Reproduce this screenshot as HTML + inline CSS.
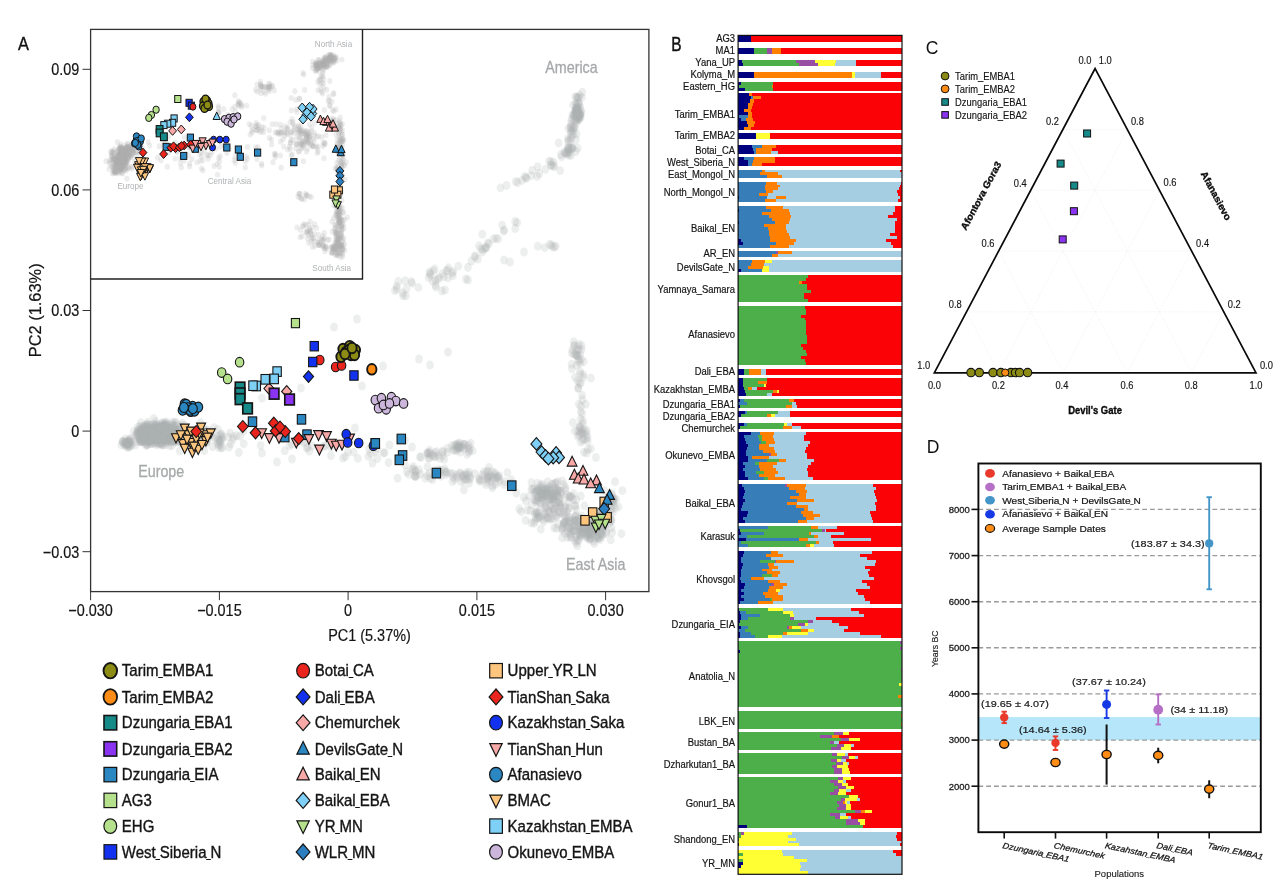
<!DOCTYPE html>
<html lang="en"><head><meta charset="utf-8"><title>Figure</title>
<style>
html,body{margin:0;padding:0;background:#fff;}
body{width:1284px;height:883px;overflow:hidden;font-family:"Liberation Sans",sans-serif;}
svg{display:block;font-family:"Liberation Sans",sans-serif;}
</style></head><body>
<svg width="1284" height="883" viewBox="0 0 1284 883">
<defs>
<filter id="soft" x="-5%" y="-5%" width="110%" height="110%"><feGaussianBlur stdDeviation="0.7"/></filter>
<filter id="soft2" x="-5%" y="-5%" width="110%" height="110%"><feGaussianBlur stdDeviation="0.5"/></filter>
</defs>
<rect width="1284" height="883" fill="#ffffff"/>
<g id="panelA">
<g fill="#abaeaf" fill-opacity="0.215" filter="url(#soft)">
<ellipse cx="154.8" cy="435.7" rx="3.9" ry="4.45"/>
<ellipse cx="155.1" cy="432.1" rx="3.9" ry="4.45"/>
<ellipse cx="149.1" cy="432.6" rx="3.9" ry="4.45"/>
<ellipse cx="166.5" cy="435.3" rx="3.9" ry="4.45"/>
<ellipse cx="165.8" cy="434.6" rx="3.9" ry="4.45"/>
<ellipse cx="160.4" cy="434.3" rx="3.9" ry="4.45"/>
<ellipse cx="142.8" cy="437.2" rx="3.9" ry="4.45"/>
<ellipse cx="161.3" cy="435.6" rx="3.9" ry="4.45"/>
<ellipse cx="142.6" cy="426.0" rx="3.9" ry="4.45"/>
<ellipse cx="149.4" cy="431.5" rx="3.9" ry="4.45"/>
<ellipse cx="159.6" cy="433.3" rx="3.9" ry="4.45"/>
<ellipse cx="161.4" cy="430.7" rx="3.9" ry="4.45"/>
<ellipse cx="159.6" cy="435.2" rx="3.9" ry="4.45"/>
<ellipse cx="151.4" cy="440.9" rx="3.9" ry="4.45"/>
<ellipse cx="161.7" cy="438.6" rx="3.9" ry="4.45"/>
<ellipse cx="151.7" cy="430.3" rx="3.9" ry="4.45"/>
<ellipse cx="154.1" cy="433.0" rx="3.9" ry="4.45"/>
<ellipse cx="162.4" cy="434.6" rx="3.9" ry="4.45"/>
<ellipse cx="153.2" cy="429.4" rx="3.9" ry="4.45"/>
<ellipse cx="152.6" cy="438.7" rx="3.9" ry="4.45"/>
<ellipse cx="150.1" cy="434.6" rx="3.9" ry="4.45"/>
<ellipse cx="160.6" cy="427.1" rx="3.9" ry="4.45"/>
<ellipse cx="157.4" cy="439.1" rx="3.9" ry="4.45"/>
<ellipse cx="139.9" cy="432.1" rx="3.9" ry="4.45"/>
<ellipse cx="156.1" cy="430.0" rx="3.9" ry="4.45"/>
<ellipse cx="161.2" cy="433.2" rx="3.9" ry="4.45"/>
<ellipse cx="144.6" cy="437.1" rx="3.9" ry="4.45"/>
<ellipse cx="162.7" cy="437.6" rx="3.9" ry="4.45"/>
<ellipse cx="169.2" cy="435.1" rx="3.9" ry="4.45"/>
<ellipse cx="158.0" cy="427.9" rx="3.9" ry="4.45"/>
<ellipse cx="162.2" cy="430.9" rx="3.9" ry="4.45"/>
<ellipse cx="153.2" cy="428.1" rx="3.9" ry="4.45"/>
<ellipse cx="148.8" cy="431.2" rx="3.9" ry="4.45"/>
<ellipse cx="168.0" cy="424.8" rx="3.9" ry="4.45"/>
<ellipse cx="144.6" cy="434.5" rx="3.9" ry="4.45"/>
<ellipse cx="169.3" cy="436.0" rx="3.9" ry="4.45"/>
<ellipse cx="140.9" cy="422.7" rx="3.9" ry="4.45"/>
<ellipse cx="160.0" cy="430.3" rx="3.9" ry="4.45"/>
<ellipse cx="147.5" cy="437.7" rx="3.9" ry="4.45"/>
<ellipse cx="166.4" cy="434.2" rx="3.9" ry="4.45"/>
<ellipse cx="159.1" cy="435.4" rx="3.9" ry="4.45"/>
<ellipse cx="170.5" cy="436.2" rx="3.9" ry="4.45"/>
<ellipse cx="161.4" cy="435.9" rx="3.9" ry="4.45"/>
<ellipse cx="143.7" cy="439.0" rx="3.9" ry="4.45"/>
<ellipse cx="165.1" cy="435.8" rx="3.9" ry="4.45"/>
<ellipse cx="140.2" cy="430.8" rx="3.9" ry="4.45"/>
<ellipse cx="164.2" cy="425.7" rx="3.9" ry="4.45"/>
<ellipse cx="155.4" cy="437.9" rx="3.9" ry="4.45"/>
<ellipse cx="145.9" cy="440.4" rx="3.9" ry="4.45"/>
<ellipse cx="161.7" cy="432.9" rx="3.9" ry="4.45"/>
<ellipse cx="159.8" cy="436.3" rx="3.9" ry="4.45"/>
<ellipse cx="158.0" cy="438.4" rx="3.9" ry="4.45"/>
<ellipse cx="151.4" cy="431.7" rx="3.9" ry="4.45"/>
<ellipse cx="165.9" cy="433.6" rx="3.9" ry="4.45"/>
<ellipse cx="149.5" cy="437.6" rx="3.9" ry="4.45"/>
<ellipse cx="169.5" cy="431.6" rx="3.9" ry="4.45"/>
<ellipse cx="145.3" cy="432.9" rx="3.9" ry="4.45"/>
<ellipse cx="155.7" cy="432.2" rx="3.9" ry="4.45"/>
<ellipse cx="168.9" cy="429.1" rx="3.9" ry="4.45"/>
<ellipse cx="167.7" cy="428.0" rx="3.9" ry="4.45"/>
<ellipse cx="150.3" cy="436.2" rx="3.9" ry="4.45"/>
<ellipse cx="166.6" cy="437.2" rx="3.9" ry="4.45"/>
<ellipse cx="159.9" cy="434.1" rx="3.9" ry="4.45"/>
<ellipse cx="158.3" cy="436.0" rx="3.9" ry="4.45"/>
<ellipse cx="155.5" cy="434.7" rx="3.9" ry="4.45"/>
<ellipse cx="161.9" cy="433.5" rx="3.9" ry="4.45"/>
<ellipse cx="163.5" cy="435.9" rx="3.9" ry="4.45"/>
<ellipse cx="174.1" cy="434.9" rx="3.9" ry="4.45"/>
<ellipse cx="153.4" cy="431.9" rx="3.9" ry="4.45"/>
<ellipse cx="156.9" cy="437.5" rx="3.9" ry="4.45"/>
<ellipse cx="154.1" cy="435.2" rx="3.9" ry="4.45"/>
<ellipse cx="172.6" cy="422.5" rx="3.9" ry="4.45"/>
<ellipse cx="147.4" cy="434.5" rx="3.9" ry="4.45"/>
<ellipse cx="160.4" cy="434.5" rx="3.9" ry="4.45"/>
<ellipse cx="153.3" cy="436.3" rx="3.9" ry="4.45"/>
<ellipse cx="159.4" cy="431.3" rx="3.9" ry="4.45"/>
<ellipse cx="177.7" cy="435.0" rx="3.9" ry="4.45"/>
<ellipse cx="152.3" cy="433.1" rx="3.9" ry="4.45"/>
<ellipse cx="155.1" cy="433.2" rx="3.9" ry="4.45"/>
<ellipse cx="133.8" cy="431.4" rx="3.9" ry="4.45"/>
<ellipse cx="165.6" cy="428.5" rx="3.9" ry="4.45"/>
<ellipse cx="156.4" cy="437.6" rx="3.9" ry="4.45"/>
<ellipse cx="164.3" cy="439.9" rx="3.9" ry="4.45"/>
<ellipse cx="142.5" cy="432.0" rx="3.9" ry="4.45"/>
<ellipse cx="154.1" cy="436.2" rx="3.9" ry="4.45"/>
<ellipse cx="166.3" cy="422.0" rx="3.9" ry="4.45"/>
<ellipse cx="166.3" cy="427.3" rx="3.9" ry="4.45"/>
<ellipse cx="162.8" cy="427.1" rx="3.9" ry="4.45"/>
<ellipse cx="158.5" cy="438.6" rx="3.9" ry="4.45"/>
<ellipse cx="155.7" cy="434.3" rx="3.9" ry="4.45"/>
<ellipse cx="163.8" cy="434.1" rx="3.9" ry="4.45"/>
<ellipse cx="156.2" cy="440.1" rx="3.9" ry="4.45"/>
<ellipse cx="165.9" cy="432.2" rx="3.9" ry="4.45"/>
<ellipse cx="180.3" cy="428.6" rx="3.9" ry="4.45"/>
<ellipse cx="164.8" cy="432.4" rx="3.9" ry="4.45"/>
<ellipse cx="158.1" cy="436.5" rx="3.9" ry="4.45"/>
<ellipse cx="158.9" cy="436.2" rx="3.9" ry="4.45"/>
<ellipse cx="144.0" cy="427.0" rx="3.9" ry="4.45"/>
<ellipse cx="162.2" cy="429.4" rx="3.9" ry="4.45"/>
<ellipse cx="148.3" cy="427.2" rx="3.9" ry="4.45"/>
<ellipse cx="167.8" cy="436.7" rx="3.9" ry="4.45"/>
<ellipse cx="169.5" cy="429.5" rx="3.9" ry="4.45"/>
<ellipse cx="157.0" cy="428.6" rx="3.9" ry="4.45"/>
<ellipse cx="163.5" cy="440.3" rx="3.9" ry="4.45"/>
<ellipse cx="149.4" cy="440.2" rx="3.9" ry="4.45"/>
<ellipse cx="165.4" cy="432.7" rx="3.9" ry="4.45"/>
<ellipse cx="140.2" cy="439.5" rx="3.9" ry="4.45"/>
<ellipse cx="156.2" cy="430.9" rx="3.9" ry="4.45"/>
<ellipse cx="160.4" cy="435.3" rx="3.9" ry="4.45"/>
<ellipse cx="169.7" cy="429.1" rx="3.9" ry="4.45"/>
<ellipse cx="166.7" cy="439.9" rx="3.9" ry="4.45"/>
<ellipse cx="169.3" cy="432.7" rx="3.9" ry="4.45"/>
<ellipse cx="150.7" cy="437.9" rx="3.9" ry="4.45"/>
<ellipse cx="158.0" cy="434.0" rx="3.9" ry="4.45"/>
<ellipse cx="169.1" cy="432.4" rx="3.9" ry="4.45"/>
<ellipse cx="137.5" cy="431.8" rx="3.9" ry="4.45"/>
<ellipse cx="141.2" cy="437.0" rx="3.9" ry="4.45"/>
<ellipse cx="159.7" cy="430.9" rx="3.9" ry="4.45"/>
<ellipse cx="156.9" cy="437.1" rx="3.9" ry="4.45"/>
<ellipse cx="157.7" cy="439.2" rx="3.9" ry="4.45"/>
<ellipse cx="156.5" cy="438.0" rx="3.9" ry="4.45"/>
<ellipse cx="169.7" cy="440.4" rx="3.9" ry="4.45"/>
<ellipse cx="151.3" cy="437.3" rx="3.9" ry="4.45"/>
<ellipse cx="141.1" cy="428.8" rx="3.9" ry="4.45"/>
<ellipse cx="140.3" cy="438.1" rx="3.9" ry="4.45"/>
<ellipse cx="146.5" cy="433.4" rx="3.9" ry="4.45"/>
<ellipse cx="155.4" cy="433.4" rx="3.9" ry="4.45"/>
<ellipse cx="152.0" cy="434.5" rx="3.9" ry="4.45"/>
<ellipse cx="172.2" cy="433.7" rx="3.9" ry="4.45"/>
<ellipse cx="161.5" cy="437.8" rx="3.9" ry="4.45"/>
<ellipse cx="155.3" cy="428.1" rx="3.9" ry="4.45"/>
<ellipse cx="152.3" cy="438.1" rx="3.9" ry="4.45"/>
<ellipse cx="143.0" cy="430.9" rx="3.9" ry="4.45"/>
<ellipse cx="165.6" cy="436.9" rx="3.9" ry="4.45"/>
<ellipse cx="157.1" cy="437.0" rx="3.9" ry="4.45"/>
<ellipse cx="158.4" cy="428.4" rx="3.9" ry="4.45"/>
<ellipse cx="143.7" cy="430.8" rx="3.9" ry="4.45"/>
<ellipse cx="164.8" cy="431.1" rx="3.9" ry="4.45"/>
<ellipse cx="149.3" cy="430.2" rx="3.9" ry="4.45"/>
<ellipse cx="144.0" cy="433.0" rx="3.9" ry="4.45"/>
<ellipse cx="147.0" cy="435.1" rx="3.9" ry="4.45"/>
<ellipse cx="136.9" cy="434.9" rx="3.9" ry="4.45"/>
<ellipse cx="151.5" cy="425.1" rx="3.9" ry="4.45"/>
<ellipse cx="163.2" cy="432.3" rx="3.9" ry="4.45"/>
<ellipse cx="138.0" cy="429.7" rx="3.9" ry="4.45"/>
<ellipse cx="159.5" cy="431.5" rx="3.9" ry="4.45"/>
<ellipse cx="163.6" cy="436.7" rx="3.9" ry="4.45"/>
<ellipse cx="162.7" cy="434.9" rx="3.9" ry="4.45"/>
<ellipse cx="168.3" cy="436.3" rx="3.9" ry="4.45"/>
<ellipse cx="160.8" cy="424.5" rx="3.9" ry="4.45"/>
<ellipse cx="164.6" cy="439.1" rx="3.9" ry="4.45"/>
<ellipse cx="154.5" cy="431.5" rx="3.9" ry="4.45"/>
<ellipse cx="173.5" cy="425.9" rx="3.9" ry="4.45"/>
<ellipse cx="161.0" cy="443.9" rx="3.9" ry="4.45"/>
<ellipse cx="149.1" cy="436.5" rx="3.9" ry="4.45"/>
<ellipse cx="173.0" cy="433.0" rx="3.9" ry="4.45"/>
<ellipse cx="161.8" cy="437.4" rx="3.9" ry="4.45"/>
<ellipse cx="149.3" cy="433.1" rx="3.9" ry="4.45"/>
<ellipse cx="159.5" cy="437.0" rx="3.9" ry="4.45"/>
<ellipse cx="156.7" cy="432.7" rx="3.9" ry="4.45"/>
<ellipse cx="148.4" cy="432.0" rx="3.9" ry="4.45"/>
<ellipse cx="164.6" cy="433.9" rx="3.9" ry="4.45"/>
<ellipse cx="149.7" cy="429.9" rx="3.9" ry="4.45"/>
<ellipse cx="179.7" cy="438.4" rx="3.9" ry="4.45"/>
<ellipse cx="162.4" cy="422.4" rx="3.9" ry="4.45"/>
<ellipse cx="162.3" cy="435.6" rx="3.9" ry="4.45"/>
<ellipse cx="171.3" cy="435.3" rx="3.9" ry="4.45"/>
<ellipse cx="156.4" cy="435.7" rx="3.9" ry="4.45"/>
<ellipse cx="140.5" cy="437.9" rx="3.9" ry="4.45"/>
<ellipse cx="159.8" cy="430.5" rx="3.9" ry="4.45"/>
<ellipse cx="168.3" cy="441.3" rx="3.9" ry="4.45"/>
<ellipse cx="145.1" cy="430.6" rx="3.9" ry="4.45"/>
<ellipse cx="159.5" cy="434.3" rx="3.9" ry="4.45"/>
<ellipse cx="153.6" cy="429.3" rx="3.9" ry="4.45"/>
<ellipse cx="175.0" cy="438.0" rx="3.9" ry="4.45"/>
<ellipse cx="146.8" cy="427.7" rx="3.9" ry="4.45"/>
<ellipse cx="171.5" cy="437.8" rx="3.9" ry="4.45"/>
<ellipse cx="172.5" cy="437.0" rx="3.9" ry="4.45"/>
<ellipse cx="149.6" cy="434.6" rx="3.9" ry="4.45"/>
<ellipse cx="138.6" cy="430.3" rx="3.9" ry="4.45"/>
<ellipse cx="156.5" cy="435.7" rx="3.9" ry="4.45"/>
<ellipse cx="150.8" cy="433.0" rx="3.9" ry="4.45"/>
<ellipse cx="160.9" cy="435.1" rx="3.9" ry="4.45"/>
<ellipse cx="162.4" cy="434.4" rx="3.9" ry="4.45"/>
<ellipse cx="154.2" cy="436.9" rx="3.9" ry="4.45"/>
<ellipse cx="157.4" cy="429.9" rx="3.9" ry="4.45"/>
<ellipse cx="151.7" cy="433.5" rx="3.9" ry="4.45"/>
<ellipse cx="156.1" cy="434.2" rx="3.9" ry="4.45"/>
<ellipse cx="157.0" cy="434.3" rx="3.9" ry="4.45"/>
<ellipse cx="155.9" cy="428.1" rx="3.9" ry="4.45"/>
<ellipse cx="160.6" cy="438.0" rx="3.9" ry="4.45"/>
<ellipse cx="160.7" cy="432.7" rx="3.9" ry="4.45"/>
<ellipse cx="160.8" cy="429.3" rx="3.9" ry="4.45"/>
<ellipse cx="140.9" cy="433.8" rx="3.9" ry="4.45"/>
<ellipse cx="149.1" cy="436.7" rx="3.9" ry="4.45"/>
<ellipse cx="147.8" cy="422.2" rx="3.9" ry="4.45"/>
<ellipse cx="148.2" cy="440.3" rx="3.9" ry="4.45"/>
<ellipse cx="153.8" cy="427.6" rx="3.9" ry="4.45"/>
<ellipse cx="150.5" cy="435.7" rx="3.9" ry="4.45"/>
<ellipse cx="161.2" cy="434.3" rx="3.9" ry="4.45"/>
<ellipse cx="169.6" cy="436.5" rx="3.9" ry="4.45"/>
<ellipse cx="156.8" cy="436.1" rx="3.9" ry="4.45"/>
<ellipse cx="171.1" cy="437.7" rx="3.9" ry="4.45"/>
<ellipse cx="165.7" cy="428.8" rx="3.9" ry="4.45"/>
<ellipse cx="155.7" cy="436.6" rx="3.9" ry="4.45"/>
<ellipse cx="154.5" cy="438.1" rx="3.9" ry="4.45"/>
<ellipse cx="162.1" cy="437.4" rx="3.9" ry="4.45"/>
<ellipse cx="155.2" cy="444.4" rx="3.9" ry="4.45"/>
<ellipse cx="167.5" cy="432.6" rx="3.9" ry="4.45"/>
<ellipse cx="157.8" cy="444.7" rx="3.9" ry="4.45"/>
<ellipse cx="154.1" cy="437.3" rx="3.9" ry="4.45"/>
<ellipse cx="165.3" cy="433.5" rx="3.9" ry="4.45"/>
<ellipse cx="147.1" cy="434.3" rx="3.9" ry="4.45"/>
<ellipse cx="160.1" cy="438.4" rx="3.9" ry="4.45"/>
<ellipse cx="163.7" cy="433.6" rx="3.9" ry="4.45"/>
<ellipse cx="164.3" cy="435.8" rx="3.9" ry="4.45"/>
<ellipse cx="158.8" cy="433.7" rx="3.9" ry="4.45"/>
<ellipse cx="154.9" cy="436.5" rx="3.9" ry="4.45"/>
<ellipse cx="148.0" cy="430.8" rx="3.9" ry="4.45"/>
<ellipse cx="157.0" cy="427.2" rx="3.9" ry="4.45"/>
<ellipse cx="153.3" cy="424.9" rx="3.9" ry="4.45"/>
<ellipse cx="151.2" cy="435.9" rx="3.9" ry="4.45"/>
<ellipse cx="161.8" cy="433.3" rx="3.9" ry="4.45"/>
<ellipse cx="155.0" cy="427.4" rx="3.9" ry="4.45"/>
<ellipse cx="172.5" cy="435.7" rx="3.9" ry="4.45"/>
<ellipse cx="166.3" cy="429.7" rx="3.9" ry="4.45"/>
<ellipse cx="155.4" cy="425.7" rx="3.9" ry="4.45"/>
<ellipse cx="163.6" cy="437.5" rx="3.9" ry="4.45"/>
<ellipse cx="140.9" cy="433.3" rx="3.9" ry="4.45"/>
<ellipse cx="162.4" cy="425.9" rx="3.9" ry="4.45"/>
<ellipse cx="141.5" cy="428.9" rx="3.9" ry="4.45"/>
<ellipse cx="151.7" cy="427.5" rx="3.9" ry="4.45"/>
<ellipse cx="157.3" cy="434.6" rx="3.9" ry="4.45"/>
<ellipse cx="162.4" cy="436.5" rx="3.9" ry="4.45"/>
<ellipse cx="169.8" cy="438.5" rx="3.9" ry="4.45"/>
<ellipse cx="145.8" cy="431.3" rx="3.9" ry="4.45"/>
<ellipse cx="148.0" cy="428.9" rx="3.9" ry="4.45"/>
<ellipse cx="156.3" cy="433.5" rx="3.9" ry="4.45"/>
<ellipse cx="161.2" cy="426.7" rx="3.9" ry="4.45"/>
<ellipse cx="146.5" cy="433.4" rx="3.9" ry="4.45"/>
<ellipse cx="155.3" cy="432.2" rx="3.9" ry="4.45"/>
<ellipse cx="156.5" cy="430.2" rx="3.9" ry="4.45"/>
<ellipse cx="163.0" cy="435.0" rx="3.9" ry="4.45"/>
<ellipse cx="156.3" cy="430.6" rx="3.9" ry="4.45"/>
<ellipse cx="155.5" cy="421.8" rx="3.9" ry="4.45"/>
<ellipse cx="148.7" cy="433.7" rx="3.9" ry="4.45"/>
<ellipse cx="144.2" cy="434.4" rx="3.9" ry="4.45"/>
<ellipse cx="158.3" cy="427.6" rx="3.9" ry="4.45"/>
<ellipse cx="154.9" cy="432.2" rx="3.9" ry="4.45"/>
<ellipse cx="160.9" cy="436.1" rx="3.9" ry="4.45"/>
<ellipse cx="156.7" cy="429.8" rx="3.9" ry="4.45"/>
<ellipse cx="155.8" cy="433.2" rx="3.9" ry="4.45"/>
<ellipse cx="163.2" cy="434.8" rx="3.9" ry="4.45"/>
<ellipse cx="150.9" cy="427.7" rx="3.9" ry="4.45"/>
<ellipse cx="153.8" cy="430.3" rx="3.9" ry="4.45"/>
<ellipse cx="147.5" cy="433.0" rx="3.9" ry="4.45"/>
<ellipse cx="152.8" cy="434.0" rx="3.9" ry="4.45"/>
<ellipse cx="161.4" cy="431.7" rx="3.9" ry="4.45"/>
<ellipse cx="176.8" cy="432.1" rx="3.9" ry="4.45"/>
<ellipse cx="166.4" cy="434.0" rx="3.9" ry="4.45"/>
<ellipse cx="166.5" cy="423.3" rx="3.9" ry="4.45"/>
<ellipse cx="150.6" cy="434.6" rx="3.9" ry="4.45"/>
<ellipse cx="162.1" cy="443.5" rx="3.9" ry="4.45"/>
<ellipse cx="159.7" cy="439.0" rx="3.9" ry="4.45"/>
<ellipse cx="163.5" cy="437.6" rx="3.9" ry="4.45"/>
<ellipse cx="161.3" cy="432.8" rx="3.9" ry="4.45"/>
<ellipse cx="161.3" cy="428.9" rx="3.9" ry="4.45"/>
<ellipse cx="167.0" cy="429.1" rx="3.9" ry="4.45"/>
<ellipse cx="159.1" cy="442.6" rx="3.9" ry="4.45"/>
<ellipse cx="155.1" cy="433.6" rx="3.9" ry="4.45"/>
<ellipse cx="166.9" cy="433.6" rx="3.9" ry="4.45"/>
<ellipse cx="150.1" cy="434.6" rx="3.9" ry="4.45"/>
<ellipse cx="161.9" cy="436.6" rx="3.9" ry="4.45"/>
<ellipse cx="150.4" cy="441.0" rx="3.9" ry="4.45"/>
<ellipse cx="171.2" cy="433.6" rx="3.9" ry="4.45"/>
<ellipse cx="159.3" cy="431.7" rx="3.9" ry="4.45"/>
<ellipse cx="169.0" cy="430.5" rx="3.9" ry="4.45"/>
<ellipse cx="162.7" cy="431.4" rx="3.9" ry="4.45"/>
<ellipse cx="151.1" cy="436.6" rx="3.9" ry="4.45"/>
<ellipse cx="168.3" cy="433.5" rx="3.9" ry="4.45"/>
<ellipse cx="151.2" cy="437.0" rx="3.9" ry="4.45"/>
<ellipse cx="156.6" cy="434.8" rx="3.9" ry="4.45"/>
<ellipse cx="169.9" cy="438.4" rx="3.9" ry="4.45"/>
<ellipse cx="152.6" cy="443.3" rx="3.9" ry="4.45"/>
<ellipse cx="157.0" cy="436.9" rx="3.9" ry="4.45"/>
<ellipse cx="151.5" cy="433.3" rx="3.9" ry="4.45"/>
<ellipse cx="142.1" cy="441.2" rx="3.9" ry="4.45"/>
<ellipse cx="168.6" cy="428.3" rx="3.9" ry="4.45"/>
<ellipse cx="144.2" cy="426.5" rx="3.9" ry="4.45"/>
<ellipse cx="167.0" cy="431.5" rx="3.9" ry="4.45"/>
<ellipse cx="156.5" cy="432.2" rx="3.9" ry="4.45"/>
<ellipse cx="156.0" cy="428.8" rx="3.9" ry="4.45"/>
<ellipse cx="157.2" cy="427.3" rx="3.9" ry="4.45"/>
<ellipse cx="156.4" cy="434.8" rx="3.9" ry="4.45"/>
<ellipse cx="161.0" cy="432.5" rx="3.9" ry="4.45"/>
<ellipse cx="149.3" cy="434.2" rx="3.9" ry="4.45"/>
<ellipse cx="152.9" cy="440.2" rx="3.9" ry="4.45"/>
<ellipse cx="163.5" cy="433.0" rx="3.9" ry="4.45"/>
<ellipse cx="153.0" cy="430.5" rx="3.9" ry="4.45"/>
<ellipse cx="149.0" cy="432.0" rx="3.9" ry="4.45"/>
<ellipse cx="159.5" cy="435.7" rx="3.9" ry="4.45"/>
<ellipse cx="161.8" cy="442.5" rx="3.9" ry="4.45"/>
<ellipse cx="151.0" cy="433.6" rx="3.9" ry="4.45"/>
<ellipse cx="180.8" cy="425.5" rx="3.9" ry="4.45"/>
<ellipse cx="152.6" cy="434.2" rx="3.9" ry="4.45"/>
<ellipse cx="158.3" cy="435.3" rx="3.9" ry="4.45"/>
<ellipse cx="155.0" cy="435.1" rx="3.9" ry="4.45"/>
<ellipse cx="157.4" cy="436.8" rx="3.9" ry="4.45"/>
<ellipse cx="140.9" cy="429.7" rx="3.9" ry="4.45"/>
<ellipse cx="157.0" cy="429.1" rx="3.9" ry="4.45"/>
<ellipse cx="148.1" cy="436.2" rx="3.9" ry="4.45"/>
<ellipse cx="151.5" cy="436.2" rx="3.9" ry="4.45"/>
<ellipse cx="163.3" cy="434.8" rx="3.9" ry="4.45"/>
<ellipse cx="161.3" cy="433.1" rx="3.9" ry="4.45"/>
<ellipse cx="145.0" cy="433.4" rx="3.9" ry="4.45"/>
<ellipse cx="160.9" cy="431.2" rx="3.9" ry="4.45"/>
<ellipse cx="156.2" cy="436.7" rx="3.9" ry="4.45"/>
<ellipse cx="149.5" cy="436.3" rx="3.9" ry="4.45"/>
<ellipse cx="172.8" cy="431.1" rx="3.9" ry="4.45"/>
<ellipse cx="158.2" cy="432.9" rx="3.9" ry="4.45"/>
<ellipse cx="170.1" cy="434.9" rx="3.9" ry="4.45"/>
<ellipse cx="164.6" cy="430.5" rx="3.9" ry="4.45"/>
<ellipse cx="156.9" cy="433.5" rx="3.9" ry="4.45"/>
<ellipse cx="141.9" cy="439.7" rx="3.9" ry="4.45"/>
<ellipse cx="164.6" cy="426.0" rx="3.9" ry="4.45"/>
<ellipse cx="163.3" cy="432.9" rx="3.9" ry="4.45"/>
<ellipse cx="160.8" cy="435.1" rx="3.9" ry="4.45"/>
<ellipse cx="144.3" cy="432.6" rx="3.9" ry="4.45"/>
<ellipse cx="169.7" cy="431.0" rx="3.9" ry="4.45"/>
<ellipse cx="148.3" cy="427.7" rx="3.9" ry="4.45"/>
<ellipse cx="146.6" cy="434.9" rx="3.9" ry="4.45"/>
<ellipse cx="171.4" cy="435.3" rx="3.9" ry="4.45"/>
<ellipse cx="159.1" cy="443.1" rx="3.9" ry="4.45"/>
<ellipse cx="152.6" cy="430.6" rx="3.9" ry="4.45"/>
<ellipse cx="161.5" cy="435.9" rx="3.9" ry="4.45"/>
<ellipse cx="148.4" cy="428.5" rx="3.9" ry="4.45"/>
<ellipse cx="159.5" cy="434.6" rx="3.9" ry="4.45"/>
<ellipse cx="145.9" cy="432.6" rx="3.9" ry="4.45"/>
<ellipse cx="152.4" cy="435.5" rx="3.9" ry="4.45"/>
<ellipse cx="156.0" cy="433.1" rx="3.9" ry="4.45"/>
<ellipse cx="154.0" cy="438.0" rx="3.9" ry="4.45"/>
<ellipse cx="168.8" cy="431.9" rx="3.9" ry="4.45"/>
<ellipse cx="164.2" cy="430.2" rx="3.9" ry="4.45"/>
<ellipse cx="157.6" cy="436.7" rx="3.9" ry="4.45"/>
<ellipse cx="169.9" cy="431.9" rx="3.9" ry="4.45"/>
<ellipse cx="156.4" cy="434.3" rx="3.9" ry="4.45"/>
<ellipse cx="144.3" cy="433.6" rx="3.9" ry="4.45"/>
<ellipse cx="151.3" cy="435.1" rx="3.9" ry="4.45"/>
<ellipse cx="147.4" cy="425.0" rx="3.9" ry="4.45"/>
<ellipse cx="157.3" cy="434.6" rx="3.9" ry="4.45"/>
<ellipse cx="152.3" cy="437.3" rx="3.9" ry="4.45"/>
<ellipse cx="154.7" cy="430.9" rx="3.9" ry="4.45"/>
<ellipse cx="161.1" cy="426.8" rx="3.9" ry="4.45"/>
<ellipse cx="151.2" cy="433.4" rx="3.9" ry="4.45"/>
<ellipse cx="164.2" cy="432.8" rx="3.9" ry="4.45"/>
<ellipse cx="159.6" cy="430.7" rx="3.9" ry="4.45"/>
<ellipse cx="159.6" cy="440.7" rx="3.9" ry="4.45"/>
<ellipse cx="151.2" cy="443.7" rx="3.9" ry="4.45"/>
<ellipse cx="151.5" cy="433.6" rx="3.9" ry="4.45"/>
<ellipse cx="158.5" cy="437.9" rx="3.9" ry="4.45"/>
<ellipse cx="146.5" cy="424.5" rx="3.9" ry="4.45"/>
<ellipse cx="162.2" cy="436.9" rx="3.9" ry="4.45"/>
<ellipse cx="162.3" cy="444.8" rx="3.9" ry="4.45"/>
<ellipse cx="158.7" cy="434.6" rx="3.9" ry="4.45"/>
<ellipse cx="164.9" cy="435.1" rx="3.9" ry="4.45"/>
<ellipse cx="171.1" cy="428.2" rx="3.9" ry="4.45"/>
<ellipse cx="153.8" cy="418.7" rx="3.9" ry="4.45"/>
<ellipse cx="163.9" cy="431.9" rx="3.9" ry="4.45"/>
<ellipse cx="164.9" cy="442.8" rx="3.9" ry="4.45"/>
<ellipse cx="156.9" cy="432.4" rx="3.9" ry="4.45"/>
<ellipse cx="152.8" cy="429.9" rx="3.9" ry="4.45"/>
<ellipse cx="151.6" cy="436.2" rx="3.9" ry="4.45"/>
<ellipse cx="157.3" cy="433.8" rx="3.9" ry="4.45"/>
<ellipse cx="155.5" cy="437.4" rx="3.9" ry="4.45"/>
<ellipse cx="161.2" cy="432.9" rx="3.9" ry="4.45"/>
<ellipse cx="162.7" cy="432.8" rx="3.9" ry="4.45"/>
<ellipse cx="147.2" cy="439.8" rx="3.9" ry="4.45"/>
<ellipse cx="161.0" cy="429.4" rx="3.9" ry="4.45"/>
<ellipse cx="166.2" cy="435.0" rx="3.9" ry="4.45"/>
<ellipse cx="143.7" cy="440.4" rx="3.9" ry="4.45"/>
<ellipse cx="159.8" cy="437.3" rx="3.9" ry="4.45"/>
<ellipse cx="158.7" cy="432.9" rx="3.9" ry="4.45"/>
<ellipse cx="143.8" cy="437.7" rx="3.9" ry="4.45"/>
<ellipse cx="157.3" cy="432.3" rx="3.9" ry="4.45"/>
<ellipse cx="160.0" cy="433.8" rx="3.9" ry="4.45"/>
<ellipse cx="162.7" cy="431.9" rx="3.9" ry="4.45"/>
<ellipse cx="156.7" cy="424.3" rx="3.9" ry="4.45"/>
<ellipse cx="153.4" cy="436.4" rx="3.9" ry="4.45"/>
<ellipse cx="168.4" cy="431.9" rx="3.9" ry="4.45"/>
<ellipse cx="156.0" cy="440.3" rx="3.9" ry="4.45"/>
<ellipse cx="154.2" cy="436.7" rx="3.9" ry="4.45"/>
<ellipse cx="171.3" cy="433.7" rx="3.9" ry="4.45"/>
<ellipse cx="167.4" cy="430.4" rx="3.9" ry="4.45"/>
<ellipse cx="158.8" cy="433.2" rx="3.9" ry="4.45"/>
<ellipse cx="158.0" cy="438.4" rx="3.9" ry="4.45"/>
<ellipse cx="177.3" cy="430.6" rx="3.9" ry="4.45"/>
<ellipse cx="152.1" cy="435.6" rx="3.9" ry="4.45"/>
<ellipse cx="148.0" cy="435.6" rx="3.9" ry="4.45"/>
<ellipse cx="161.9" cy="432.3" rx="3.9" ry="4.45"/>
<ellipse cx="161.5" cy="426.8" rx="3.9" ry="4.45"/>
<ellipse cx="163.5" cy="426.9" rx="3.9" ry="4.45"/>
<ellipse cx="151.1" cy="431.1" rx="3.9" ry="4.45"/>
<ellipse cx="153.6" cy="437.2" rx="3.9" ry="4.45"/>
<ellipse cx="157.7" cy="431.8" rx="3.9" ry="4.45"/>
<ellipse cx="161.6" cy="440.3" rx="3.9" ry="4.45"/>
<ellipse cx="157.1" cy="435.1" rx="3.9" ry="4.45"/>
<ellipse cx="167.5" cy="434.7" rx="3.9" ry="4.45"/>
<ellipse cx="146.1" cy="444.2" rx="3.9" ry="4.45"/>
<ellipse cx="175.8" cy="425.0" rx="3.9" ry="4.45"/>
<ellipse cx="156.7" cy="435.3" rx="3.9" ry="4.45"/>
<ellipse cx="165.2" cy="436.4" rx="3.9" ry="4.45"/>
<ellipse cx="154.7" cy="429.0" rx="3.9" ry="4.45"/>
<ellipse cx="157.9" cy="437.9" rx="3.9" ry="4.45"/>
<ellipse cx="147.7" cy="429.1" rx="3.9" ry="4.45"/>
<ellipse cx="156.8" cy="425.2" rx="3.9" ry="4.45"/>
<ellipse cx="154.8" cy="431.6" rx="3.9" ry="4.45"/>
<ellipse cx="160.8" cy="430.5" rx="3.9" ry="4.45"/>
<ellipse cx="149.5" cy="431.8" rx="3.9" ry="4.45"/>
<ellipse cx="156.6" cy="430.6" rx="3.9" ry="4.45"/>
<ellipse cx="157.1" cy="436.7" rx="3.9" ry="4.45"/>
<ellipse cx="167.1" cy="440.8" rx="3.9" ry="4.45"/>
<ellipse cx="150.3" cy="431.7" rx="3.9" ry="4.45"/>
<ellipse cx="135.9" cy="441.7" rx="3.9" ry="4.45"/>
<ellipse cx="150.8" cy="433.4" rx="3.9" ry="4.45"/>
<ellipse cx="161.4" cy="427.7" rx="3.9" ry="4.45"/>
<ellipse cx="160.9" cy="433.4" rx="3.9" ry="4.45"/>
<ellipse cx="141.5" cy="434.8" rx="3.9" ry="4.45"/>
<ellipse cx="167.2" cy="425.5" rx="3.9" ry="4.45"/>
<ellipse cx="163.9" cy="434.4" rx="3.9" ry="4.45"/>
<ellipse cx="161.0" cy="435.4" rx="3.9" ry="4.45"/>
<ellipse cx="168.1" cy="432.5" rx="3.9" ry="4.45"/>
<ellipse cx="164.4" cy="431.7" rx="3.9" ry="4.45"/>
<ellipse cx="163.2" cy="430.0" rx="3.9" ry="4.45"/>
<ellipse cx="156.1" cy="440.9" rx="3.9" ry="4.45"/>
<ellipse cx="160.8" cy="432.8" rx="3.9" ry="4.45"/>
<ellipse cx="147.3" cy="430.1" rx="3.9" ry="4.45"/>
<ellipse cx="158.6" cy="437.5" rx="3.9" ry="4.45"/>
<ellipse cx="160.6" cy="435.8" rx="3.9" ry="4.45"/>
<ellipse cx="156.6" cy="439.3" rx="3.9" ry="4.45"/>
<ellipse cx="153.7" cy="431.1" rx="3.9" ry="4.45"/>
<ellipse cx="164.5" cy="433.8" rx="3.9" ry="4.45"/>
<ellipse cx="154.6" cy="431.0" rx="3.9" ry="4.45"/>
<ellipse cx="154.8" cy="436.2" rx="3.9" ry="4.45"/>
<ellipse cx="160.0" cy="428.3" rx="3.9" ry="4.45"/>
<ellipse cx="160.6" cy="434.3" rx="3.9" ry="4.45"/>
<ellipse cx="148.5" cy="436.8" rx="3.9" ry="4.45"/>
<ellipse cx="154.6" cy="432.1" rx="3.9" ry="4.45"/>
<ellipse cx="163.8" cy="439.2" rx="3.9" ry="4.45"/>
<ellipse cx="151.1" cy="435.4" rx="3.9" ry="4.45"/>
<ellipse cx="149.6" cy="443.5" rx="3.9" ry="4.45"/>
<ellipse cx="152.8" cy="438.6" rx="3.9" ry="4.45"/>
<ellipse cx="151.5" cy="437.0" rx="3.9" ry="4.45"/>
<ellipse cx="175.9" cy="422.6" rx="3.9" ry="4.45"/>
<ellipse cx="153.3" cy="435.7" rx="3.9" ry="4.45"/>
<ellipse cx="156.2" cy="430.6" rx="3.9" ry="4.45"/>
<ellipse cx="175.3" cy="433.8" rx="3.9" ry="4.45"/>
<ellipse cx="143.0" cy="437.2" rx="3.9" ry="4.45"/>
<ellipse cx="142.4" cy="438.4" rx="3.9" ry="4.45"/>
<ellipse cx="152.1" cy="434.1" rx="3.9" ry="4.45"/>
<ellipse cx="167.7" cy="434.0" rx="3.9" ry="4.45"/>
<ellipse cx="145.2" cy="426.2" rx="3.9" ry="4.45"/>
<ellipse cx="167.1" cy="436.7" rx="3.9" ry="4.45"/>
<ellipse cx="150.1" cy="437.2" rx="3.9" ry="4.45"/>
<ellipse cx="161.2" cy="436.3" rx="3.9" ry="4.45"/>
<ellipse cx="137.8" cy="432.2" rx="3.9" ry="4.45"/>
<ellipse cx="164.7" cy="436.7" rx="3.9" ry="4.45"/>
<ellipse cx="164.5" cy="422.9" rx="3.9" ry="4.45"/>
<ellipse cx="158.4" cy="435.6" rx="3.9" ry="4.45"/>
<ellipse cx="178.7" cy="429.4" rx="3.9" ry="4.45"/>
<ellipse cx="154.2" cy="433.7" rx="3.9" ry="4.45"/>
<ellipse cx="164.5" cy="431.6" rx="3.9" ry="4.45"/>
<ellipse cx="166.8" cy="430.1" rx="3.9" ry="4.45"/>
<ellipse cx="159.3" cy="431.2" rx="3.9" ry="4.45"/>
<ellipse cx="158.3" cy="430.5" rx="3.9" ry="4.45"/>
<ellipse cx="143.4" cy="438.2" rx="3.9" ry="4.45"/>
<ellipse cx="159.6" cy="431.1" rx="3.9" ry="4.45"/>
<ellipse cx="158.7" cy="437.8" rx="3.9" ry="4.45"/>
<ellipse cx="148.7" cy="433.0" rx="3.9" ry="4.45"/>
<ellipse cx="161.6" cy="435.8" rx="3.9" ry="4.45"/>
<ellipse cx="154.1" cy="424.4" rx="3.9" ry="4.45"/>
<ellipse cx="167.6" cy="434.9" rx="3.9" ry="4.45"/>
<ellipse cx="157.1" cy="432.3" rx="3.9" ry="4.45"/>
<ellipse cx="159.2" cy="431.7" rx="3.9" ry="4.45"/>
<ellipse cx="148.3" cy="430.3" rx="3.9" ry="4.45"/>
<ellipse cx="151.9" cy="430.9" rx="3.9" ry="4.45"/>
<ellipse cx="147.2" cy="436.2" rx="3.9" ry="4.45"/>
<ellipse cx="145.9" cy="436.3" rx="3.9" ry="4.45"/>
<ellipse cx="148.4" cy="435.0" rx="3.9" ry="4.45"/>
<ellipse cx="168.7" cy="434.4" rx="3.9" ry="4.45"/>
<ellipse cx="150.8" cy="433.7" rx="3.9" ry="4.45"/>
<ellipse cx="158.3" cy="426.0" rx="3.9" ry="4.45"/>
<ellipse cx="151.8" cy="434.2" rx="3.9" ry="4.45"/>
<ellipse cx="153.0" cy="433.8" rx="3.9" ry="4.45"/>
<ellipse cx="163.2" cy="436.8" rx="3.9" ry="4.45"/>
<ellipse cx="164.7" cy="436.0" rx="3.9" ry="4.45"/>
<ellipse cx="154.6" cy="433.4" rx="3.9" ry="4.45"/>
<ellipse cx="154.7" cy="432.2" rx="3.9" ry="4.45"/>
<ellipse cx="155.5" cy="426.1" rx="3.9" ry="4.45"/>
<ellipse cx="154.2" cy="433.4" rx="3.9" ry="4.45"/>
<ellipse cx="148.7" cy="433.4" rx="3.9" ry="4.45"/>
<ellipse cx="161.4" cy="432.8" rx="3.9" ry="4.45"/>
<ellipse cx="174.7" cy="422.3" rx="3.9" ry="4.45"/>
<ellipse cx="155.2" cy="425.7" rx="3.9" ry="4.45"/>
<ellipse cx="165.3" cy="444.9" rx="3.9" ry="4.45"/>
<ellipse cx="135.7" cy="434.1" rx="3.9" ry="4.45"/>
<ellipse cx="161.4" cy="432.2" rx="3.9" ry="4.45"/>
<ellipse cx="161.7" cy="423.9" rx="3.9" ry="4.45"/>
<ellipse cx="164.2" cy="435.1" rx="3.9" ry="4.45"/>
<ellipse cx="157.2" cy="431.0" rx="3.9" ry="4.45"/>
<ellipse cx="162.4" cy="431.4" rx="3.9" ry="4.45"/>
<ellipse cx="158.9" cy="431.3" rx="3.9" ry="4.45"/>
<ellipse cx="137.9" cy="433.4" rx="3.9" ry="4.45"/>
<ellipse cx="158.7" cy="436.7" rx="3.9" ry="4.45"/>
<ellipse cx="149.6" cy="433.4" rx="3.9" ry="4.45"/>
<ellipse cx="162.2" cy="434.1" rx="3.9" ry="4.45"/>
<ellipse cx="167.6" cy="442.1" rx="3.9" ry="4.45"/>
<ellipse cx="149.3" cy="425.2" rx="3.9" ry="4.45"/>
<ellipse cx="164.3" cy="440.1" rx="3.9" ry="4.45"/>
<ellipse cx="164.8" cy="437.0" rx="3.9" ry="4.45"/>
<ellipse cx="151.7" cy="430.4" rx="3.9" ry="4.45"/>
<ellipse cx="151.4" cy="432.4" rx="3.9" ry="4.45"/>
<ellipse cx="137.9" cy="432.0" rx="3.9" ry="4.45"/>
<ellipse cx="159.5" cy="443.7" rx="3.9" ry="4.45"/>
<ellipse cx="143.6" cy="433.1" rx="3.9" ry="4.45"/>
<ellipse cx="148.2" cy="433.0" rx="3.9" ry="4.45"/>
<ellipse cx="153.6" cy="435.7" rx="3.9" ry="4.45"/>
<ellipse cx="141.6" cy="441.2" rx="3.9" ry="4.45"/>
<ellipse cx="144.1" cy="436.9" rx="3.9" ry="4.45"/>
<ellipse cx="146.9" cy="434.7" rx="3.9" ry="4.45"/>
<ellipse cx="148.6" cy="433.2" rx="3.9" ry="4.45"/>
<ellipse cx="137.8" cy="427.2" rx="3.9" ry="4.45"/>
<ellipse cx="140.7" cy="433.0" rx="3.9" ry="4.45"/>
<ellipse cx="146.9" cy="436.2" rx="3.9" ry="4.45"/>
<ellipse cx="149.8" cy="436.5" rx="3.9" ry="4.45"/>
<ellipse cx="143.0" cy="433.2" rx="3.9" ry="4.45"/>
<ellipse cx="136.4" cy="435.3" rx="3.9" ry="4.45"/>
<ellipse cx="149.4" cy="438.1" rx="3.9" ry="4.45"/>
<ellipse cx="146.4" cy="435.3" rx="3.9" ry="4.45"/>
<ellipse cx="151.7" cy="436.1" rx="3.9" ry="4.45"/>
<ellipse cx="150.7" cy="438.3" rx="3.9" ry="4.45"/>
<ellipse cx="148.1" cy="441.2" rx="3.9" ry="4.45"/>
<ellipse cx="144.1" cy="434.6" rx="3.9" ry="4.45"/>
<ellipse cx="143.0" cy="432.8" rx="3.9" ry="4.45"/>
<ellipse cx="154.8" cy="443.0" rx="3.9" ry="4.45"/>
<ellipse cx="147.1" cy="438.3" rx="3.9" ry="4.45"/>
<ellipse cx="152.9" cy="439.2" rx="3.9" ry="4.45"/>
<ellipse cx="153.0" cy="430.9" rx="3.9" ry="4.45"/>
<ellipse cx="143.8" cy="437.8" rx="3.9" ry="4.45"/>
<ellipse cx="154.2" cy="436.4" rx="3.9" ry="4.45"/>
<ellipse cx="142.7" cy="434.6" rx="3.9" ry="4.45"/>
<ellipse cx="143.7" cy="432.6" rx="3.9" ry="4.45"/>
<ellipse cx="154.5" cy="433.5" rx="3.9" ry="4.45"/>
<ellipse cx="147.1" cy="444.6" rx="3.9" ry="4.45"/>
<ellipse cx="152.9" cy="437.3" rx="3.9" ry="4.45"/>
<ellipse cx="143.9" cy="437.6" rx="3.9" ry="4.45"/>
<ellipse cx="155.1" cy="438.5" rx="3.9" ry="4.45"/>
<ellipse cx="153.3" cy="436.4" rx="3.9" ry="4.45"/>
<ellipse cx="149.6" cy="435.2" rx="3.9" ry="4.45"/>
<ellipse cx="149.1" cy="441.2" rx="3.9" ry="4.45"/>
<ellipse cx="139.8" cy="435.7" rx="3.9" ry="4.45"/>
<ellipse cx="148.2" cy="433.7" rx="3.9" ry="4.45"/>
<ellipse cx="145.5" cy="439.1" rx="3.9" ry="4.45"/>
<ellipse cx="157.0" cy="438.5" rx="3.9" ry="4.45"/>
<ellipse cx="148.6" cy="429.8" rx="3.9" ry="4.45"/>
<ellipse cx="156.6" cy="436.3" rx="3.9" ry="4.45"/>
<ellipse cx="146.8" cy="431.5" rx="3.9" ry="4.45"/>
<ellipse cx="146.7" cy="431.6" rx="3.9" ry="4.45"/>
<ellipse cx="147.4" cy="437.9" rx="3.9" ry="4.45"/>
<ellipse cx="147.2" cy="437.1" rx="3.9" ry="4.45"/>
<ellipse cx="142.7" cy="441.7" rx="3.9" ry="4.45"/>
<ellipse cx="143.7" cy="428.7" rx="3.9" ry="4.45"/>
<ellipse cx="146.1" cy="432.9" rx="3.9" ry="4.45"/>
<ellipse cx="142.0" cy="434.6" rx="3.9" ry="4.45"/>
<ellipse cx="148.5" cy="431.3" rx="3.9" ry="4.45"/>
<ellipse cx="146.3" cy="441.7" rx="3.9" ry="4.45"/>
<ellipse cx="150.4" cy="435.4" rx="3.9" ry="4.45"/>
<ellipse cx="147.6" cy="435.5" rx="3.9" ry="4.45"/>
<ellipse cx="146.8" cy="438.9" rx="3.9" ry="4.45"/>
<ellipse cx="146.5" cy="426.4" rx="3.9" ry="4.45"/>
<ellipse cx="146.9" cy="432.4" rx="3.9" ry="4.45"/>
<ellipse cx="150.3" cy="433.6" rx="3.9" ry="4.45"/>
<ellipse cx="147.7" cy="444.7" rx="3.9" ry="4.45"/>
<ellipse cx="141.8" cy="431.5" rx="3.9" ry="4.45"/>
<ellipse cx="139.9" cy="426.4" rx="3.9" ry="4.45"/>
<ellipse cx="137.6" cy="437.5" rx="3.9" ry="4.45"/>
<ellipse cx="143.8" cy="428.5" rx="3.9" ry="4.45"/>
<ellipse cx="139.6" cy="438.5" rx="3.9" ry="4.45"/>
<ellipse cx="143.1" cy="434.5" rx="3.9" ry="4.45"/>
<ellipse cx="148.7" cy="441.4" rx="3.9" ry="4.45"/>
<ellipse cx="156.7" cy="440.1" rx="3.9" ry="4.45"/>
<ellipse cx="147.7" cy="436.7" rx="3.9" ry="4.45"/>
<ellipse cx="156.0" cy="441.7" rx="3.9" ry="4.45"/>
<ellipse cx="145.4" cy="437.8" rx="3.9" ry="4.45"/>
<ellipse cx="148.4" cy="436.2" rx="3.9" ry="4.45"/>
<ellipse cx="144.5" cy="430.7" rx="3.9" ry="4.45"/>
<ellipse cx="144.3" cy="429.8" rx="3.9" ry="4.45"/>
<ellipse cx="153.1" cy="438.1" rx="3.9" ry="4.45"/>
<ellipse cx="141.0" cy="441.6" rx="3.9" ry="4.45"/>
<ellipse cx="151.5" cy="428.4" rx="3.9" ry="4.45"/>
<ellipse cx="156.2" cy="439.2" rx="3.9" ry="4.45"/>
<ellipse cx="157.3" cy="431.1" rx="3.9" ry="4.45"/>
<ellipse cx="149.7" cy="437.7" rx="3.9" ry="4.45"/>
<ellipse cx="148.0" cy="436.7" rx="3.9" ry="4.45"/>
<ellipse cx="152.3" cy="430.0" rx="3.9" ry="4.45"/>
<ellipse cx="140.8" cy="430.4" rx="3.9" ry="4.45"/>
<ellipse cx="144.2" cy="433.6" rx="3.9" ry="4.45"/>
<ellipse cx="148.8" cy="437.1" rx="3.9" ry="4.45"/>
<ellipse cx="147.2" cy="433.3" rx="3.9" ry="4.45"/>
<ellipse cx="144.8" cy="439.8" rx="3.9" ry="4.45"/>
<ellipse cx="150.8" cy="436.4" rx="3.9" ry="4.45"/>
<ellipse cx="145.4" cy="442.2" rx="3.9" ry="4.45"/>
<ellipse cx="144.0" cy="438.6" rx="3.9" ry="4.45"/>
<ellipse cx="152.8" cy="434.9" rx="3.9" ry="4.45"/>
<ellipse cx="151.1" cy="431.5" rx="3.9" ry="4.45"/>
<ellipse cx="152.1" cy="436.8" rx="3.9" ry="4.45"/>
<ellipse cx="139.1" cy="438.7" rx="3.9" ry="4.45"/>
<ellipse cx="142.5" cy="441.1" rx="3.9" ry="4.45"/>
<ellipse cx="143.6" cy="435.3" rx="3.9" ry="4.45"/>
<ellipse cx="148.4" cy="434.7" rx="3.9" ry="4.45"/>
<ellipse cx="148.3" cy="433.8" rx="3.9" ry="4.45"/>
<ellipse cx="150.4" cy="436.0" rx="3.9" ry="4.45"/>
<ellipse cx="148.1" cy="425.0" rx="3.9" ry="4.45"/>
<ellipse cx="152.8" cy="436.1" rx="3.9" ry="4.45"/>
<ellipse cx="138.1" cy="436.4" rx="3.9" ry="4.45"/>
<ellipse cx="149.3" cy="440.3" rx="3.9" ry="4.45"/>
<ellipse cx="141.6" cy="442.2" rx="3.9" ry="4.45"/>
<ellipse cx="146.2" cy="445.6" rx="3.9" ry="4.45"/>
<ellipse cx="146.3" cy="438.7" rx="3.9" ry="4.45"/>
<ellipse cx="145.2" cy="431.5" rx="3.9" ry="4.45"/>
<ellipse cx="152.5" cy="439.6" rx="3.9" ry="4.45"/>
<ellipse cx="154.7" cy="439.4" rx="3.9" ry="4.45"/>
<ellipse cx="144.1" cy="429.4" rx="3.9" ry="4.45"/>
<ellipse cx="143.7" cy="433.3" rx="3.9" ry="4.45"/>
<ellipse cx="142.9" cy="438.3" rx="3.9" ry="4.45"/>
<ellipse cx="148.6" cy="434.9" rx="3.9" ry="4.45"/>
<ellipse cx="147.9" cy="435.4" rx="3.9" ry="4.45"/>
<ellipse cx="148.1" cy="439.0" rx="3.9" ry="4.45"/>
<ellipse cx="151.8" cy="433.3" rx="3.9" ry="4.45"/>
<ellipse cx="139.5" cy="441.7" rx="3.9" ry="4.45"/>
<ellipse cx="147.6" cy="440.4" rx="3.9" ry="4.45"/>
<ellipse cx="138.8" cy="434.7" rx="3.9" ry="4.45"/>
<ellipse cx="147.1" cy="430.2" rx="3.9" ry="4.45"/>
<ellipse cx="144.4" cy="438.9" rx="3.9" ry="4.45"/>
<ellipse cx="152.4" cy="442.4" rx="3.9" ry="4.45"/>
<ellipse cx="142.7" cy="430.4" rx="3.9" ry="4.45"/>
<ellipse cx="149.6" cy="439.8" rx="3.9" ry="4.45"/>
<ellipse cx="148.0" cy="430.8" rx="3.9" ry="4.45"/>
<ellipse cx="150.9" cy="439.2" rx="3.9" ry="4.45"/>
<ellipse cx="149.8" cy="434.1" rx="3.9" ry="4.45"/>
<ellipse cx="148.5" cy="439.2" rx="3.9" ry="4.45"/>
<ellipse cx="144.2" cy="428.6" rx="3.9" ry="4.45"/>
<ellipse cx="148.6" cy="437.9" rx="3.9" ry="4.45"/>
<ellipse cx="147.1" cy="439.6" rx="3.9" ry="4.45"/>
<ellipse cx="144.1" cy="435.7" rx="3.9" ry="4.45"/>
<ellipse cx="145.5" cy="438.3" rx="3.9" ry="4.45"/>
<ellipse cx="155.0" cy="435.0" rx="3.9" ry="4.45"/>
<ellipse cx="157.3" cy="442.1" rx="3.9" ry="4.45"/>
<ellipse cx="151.0" cy="438.3" rx="3.9" ry="4.45"/>
<ellipse cx="155.9" cy="435.3" rx="3.9" ry="4.45"/>
<ellipse cx="146.4" cy="431.7" rx="3.9" ry="4.45"/>
<ellipse cx="149.4" cy="441.4" rx="3.9" ry="4.45"/>
<ellipse cx="149.7" cy="437.7" rx="3.9" ry="4.45"/>
<ellipse cx="146.0" cy="436.7" rx="3.9" ry="4.45"/>
<ellipse cx="139.9" cy="440.2" rx="3.9" ry="4.45"/>
<ellipse cx="145.0" cy="431.6" rx="3.9" ry="4.45"/>
<ellipse cx="143.2" cy="432.7" rx="3.9" ry="4.45"/>
<ellipse cx="151.3" cy="440.2" rx="3.9" ry="4.45"/>
<ellipse cx="140.2" cy="439.7" rx="3.9" ry="4.45"/>
<ellipse cx="151.4" cy="433.7" rx="3.9" ry="4.45"/>
<ellipse cx="139.6" cy="433.0" rx="3.9" ry="4.45"/>
<ellipse cx="143.8" cy="437.4" rx="3.9" ry="4.45"/>
<ellipse cx="145.2" cy="427.9" rx="3.9" ry="4.45"/>
<ellipse cx="148.2" cy="429.9" rx="3.9" ry="4.45"/>
<ellipse cx="151.5" cy="431.2" rx="3.9" ry="4.45"/>
<ellipse cx="143.5" cy="432.6" rx="3.9" ry="4.45"/>
<ellipse cx="144.3" cy="441.2" rx="3.9" ry="4.45"/>
<ellipse cx="151.3" cy="438.4" rx="3.9" ry="4.45"/>
<ellipse cx="148.6" cy="429.8" rx="3.9" ry="4.45"/>
<ellipse cx="144.4" cy="433.8" rx="3.9" ry="4.45"/>
<ellipse cx="142.1" cy="438.0" rx="3.9" ry="4.45"/>
<ellipse cx="165.9" cy="430.8" rx="3.9" ry="4.45"/>
<ellipse cx="164.3" cy="424.7" rx="3.9" ry="4.45"/>
<ellipse cx="173.3" cy="440.0" rx="3.9" ry="4.45"/>
<ellipse cx="171.0" cy="429.6" rx="3.9" ry="4.45"/>
<ellipse cx="155.1" cy="434.8" rx="3.9" ry="4.45"/>
<ellipse cx="176.7" cy="435.3" rx="3.9" ry="4.45"/>
<ellipse cx="175.1" cy="440.7" rx="3.9" ry="4.45"/>
<ellipse cx="176.2" cy="432.0" rx="3.9" ry="4.45"/>
<ellipse cx="175.8" cy="437.5" rx="3.9" ry="4.45"/>
<ellipse cx="161.5" cy="432.2" rx="3.9" ry="4.45"/>
<ellipse cx="162.2" cy="433.5" rx="3.9" ry="4.45"/>
<ellipse cx="173.2" cy="429.2" rx="3.9" ry="4.45"/>
<ellipse cx="158.7" cy="439.8" rx="3.9" ry="4.45"/>
<ellipse cx="172.1" cy="440.6" rx="3.9" ry="4.45"/>
<ellipse cx="162.7" cy="438.8" rx="3.9" ry="4.45"/>
<ellipse cx="181.4" cy="443.0" rx="3.9" ry="4.45"/>
<ellipse cx="168.8" cy="435.2" rx="3.9" ry="4.45"/>
<ellipse cx="169.2" cy="438.5" rx="3.9" ry="4.45"/>
<ellipse cx="175.7" cy="434.4" rx="3.9" ry="4.45"/>
<ellipse cx="162.5" cy="437.3" rx="3.9" ry="4.45"/>
<ellipse cx="167.4" cy="436.8" rx="3.9" ry="4.45"/>
<ellipse cx="171.4" cy="441.3" rx="3.9" ry="4.45"/>
<ellipse cx="176.3" cy="432.0" rx="3.9" ry="4.45"/>
<ellipse cx="171.9" cy="441.9" rx="3.9" ry="4.45"/>
<ellipse cx="167.0" cy="436.0" rx="3.9" ry="4.45"/>
<ellipse cx="176.5" cy="439.7" rx="3.9" ry="4.45"/>
<ellipse cx="172.9" cy="428.1" rx="3.9" ry="4.45"/>
<ellipse cx="163.1" cy="435.1" rx="3.9" ry="4.45"/>
<ellipse cx="172.1" cy="445.5" rx="3.9" ry="4.45"/>
<ellipse cx="165.3" cy="439.1" rx="3.9" ry="4.45"/>
<ellipse cx="174.2" cy="426.5" rx="3.9" ry="4.45"/>
<ellipse cx="165.5" cy="434.7" rx="3.9" ry="4.45"/>
<ellipse cx="167.3" cy="433.3" rx="3.9" ry="4.45"/>
<ellipse cx="172.6" cy="430.4" rx="3.9" ry="4.45"/>
<ellipse cx="172.6" cy="431.1" rx="3.9" ry="4.45"/>
<ellipse cx="167.0" cy="436.4" rx="3.9" ry="4.45"/>
<ellipse cx="166.8" cy="435.3" rx="3.9" ry="4.45"/>
<ellipse cx="178.8" cy="434.1" rx="3.9" ry="4.45"/>
<ellipse cx="169.2" cy="437.3" rx="3.9" ry="4.45"/>
<ellipse cx="168.0" cy="438.9" rx="3.9" ry="4.45"/>
<ellipse cx="162.9" cy="436.8" rx="3.9" ry="4.45"/>
<ellipse cx="167.2" cy="430.4" rx="3.9" ry="4.45"/>
<ellipse cx="179.7" cy="430.2" rx="3.9" ry="4.45"/>
<ellipse cx="179.7" cy="437.0" rx="3.9" ry="4.45"/>
<ellipse cx="178.0" cy="429.6" rx="3.9" ry="4.45"/>
<ellipse cx="176.6" cy="440.6" rx="3.9" ry="4.45"/>
<ellipse cx="169.4" cy="433.4" rx="3.9" ry="4.45"/>
<ellipse cx="183.5" cy="434.8" rx="3.9" ry="4.45"/>
<ellipse cx="167.7" cy="431.2" rx="3.9" ry="4.45"/>
<ellipse cx="172.5" cy="435.5" rx="3.9" ry="4.45"/>
<ellipse cx="171.0" cy="441.7" rx="3.9" ry="4.45"/>
<ellipse cx="168.2" cy="436.1" rx="3.9" ry="4.45"/>
<ellipse cx="178.0" cy="429.5" rx="3.9" ry="4.45"/>
<ellipse cx="175.7" cy="442.2" rx="3.9" ry="4.45"/>
<ellipse cx="162.5" cy="429.1" rx="3.9" ry="4.45"/>
<ellipse cx="164.3" cy="425.7" rx="3.9" ry="4.45"/>
<ellipse cx="172.5" cy="425.6" rx="3.9" ry="4.45"/>
<ellipse cx="172.7" cy="440.5" rx="3.9" ry="4.45"/>
<ellipse cx="161.1" cy="432.6" rx="3.9" ry="4.45"/>
<ellipse cx="159.5" cy="437.5" rx="3.9" ry="4.45"/>
<ellipse cx="165.9" cy="432.8" rx="3.9" ry="4.45"/>
<ellipse cx="170.3" cy="436.5" rx="3.9" ry="4.45"/>
<ellipse cx="168.1" cy="434.1" rx="3.9" ry="4.45"/>
<ellipse cx="167.0" cy="434.5" rx="3.9" ry="4.45"/>
<ellipse cx="163.6" cy="434.3" rx="3.9" ry="4.45"/>
<ellipse cx="159.4" cy="431.8" rx="3.9" ry="4.45"/>
<ellipse cx="180.5" cy="434.4" rx="3.9" ry="4.45"/>
<ellipse cx="163.1" cy="435.2" rx="3.9" ry="4.45"/>
<ellipse cx="164.7" cy="426.6" rx="3.9" ry="4.45"/>
<ellipse cx="165.9" cy="437.3" rx="3.9" ry="4.45"/>
<ellipse cx="172.1" cy="433.6" rx="3.9" ry="4.45"/>
<ellipse cx="164.9" cy="429.1" rx="3.9" ry="4.45"/>
<ellipse cx="177.4" cy="435.1" rx="3.9" ry="4.45"/>
<ellipse cx="164.8" cy="424.5" rx="3.9" ry="4.45"/>
<ellipse cx="162.5" cy="445.1" rx="3.9" ry="4.45"/>
<ellipse cx="163.7" cy="433.7" rx="3.9" ry="4.45"/>
<ellipse cx="171.2" cy="433.3" rx="3.9" ry="4.45"/>
<ellipse cx="168.5" cy="427.8" rx="3.9" ry="4.45"/>
<ellipse cx="164.2" cy="441.6" rx="3.9" ry="4.45"/>
<ellipse cx="165.8" cy="437.8" rx="3.9" ry="4.45"/>
<ellipse cx="160.7" cy="432.8" rx="3.9" ry="4.45"/>
<ellipse cx="171.4" cy="438.7" rx="3.9" ry="4.45"/>
<ellipse cx="163.8" cy="436.7" rx="3.9" ry="4.45"/>
<ellipse cx="172.1" cy="430.7" rx="3.9" ry="4.45"/>
<ellipse cx="172.6" cy="430.0" rx="3.9" ry="4.45"/>
<ellipse cx="165.6" cy="433.9" rx="3.9" ry="4.45"/>
<ellipse cx="155.1" cy="433.5" rx="3.9" ry="4.45"/>
<ellipse cx="164.5" cy="427.4" rx="3.9" ry="4.45"/>
<ellipse cx="167.7" cy="437.4" rx="3.9" ry="4.45"/>
<ellipse cx="167.8" cy="439.7" rx="3.9" ry="4.45"/>
<ellipse cx="163.6" cy="428.1" rx="3.9" ry="4.45"/>
<ellipse cx="178.5" cy="435.8" rx="3.9" ry="4.45"/>
<ellipse cx="175.2" cy="430.3" rx="3.9" ry="4.45"/>
<ellipse cx="174.4" cy="435.2" rx="3.9" ry="4.45"/>
<ellipse cx="173.6" cy="434.1" rx="3.9" ry="4.45"/>
<ellipse cx="176.6" cy="431.1" rx="3.9" ry="4.45"/>
<ellipse cx="164.7" cy="427.4" rx="3.9" ry="4.45"/>
<ellipse cx="176.4" cy="430.7" rx="3.9" ry="4.45"/>
<ellipse cx="164.3" cy="429.8" rx="3.9" ry="4.45"/>
<ellipse cx="167.6" cy="428.3" rx="3.9" ry="4.45"/>
<ellipse cx="168.4" cy="431.2" rx="3.9" ry="4.45"/>
<ellipse cx="167.0" cy="429.7" rx="3.9" ry="4.45"/>
<ellipse cx="170.2" cy="431.9" rx="3.9" ry="4.45"/>
<ellipse cx="170.6" cy="435.1" rx="3.9" ry="4.45"/>
<ellipse cx="171.9" cy="424.1" rx="3.9" ry="4.45"/>
<ellipse cx="167.1" cy="430.4" rx="3.9" ry="4.45"/>
<ellipse cx="174.3" cy="426.9" rx="3.9" ry="4.45"/>
<ellipse cx="166.1" cy="432.7" rx="3.9" ry="4.45"/>
<ellipse cx="168.2" cy="438.5" rx="3.9" ry="4.45"/>
<ellipse cx="167.6" cy="438.3" rx="3.9" ry="4.45"/>
<ellipse cx="161.9" cy="425.8" rx="3.9" ry="4.45"/>
<ellipse cx="176.7" cy="436.0" rx="3.9" ry="4.45"/>
<ellipse cx="172.7" cy="434.6" rx="3.9" ry="4.45"/>
<ellipse cx="172.7" cy="428.5" rx="3.9" ry="4.45"/>
<ellipse cx="175.2" cy="431.6" rx="3.9" ry="4.45"/>
<ellipse cx="175.4" cy="434.4" rx="3.9" ry="4.45"/>
<ellipse cx="159.1" cy="428.2" rx="3.9" ry="4.45"/>
<ellipse cx="176.2" cy="433.4" rx="3.9" ry="4.45"/>
<ellipse cx="167.8" cy="435.1" rx="3.9" ry="4.45"/>
<ellipse cx="167.7" cy="431.5" rx="3.9" ry="4.45"/>
<ellipse cx="170.6" cy="434.6" rx="3.9" ry="4.45"/>
<ellipse cx="178.3" cy="434.2" rx="3.9" ry="4.45"/>
<ellipse cx="180.3" cy="442.1" rx="3.9" ry="4.45"/>
<ellipse cx="179.4" cy="438.8" rx="3.9" ry="4.45"/>
<ellipse cx="170.7" cy="434.6" rx="3.9" ry="4.45"/>
<ellipse cx="169.2" cy="430.7" rx="3.9" ry="4.45"/>
<ellipse cx="169.6" cy="431.1" rx="3.9" ry="4.45"/>
<ellipse cx="179.0" cy="436.4" rx="3.9" ry="4.45"/>
<ellipse cx="167.5" cy="425.4" rx="3.9" ry="4.45"/>
<ellipse cx="169.7" cy="432.1" rx="3.9" ry="4.45"/>
<ellipse cx="164.0" cy="428.9" rx="3.9" ry="4.45"/>
<ellipse cx="157.6" cy="436.6" rx="3.9" ry="4.45"/>
<ellipse cx="169.6" cy="445.6" rx="3.9" ry="4.45"/>
<ellipse cx="169.8" cy="433.3" rx="3.9" ry="4.45"/>
<ellipse cx="177.9" cy="434.6" rx="3.9" ry="4.45"/>
<ellipse cx="170.9" cy="432.3" rx="3.9" ry="4.45"/>
<ellipse cx="166.7" cy="440.7" rx="3.9" ry="4.45"/>
<ellipse cx="175.5" cy="441.7" rx="3.9" ry="4.45"/>
<ellipse cx="168.1" cy="434.1" rx="3.9" ry="4.45"/>
<ellipse cx="165.2" cy="438.4" rx="3.9" ry="4.45"/>
<ellipse cx="162.3" cy="436.5" rx="3.9" ry="4.45"/>
<ellipse cx="176.0" cy="440.4" rx="3.9" ry="4.45"/>
<ellipse cx="164.8" cy="438.9" rx="3.9" ry="4.45"/>
<ellipse cx="166.1" cy="430.6" rx="3.9" ry="4.45"/>
<ellipse cx="162.7" cy="439.2" rx="3.9" ry="4.45"/>
<ellipse cx="179.1" cy="431.3" rx="3.9" ry="4.45"/>
<ellipse cx="165.8" cy="432.5" rx="3.9" ry="4.45"/>
<ellipse cx="183.8" cy="438.5" rx="3.9" ry="4.45"/>
<ellipse cx="167.0" cy="425.9" rx="3.9" ry="4.45"/>
<ellipse cx="166.3" cy="439.3" rx="3.9" ry="4.45"/>
<ellipse cx="180.3" cy="432.8" rx="3.9" ry="4.45"/>
<ellipse cx="166.2" cy="431.7" rx="3.9" ry="4.45"/>
<ellipse cx="159.6" cy="438.1" rx="3.9" ry="4.45"/>
<ellipse cx="164.0" cy="438.8" rx="3.9" ry="4.45"/>
<ellipse cx="160.6" cy="428.3" rx="3.9" ry="4.45"/>
<ellipse cx="171.6" cy="430.6" rx="3.9" ry="4.45"/>
<ellipse cx="174.3" cy="434.0" rx="3.9" ry="4.45"/>
<ellipse cx="163.5" cy="436.8" rx="3.9" ry="4.45"/>
<ellipse cx="174.6" cy="425.4" rx="3.9" ry="4.45"/>
<ellipse cx="180.0" cy="436.2" rx="3.9" ry="4.45"/>
<ellipse cx="129.5" cy="439.4" rx="3.9" ry="4.45"/>
<ellipse cx="125.6" cy="442.7" rx="3.9" ry="4.45"/>
<ellipse cx="130.3" cy="440.3" rx="3.9" ry="4.45"/>
<ellipse cx="125.2" cy="439.0" rx="3.9" ry="4.45"/>
<ellipse cx="126.9" cy="444.3" rx="3.9" ry="4.45"/>
<ellipse cx="123.1" cy="442.2" rx="3.9" ry="4.45"/>
<ellipse cx="128.8" cy="447.0" rx="3.9" ry="4.45"/>
<ellipse cx="129.2" cy="442.8" rx="3.9" ry="4.45"/>
<ellipse cx="124.4" cy="441.4" rx="3.9" ry="4.45"/>
<ellipse cx="125.8" cy="443.8" rx="3.9" ry="4.45"/>
<ellipse cx="127.4" cy="447.2" rx="3.9" ry="4.45"/>
<ellipse cx="128.2" cy="441.1" rx="3.9" ry="4.45"/>
<ellipse cx="131.5" cy="445.6" rx="3.9" ry="4.45"/>
<ellipse cx="127.8" cy="441.9" rx="3.9" ry="4.45"/>
<ellipse cx="122.6" cy="441.3" rx="3.9" ry="4.45"/>
<ellipse cx="129.9" cy="441.7" rx="3.9" ry="4.45"/>
<ellipse cx="124.1" cy="443.9" rx="3.9" ry="4.45"/>
<ellipse cx="128.1" cy="444.8" rx="3.9" ry="4.45"/>
<ellipse cx="129.2" cy="446.6" rx="3.9" ry="4.45"/>
<ellipse cx="125.3" cy="445.7" rx="3.9" ry="4.45"/>
<ellipse cx="124.9" cy="445.0" rx="3.9" ry="4.45"/>
<ellipse cx="128.0" cy="444.0" rx="3.9" ry="4.45"/>
<ellipse cx="130.0" cy="443.5" rx="3.9" ry="4.45"/>
<ellipse cx="130.4" cy="445.4" rx="3.9" ry="4.45"/>
<ellipse cx="127.9" cy="442.3" rx="3.9" ry="4.45"/>
<ellipse cx="125.5" cy="442.3" rx="3.9" ry="4.45"/>
<ellipse cx="127.0" cy="443.4" rx="3.9" ry="4.45"/>
<ellipse cx="135.3" cy="444.9" rx="3.9" ry="4.45"/>
<ellipse cx="129.5" cy="441.6" rx="3.9" ry="4.45"/>
<ellipse cx="125.7" cy="442.8" rx="3.9" ry="4.45"/>
<ellipse cx="128.0" cy="441.2" rx="3.9" ry="4.45"/>
<ellipse cx="131.7" cy="442.3" rx="3.9" ry="4.45"/>
<ellipse cx="130.3" cy="438.4" rx="3.9" ry="4.45"/>
<ellipse cx="127.5" cy="444.1" rx="3.9" ry="4.45"/>
<ellipse cx="128.0" cy="444.8" rx="3.9" ry="4.45"/>
<ellipse cx="128.2" cy="443.9" rx="3.9" ry="4.45"/>
<ellipse cx="122.6" cy="441.9" rx="3.9" ry="4.45"/>
<ellipse cx="121.4" cy="444.9" rx="3.9" ry="4.45"/>
<ellipse cx="128.3" cy="443.1" rx="3.9" ry="4.45"/>
<ellipse cx="125.4" cy="442.2" rx="3.9" ry="4.45"/>
<ellipse cx="218.5" cy="447.4" rx="3.9" ry="4.45"/>
<ellipse cx="199.4" cy="444.7" rx="3.9" ry="4.45"/>
<ellipse cx="184.1" cy="425.4" rx="3.9" ry="4.45"/>
<ellipse cx="195.2" cy="431.8" rx="3.9" ry="4.45"/>
<ellipse cx="194.4" cy="438.1" rx="3.9" ry="4.45"/>
<ellipse cx="230.2" cy="433.0" rx="3.9" ry="4.45"/>
<ellipse cx="200.5" cy="438.7" rx="3.9" ry="4.45"/>
<ellipse cx="199.7" cy="442.6" rx="3.9" ry="4.45"/>
<ellipse cx="217.8" cy="429.5" rx="3.9" ry="4.45"/>
<ellipse cx="201.6" cy="435.4" rx="3.9" ry="4.45"/>
<ellipse cx="203.6" cy="427.8" rx="3.9" ry="4.45"/>
<ellipse cx="182.4" cy="423.1" rx="3.9" ry="4.45"/>
<ellipse cx="205.3" cy="438.2" rx="3.9" ry="4.45"/>
<ellipse cx="200.7" cy="422.8" rx="3.9" ry="4.45"/>
<ellipse cx="196.3" cy="432.5" rx="3.9" ry="4.45"/>
<ellipse cx="185.9" cy="431.5" rx="3.9" ry="4.45"/>
<ellipse cx="207.0" cy="440.3" rx="3.9" ry="4.45"/>
<ellipse cx="199.8" cy="440.1" rx="3.9" ry="4.45"/>
<ellipse cx="194.0" cy="437.4" rx="3.9" ry="4.45"/>
<ellipse cx="200.4" cy="440.3" rx="3.9" ry="4.45"/>
<ellipse cx="199.3" cy="436.1" rx="3.9" ry="4.45"/>
<ellipse cx="198.7" cy="433.1" rx="3.9" ry="4.45"/>
<ellipse cx="222.3" cy="440.1" rx="3.9" ry="4.45"/>
<ellipse cx="204.3" cy="450.7" rx="3.9" ry="4.45"/>
<ellipse cx="214.0" cy="427.7" rx="3.9" ry="4.45"/>
<ellipse cx="207.0" cy="442.0" rx="3.9" ry="4.45"/>
<ellipse cx="218.8" cy="444.9" rx="3.9" ry="4.45"/>
<ellipse cx="207.7" cy="429.9" rx="3.9" ry="4.45"/>
<ellipse cx="191.3" cy="438.6" rx="3.9" ry="4.45"/>
<ellipse cx="205.0" cy="430.9" rx="3.9" ry="4.45"/>
<ellipse cx="196.2" cy="434.6" rx="3.9" ry="4.45"/>
<ellipse cx="200.6" cy="439.0" rx="3.9" ry="4.45"/>
<ellipse cx="197.1" cy="429.6" rx="3.9" ry="4.45"/>
<ellipse cx="212.4" cy="446.6" rx="3.9" ry="4.45"/>
<ellipse cx="198.9" cy="443.1" rx="3.9" ry="4.45"/>
<ellipse cx="204.4" cy="441.0" rx="3.9" ry="4.45"/>
<ellipse cx="204.8" cy="432.4" rx="3.9" ry="4.45"/>
<ellipse cx="205.7" cy="443.1" rx="3.9" ry="4.45"/>
<ellipse cx="191.0" cy="448.8" rx="3.9" ry="4.45"/>
<ellipse cx="220.9" cy="447.9" rx="3.9" ry="4.45"/>
<ellipse cx="219.9" cy="441.5" rx="3.9" ry="4.45"/>
<ellipse cx="196.6" cy="433.4" rx="3.9" ry="4.45"/>
<ellipse cx="191.9" cy="437.7" rx="3.9" ry="4.45"/>
<ellipse cx="199.7" cy="441.0" rx="3.9" ry="4.45"/>
<ellipse cx="179.8" cy="450.9" rx="3.9" ry="4.45"/>
<ellipse cx="222.8" cy="436.8" rx="3.9" ry="4.45"/>
<ellipse cx="206.8" cy="439.9" rx="3.9" ry="4.45"/>
<ellipse cx="202.7" cy="435.7" rx="3.9" ry="4.45"/>
<ellipse cx="198.8" cy="432.1" rx="3.9" ry="4.45"/>
<ellipse cx="201.8" cy="436.9" rx="3.9" ry="4.45"/>
<ellipse cx="219.9" cy="435.7" rx="3.9" ry="4.45"/>
<ellipse cx="218.2" cy="440.2" rx="3.9" ry="4.45"/>
<ellipse cx="221.6" cy="434.7" rx="3.9" ry="4.45"/>
<ellipse cx="220.5" cy="444.9" rx="3.9" ry="4.45"/>
<ellipse cx="221.6" cy="438.2" rx="3.9" ry="4.45"/>
<ellipse cx="215.1" cy="438.8" rx="3.9" ry="4.45"/>
<ellipse cx="222.4" cy="447.8" rx="3.9" ry="4.45"/>
<ellipse cx="217.1" cy="436.8" rx="3.9" ry="4.45"/>
<ellipse cx="220.3" cy="441.0" rx="3.9" ry="4.45"/>
<ellipse cx="212.6" cy="436.3" rx="3.9" ry="4.45"/>
<ellipse cx="217.4" cy="443.4" rx="3.9" ry="4.45"/>
<ellipse cx="210.8" cy="434.9" rx="3.9" ry="4.45"/>
<ellipse cx="221.0" cy="433.9" rx="3.9" ry="4.45"/>
<ellipse cx="218.7" cy="441.8" rx="3.9" ry="4.45"/>
<ellipse cx="345.4" cy="456.7" rx="3.9" ry="4.45"/>
<ellipse cx="236.7" cy="435.8" rx="3.9" ry="4.45"/>
<ellipse cx="377.1" cy="448.6" rx="3.9" ry="4.45"/>
<ellipse cx="233.5" cy="436.6" rx="3.9" ry="4.45"/>
<ellipse cx="377.3" cy="458.5" rx="3.9" ry="4.45"/>
<ellipse cx="368.3" cy="456.3" rx="3.9" ry="4.45"/>
<ellipse cx="289.6" cy="445.7" rx="3.9" ry="4.45"/>
<ellipse cx="309.3" cy="451.0" rx="3.9" ry="4.45"/>
<ellipse cx="243.7" cy="431.0" rx="3.9" ry="4.45"/>
<ellipse cx="372.5" cy="463.0" rx="3.9" ry="4.45"/>
<ellipse cx="291.9" cy="444.1" rx="3.9" ry="4.45"/>
<ellipse cx="384.6" cy="452.7" rx="3.9" ry="4.45"/>
<ellipse cx="307.6" cy="447.1" rx="3.9" ry="4.45"/>
<ellipse cx="232.8" cy="439.4" rx="3.9" ry="4.45"/>
<ellipse cx="260.6" cy="445.5" rx="3.9" ry="4.45"/>
<ellipse cx="370.8" cy="453.7" rx="3.9" ry="4.45"/>
<ellipse cx="347.9" cy="452.1" rx="3.9" ry="4.45"/>
<ellipse cx="323.6" cy="446.4" rx="3.9" ry="4.45"/>
<ellipse cx="357.8" cy="458.4" rx="3.9" ry="4.45"/>
<ellipse cx="353.6" cy="452.2" rx="3.9" ry="4.45"/>
<ellipse cx="306.6" cy="448.1" rx="3.9" ry="4.45"/>
<ellipse cx="243.7" cy="443.7" rx="3.9" ry="4.45"/>
<ellipse cx="330.9" cy="447.1" rx="3.9" ry="4.45"/>
<ellipse cx="325.3" cy="445.8" rx="3.9" ry="4.45"/>
<ellipse cx="375.2" cy="451.2" rx="3.9" ry="4.45"/>
<ellipse cx="302.6" cy="440.7" rx="3.9" ry="4.45"/>
<ellipse cx="304.0" cy="442.7" rx="3.9" ry="4.45"/>
<ellipse cx="284.7" cy="450.8" rx="3.9" ry="4.45"/>
<ellipse cx="312.1" cy="445.9" rx="3.9" ry="4.45"/>
<ellipse cx="389.4" cy="445.0" rx="3.9" ry="4.45"/>
<ellipse cx="219.4" cy="439.2" rx="3.9" ry="4.45"/>
<ellipse cx="388.6" cy="462.6" rx="3.9" ry="4.45"/>
<ellipse cx="331.0" cy="455.7" rx="3.9" ry="4.45"/>
<ellipse cx="230.7" cy="443.9" rx="3.9" ry="4.45"/>
<ellipse cx="238.8" cy="452.5" rx="3.9" ry="4.45"/>
<ellipse cx="369.0" cy="448.9" rx="3.9" ry="4.45"/>
<ellipse cx="376.1" cy="444.7" rx="3.9" ry="4.45"/>
<ellipse cx="228.1" cy="436.9" rx="3.9" ry="4.45"/>
<ellipse cx="342.8" cy="458.2" rx="3.9" ry="4.45"/>
<ellipse cx="383.5" cy="452.9" rx="3.9" ry="4.45"/>
<ellipse cx="452.5" cy="481.5" rx="3.9" ry="4.45"/>
<ellipse cx="432.4" cy="479.6" rx="3.9" ry="4.45"/>
<ellipse cx="405.2" cy="465.2" rx="3.9" ry="4.45"/>
<ellipse cx="461.3" cy="481.9" rx="3.9" ry="4.45"/>
<ellipse cx="465.6" cy="479.1" rx="3.9" ry="4.45"/>
<ellipse cx="414.6" cy="476.0" rx="3.9" ry="4.45"/>
<ellipse cx="434.8" cy="475.4" rx="3.9" ry="4.45"/>
<ellipse cx="469.0" cy="472.2" rx="3.9" ry="4.45"/>
<ellipse cx="466.8" cy="475.4" rx="3.9" ry="4.45"/>
<ellipse cx="479.9" cy="481.4" rx="3.9" ry="4.45"/>
<ellipse cx="469.9" cy="479.2" rx="3.9" ry="4.45"/>
<ellipse cx="430.2" cy="478.2" rx="3.9" ry="4.45"/>
<ellipse cx="445.6" cy="474.5" rx="3.9" ry="4.45"/>
<ellipse cx="444.6" cy="471.8" rx="3.9" ry="4.45"/>
<ellipse cx="463.3" cy="477.8" rx="3.9" ry="4.45"/>
<ellipse cx="516.3" cy="493.1" rx="3.9" ry="4.45"/>
<ellipse cx="427.4" cy="475.6" rx="3.9" ry="4.45"/>
<ellipse cx="457.1" cy="477.4" rx="3.9" ry="4.45"/>
<ellipse cx="452.8" cy="473.6" rx="3.9" ry="4.45"/>
<ellipse cx="434.3" cy="470.8" rx="3.9" ry="4.45"/>
<ellipse cx="416.4" cy="475.4" rx="3.9" ry="4.45"/>
<ellipse cx="474.7" cy="473.6" rx="3.9" ry="4.45"/>
<ellipse cx="491.4" cy="481.0" rx="3.9" ry="4.45"/>
<ellipse cx="489.7" cy="475.5" rx="3.9" ry="4.45"/>
<ellipse cx="491.8" cy="471.6" rx="3.9" ry="4.45"/>
<ellipse cx="415.6" cy="471.2" rx="3.9" ry="4.45"/>
<ellipse cx="487.6" cy="478.2" rx="3.9" ry="4.45"/>
<ellipse cx="511.4" cy="483.1" rx="3.9" ry="4.45"/>
<ellipse cx="498.5" cy="476.8" rx="3.9" ry="4.45"/>
<ellipse cx="441.0" cy="476.2" rx="3.9" ry="4.45"/>
<ellipse cx="485.8" cy="484.6" rx="3.9" ry="4.45"/>
<ellipse cx="463.9" cy="480.2" rx="3.9" ry="4.45"/>
<ellipse cx="497.8" cy="477.0" rx="3.9" ry="4.45"/>
<ellipse cx="455.0" cy="479.3" rx="3.9" ry="4.45"/>
<ellipse cx="412.2" cy="469.0" rx="3.9" ry="4.45"/>
<ellipse cx="414.1" cy="469.1" rx="3.9" ry="4.45"/>
<ellipse cx="507.4" cy="472.6" rx="3.9" ry="4.45"/>
<ellipse cx="415.8" cy="476.9" rx="3.9" ry="4.45"/>
<ellipse cx="406.8" cy="471.8" rx="3.9" ry="4.45"/>
<ellipse cx="466.7" cy="472.9" rx="3.9" ry="4.45"/>
<ellipse cx="470.2" cy="477.3" rx="3.9" ry="4.45"/>
<ellipse cx="460.5" cy="472.9" rx="3.9" ry="4.45"/>
<ellipse cx="439.6" cy="472.1" rx="3.9" ry="4.45"/>
<ellipse cx="511.4" cy="479.8" rx="3.9" ry="4.45"/>
<ellipse cx="408.7" cy="474.4" rx="3.9" ry="4.45"/>
<ellipse cx="459.3" cy="473.5" rx="3.9" ry="4.45"/>
<ellipse cx="510.9" cy="485.6" rx="3.9" ry="4.45"/>
<ellipse cx="479.3" cy="478.6" rx="3.9" ry="4.45"/>
<ellipse cx="464.9" cy="474.7" rx="3.9" ry="4.45"/>
<ellipse cx="446.7" cy="472.7" rx="3.9" ry="4.45"/>
<ellipse cx="469.0" cy="483.0" rx="3.9" ry="4.45"/>
<ellipse cx="488.9" cy="467.4" rx="3.9" ry="4.45"/>
<ellipse cx="504.4" cy="484.6" rx="3.9" ry="4.45"/>
<ellipse cx="429.6" cy="473.1" rx="3.9" ry="4.45"/>
<ellipse cx="425.3" cy="478.0" rx="3.9" ry="4.45"/>
<ellipse cx="463.9" cy="489.8" rx="3.9" ry="4.45"/>
<ellipse cx="481.0" cy="480.1" rx="3.9" ry="4.45"/>
<ellipse cx="492.3" cy="487.8" rx="3.9" ry="4.45"/>
<ellipse cx="397.6" cy="478.2" rx="3.9" ry="4.45"/>
<ellipse cx="469.1" cy="475.5" rx="3.9" ry="4.45"/>
<ellipse cx="456.6" cy="475.5" rx="3.9" ry="4.45"/>
<ellipse cx="462.7" cy="476.0" rx="3.9" ry="4.45"/>
<ellipse cx="467.2" cy="479.1" rx="3.9" ry="4.45"/>
<ellipse cx="419.0" cy="469.8" rx="3.9" ry="4.45"/>
<ellipse cx="414.7" cy="476.0" rx="3.9" ry="4.45"/>
<ellipse cx="492.8" cy="476.5" rx="3.9" ry="4.45"/>
<ellipse cx="415.2" cy="471.4" rx="3.9" ry="4.45"/>
<ellipse cx="438.0" cy="469.8" rx="3.9" ry="4.45"/>
<ellipse cx="420.2" cy="474.1" rx="3.9" ry="4.45"/>
<ellipse cx="505.0" cy="481.7" rx="3.9" ry="4.45"/>
<ellipse cx="453.0" cy="476.9" rx="3.9" ry="4.45"/>
<ellipse cx="497.1" cy="477.7" rx="3.9" ry="4.45"/>
<ellipse cx="450.5" cy="473.4" rx="3.9" ry="4.45"/>
<ellipse cx="413.3" cy="466.8" rx="3.9" ry="4.45"/>
<ellipse cx="444.6" cy="468.9" rx="3.9" ry="4.45"/>
<ellipse cx="427.5" cy="466.8" rx="3.9" ry="4.45"/>
<ellipse cx="462.8" cy="475.6" rx="3.9" ry="4.45"/>
<ellipse cx="446.3" cy="471.8" rx="3.9" ry="4.45"/>
<ellipse cx="440.9" cy="470.1" rx="3.9" ry="4.45"/>
<ellipse cx="495.4" cy="484.2" rx="3.9" ry="4.45"/>
<ellipse cx="458.8" cy="447.7" rx="3.9" ry="4.45"/>
<ellipse cx="468.5" cy="445.5" rx="3.9" ry="4.45"/>
<ellipse cx="458.3" cy="445.3" rx="3.9" ry="4.45"/>
<ellipse cx="454.3" cy="445.3" rx="3.9" ry="4.45"/>
<ellipse cx="459.6" cy="446.7" rx="3.9" ry="4.45"/>
<ellipse cx="472.7" cy="450.6" rx="3.9" ry="4.45"/>
<ellipse cx="458.4" cy="448.1" rx="3.9" ry="4.45"/>
<ellipse cx="464.4" cy="448.7" rx="3.9" ry="4.45"/>
<ellipse cx="462.2" cy="446.9" rx="3.9" ry="4.45"/>
<ellipse cx="458.2" cy="443.3" rx="3.9" ry="4.45"/>
<ellipse cx="469.0" cy="450.5" rx="3.9" ry="4.45"/>
<ellipse cx="467.3" cy="447.5" rx="3.9" ry="4.45"/>
<ellipse cx="464.1" cy="444.4" rx="3.9" ry="4.45"/>
<ellipse cx="447.7" cy="448.3" rx="3.9" ry="4.45"/>
<ellipse cx="463.6" cy="444.1" rx="3.9" ry="4.45"/>
<ellipse cx="454.3" cy="450.5" rx="3.9" ry="4.45"/>
<ellipse cx="447.6" cy="452.2" rx="3.9" ry="4.45"/>
<ellipse cx="467.1" cy="454.3" rx="3.9" ry="4.45"/>
<ellipse cx="456.3" cy="445.9" rx="3.9" ry="4.45"/>
<ellipse cx="457.9" cy="446.5" rx="3.9" ry="4.45"/>
<ellipse cx="460.3" cy="443.4" rx="3.9" ry="4.45"/>
<ellipse cx="470.6" cy="443.3" rx="3.9" ry="4.45"/>
<ellipse cx="457.9" cy="447.9" rx="3.9" ry="4.45"/>
<ellipse cx="457.7" cy="444.5" rx="3.9" ry="4.45"/>
<ellipse cx="464.8" cy="444.7" rx="3.9" ry="4.45"/>
<ellipse cx="452.0" cy="445.6" rx="3.9" ry="4.45"/>
<ellipse cx="460.2" cy="452.0" rx="3.9" ry="4.45"/>
<ellipse cx="453.2" cy="449.4" rx="3.9" ry="4.45"/>
<ellipse cx="455.7" cy="444.8" rx="3.9" ry="4.45"/>
<ellipse cx="459.4" cy="446.9" rx="3.9" ry="4.45"/>
<ellipse cx="468.9" cy="452.1" rx="3.9" ry="4.45"/>
<ellipse cx="456.9" cy="450.7" rx="3.9" ry="4.45"/>
<ellipse cx="470.0" cy="448.8" rx="3.9" ry="4.45"/>
<ellipse cx="455.9" cy="449.2" rx="3.9" ry="4.45"/>
<ellipse cx="461.1" cy="447.2" rx="3.9" ry="4.45"/>
<ellipse cx="459.8" cy="448.3" rx="3.9" ry="4.45"/>
<ellipse cx="439.9" cy="458.4" rx="3.9" ry="4.45"/>
<ellipse cx="429.4" cy="458.0" rx="3.9" ry="4.45"/>
<ellipse cx="442.6" cy="452.2" rx="3.9" ry="4.45"/>
<ellipse cx="442.8" cy="451.0" rx="3.9" ry="4.45"/>
<ellipse cx="435.3" cy="456.8" rx="3.9" ry="4.45"/>
<ellipse cx="442.9" cy="455.8" rx="3.9" ry="4.45"/>
<ellipse cx="427.2" cy="452.6" rx="3.9" ry="4.45"/>
<ellipse cx="421.0" cy="457.3" rx="3.9" ry="4.45"/>
<ellipse cx="429.1" cy="452.8" rx="3.9" ry="4.45"/>
<ellipse cx="435.3" cy="452.7" rx="3.9" ry="4.45"/>
<ellipse cx="427.5" cy="453.6" rx="3.9" ry="4.45"/>
<ellipse cx="444.2" cy="459.4" rx="3.9" ry="4.45"/>
<ellipse cx="429.7" cy="450.3" rx="3.9" ry="4.45"/>
<ellipse cx="433.2" cy="455.2" rx="3.9" ry="4.45"/>
<ellipse cx="433.8" cy="456.7" rx="3.9" ry="4.45"/>
<ellipse cx="428.4" cy="457.8" rx="3.9" ry="4.45"/>
<ellipse cx="437.7" cy="455.6" rx="3.9" ry="4.45"/>
<ellipse cx="427.7" cy="453.6" rx="3.9" ry="4.45"/>
<ellipse cx="436.5" cy="451.7" rx="3.9" ry="4.45"/>
<ellipse cx="429.7" cy="452.8" rx="3.9" ry="4.45"/>
<ellipse cx="419.9" cy="456.8" rx="3.9" ry="4.45"/>
<ellipse cx="430.8" cy="455.1" rx="3.9" ry="4.45"/>
<ellipse cx="495.0" cy="472.8" rx="3.9" ry="4.45"/>
<ellipse cx="487.5" cy="479.0" rx="3.9" ry="4.45"/>
<ellipse cx="494.7" cy="474.2" rx="3.9" ry="4.45"/>
<ellipse cx="493.7" cy="478.8" rx="3.9" ry="4.45"/>
<ellipse cx="498.8" cy="482.0" rx="3.9" ry="4.45"/>
<ellipse cx="492.4" cy="485.5" rx="3.9" ry="4.45"/>
<ellipse cx="488.0" cy="476.5" rx="3.9" ry="4.45"/>
<ellipse cx="485.3" cy="474.7" rx="3.9" ry="4.45"/>
<ellipse cx="487.8" cy="471.4" rx="3.9" ry="4.45"/>
<ellipse cx="487.3" cy="479.5" rx="3.9" ry="4.45"/>
<ellipse cx="495.9" cy="476.8" rx="3.9" ry="4.45"/>
<ellipse cx="499.1" cy="475.7" rx="3.9" ry="4.45"/>
<ellipse cx="486.9" cy="471.4" rx="3.9" ry="4.45"/>
<ellipse cx="481.9" cy="475.2" rx="3.9" ry="4.45"/>
<ellipse cx="499.7" cy="479.8" rx="3.9" ry="4.45"/>
<ellipse cx="479.4" cy="479.8" rx="3.9" ry="4.45"/>
<ellipse cx="491.8" cy="477.2" rx="3.9" ry="4.45"/>
<ellipse cx="488.2" cy="477.0" rx="3.9" ry="4.45"/>
<ellipse cx="483.8" cy="471.9" rx="3.9" ry="4.45"/>
<ellipse cx="487.3" cy="482.4" rx="3.9" ry="4.45"/>
<ellipse cx="558.6" cy="490.5" rx="3.9" ry="4.45"/>
<ellipse cx="539.4" cy="490.9" rx="3.9" ry="4.45"/>
<ellipse cx="553.9" cy="493.9" rx="3.9" ry="4.45"/>
<ellipse cx="540.9" cy="493.9" rx="3.9" ry="4.45"/>
<ellipse cx="544.2" cy="494.8" rx="3.9" ry="4.45"/>
<ellipse cx="542.4" cy="484.1" rx="3.9" ry="4.45"/>
<ellipse cx="546.5" cy="496.1" rx="3.9" ry="4.45"/>
<ellipse cx="536.3" cy="491.4" rx="3.9" ry="4.45"/>
<ellipse cx="553.7" cy="490.0" rx="3.9" ry="4.45"/>
<ellipse cx="540.3" cy="502.9" rx="3.9" ry="4.45"/>
<ellipse cx="553.3" cy="497.5" rx="3.9" ry="4.45"/>
<ellipse cx="537.7" cy="500.7" rx="3.9" ry="4.45"/>
<ellipse cx="531.5" cy="489.2" rx="3.9" ry="4.45"/>
<ellipse cx="552.5" cy="499.1" rx="3.9" ry="4.45"/>
<ellipse cx="537.9" cy="488.4" rx="3.9" ry="4.45"/>
<ellipse cx="547.7" cy="481.7" rx="3.9" ry="4.45"/>
<ellipse cx="551.6" cy="495.0" rx="3.9" ry="4.45"/>
<ellipse cx="542.1" cy="494.9" rx="3.9" ry="4.45"/>
<ellipse cx="552.8" cy="493.7" rx="3.9" ry="4.45"/>
<ellipse cx="550.6" cy="500.1" rx="3.9" ry="4.45"/>
<ellipse cx="541.8" cy="492.9" rx="3.9" ry="4.45"/>
<ellipse cx="541.4" cy="497.5" rx="3.9" ry="4.45"/>
<ellipse cx="542.4" cy="494.5" rx="3.9" ry="4.45"/>
<ellipse cx="547.2" cy="492.4" rx="3.9" ry="4.45"/>
<ellipse cx="561.0" cy="491.5" rx="3.9" ry="4.45"/>
<ellipse cx="558.4" cy="496.4" rx="3.9" ry="4.45"/>
<ellipse cx="557.5" cy="491.1" rx="3.9" ry="4.45"/>
<ellipse cx="554.1" cy="496.0" rx="3.9" ry="4.45"/>
<ellipse cx="540.7" cy="493.4" rx="3.9" ry="4.45"/>
<ellipse cx="544.9" cy="491.8" rx="3.9" ry="4.45"/>
<ellipse cx="557.3" cy="488.2" rx="3.9" ry="4.45"/>
<ellipse cx="531.4" cy="482.7" rx="3.9" ry="4.45"/>
<ellipse cx="542.1" cy="488.6" rx="3.9" ry="4.45"/>
<ellipse cx="546.1" cy="495.0" rx="3.9" ry="4.45"/>
<ellipse cx="561.3" cy="493.6" rx="3.9" ry="4.45"/>
<ellipse cx="550.0" cy="488.1" rx="3.9" ry="4.45"/>
<ellipse cx="551.0" cy="499.2" rx="3.9" ry="4.45"/>
<ellipse cx="557.6" cy="481.6" rx="3.9" ry="4.45"/>
<ellipse cx="553.7" cy="500.4" rx="3.9" ry="4.45"/>
<ellipse cx="553.2" cy="484.1" rx="3.9" ry="4.45"/>
<ellipse cx="543.3" cy="495.1" rx="3.9" ry="4.45"/>
<ellipse cx="549.6" cy="487.7" rx="3.9" ry="4.45"/>
<ellipse cx="538.3" cy="497.1" rx="3.9" ry="4.45"/>
<ellipse cx="534.4" cy="499.6" rx="3.9" ry="4.45"/>
<ellipse cx="546.2" cy="493.6" rx="3.9" ry="4.45"/>
<ellipse cx="534.4" cy="488.8" rx="3.9" ry="4.45"/>
<ellipse cx="552.0" cy="484.2" rx="3.9" ry="4.45"/>
<ellipse cx="563.9" cy="484.6" rx="3.9" ry="4.45"/>
<ellipse cx="535.4" cy="492.2" rx="3.9" ry="4.45"/>
<ellipse cx="550.2" cy="495.9" rx="3.9" ry="4.45"/>
<ellipse cx="542.8" cy="490.9" rx="3.9" ry="4.45"/>
<ellipse cx="544.0" cy="489.0" rx="3.9" ry="4.45"/>
<ellipse cx="523.7" cy="497.1" rx="3.9" ry="4.45"/>
<ellipse cx="548.2" cy="492.8" rx="3.9" ry="4.45"/>
<ellipse cx="540.6" cy="493.3" rx="3.9" ry="4.45"/>
<ellipse cx="545.9" cy="491.6" rx="3.9" ry="4.45"/>
<ellipse cx="555.6" cy="482.9" rx="3.9" ry="4.45"/>
<ellipse cx="548.2" cy="486.4" rx="3.9" ry="4.45"/>
<ellipse cx="543.3" cy="499.9" rx="3.9" ry="4.45"/>
<ellipse cx="536.6" cy="491.5" rx="3.9" ry="4.45"/>
<ellipse cx="540.9" cy="497.0" rx="3.9" ry="4.45"/>
<ellipse cx="537.5" cy="483.1" rx="3.9" ry="4.45"/>
<ellipse cx="550.4" cy="490.1" rx="3.9" ry="4.45"/>
<ellipse cx="543.2" cy="497.7" rx="3.9" ry="4.45"/>
<ellipse cx="538.3" cy="490.0" rx="3.9" ry="4.45"/>
<ellipse cx="547.3" cy="494.2" rx="3.9" ry="4.45"/>
<ellipse cx="541.5" cy="497.5" rx="3.9" ry="4.45"/>
<ellipse cx="565.4" cy="489.8" rx="3.9" ry="4.45"/>
<ellipse cx="562.2" cy="480.9" rx="3.9" ry="4.45"/>
<ellipse cx="558.2" cy="490.2" rx="3.9" ry="4.45"/>
<ellipse cx="547.2" cy="490.2" rx="3.9" ry="4.45"/>
<ellipse cx="540.5" cy="485.3" rx="3.9" ry="4.45"/>
<ellipse cx="542.6" cy="498.8" rx="3.9" ry="4.45"/>
<ellipse cx="555.9" cy="490.2" rx="3.9" ry="4.45"/>
<ellipse cx="541.4" cy="488.3" rx="3.9" ry="4.45"/>
<ellipse cx="535.6" cy="501.5" rx="3.9" ry="4.45"/>
<ellipse cx="551.7" cy="492.6" rx="3.9" ry="4.45"/>
<ellipse cx="541.8" cy="486.6" rx="3.9" ry="4.45"/>
<ellipse cx="557.4" cy="496.1" rx="3.9" ry="4.45"/>
<ellipse cx="537.8" cy="497.2" rx="3.9" ry="4.45"/>
<ellipse cx="536.4" cy="495.4" rx="3.9" ry="4.45"/>
<ellipse cx="537.7" cy="489.8" rx="3.9" ry="4.45"/>
<ellipse cx="550.3" cy="494.3" rx="3.9" ry="4.45"/>
<ellipse cx="554.7" cy="487.6" rx="3.9" ry="4.45"/>
<ellipse cx="559.6" cy="499.1" rx="3.9" ry="4.45"/>
<ellipse cx="545.9" cy="494.5" rx="3.9" ry="4.45"/>
<ellipse cx="539.3" cy="491.2" rx="3.9" ry="4.45"/>
<ellipse cx="534.6" cy="492.5" rx="3.9" ry="4.45"/>
<ellipse cx="547.7" cy="499.1" rx="3.9" ry="4.45"/>
<ellipse cx="554.2" cy="496.3" rx="3.9" ry="4.45"/>
<ellipse cx="542.9" cy="490.8" rx="3.9" ry="4.45"/>
<ellipse cx="543.1" cy="493.2" rx="3.9" ry="4.45"/>
<ellipse cx="529.3" cy="496.1" rx="3.9" ry="4.45"/>
<ellipse cx="532.5" cy="489.3" rx="3.9" ry="4.45"/>
<ellipse cx="546.2" cy="489.3" rx="3.9" ry="4.45"/>
<ellipse cx="560.4" cy="491.5" rx="3.9" ry="4.45"/>
<ellipse cx="559.6" cy="498.2" rx="3.9" ry="4.45"/>
<ellipse cx="541.7" cy="494.1" rx="3.9" ry="4.45"/>
<ellipse cx="557.2" cy="490.2" rx="3.9" ry="4.45"/>
<ellipse cx="546.8" cy="489.1" rx="3.9" ry="4.45"/>
<ellipse cx="558.7" cy="501.9" rx="3.9" ry="4.45"/>
<ellipse cx="559.0" cy="513.7" rx="3.9" ry="4.45"/>
<ellipse cx="575.4" cy="506.2" rx="3.9" ry="4.45"/>
<ellipse cx="560.5" cy="512.4" rx="3.9" ry="4.45"/>
<ellipse cx="554.4" cy="495.9" rx="3.9" ry="4.45"/>
<ellipse cx="571.9" cy="496.9" rx="3.9" ry="4.45"/>
<ellipse cx="569.6" cy="496.7" rx="3.9" ry="4.45"/>
<ellipse cx="580.8" cy="496.0" rx="3.9" ry="4.45"/>
<ellipse cx="568.6" cy="518.0" rx="3.9" ry="4.45"/>
<ellipse cx="546.0" cy="517.8" rx="3.9" ry="4.45"/>
<ellipse cx="547.7" cy="489.8" rx="3.9" ry="4.45"/>
<ellipse cx="567.0" cy="511.1" rx="3.9" ry="4.45"/>
<ellipse cx="555.5" cy="483.2" rx="3.9" ry="4.45"/>
<ellipse cx="557.3" cy="502.4" rx="3.9" ry="4.45"/>
<ellipse cx="553.3" cy="502.5" rx="3.9" ry="4.45"/>
<ellipse cx="535.7" cy="500.1" rx="3.9" ry="4.45"/>
<ellipse cx="580.5" cy="518.4" rx="3.9" ry="4.45"/>
<ellipse cx="553.5" cy="498.8" rx="3.9" ry="4.45"/>
<ellipse cx="562.9" cy="514.2" rx="3.9" ry="4.45"/>
<ellipse cx="567.0" cy="494.9" rx="3.9" ry="4.45"/>
<ellipse cx="560.0" cy="506.2" rx="3.9" ry="4.45"/>
<ellipse cx="576.0" cy="515.3" rx="3.9" ry="4.45"/>
<ellipse cx="564.5" cy="515.5" rx="3.9" ry="4.45"/>
<ellipse cx="553.1" cy="518.3" rx="3.9" ry="4.45"/>
<ellipse cx="552.7" cy="508.4" rx="3.9" ry="4.45"/>
<ellipse cx="569.5" cy="497.1" rx="3.9" ry="4.45"/>
<ellipse cx="549.2" cy="489.8" rx="3.9" ry="4.45"/>
<ellipse cx="560.1" cy="504.5" rx="3.9" ry="4.45"/>
<ellipse cx="553.9" cy="509.3" rx="3.9" ry="4.45"/>
<ellipse cx="531.6" cy="504.8" rx="3.9" ry="4.45"/>
<ellipse cx="559.1" cy="502.7" rx="3.9" ry="4.45"/>
<ellipse cx="567.9" cy="520.1" rx="3.9" ry="4.45"/>
<ellipse cx="552.4" cy="496.9" rx="3.9" ry="4.45"/>
<ellipse cx="550.5" cy="505.8" rx="3.9" ry="4.45"/>
<ellipse cx="565.3" cy="497.6" rx="3.9" ry="4.45"/>
<ellipse cx="570.5" cy="496.1" rx="3.9" ry="4.45"/>
<ellipse cx="568.3" cy="508.7" rx="3.9" ry="4.45"/>
<ellipse cx="563.8" cy="523.6" rx="3.9" ry="4.45"/>
<ellipse cx="554.7" cy="503.6" rx="3.9" ry="4.45"/>
<ellipse cx="563.9" cy="512.5" rx="3.9" ry="4.45"/>
<ellipse cx="541.3" cy="507.4" rx="3.9" ry="4.45"/>
<ellipse cx="548.7" cy="510.4" rx="3.9" ry="4.45"/>
<ellipse cx="575.1" cy="505.4" rx="3.9" ry="4.45"/>
<ellipse cx="556.7" cy="506.6" rx="3.9" ry="4.45"/>
<ellipse cx="521.1" cy="511.7" rx="3.9" ry="4.45"/>
<ellipse cx="565.0" cy="506.4" rx="3.9" ry="4.45"/>
<ellipse cx="553.1" cy="498.7" rx="3.9" ry="4.45"/>
<ellipse cx="555.8" cy="515.5" rx="3.9" ry="4.45"/>
<ellipse cx="556.7" cy="516.6" rx="3.9" ry="4.45"/>
<ellipse cx="525.9" cy="501.0" rx="3.9" ry="4.45"/>
<ellipse cx="561.4" cy="504.9" rx="3.9" ry="4.45"/>
<ellipse cx="537.3" cy="499.3" rx="3.9" ry="4.45"/>
<ellipse cx="573.6" cy="493.8" rx="3.9" ry="4.45"/>
<ellipse cx="545.6" cy="495.5" rx="3.9" ry="4.45"/>
<ellipse cx="551.1" cy="510.6" rx="3.9" ry="4.45"/>
<ellipse cx="565.4" cy="487.5" rx="3.9" ry="4.45"/>
<ellipse cx="576.2" cy="499.9" rx="3.9" ry="4.45"/>
<ellipse cx="550.7" cy="519.4" rx="3.9" ry="4.45"/>
<ellipse cx="557.0" cy="494.3" rx="3.9" ry="4.45"/>
<ellipse cx="550.0" cy="498.7" rx="3.9" ry="4.45"/>
<ellipse cx="545.4" cy="502.1" rx="3.9" ry="4.45"/>
<ellipse cx="569.0" cy="508.0" rx="3.9" ry="4.45"/>
<ellipse cx="540.8" cy="529.1" rx="3.9" ry="4.45"/>
<ellipse cx="545.6" cy="506.0" rx="3.9" ry="4.45"/>
<ellipse cx="558.4" cy="511.6" rx="3.9" ry="4.45"/>
<ellipse cx="553.9" cy="508.9" rx="3.9" ry="4.45"/>
<ellipse cx="584.3" cy="505.8" rx="3.9" ry="4.45"/>
<ellipse cx="544.5" cy="507.8" rx="3.9" ry="4.45"/>
<ellipse cx="548.0" cy="501.8" rx="3.9" ry="4.45"/>
<ellipse cx="560.3" cy="507.9" rx="3.9" ry="4.45"/>
<ellipse cx="554.5" cy="512.3" rx="3.9" ry="4.45"/>
<ellipse cx="555.6" cy="493.7" rx="3.9" ry="4.45"/>
<ellipse cx="569.0" cy="501.9" rx="3.9" ry="4.45"/>
<ellipse cx="573.1" cy="499.3" rx="3.9" ry="4.45"/>
<ellipse cx="565.1" cy="507.7" rx="3.9" ry="4.45"/>
<ellipse cx="519.3" cy="508.8" rx="3.9" ry="4.45"/>
<ellipse cx="531.4" cy="522.8" rx="3.9" ry="4.45"/>
<ellipse cx="525.5" cy="520.4" rx="3.9" ry="4.45"/>
<ellipse cx="548.4" cy="518.4" rx="3.9" ry="4.45"/>
<ellipse cx="545.2" cy="513.6" rx="3.9" ry="4.45"/>
<ellipse cx="539.9" cy="517.1" rx="3.9" ry="4.45"/>
<ellipse cx="543.2" cy="519.4" rx="3.9" ry="4.45"/>
<ellipse cx="538.4" cy="512.6" rx="3.9" ry="4.45"/>
<ellipse cx="535.7" cy="518.0" rx="3.9" ry="4.45"/>
<ellipse cx="527.2" cy="510.0" rx="3.9" ry="4.45"/>
<ellipse cx="536.8" cy="513.3" rx="3.9" ry="4.45"/>
<ellipse cx="537.9" cy="503.2" rx="3.9" ry="4.45"/>
<ellipse cx="537.4" cy="514.8" rx="3.9" ry="4.45"/>
<ellipse cx="546.0" cy="506.5" rx="3.9" ry="4.45"/>
<ellipse cx="537.6" cy="518.3" rx="3.9" ry="4.45"/>
<ellipse cx="543.8" cy="521.7" rx="3.9" ry="4.45"/>
<ellipse cx="548.1" cy="511.0" rx="3.9" ry="4.45"/>
<ellipse cx="544.9" cy="514.4" rx="3.9" ry="4.45"/>
<ellipse cx="533.8" cy="523.4" rx="3.9" ry="4.45"/>
<ellipse cx="535.2" cy="511.9" rx="3.9" ry="4.45"/>
<ellipse cx="536.9" cy="511.9" rx="3.9" ry="4.45"/>
<ellipse cx="547.7" cy="517.8" rx="3.9" ry="4.45"/>
<ellipse cx="550.8" cy="518.0" rx="3.9" ry="4.45"/>
<ellipse cx="535.3" cy="521.0" rx="3.9" ry="4.45"/>
<ellipse cx="535.0" cy="513.8" rx="3.9" ry="4.45"/>
<ellipse cx="538.7" cy="516.2" rx="3.9" ry="4.45"/>
<ellipse cx="549.2" cy="513.1" rx="3.9" ry="4.45"/>
<ellipse cx="542.7" cy="515.9" rx="3.9" ry="4.45"/>
<ellipse cx="530.3" cy="510.7" rx="3.9" ry="4.45"/>
<ellipse cx="538.3" cy="517.9" rx="3.9" ry="4.45"/>
<ellipse cx="591.4" cy="534.1" rx="3.9" ry="4.45"/>
<ellipse cx="588.5" cy="530.1" rx="3.9" ry="4.45"/>
<ellipse cx="592.5" cy="527.7" rx="3.9" ry="4.45"/>
<ellipse cx="573.8" cy="530.6" rx="3.9" ry="4.45"/>
<ellipse cx="572.9" cy="529.8" rx="3.9" ry="4.45"/>
<ellipse cx="580.1" cy="529.6" rx="3.9" ry="4.45"/>
<ellipse cx="587.5" cy="528.5" rx="3.9" ry="4.45"/>
<ellipse cx="583.5" cy="524.6" rx="3.9" ry="4.45"/>
<ellipse cx="589.5" cy="528.2" rx="3.9" ry="4.45"/>
<ellipse cx="592.3" cy="519.7" rx="3.9" ry="4.45"/>
<ellipse cx="579.5" cy="533.1" rx="3.9" ry="4.45"/>
<ellipse cx="562.1" cy="530.4" rx="3.9" ry="4.45"/>
<ellipse cx="589.0" cy="532.4" rx="3.9" ry="4.45"/>
<ellipse cx="572.1" cy="533.0" rx="3.9" ry="4.45"/>
<ellipse cx="589.6" cy="527.8" rx="3.9" ry="4.45"/>
<ellipse cx="595.9" cy="531.8" rx="3.9" ry="4.45"/>
<ellipse cx="588.2" cy="530.0" rx="3.9" ry="4.45"/>
<ellipse cx="593.8" cy="532.4" rx="3.9" ry="4.45"/>
<ellipse cx="600.1" cy="534.0" rx="3.9" ry="4.45"/>
<ellipse cx="581.4" cy="531.0" rx="3.9" ry="4.45"/>
<ellipse cx="597.8" cy="530.4" rx="3.9" ry="4.45"/>
<ellipse cx="592.1" cy="534.3" rx="3.9" ry="4.45"/>
<ellipse cx="586.1" cy="521.9" rx="3.9" ry="4.45"/>
<ellipse cx="589.4" cy="532.9" rx="3.9" ry="4.45"/>
<ellipse cx="589.4" cy="528.7" rx="3.9" ry="4.45"/>
<ellipse cx="600.9" cy="531.4" rx="3.9" ry="4.45"/>
<ellipse cx="581.4" cy="528.9" rx="3.9" ry="4.45"/>
<ellipse cx="591.8" cy="527.3" rx="3.9" ry="4.45"/>
<ellipse cx="577.4" cy="540.7" rx="3.9" ry="4.45"/>
<ellipse cx="601.9" cy="536.6" rx="3.9" ry="4.45"/>
<ellipse cx="602.5" cy="534.6" rx="3.9" ry="4.45"/>
<ellipse cx="570.1" cy="537.2" rx="3.9" ry="4.45"/>
<ellipse cx="601.2" cy="534.1" rx="3.9" ry="4.45"/>
<ellipse cx="567.2" cy="537.4" rx="3.9" ry="4.45"/>
<ellipse cx="602.5" cy="529.9" rx="3.9" ry="4.45"/>
<ellipse cx="589.4" cy="535.4" rx="3.9" ry="4.45"/>
<ellipse cx="587.1" cy="536.8" rx="3.9" ry="4.45"/>
<ellipse cx="588.9" cy="535.0" rx="3.9" ry="4.45"/>
<ellipse cx="588.9" cy="525.6" rx="3.9" ry="4.45"/>
<ellipse cx="577.4" cy="545.8" rx="3.9" ry="4.45"/>
<ellipse cx="591.0" cy="537.7" rx="3.9" ry="4.45"/>
<ellipse cx="600.1" cy="539.5" rx="3.9" ry="4.45"/>
<ellipse cx="593.9" cy="529.4" rx="3.9" ry="4.45"/>
<ellipse cx="588.2" cy="523.6" rx="3.9" ry="4.45"/>
<ellipse cx="586.0" cy="536.0" rx="3.9" ry="4.45"/>
<ellipse cx="564.9" cy="532.9" rx="3.9" ry="4.45"/>
<ellipse cx="596.8" cy="537.8" rx="3.9" ry="4.45"/>
<ellipse cx="578.1" cy="529.2" rx="3.9" ry="4.45"/>
<ellipse cx="568.0" cy="527.6" rx="3.9" ry="4.45"/>
<ellipse cx="593.7" cy="541.0" rx="3.9" ry="4.45"/>
<ellipse cx="575.8" cy="538.0" rx="3.9" ry="4.45"/>
<ellipse cx="592.6" cy="529.8" rx="3.9" ry="4.45"/>
<ellipse cx="611.4" cy="521.0" rx="3.9" ry="4.45"/>
<ellipse cx="587.3" cy="533.0" rx="3.9" ry="4.45"/>
<ellipse cx="610.8" cy="539.9" rx="3.9" ry="4.45"/>
<ellipse cx="612.2" cy="532.6" rx="3.9" ry="4.45"/>
<ellipse cx="598.5" cy="538.0" rx="3.9" ry="4.45"/>
<ellipse cx="593.5" cy="533.6" rx="3.9" ry="4.45"/>
<ellipse cx="586.0" cy="530.2" rx="3.9" ry="4.45"/>
<ellipse cx="574.9" cy="540.5" rx="3.9" ry="4.45"/>
<ellipse cx="583.2" cy="522.9" rx="3.9" ry="4.45"/>
<ellipse cx="590.8" cy="531.9" rx="3.9" ry="4.45"/>
<ellipse cx="589.9" cy="539.9" rx="3.9" ry="4.45"/>
<ellipse cx="586.9" cy="530.8" rx="3.9" ry="4.45"/>
<ellipse cx="580.0" cy="531.9" rx="3.9" ry="4.45"/>
<ellipse cx="583.3" cy="532.9" rx="3.9" ry="4.45"/>
<ellipse cx="621.4" cy="533.7" rx="3.9" ry="4.45"/>
<ellipse cx="578.8" cy="540.4" rx="3.9" ry="4.45"/>
<ellipse cx="597.2" cy="535.6" rx="3.9" ry="4.45"/>
<ellipse cx="595.7" cy="535.6" rx="3.9" ry="4.45"/>
<ellipse cx="595.2" cy="538.2" rx="3.9" ry="4.45"/>
<ellipse cx="598.8" cy="537.9" rx="3.9" ry="4.45"/>
<ellipse cx="582.6" cy="532.0" rx="3.9" ry="4.45"/>
<ellipse cx="580.2" cy="536.2" rx="3.9" ry="4.45"/>
<ellipse cx="596.9" cy="530.0" rx="3.9" ry="4.45"/>
<ellipse cx="594.3" cy="543.5" rx="3.9" ry="4.45"/>
<ellipse cx="601.2" cy="527.1" rx="3.9" ry="4.45"/>
<ellipse cx="587.0" cy="534.8" rx="3.9" ry="4.45"/>
<ellipse cx="587.6" cy="533.7" rx="3.9" ry="4.45"/>
<ellipse cx="600.6" cy="533.4" rx="3.9" ry="4.45"/>
<ellipse cx="576.2" cy="535.1" rx="3.9" ry="4.45"/>
<ellipse cx="587.0" cy="532.5" rx="3.9" ry="4.45"/>
<ellipse cx="581.9" cy="525.9" rx="3.9" ry="4.45"/>
<ellipse cx="574.6" cy="530.5" rx="3.9" ry="4.45"/>
<ellipse cx="576.5" cy="520.1" rx="3.9" ry="4.45"/>
<ellipse cx="600.3" cy="526.9" rx="3.9" ry="4.45"/>
<ellipse cx="580.2" cy="534.3" rx="3.9" ry="4.45"/>
<ellipse cx="562.2" cy="537.9" rx="3.9" ry="4.45"/>
<ellipse cx="579.8" cy="534.9" rx="3.9" ry="4.45"/>
<ellipse cx="582.8" cy="533.3" rx="3.9" ry="4.45"/>
<ellipse cx="589.1" cy="532.0" rx="3.9" ry="4.45"/>
<ellipse cx="568.4" cy="525.6" rx="3.9" ry="4.45"/>
<ellipse cx="587.6" cy="538.2" rx="3.9" ry="4.45"/>
<ellipse cx="582.2" cy="534.3" rx="3.9" ry="4.45"/>
<ellipse cx="589.7" cy="534.1" rx="3.9" ry="4.45"/>
<ellipse cx="598.6" cy="525.4" rx="3.9" ry="4.45"/>
<ellipse cx="590.9" cy="531.2" rx="3.9" ry="4.45"/>
<ellipse cx="584.7" cy="528.3" rx="3.9" ry="4.45"/>
<ellipse cx="579.6" cy="527.5" rx="3.9" ry="4.45"/>
<ellipse cx="576.2" cy="543.0" rx="3.9" ry="4.45"/>
<ellipse cx="606.2" cy="532.0" rx="3.9" ry="4.45"/>
<ellipse cx="596.0" cy="527.7" rx="3.9" ry="4.45"/>
<ellipse cx="558.2" cy="524.0" rx="3.9" ry="4.45"/>
<ellipse cx="589.5" cy="538.3" rx="3.9" ry="4.45"/>
<ellipse cx="587.5" cy="527.6" rx="3.9" ry="4.45"/>
<ellipse cx="585.4" cy="527.6" rx="3.9" ry="4.45"/>
<ellipse cx="573.1" cy="531.0" rx="3.9" ry="4.45"/>
<ellipse cx="583.7" cy="528.4" rx="3.9" ry="4.45"/>
<ellipse cx="578.5" cy="527.9" rx="3.9" ry="4.45"/>
<ellipse cx="590.5" cy="538.1" rx="3.9" ry="4.45"/>
<ellipse cx="598.6" cy="537.3" rx="3.9" ry="4.45"/>
<ellipse cx="589.0" cy="523.9" rx="3.9" ry="4.45"/>
<ellipse cx="592.1" cy="520.9" rx="3.9" ry="4.45"/>
<ellipse cx="600.7" cy="525.8" rx="3.9" ry="4.45"/>
<ellipse cx="607.7" cy="518.2" rx="3.9" ry="4.45"/>
<ellipse cx="591.5" cy="520.7" rx="3.9" ry="4.45"/>
<ellipse cx="602.0" cy="517.2" rx="3.9" ry="4.45"/>
<ellipse cx="606.1" cy="533.5" rx="3.9" ry="4.45"/>
<ellipse cx="590.3" cy="524.5" rx="3.9" ry="4.45"/>
<ellipse cx="606.9" cy="508.9" rx="3.9" ry="4.45"/>
<ellipse cx="601.4" cy="520.5" rx="3.9" ry="4.45"/>
<ellipse cx="590.3" cy="531.0" rx="3.9" ry="4.45"/>
<ellipse cx="601.5" cy="518.7" rx="3.9" ry="4.45"/>
<ellipse cx="603.0" cy="526.4" rx="3.9" ry="4.45"/>
<ellipse cx="605.2" cy="526.0" rx="3.9" ry="4.45"/>
<ellipse cx="602.8" cy="514.0" rx="3.9" ry="4.45"/>
<ellipse cx="597.1" cy="522.9" rx="3.9" ry="4.45"/>
<ellipse cx="581.1" cy="536.5" rx="3.9" ry="4.45"/>
<ellipse cx="597.4" cy="514.8" rx="3.9" ry="4.45"/>
<ellipse cx="587.6" cy="523.7" rx="3.9" ry="4.45"/>
<ellipse cx="600.2" cy="518.0" rx="3.9" ry="4.45"/>
<ellipse cx="597.2" cy="515.9" rx="3.9" ry="4.45"/>
<ellipse cx="594.9" cy="521.3" rx="3.9" ry="4.45"/>
<ellipse cx="595.6" cy="526.6" rx="3.9" ry="4.45"/>
<ellipse cx="599.0" cy="522.9" rx="3.9" ry="4.45"/>
<ellipse cx="602.8" cy="530.7" rx="3.9" ry="4.45"/>
<ellipse cx="604.1" cy="523.6" rx="3.9" ry="4.45"/>
<ellipse cx="598.9" cy="516.5" rx="3.9" ry="4.45"/>
<ellipse cx="597.7" cy="526.7" rx="3.9" ry="4.45"/>
<ellipse cx="601.5" cy="519.4" rx="3.9" ry="4.45"/>
<ellipse cx="590.9" cy="511.5" rx="3.9" ry="4.45"/>
<ellipse cx="602.2" cy="529.0" rx="3.9" ry="4.45"/>
<ellipse cx="602.6" cy="512.6" rx="3.9" ry="4.45"/>
<ellipse cx="598.5" cy="523.5" rx="3.9" ry="4.45"/>
<ellipse cx="593.7" cy="524.4" rx="3.9" ry="4.45"/>
<ellipse cx="598.6" cy="516.3" rx="3.9" ry="4.45"/>
<ellipse cx="591.5" cy="527.5" rx="3.9" ry="4.45"/>
<ellipse cx="602.4" cy="515.9" rx="3.9" ry="4.45"/>
<ellipse cx="593.1" cy="528.1" rx="3.9" ry="4.45"/>
<ellipse cx="604.1" cy="519.9" rx="3.9" ry="4.45"/>
<ellipse cx="610.9" cy="520.0" rx="3.9" ry="4.45"/>
<ellipse cx="592.8" cy="529.4" rx="3.9" ry="4.45"/>
<ellipse cx="598.7" cy="524.4" rx="3.9" ry="4.45"/>
<ellipse cx="600.3" cy="515.2" rx="3.9" ry="4.45"/>
<ellipse cx="591.9" cy="520.7" rx="3.9" ry="4.45"/>
<ellipse cx="609.6" cy="515.2" rx="3.9" ry="4.45"/>
<ellipse cx="609.3" cy="523.5" rx="3.9" ry="4.45"/>
<ellipse cx="592.4" cy="523.8" rx="3.9" ry="4.45"/>
<ellipse cx="603.9" cy="515.9" rx="3.9" ry="4.45"/>
<ellipse cx="585.5" cy="524.4" rx="3.9" ry="4.45"/>
<ellipse cx="592.4" cy="525.0" rx="3.9" ry="4.45"/>
<ellipse cx="587.0" cy="521.0" rx="3.9" ry="4.45"/>
<ellipse cx="594.5" cy="511.9" rx="3.9" ry="4.45"/>
<ellipse cx="598.4" cy="523.2" rx="3.9" ry="4.45"/>
<ellipse cx="596.2" cy="514.0" rx="3.9" ry="4.45"/>
<ellipse cx="601.4" cy="510.1" rx="3.9" ry="4.45"/>
<ellipse cx="603.6" cy="525.3" rx="3.9" ry="4.45"/>
<ellipse cx="611.4" cy="528.0" rx="3.9" ry="4.45"/>
<ellipse cx="602.4" cy="523.8" rx="3.9" ry="4.45"/>
<ellipse cx="600.2" cy="513.0" rx="3.9" ry="4.45"/>
<ellipse cx="583.4" cy="527.1" rx="3.9" ry="4.45"/>
<ellipse cx="569.8" cy="517.3" rx="3.9" ry="4.45"/>
<ellipse cx="583.5" cy="527.1" rx="3.9" ry="4.45"/>
<ellipse cx="562.8" cy="527.9" rx="3.9" ry="4.45"/>
<ellipse cx="586.7" cy="523.9" rx="3.9" ry="4.45"/>
<ellipse cx="575.1" cy="521.6" rx="3.9" ry="4.45"/>
<ellipse cx="567.1" cy="530.3" rx="3.9" ry="4.45"/>
<ellipse cx="595.9" cy="524.7" rx="3.9" ry="4.45"/>
<ellipse cx="571.0" cy="528.6" rx="3.9" ry="4.45"/>
<ellipse cx="569.6" cy="528.2" rx="3.9" ry="4.45"/>
<ellipse cx="578.4" cy="518.1" rx="3.9" ry="4.45"/>
<ellipse cx="563.7" cy="523.6" rx="3.9" ry="4.45"/>
<ellipse cx="578.5" cy="525.6" rx="3.9" ry="4.45"/>
<ellipse cx="581.6" cy="516.0" rx="3.9" ry="4.45"/>
<ellipse cx="575.8" cy="520.4" rx="3.9" ry="4.45"/>
<ellipse cx="572.8" cy="525.9" rx="3.9" ry="4.45"/>
<ellipse cx="564.5" cy="522.7" rx="3.9" ry="4.45"/>
<ellipse cx="563.0" cy="525.5" rx="3.9" ry="4.45"/>
<ellipse cx="565.4" cy="521.1" rx="3.9" ry="4.45"/>
<ellipse cx="573.7" cy="520.2" rx="3.9" ry="4.45"/>
<ellipse cx="580.9" cy="520.3" rx="3.9" ry="4.45"/>
<ellipse cx="578.6" cy="525.6" rx="3.9" ry="4.45"/>
<ellipse cx="564.0" cy="522.7" rx="3.9" ry="4.45"/>
<ellipse cx="565.5" cy="521.9" rx="3.9" ry="4.45"/>
<ellipse cx="569.9" cy="534.6" rx="3.9" ry="4.45"/>
<ellipse cx="568.7" cy="533.1" rx="3.9" ry="4.45"/>
<ellipse cx="575.5" cy="516.4" rx="3.9" ry="4.45"/>
<ellipse cx="554.1" cy="527.9" rx="3.9" ry="4.45"/>
<ellipse cx="556.6" cy="528.2" rx="3.9" ry="4.45"/>
<ellipse cx="580.0" cy="526.3" rx="3.9" ry="4.45"/>
<ellipse cx="570.4" cy="522.5" rx="3.9" ry="4.45"/>
<ellipse cx="574.0" cy="522.2" rx="3.9" ry="4.45"/>
<ellipse cx="567.9" cy="521.8" rx="3.9" ry="4.45"/>
<ellipse cx="581.1" cy="520.4" rx="3.9" ry="4.45"/>
<ellipse cx="574.9" cy="517.3" rx="3.9" ry="4.45"/>
<ellipse cx="566.5" cy="516.0" rx="3.9" ry="4.45"/>
<ellipse cx="570.5" cy="528.0" rx="3.9" ry="4.45"/>
<ellipse cx="574.4" cy="521.1" rx="3.9" ry="4.45"/>
<ellipse cx="576.7" cy="522.0" rx="3.9" ry="4.45"/>
<ellipse cx="574.9" cy="525.6" rx="3.9" ry="4.45"/>
<ellipse cx="576.2" cy="509.6" rx="3.9" ry="4.45"/>
<ellipse cx="561.9" cy="528.5" rx="3.9" ry="4.45"/>
<ellipse cx="571.2" cy="537.0" rx="3.9" ry="4.45"/>
<ellipse cx="570.2" cy="520.8" rx="3.9" ry="4.45"/>
<ellipse cx="583.6" cy="527.2" rx="3.9" ry="4.45"/>
<ellipse cx="618.4" cy="506.9" rx="3.9" ry="4.45"/>
<ellipse cx="611.3" cy="508.6" rx="3.9" ry="4.45"/>
<ellipse cx="609.3" cy="499.5" rx="3.9" ry="4.45"/>
<ellipse cx="610.1" cy="501.3" rx="3.9" ry="4.45"/>
<ellipse cx="614.6" cy="499.3" rx="3.9" ry="4.45"/>
<ellipse cx="613.1" cy="499.1" rx="3.9" ry="4.45"/>
<ellipse cx="615.0" cy="481.7" rx="3.9" ry="4.45"/>
<ellipse cx="611.3" cy="504.3" rx="3.9" ry="4.45"/>
<ellipse cx="608.3" cy="510.8" rx="3.9" ry="4.45"/>
<ellipse cx="612.7" cy="512.9" rx="3.9" ry="4.45"/>
<ellipse cx="615.3" cy="508.0" rx="3.9" ry="4.45"/>
<ellipse cx="611.5" cy="494.6" rx="3.9" ry="4.45"/>
<ellipse cx="611.3" cy="499.4" rx="3.9" ry="4.45"/>
<ellipse cx="612.8" cy="499.4" rx="3.9" ry="4.45"/>
<ellipse cx="622.3" cy="490.6" rx="3.9" ry="4.45"/>
<ellipse cx="616.0" cy="499.4" rx="3.9" ry="4.45"/>
<ellipse cx="611.2" cy="510.2" rx="3.9" ry="4.45"/>
<ellipse cx="612.0" cy="493.6" rx="3.9" ry="4.45"/>
<ellipse cx="613.4" cy="501.5" rx="3.9" ry="4.45"/>
<ellipse cx="605.0" cy="504.5" rx="3.9" ry="4.45"/>
<ellipse cx="608.4" cy="497.2" rx="3.9" ry="4.45"/>
<ellipse cx="613.6" cy="505.3" rx="3.9" ry="4.45"/>
<ellipse cx="611.0" cy="519.8" rx="3.9" ry="4.45"/>
<ellipse cx="613.4" cy="498.3" rx="3.9" ry="4.45"/>
<ellipse cx="612.8" cy="502.1" rx="3.9" ry="4.45"/>
<ellipse cx="604.6" cy="490.8" rx="3.9" ry="4.45"/>
<ellipse cx="607.3" cy="519.0" rx="3.9" ry="4.45"/>
<ellipse cx="611.4" cy="500.9" rx="3.9" ry="4.45"/>
<ellipse cx="577.7" cy="380.7" rx="3.9" ry="4.45"/>
<ellipse cx="583.5" cy="434.2" rx="3.9" ry="4.45"/>
<ellipse cx="583.3" cy="377.5" rx="3.9" ry="4.45"/>
<ellipse cx="572.4" cy="349.7" rx="3.9" ry="4.45"/>
<ellipse cx="580.8" cy="411.6" rx="3.9" ry="4.45"/>
<ellipse cx="585.7" cy="404.2" rx="3.9" ry="4.45"/>
<ellipse cx="575.4" cy="354.4" rx="3.9" ry="4.45"/>
<ellipse cx="579.5" cy="383.3" rx="3.9" ry="4.45"/>
<ellipse cx="581.0" cy="359.3" rx="3.9" ry="4.45"/>
<ellipse cx="587.6" cy="437.7" rx="3.9" ry="4.45"/>
<ellipse cx="583.7" cy="361.6" rx="3.9" ry="4.45"/>
<ellipse cx="574.0" cy="354.2" rx="3.9" ry="4.45"/>
<ellipse cx="576.1" cy="354.5" rx="3.9" ry="4.45"/>
<ellipse cx="578.8" cy="404.1" rx="3.9" ry="4.45"/>
<ellipse cx="576.8" cy="365.0" rx="3.9" ry="4.45"/>
<ellipse cx="578.4" cy="361.7" rx="3.9" ry="4.45"/>
<ellipse cx="582.4" cy="399.8" rx="3.9" ry="4.45"/>
<ellipse cx="583.9" cy="452.1" rx="3.9" ry="4.45"/>
<ellipse cx="580.9" cy="406.3" rx="3.9" ry="4.45"/>
<ellipse cx="582.4" cy="432.1" rx="3.9" ry="4.45"/>
<ellipse cx="574.2" cy="346.1" rx="3.9" ry="4.45"/>
<ellipse cx="580.5" cy="374.2" rx="3.9" ry="4.45"/>
<ellipse cx="582.1" cy="413.7" rx="3.9" ry="4.45"/>
<ellipse cx="582.2" cy="432.7" rx="3.9" ry="4.45"/>
<ellipse cx="571.6" cy="364.2" rx="3.9" ry="4.45"/>
<ellipse cx="573.7" cy="341.6" rx="3.9" ry="4.45"/>
<ellipse cx="580.7" cy="442.1" rx="3.9" ry="4.45"/>
<ellipse cx="582.0" cy="395.1" rx="3.9" ry="4.45"/>
<ellipse cx="586.6" cy="453.0" rx="3.9" ry="4.45"/>
<ellipse cx="577.9" cy="355.8" rx="3.9" ry="4.45"/>
<ellipse cx="583.0" cy="423.8" rx="3.9" ry="4.45"/>
<ellipse cx="578.8" cy="359.0" rx="3.9" ry="4.45"/>
<ellipse cx="590.9" cy="378.1" rx="3.9" ry="4.45"/>
<ellipse cx="579.1" cy="435.1" rx="3.9" ry="4.45"/>
<ellipse cx="586.8" cy="430.4" rx="3.9" ry="4.45"/>
<ellipse cx="582.9" cy="420.6" rx="3.9" ry="4.45"/>
<ellipse cx="585.5" cy="439.4" rx="3.9" ry="4.45"/>
<ellipse cx="580.0" cy="427.6" rx="3.9" ry="4.45"/>
<ellipse cx="588.0" cy="449.5" rx="3.9" ry="4.45"/>
<ellipse cx="581.6" cy="349.6" rx="3.9" ry="4.45"/>
<ellipse cx="587.6" cy="441.3" rx="3.9" ry="4.45"/>
<ellipse cx="580.4" cy="434.0" rx="3.9" ry="4.45"/>
<ellipse cx="585.7" cy="432.1" rx="3.9" ry="4.45"/>
<ellipse cx="583.4" cy="374.9" rx="3.9" ry="4.45"/>
<ellipse cx="595.9" cy="457.5" rx="3.9" ry="4.45"/>
<ellipse cx="582.6" cy="440.3" rx="3.9" ry="4.45"/>
<ellipse cx="580.0" cy="371.2" rx="3.9" ry="4.45"/>
<ellipse cx="571.9" cy="368.7" rx="3.9" ry="4.45"/>
<ellipse cx="580.5" cy="419.1" rx="3.9" ry="4.45"/>
<ellipse cx="583.8" cy="429.1" rx="3.9" ry="4.45"/>
<ellipse cx="590.9" cy="448.6" rx="3.9" ry="4.45"/>
<ellipse cx="574.2" cy="345.5" rx="3.9" ry="4.45"/>
<ellipse cx="575.0" cy="377.3" rx="3.9" ry="4.45"/>
<ellipse cx="586.6" cy="434.9" rx="3.9" ry="4.45"/>
<ellipse cx="581.6" cy="345.7" rx="3.9" ry="4.45"/>
<ellipse cx="578.2" cy="388.0" rx="3.9" ry="4.45"/>
<ellipse cx="580.7" cy="383.2" rx="3.9" ry="4.45"/>
<ellipse cx="583.2" cy="438.8" rx="3.9" ry="4.45"/>
<ellipse cx="577.0" cy="355.5" rx="3.9" ry="4.45"/>
<ellipse cx="578.2" cy="388.1" rx="3.9" ry="4.45"/>
<ellipse cx="579.8" cy="432.2" rx="3.9" ry="4.45"/>
<ellipse cx="581.5" cy="429.9" rx="3.9" ry="4.45"/>
<ellipse cx="577.8" cy="430.9" rx="3.9" ry="4.45"/>
<ellipse cx="579.3" cy="427.0" rx="3.9" ry="4.45"/>
<ellipse cx="577.8" cy="436.3" rx="3.9" ry="4.45"/>
<ellipse cx="572.9" cy="422.6" rx="3.9" ry="4.45"/>
<ellipse cx="574.7" cy="430.9" rx="3.9" ry="4.45"/>
<ellipse cx="579.9" cy="426.7" rx="3.9" ry="4.45"/>
<ellipse cx="578.9" cy="349.7" rx="3.9" ry="4.45"/>
<ellipse cx="577.9" cy="346.9" rx="3.9" ry="4.45"/>
<ellipse cx="576.9" cy="350.0" rx="3.9" ry="4.45"/>
<ellipse cx="580.3" cy="362.9" rx="3.9" ry="4.45"/>
<ellipse cx="571.8" cy="353.1" rx="3.9" ry="4.45"/>
<ellipse cx="577.0" cy="355.6" rx="3.9" ry="4.45"/>
<ellipse cx="580.1" cy="354.5" rx="3.9" ry="4.45"/>
<ellipse cx="579.3" cy="344.5" rx="3.9" ry="4.45"/>
<ellipse cx="581.5" cy="112.4" rx="3.9" ry="4.45"/>
<ellipse cx="576.5" cy="134.0" rx="3.9" ry="4.45"/>
<ellipse cx="578.2" cy="118.3" rx="3.9" ry="4.45"/>
<ellipse cx="571.6" cy="130.2" rx="3.9" ry="4.45"/>
<ellipse cx="572.5" cy="118.6" rx="3.9" ry="4.45"/>
<ellipse cx="570.6" cy="127.6" rx="3.9" ry="4.45"/>
<ellipse cx="582.3" cy="92.1" rx="3.9" ry="4.45"/>
<ellipse cx="570.6" cy="127.2" rx="3.9" ry="4.45"/>
<ellipse cx="568.5" cy="141.3" rx="3.9" ry="4.45"/>
<ellipse cx="579.9" cy="95.4" rx="3.9" ry="4.45"/>
<ellipse cx="569.0" cy="148.3" rx="3.9" ry="4.45"/>
<ellipse cx="573.7" cy="127.3" rx="3.9" ry="4.45"/>
<ellipse cx="576.3" cy="112.0" rx="3.9" ry="4.45"/>
<ellipse cx="577.8" cy="106.9" rx="3.9" ry="4.45"/>
<ellipse cx="568.5" cy="128.5" rx="3.9" ry="4.45"/>
<ellipse cx="574.9" cy="127.7" rx="3.9" ry="4.45"/>
<ellipse cx="580.5" cy="114.1" rx="3.9" ry="4.45"/>
<ellipse cx="572.5" cy="135.3" rx="3.9" ry="4.45"/>
<ellipse cx="576.6" cy="122.8" rx="3.9" ry="4.45"/>
<ellipse cx="578.8" cy="115.4" rx="3.9" ry="4.45"/>
<ellipse cx="571.5" cy="148.4" rx="3.9" ry="4.45"/>
<ellipse cx="578.6" cy="103.1" rx="3.9" ry="4.45"/>
<ellipse cx="572.4" cy="114.6" rx="3.9" ry="4.45"/>
<ellipse cx="568.6" cy="151.8" rx="3.9" ry="4.45"/>
<ellipse cx="568.8" cy="150.9" rx="3.9" ry="4.45"/>
<ellipse cx="577.5" cy="119.8" rx="3.9" ry="4.45"/>
<ellipse cx="571.3" cy="120.3" rx="3.9" ry="4.45"/>
<ellipse cx="579.4" cy="113.6" rx="3.9" ry="4.45"/>
<ellipse cx="577.7" cy="116.1" rx="3.9" ry="4.45"/>
<ellipse cx="570.6" cy="140.4" rx="3.9" ry="4.45"/>
<ellipse cx="568.3" cy="138.3" rx="3.9" ry="4.45"/>
<ellipse cx="573.2" cy="130.5" rx="3.9" ry="4.45"/>
<ellipse cx="579.4" cy="112.4" rx="3.9" ry="4.45"/>
<ellipse cx="576.1" cy="108.0" rx="3.9" ry="4.45"/>
<ellipse cx="576.0" cy="139.8" rx="3.9" ry="4.45"/>
<ellipse cx="570.9" cy="131.3" rx="3.9" ry="4.45"/>
<ellipse cx="577.8" cy="109.1" rx="3.9" ry="4.45"/>
<ellipse cx="574.9" cy="121.4" rx="3.9" ry="4.45"/>
<ellipse cx="576.6" cy="115.8" rx="3.9" ry="4.45"/>
<ellipse cx="573.1" cy="105.2" rx="3.9" ry="4.45"/>
<ellipse cx="572.3" cy="126.3" rx="3.9" ry="4.45"/>
<ellipse cx="580.3" cy="114.3" rx="3.9" ry="4.45"/>
<ellipse cx="573.2" cy="115.6" rx="3.9" ry="4.45"/>
<ellipse cx="578.9" cy="118.0" rx="3.9" ry="4.45"/>
<ellipse cx="571.1" cy="123.7" rx="3.9" ry="4.45"/>
<ellipse cx="570.4" cy="148.0" rx="3.9" ry="4.45"/>
<ellipse cx="577.6" cy="97.6" rx="3.9" ry="4.45"/>
<ellipse cx="568.1" cy="140.3" rx="3.9" ry="4.45"/>
<ellipse cx="574.4" cy="115.5" rx="3.9" ry="4.45"/>
<ellipse cx="571.1" cy="138.1" rx="3.9" ry="4.45"/>
<ellipse cx="577.1" cy="97.3" rx="3.9" ry="4.45"/>
<ellipse cx="579.7" cy="119.0" rx="3.9" ry="4.45"/>
<ellipse cx="573.4" cy="133.5" rx="3.9" ry="4.45"/>
<ellipse cx="572.0" cy="147.8" rx="3.9" ry="4.45"/>
<ellipse cx="571.0" cy="133.2" rx="3.9" ry="4.45"/>
<ellipse cx="579.7" cy="115.3" rx="3.9" ry="4.45"/>
<ellipse cx="577.8" cy="107.7" rx="3.9" ry="4.45"/>
<ellipse cx="577.4" cy="116.2" rx="3.9" ry="4.45"/>
<ellipse cx="579.7" cy="117.0" rx="3.9" ry="4.45"/>
<ellipse cx="580.9" cy="110.3" rx="3.9" ry="4.45"/>
<ellipse cx="574.8" cy="119.2" rx="3.9" ry="4.45"/>
<ellipse cx="580.8" cy="117.0" rx="3.9" ry="4.45"/>
<ellipse cx="576.9" cy="112.4" rx="3.9" ry="4.45"/>
<ellipse cx="576.2" cy="109.6" rx="3.9" ry="4.45"/>
<ellipse cx="576.9" cy="114.1" rx="3.9" ry="4.45"/>
<ellipse cx="574.4" cy="114.6" rx="3.9" ry="4.45"/>
<ellipse cx="577.2" cy="110.4" rx="3.9" ry="4.45"/>
<ellipse cx="577.5" cy="109.4" rx="3.9" ry="4.45"/>
<ellipse cx="577.5" cy="120.3" rx="3.9" ry="4.45"/>
<ellipse cx="575.9" cy="116.5" rx="3.9" ry="4.45"/>
<ellipse cx="575.6" cy="110.2" rx="3.9" ry="4.45"/>
<ellipse cx="577.4" cy="108.0" rx="3.9" ry="4.45"/>
<ellipse cx="579.1" cy="102.8" rx="3.9" ry="4.45"/>
<ellipse cx="576.5" cy="111.7" rx="3.9" ry="4.45"/>
<ellipse cx="577.1" cy="110.6" rx="3.9" ry="4.45"/>
<ellipse cx="574.7" cy="111.8" rx="3.9" ry="4.45"/>
<ellipse cx="579.9" cy="115.3" rx="3.9" ry="4.45"/>
<ellipse cx="576.5" cy="104.1" rx="3.9" ry="4.45"/>
<ellipse cx="574.9" cy="116.2" rx="3.9" ry="4.45"/>
<ellipse cx="575.7" cy="109.7" rx="3.9" ry="4.45"/>
<ellipse cx="581.9" cy="97.4" rx="3.9" ry="4.45"/>
<ellipse cx="578.9" cy="97.6" rx="3.9" ry="4.45"/>
<ellipse cx="573.9" cy="127.4" rx="3.9" ry="4.45"/>
<ellipse cx="579.3" cy="115.0" rx="3.9" ry="4.45"/>
<ellipse cx="578.6" cy="116.9" rx="3.9" ry="4.45"/>
<ellipse cx="575.6" cy="103.4" rx="3.9" ry="4.45"/>
<ellipse cx="575.1" cy="113.5" rx="3.9" ry="4.45"/>
<ellipse cx="577.8" cy="117.7" rx="3.9" ry="4.45"/>
<ellipse cx="576.7" cy="115.9" rx="3.9" ry="4.45"/>
<ellipse cx="576.8" cy="104.8" rx="3.9" ry="4.45"/>
<ellipse cx="575.6" cy="113.5" rx="3.9" ry="4.45"/>
<ellipse cx="576.6" cy="108.2" rx="3.9" ry="4.45"/>
<ellipse cx="576.7" cy="119.7" rx="3.9" ry="4.45"/>
<ellipse cx="575.2" cy="96.6" rx="3.9" ry="4.45"/>
<ellipse cx="576.9" cy="97.4" rx="3.9" ry="4.45"/>
<ellipse cx="580.1" cy="107.4" rx="3.9" ry="4.45"/>
<ellipse cx="576.8" cy="109.9" rx="3.9" ry="4.45"/>
<ellipse cx="577.1" cy="112.9" rx="3.9" ry="4.45"/>
<ellipse cx="579.3" cy="104.7" rx="3.9" ry="4.45"/>
<ellipse cx="575.8" cy="108.6" rx="3.9" ry="4.45"/>
<ellipse cx="565.5" cy="153.9" rx="3.9" ry="4.45"/>
<ellipse cx="558.7" cy="142.9" rx="3.9" ry="4.45"/>
<ellipse cx="566.6" cy="153.1" rx="3.9" ry="4.45"/>
<ellipse cx="568.7" cy="155.3" rx="3.9" ry="4.45"/>
<ellipse cx="572.8" cy="147.7" rx="3.9" ry="4.45"/>
<ellipse cx="565.2" cy="152.5" rx="3.9" ry="4.45"/>
<ellipse cx="568.8" cy="153.4" rx="3.9" ry="4.45"/>
<ellipse cx="567.8" cy="147.6" rx="3.9" ry="4.45"/>
<ellipse cx="575.8" cy="151.5" rx="3.9" ry="4.45"/>
<ellipse cx="568.3" cy="147.6" rx="3.9" ry="4.45"/>
<ellipse cx="567.9" cy="150.1" rx="3.9" ry="4.45"/>
<ellipse cx="571.0" cy="155.3" rx="3.9" ry="4.45"/>
<ellipse cx="564.3" cy="151.9" rx="3.9" ry="4.45"/>
<ellipse cx="567.0" cy="152.8" rx="3.9" ry="4.45"/>
<ellipse cx="572.3" cy="148.6" rx="3.9" ry="4.45"/>
<ellipse cx="577.6" cy="148.2" rx="3.9" ry="4.45"/>
<ellipse cx="561.0" cy="154.5" rx="3.9" ry="4.45"/>
<ellipse cx="561.5" cy="156.9" rx="3.9" ry="4.45"/>
<ellipse cx="506.5" cy="185.5" rx="3.9" ry="4.45"/>
<ellipse cx="551.0" cy="161.6" rx="3.9" ry="4.45"/>
<ellipse cx="568.4" cy="148.9" rx="3.9" ry="4.45"/>
<ellipse cx="539.3" cy="173.5" rx="3.9" ry="4.45"/>
<ellipse cx="531.2" cy="175.7" rx="3.9" ry="4.45"/>
<ellipse cx="524.7" cy="176.4" rx="3.9" ry="4.45"/>
<ellipse cx="522.1" cy="180.4" rx="3.9" ry="4.45"/>
<ellipse cx="500.5" cy="187.9" rx="3.9" ry="4.45"/>
<ellipse cx="526.3" cy="178.0" rx="3.9" ry="4.45"/>
<ellipse cx="532.3" cy="170.2" rx="3.9" ry="4.45"/>
<ellipse cx="515.8" cy="181.5" rx="3.9" ry="4.45"/>
<ellipse cx="517.7" cy="182.5" rx="3.9" ry="4.45"/>
<ellipse cx="537.7" cy="166.7" rx="3.9" ry="4.45"/>
<ellipse cx="549.1" cy="161.2" rx="3.9" ry="4.45"/>
<ellipse cx="537.2" cy="176.4" rx="3.9" ry="4.45"/>
<ellipse cx="526.2" cy="177.9" rx="3.9" ry="4.45"/>
<ellipse cx="553.9" cy="165.8" rx="3.9" ry="4.45"/>
<ellipse cx="545.5" cy="169.3" rx="3.9" ry="4.45"/>
<ellipse cx="553.5" cy="162.2" rx="3.9" ry="4.45"/>
<ellipse cx="550.9" cy="165.2" rx="3.9" ry="4.45"/>
<ellipse cx="560.1" cy="170.6" rx="3.9" ry="4.45"/>
<ellipse cx="551.4" cy="165.2" rx="3.9" ry="4.45"/>
<ellipse cx="553.8" cy="166.7" rx="3.9" ry="4.45"/>
<ellipse cx="405.9" cy="295.8" rx="3.9" ry="4.45"/>
<ellipse cx="398.2" cy="281.5" rx="3.9" ry="4.45"/>
<ellipse cx="485.4" cy="248.5" rx="3.9" ry="4.45"/>
<ellipse cx="436.0" cy="287.2" rx="3.9" ry="4.45"/>
<ellipse cx="435.5" cy="285.1" rx="3.9" ry="4.45"/>
<ellipse cx="493.3" cy="238.9" rx="3.9" ry="4.45"/>
<ellipse cx="430.3" cy="275.1" rx="3.9" ry="4.45"/>
<ellipse cx="517.2" cy="222.6" rx="3.9" ry="4.45"/>
<ellipse cx="412.1" cy="283.2" rx="3.9" ry="4.45"/>
<ellipse cx="447.5" cy="270.1" rx="3.9" ry="4.45"/>
<ellipse cx="504.2" cy="229.9" rx="3.9" ry="4.45"/>
<ellipse cx="477.8" cy="259.0" rx="3.9" ry="4.45"/>
<ellipse cx="515.2" cy="221.5" rx="3.9" ry="4.45"/>
<ellipse cx="467.9" cy="267.3" rx="3.9" ry="4.45"/>
<ellipse cx="488.8" cy="243.9" rx="3.9" ry="4.45"/>
<ellipse cx="394.9" cy="290.5" rx="3.9" ry="4.45"/>
<ellipse cx="502.1" cy="225.1" rx="3.9" ry="4.45"/>
<ellipse cx="418.4" cy="287.4" rx="3.9" ry="4.45"/>
<ellipse cx="481.0" cy="248.7" rx="3.9" ry="4.45"/>
<ellipse cx="453.1" cy="271.4" rx="3.9" ry="4.45"/>
<ellipse cx="515.2" cy="228.5" rx="3.9" ry="4.45"/>
<ellipse cx="430.1" cy="273.5" rx="3.9" ry="4.45"/>
<ellipse cx="458.3" cy="266.1" rx="3.9" ry="4.45"/>
<ellipse cx="446.4" cy="270.8" rx="3.9" ry="4.45"/>
<ellipse cx="428.7" cy="277.5" rx="3.9" ry="4.45"/>
<ellipse cx="438.1" cy="279.2" rx="3.9" ry="4.45"/>
<ellipse cx="406.4" cy="288.8" rx="3.9" ry="4.45"/>
<ellipse cx="498.2" cy="238.9" rx="3.9" ry="4.45"/>
<ellipse cx="432.7" cy="281.2" rx="3.9" ry="4.45"/>
<ellipse cx="475.1" cy="257.0" rx="3.9" ry="4.45"/>
<ellipse cx="471.5" cy="261.0" rx="3.9" ry="4.45"/>
<ellipse cx="405.1" cy="280.8" rx="3.9" ry="4.45"/>
<ellipse cx="396.8" cy="289.1" rx="3.9" ry="4.45"/>
<ellipse cx="485.6" cy="247.1" rx="3.9" ry="4.45"/>
<ellipse cx="496.0" cy="238.3" rx="3.9" ry="4.45"/>
<ellipse cx="479.0" cy="245.8" rx="3.9" ry="4.45"/>
<ellipse cx="411.3" cy="281.7" rx="3.9" ry="4.45"/>
<ellipse cx="503.7" cy="231.1" rx="3.9" ry="4.45"/>
<ellipse cx="439.1" cy="277.6" rx="3.9" ry="4.45"/>
<ellipse cx="403.2" cy="295.8" rx="3.9" ry="4.45"/>
<ellipse cx="429.6" cy="272.0" rx="3.9" ry="4.45"/>
<ellipse cx="475.0" cy="255.8" rx="3.9" ry="4.45"/>
<ellipse cx="402.7" cy="292.9" rx="3.9" ry="4.45"/>
<ellipse cx="483.0" cy="249.5" rx="3.9" ry="4.45"/>
<ellipse cx="482.3" cy="234.2" rx="3.9" ry="4.45"/>
<ellipse cx="487.7" cy="242.9" rx="3.9" ry="4.45"/>
<ellipse cx="434.6" cy="269.0" rx="3.9" ry="4.45"/>
<ellipse cx="486.4" cy="247.6" rx="3.9" ry="4.45"/>
<ellipse cx="435.6" cy="280.0" rx="3.9" ry="4.45"/>
<ellipse cx="396.7" cy="286.4" rx="3.9" ry="4.45"/>
<ellipse cx="433.5" cy="270.9" rx="3.9" ry="4.45"/>
<ellipse cx="482.2" cy="252.0" rx="3.9" ry="4.45"/>
<ellipse cx="555.7" cy="246.2" rx="3.9" ry="4.45"/>
<ellipse cx="552.5" cy="246.8" rx="3.9" ry="4.45"/>
<ellipse cx="537.8" cy="246.2" rx="3.9" ry="4.45"/>
<ellipse cx="549.5" cy="244.5" rx="3.9" ry="4.45"/>
<ellipse cx="551.4" cy="244.8" rx="3.9" ry="4.45"/>
<ellipse cx="554.4" cy="247.0" rx="3.9" ry="4.45"/>
<ellipse cx="544.6" cy="247.7" rx="3.9" ry="4.45"/>
<ellipse cx="524.0" cy="252.0" rx="3.9" ry="4.45"/>
<ellipse cx="504.0" cy="260.0" rx="3.9" ry="4.45"/>
<ellipse cx="510.0" cy="262.0" rx="3.9" ry="4.45"/>
<ellipse cx="468.0" cy="280.0" rx="3.9" ry="4.45"/>
<ellipse cx="466.0" cy="279.0" rx="3.9" ry="4.45"/>
<ellipse cx="442.0" cy="291.0" rx="3.9" ry="4.45"/>
<ellipse cx="445.0" cy="290.0" rx="3.9" ry="4.45"/>
<ellipse cx="442.4" cy="273.6" rx="3.9" ry="4.45"/>
<ellipse cx="452.8" cy="275.9" rx="3.9" ry="4.45"/>
<ellipse cx="443.9" cy="276.7" rx="3.9" ry="4.45"/>
<ellipse cx="452.5" cy="273.1" rx="3.9" ry="4.45"/>
<ellipse cx="447.9" cy="277.8" rx="3.9" ry="4.45"/>
<ellipse cx="448.5" cy="267.8" rx="3.9" ry="4.45"/>
<ellipse cx="334.0" cy="327.0" rx="3.9" ry="4.45"/>
<ellipse cx="357.0" cy="319.0" rx="3.9" ry="4.45"/>
<ellipse cx="448.0" cy="352.0" rx="3.9" ry="4.45"/>
<ellipse cx="419.0" cy="359.0" rx="3.9" ry="4.45"/>
<ellipse cx="430.0" cy="365.0" rx="3.9" ry="4.45"/>
<ellipse cx="383.0" cy="366.0" rx="3.9" ry="4.45"/>
<ellipse cx="362.0" cy="386.0" rx="3.9" ry="4.45"/>
<ellipse cx="301.0" cy="388.0" rx="3.9" ry="4.45"/>
<ellipse cx="262.0" cy="398.0" rx="3.9" ry="4.45"/>
<ellipse cx="262.0" cy="453.0" rx="3.9" ry="4.45"/>
<ellipse cx="277.0" cy="462.0" rx="3.9" ry="4.45"/>
<ellipse cx="292.0" cy="459.0" rx="3.9" ry="4.45"/>
<ellipse cx="355.0" cy="428.0" rx="3.9" ry="4.45"/>
<ellipse cx="240.0" cy="436.0" rx="3.9" ry="4.45"/>
<ellipse cx="229.0" cy="447.0" rx="3.9" ry="4.45"/>
<ellipse cx="405.0" cy="440.0" rx="3.9" ry="4.45"/>
<ellipse cx="412.0" cy="447.0" rx="3.9" ry="4.45"/>
</g>
<g fill="#abaeaf" fill-opacity="0.22" filter="url(#soft2)">
<ellipse cx="120.9" cy="158.8" rx="2.6" ry="2.95"/>
<ellipse cx="125.0" cy="169.1" rx="2.6" ry="2.95"/>
<ellipse cx="125.0" cy="164.8" rx="2.6" ry="2.95"/>
<ellipse cx="114.7" cy="153.8" rx="2.6" ry="2.95"/>
<ellipse cx="122.2" cy="160.8" rx="2.6" ry="2.95"/>
<ellipse cx="132.7" cy="167.0" rx="2.6" ry="2.95"/>
<ellipse cx="115.6" cy="163.4" rx="2.6" ry="2.95"/>
<ellipse cx="117.8" cy="156.3" rx="2.6" ry="2.95"/>
<ellipse cx="121.8" cy="158.4" rx="2.6" ry="2.95"/>
<ellipse cx="122.6" cy="155.7" rx="2.6" ry="2.95"/>
<ellipse cx="125.6" cy="156.8" rx="2.6" ry="2.95"/>
<ellipse cx="120.5" cy="155.0" rx="2.6" ry="2.95"/>
<ellipse cx="121.9" cy="153.9" rx="2.6" ry="2.95"/>
<ellipse cx="116.9" cy="163.0" rx="2.6" ry="2.95"/>
<ellipse cx="123.9" cy="160.7" rx="2.6" ry="2.95"/>
<ellipse cx="122.2" cy="153.7" rx="2.6" ry="2.95"/>
<ellipse cx="114.8" cy="164.4" rx="2.6" ry="2.95"/>
<ellipse cx="121.5" cy="161.6" rx="2.6" ry="2.95"/>
<ellipse cx="122.0" cy="163.3" rx="2.6" ry="2.95"/>
<ellipse cx="116.3" cy="163.9" rx="2.6" ry="2.95"/>
<ellipse cx="111.1" cy="160.0" rx="2.6" ry="2.95"/>
<ellipse cx="128.0" cy="160.5" rx="2.6" ry="2.95"/>
<ellipse cx="122.9" cy="154.6" rx="2.6" ry="2.95"/>
<ellipse cx="126.3" cy="159.1" rx="2.6" ry="2.95"/>
<ellipse cx="125.1" cy="162.1" rx="2.6" ry="2.95"/>
<ellipse cx="120.5" cy="155.6" rx="2.6" ry="2.95"/>
<ellipse cx="125.2" cy="162.2" rx="2.6" ry="2.95"/>
<ellipse cx="122.7" cy="161.5" rx="2.6" ry="2.95"/>
<ellipse cx="118.7" cy="159.0" rx="2.6" ry="2.95"/>
<ellipse cx="125.3" cy="160.2" rx="2.6" ry="2.95"/>
<ellipse cx="109.5" cy="160.5" rx="2.6" ry="2.95"/>
<ellipse cx="119.2" cy="157.3" rx="2.6" ry="2.95"/>
<ellipse cx="122.4" cy="166.9" rx="2.6" ry="2.95"/>
<ellipse cx="111.7" cy="153.7" rx="2.6" ry="2.95"/>
<ellipse cx="130.6" cy="155.5" rx="2.6" ry="2.95"/>
<ellipse cx="130.2" cy="166.4" rx="2.6" ry="2.95"/>
<ellipse cx="117.3" cy="157.4" rx="2.6" ry="2.95"/>
<ellipse cx="125.8" cy="167.7" rx="2.6" ry="2.95"/>
<ellipse cx="121.5" cy="160.2" rx="2.6" ry="2.95"/>
<ellipse cx="119.9" cy="170.4" rx="2.6" ry="2.95"/>
<ellipse cx="113.1" cy="160.2" rx="2.6" ry="2.95"/>
<ellipse cx="125.9" cy="160.7" rx="2.6" ry="2.95"/>
<ellipse cx="119.6" cy="161.4" rx="2.6" ry="2.95"/>
<ellipse cx="118.5" cy="153.6" rx="2.6" ry="2.95"/>
<ellipse cx="131.5" cy="168.8" rx="2.6" ry="2.95"/>
<ellipse cx="117.9" cy="158.4" rx="2.6" ry="2.95"/>
<ellipse cx="128.3" cy="158.5" rx="2.6" ry="2.95"/>
<ellipse cx="119.9" cy="157.9" rx="2.6" ry="2.95"/>
<ellipse cx="112.9" cy="159.7" rx="2.6" ry="2.95"/>
<ellipse cx="117.4" cy="157.1" rx="2.6" ry="2.95"/>
<ellipse cx="114.2" cy="158.0" rx="2.6" ry="2.95"/>
<ellipse cx="119.4" cy="155.5" rx="2.6" ry="2.95"/>
<ellipse cx="125.0" cy="145.5" rx="2.6" ry="2.95"/>
<ellipse cx="120.4" cy="147.2" rx="2.6" ry="2.95"/>
<ellipse cx="113.7" cy="166.8" rx="2.6" ry="2.95"/>
<ellipse cx="122.5" cy="161.6" rx="2.6" ry="2.95"/>
<ellipse cx="112.2" cy="151.2" rx="2.6" ry="2.95"/>
<ellipse cx="124.0" cy="159.9" rx="2.6" ry="2.95"/>
<ellipse cx="126.2" cy="159.3" rx="2.6" ry="2.95"/>
<ellipse cx="123.1" cy="160.8" rx="2.6" ry="2.95"/>
<ellipse cx="121.0" cy="150.7" rx="2.6" ry="2.95"/>
<ellipse cx="125.7" cy="155.9" rx="2.6" ry="2.95"/>
<ellipse cx="120.7" cy="157.2" rx="2.6" ry="2.95"/>
<ellipse cx="124.5" cy="156.7" rx="2.6" ry="2.95"/>
<ellipse cx="115.1" cy="158.9" rx="2.6" ry="2.95"/>
<ellipse cx="126.5" cy="156.0" rx="2.6" ry="2.95"/>
<ellipse cx="128.0" cy="157.6" rx="2.6" ry="2.95"/>
<ellipse cx="123.0" cy="168.2" rx="2.6" ry="2.95"/>
<ellipse cx="126.9" cy="178.7" rx="2.6" ry="2.95"/>
<ellipse cx="117.6" cy="159.1" rx="2.6" ry="2.95"/>
<ellipse cx="125.3" cy="156.8" rx="2.6" ry="2.95"/>
<ellipse cx="117.2" cy="160.8" rx="2.6" ry="2.95"/>
<ellipse cx="120.5" cy="157.0" rx="2.6" ry="2.95"/>
<ellipse cx="118.9" cy="160.3" rx="2.6" ry="2.95"/>
<ellipse cx="121.0" cy="157.9" rx="2.6" ry="2.95"/>
<ellipse cx="118.0" cy="155.3" rx="2.6" ry="2.95"/>
<ellipse cx="114.8" cy="160.0" rx="2.6" ry="2.95"/>
<ellipse cx="120.4" cy="155.1" rx="2.6" ry="2.95"/>
<ellipse cx="121.2" cy="160.8" rx="2.6" ry="2.95"/>
<ellipse cx="123.8" cy="157.2" rx="2.6" ry="2.95"/>
<ellipse cx="125.0" cy="163.1" rx="2.6" ry="2.95"/>
<ellipse cx="111.9" cy="152.4" rx="2.6" ry="2.95"/>
<ellipse cx="124.4" cy="159.4" rx="2.6" ry="2.95"/>
<ellipse cx="124.3" cy="164.3" rx="2.6" ry="2.95"/>
<ellipse cx="116.1" cy="159.7" rx="2.6" ry="2.95"/>
<ellipse cx="126.6" cy="152.8" rx="2.6" ry="2.95"/>
<ellipse cx="129.0" cy="147.4" rx="2.6" ry="2.95"/>
<ellipse cx="119.6" cy="171.0" rx="2.6" ry="2.95"/>
<ellipse cx="119.6" cy="159.0" rx="2.6" ry="2.95"/>
<ellipse cx="123.0" cy="156.7" rx="2.6" ry="2.95"/>
<ellipse cx="125.1" cy="158.5" rx="2.6" ry="2.95"/>
<ellipse cx="117.8" cy="171.9" rx="2.6" ry="2.95"/>
<ellipse cx="124.6" cy="153.8" rx="2.6" ry="2.95"/>
<ellipse cx="111.4" cy="156.0" rx="2.6" ry="2.95"/>
<ellipse cx="123.6" cy="150.5" rx="2.6" ry="2.95"/>
<ellipse cx="118.5" cy="157.8" rx="2.6" ry="2.95"/>
<ellipse cx="121.3" cy="166.1" rx="2.6" ry="2.95"/>
<ellipse cx="113.3" cy="152.9" rx="2.6" ry="2.95"/>
<ellipse cx="131.3" cy="149.6" rx="2.6" ry="2.95"/>
<ellipse cx="121.7" cy="160.0" rx="2.6" ry="2.95"/>
<ellipse cx="126.2" cy="153.7" rx="2.6" ry="2.95"/>
<ellipse cx="124.2" cy="165.7" rx="2.6" ry="2.95"/>
<ellipse cx="120.9" cy="162.0" rx="2.6" ry="2.95"/>
<ellipse cx="116.9" cy="163.0" rx="2.6" ry="2.95"/>
<ellipse cx="120.1" cy="156.1" rx="2.6" ry="2.95"/>
<ellipse cx="120.6" cy="150.3" rx="2.6" ry="2.95"/>
<ellipse cx="113.7" cy="159.5" rx="2.6" ry="2.95"/>
<ellipse cx="121.2" cy="157.3" rx="2.6" ry="2.95"/>
<ellipse cx="113.6" cy="159.3" rx="2.6" ry="2.95"/>
<ellipse cx="119.2" cy="150.3" rx="2.6" ry="2.95"/>
<ellipse cx="126.4" cy="170.6" rx="2.6" ry="2.95"/>
<ellipse cx="121.8" cy="154.1" rx="2.6" ry="2.95"/>
<ellipse cx="109.6" cy="163.8" rx="2.6" ry="2.95"/>
<ellipse cx="122.4" cy="163.4" rx="2.6" ry="2.95"/>
<ellipse cx="131.4" cy="155.2" rx="2.6" ry="2.95"/>
<ellipse cx="121.9" cy="166.9" rx="2.6" ry="2.95"/>
<ellipse cx="116.3" cy="164.3" rx="2.6" ry="2.95"/>
<ellipse cx="121.3" cy="155.1" rx="2.6" ry="2.95"/>
<ellipse cx="121.6" cy="161.8" rx="2.6" ry="2.95"/>
<ellipse cx="120.9" cy="159.5" rx="2.6" ry="2.95"/>
<ellipse cx="124.4" cy="162.2" rx="2.6" ry="2.95"/>
<ellipse cx="119.2" cy="159.1" rx="2.6" ry="2.95"/>
<ellipse cx="110.6" cy="151.5" rx="2.6" ry="2.95"/>
<ellipse cx="116.8" cy="155.6" rx="2.6" ry="2.95"/>
<ellipse cx="119.5" cy="152.3" rx="2.6" ry="2.95"/>
<ellipse cx="123.6" cy="163.6" rx="2.6" ry="2.95"/>
<ellipse cx="128.5" cy="158.9" rx="2.6" ry="2.95"/>
<ellipse cx="123.6" cy="162.5" rx="2.6" ry="2.95"/>
<ellipse cx="129.3" cy="155.8" rx="2.6" ry="2.95"/>
<ellipse cx="124.7" cy="151.2" rx="2.6" ry="2.95"/>
<ellipse cx="115.8" cy="151.6" rx="2.6" ry="2.95"/>
<ellipse cx="124.2" cy="157.2" rx="2.6" ry="2.95"/>
<ellipse cx="121.4" cy="153.4" rx="2.6" ry="2.95"/>
<ellipse cx="120.7" cy="168.2" rx="2.6" ry="2.95"/>
<ellipse cx="113.2" cy="151.6" rx="2.6" ry="2.95"/>
<ellipse cx="125.7" cy="152.8" rx="2.6" ry="2.95"/>
<ellipse cx="121.3" cy="158.9" rx="2.6" ry="2.95"/>
<ellipse cx="113.2" cy="156.1" rx="2.6" ry="2.95"/>
<ellipse cx="120.7" cy="160.1" rx="2.6" ry="2.95"/>
<ellipse cx="124.1" cy="158.1" rx="2.6" ry="2.95"/>
<ellipse cx="120.9" cy="157.5" rx="2.6" ry="2.95"/>
<ellipse cx="121.5" cy="162.3" rx="2.6" ry="2.95"/>
<ellipse cx="117.4" cy="142.2" rx="2.6" ry="2.95"/>
<ellipse cx="123.4" cy="158.3" rx="2.6" ry="2.95"/>
<ellipse cx="133.1" cy="152.2" rx="2.6" ry="2.95"/>
<ellipse cx="123.7" cy="162.0" rx="2.6" ry="2.95"/>
<ellipse cx="116.7" cy="157.3" rx="2.6" ry="2.95"/>
<ellipse cx="116.0" cy="161.1" rx="2.6" ry="2.95"/>
<ellipse cx="120.9" cy="159.8" rx="2.6" ry="2.95"/>
<ellipse cx="123.6" cy="159.6" rx="2.6" ry="2.95"/>
<ellipse cx="126.9" cy="162.2" rx="2.6" ry="2.95"/>
<ellipse cx="119.7" cy="153.9" rx="2.6" ry="2.95"/>
<ellipse cx="123.1" cy="149.4" rx="2.6" ry="2.95"/>
<ellipse cx="117.8" cy="163.4" rx="2.6" ry="2.95"/>
<ellipse cx="125.3" cy="169.7" rx="2.6" ry="2.95"/>
<ellipse cx="119.5" cy="157.3" rx="2.6" ry="2.95"/>
<ellipse cx="125.4" cy="165.0" rx="2.6" ry="2.95"/>
<ellipse cx="115.0" cy="163.8" rx="2.6" ry="2.95"/>
<ellipse cx="122.2" cy="167.7" rx="2.6" ry="2.95"/>
<ellipse cx="121.7" cy="155.7" rx="2.6" ry="2.95"/>
<ellipse cx="118.2" cy="156.2" rx="2.6" ry="2.95"/>
<ellipse cx="118.6" cy="148.4" rx="2.6" ry="2.95"/>
<ellipse cx="121.9" cy="154.1" rx="2.6" ry="2.95"/>
<ellipse cx="127.1" cy="162.5" rx="2.6" ry="2.95"/>
<ellipse cx="118.5" cy="156.8" rx="2.6" ry="2.95"/>
<ellipse cx="123.3" cy="164.8" rx="2.6" ry="2.95"/>
<ellipse cx="126.5" cy="162.9" rx="2.6" ry="2.95"/>
<ellipse cx="121.2" cy="162.2" rx="2.6" ry="2.95"/>
<ellipse cx="115.5" cy="161.1" rx="2.6" ry="2.95"/>
<ellipse cx="120.8" cy="156.6" rx="2.6" ry="2.95"/>
<ellipse cx="120.4" cy="154.2" rx="2.6" ry="2.95"/>
<ellipse cx="119.2" cy="165.6" rx="2.6" ry="2.95"/>
<ellipse cx="118.5" cy="150.9" rx="2.6" ry="2.95"/>
<ellipse cx="123.8" cy="155.8" rx="2.6" ry="2.95"/>
<ellipse cx="118.2" cy="165.5" rx="2.6" ry="2.95"/>
<ellipse cx="120.8" cy="161.2" rx="2.6" ry="2.95"/>
<ellipse cx="122.3" cy="167.3" rx="2.6" ry="2.95"/>
<ellipse cx="124.7" cy="150.3" rx="2.6" ry="2.95"/>
<ellipse cx="129.6" cy="155.5" rx="2.6" ry="2.95"/>
<ellipse cx="119.4" cy="162.5" rx="2.6" ry="2.95"/>
<ellipse cx="120.7" cy="156.2" rx="2.6" ry="2.95"/>
<ellipse cx="119.3" cy="156.5" rx="2.6" ry="2.95"/>
<ellipse cx="126.7" cy="160.0" rx="2.6" ry="2.95"/>
<ellipse cx="127.7" cy="168.4" rx="2.6" ry="2.95"/>
<ellipse cx="125.0" cy="153.7" rx="2.6" ry="2.95"/>
<ellipse cx="121.8" cy="160.6" rx="2.6" ry="2.95"/>
<ellipse cx="114.9" cy="157.7" rx="2.6" ry="2.95"/>
<ellipse cx="115.8" cy="164.6" rx="2.6" ry="2.95"/>
<ellipse cx="112.5" cy="156.3" rx="2.6" ry="2.95"/>
<ellipse cx="122.5" cy="159.3" rx="2.6" ry="2.95"/>
<ellipse cx="116.6" cy="162.1" rx="2.6" ry="2.95"/>
<ellipse cx="120.9" cy="166.2" rx="2.6" ry="2.95"/>
<ellipse cx="121.8" cy="162.7" rx="2.6" ry="2.95"/>
<ellipse cx="113.2" cy="159.3" rx="2.6" ry="2.95"/>
<ellipse cx="121.6" cy="152.7" rx="2.6" ry="2.95"/>
<ellipse cx="110.2" cy="162.1" rx="2.6" ry="2.95"/>
<ellipse cx="127.4" cy="154.9" rx="2.6" ry="2.95"/>
<ellipse cx="125.4" cy="161.7" rx="2.6" ry="2.95"/>
<ellipse cx="118.4" cy="154.6" rx="2.6" ry="2.95"/>
<ellipse cx="134.7" cy="161.6" rx="2.6" ry="2.95"/>
<ellipse cx="123.2" cy="156.4" rx="2.6" ry="2.95"/>
<ellipse cx="114.2" cy="159.6" rx="2.6" ry="2.95"/>
<ellipse cx="120.4" cy="160.0" rx="2.6" ry="2.95"/>
<ellipse cx="121.0" cy="148.6" rx="2.6" ry="2.95"/>
<ellipse cx="119.0" cy="158.9" rx="2.6" ry="2.95"/>
<ellipse cx="119.3" cy="159.5" rx="2.6" ry="2.95"/>
<ellipse cx="122.6" cy="157.6" rx="2.6" ry="2.95"/>
<ellipse cx="119.0" cy="167.1" rx="2.6" ry="2.95"/>
<ellipse cx="122.6" cy="160.0" rx="2.6" ry="2.95"/>
<ellipse cx="123.7" cy="159.4" rx="2.6" ry="2.95"/>
<ellipse cx="111.7" cy="155.9" rx="2.6" ry="2.95"/>
<ellipse cx="122.5" cy="161.0" rx="2.6" ry="2.95"/>
<ellipse cx="121.5" cy="152.2" rx="2.6" ry="2.95"/>
<ellipse cx="119.7" cy="160.4" rx="2.6" ry="2.95"/>
<ellipse cx="121.6" cy="172.7" rx="2.6" ry="2.95"/>
<ellipse cx="123.9" cy="160.9" rx="2.6" ry="2.95"/>
<ellipse cx="120.4" cy="146.4" rx="2.6" ry="2.95"/>
<ellipse cx="125.7" cy="154.5" rx="2.6" ry="2.95"/>
<ellipse cx="127.6" cy="156.0" rx="2.6" ry="2.95"/>
<ellipse cx="119.7" cy="164.0" rx="2.6" ry="2.95"/>
<ellipse cx="119.3" cy="149.3" rx="2.6" ry="2.95"/>
<ellipse cx="123.3" cy="160.6" rx="2.6" ry="2.95"/>
<ellipse cx="123.3" cy="157.3" rx="2.6" ry="2.95"/>
<ellipse cx="122.8" cy="153.4" rx="2.6" ry="2.95"/>
<ellipse cx="121.1" cy="162.2" rx="2.6" ry="2.95"/>
<ellipse cx="106.0" cy="161.2" rx="2.6" ry="2.95"/>
<ellipse cx="126.8" cy="166.7" rx="2.6" ry="2.95"/>
<ellipse cx="119.7" cy="161.1" rx="2.6" ry="2.95"/>
<ellipse cx="120.8" cy="153.0" rx="2.6" ry="2.95"/>
<ellipse cx="123.0" cy="163.3" rx="2.6" ry="2.95"/>
<ellipse cx="125.3" cy="148.1" rx="2.6" ry="2.95"/>
<ellipse cx="120.4" cy="157.6" rx="2.6" ry="2.95"/>
<ellipse cx="121.6" cy="150.5" rx="2.6" ry="2.95"/>
<ellipse cx="130.9" cy="150.0" rx="2.6" ry="2.95"/>
<ellipse cx="116.5" cy="167.5" rx="2.6" ry="2.95"/>
<ellipse cx="122.6" cy="154.1" rx="2.6" ry="2.95"/>
<ellipse cx="117.8" cy="162.0" rx="2.6" ry="2.95"/>
<ellipse cx="118.1" cy="162.3" rx="2.6" ry="2.95"/>
<ellipse cx="123.8" cy="160.5" rx="2.6" ry="2.95"/>
<ellipse cx="125.3" cy="155.0" rx="2.6" ry="2.95"/>
<ellipse cx="114.1" cy="149.3" rx="2.6" ry="2.95"/>
<ellipse cx="121.1" cy="153.9" rx="2.6" ry="2.95"/>
<ellipse cx="128.9" cy="153.2" rx="2.6" ry="2.95"/>
<ellipse cx="129.1" cy="157.5" rx="2.6" ry="2.95"/>
<ellipse cx="121.3" cy="147.9" rx="2.6" ry="2.95"/>
<ellipse cx="120.9" cy="166.0" rx="2.6" ry="2.95"/>
<ellipse cx="114.0" cy="165.2" rx="2.6" ry="2.95"/>
<ellipse cx="125.2" cy="163.1" rx="2.6" ry="2.95"/>
<ellipse cx="116.2" cy="166.7" rx="2.6" ry="2.95"/>
<ellipse cx="115.6" cy="166.8" rx="2.6" ry="2.95"/>
<ellipse cx="126.9" cy="148.8" rx="2.6" ry="2.95"/>
<ellipse cx="128.6" cy="168.0" rx="2.6" ry="2.95"/>
<ellipse cx="120.7" cy="149.7" rx="2.6" ry="2.95"/>
<ellipse cx="120.1" cy="156.6" rx="2.6" ry="2.95"/>
<ellipse cx="125.3" cy="153.0" rx="2.6" ry="2.95"/>
<ellipse cx="116.6" cy="159.4" rx="2.6" ry="2.95"/>
<ellipse cx="122.8" cy="148.6" rx="2.6" ry="2.95"/>
<ellipse cx="123.4" cy="155.2" rx="2.6" ry="2.95"/>
<ellipse cx="119.0" cy="161.5" rx="2.6" ry="2.95"/>
<ellipse cx="124.6" cy="160.9" rx="2.6" ry="2.95"/>
<ellipse cx="136.8" cy="151.0" rx="2.6" ry="2.95"/>
<ellipse cx="128.3" cy="151.3" rx="2.6" ry="2.95"/>
<ellipse cx="135.5" cy="152.4" rx="2.6" ry="2.95"/>
<ellipse cx="129.8" cy="153.7" rx="2.6" ry="2.95"/>
<ellipse cx="120.7" cy="153.6" rx="2.6" ry="2.95"/>
<ellipse cx="132.1" cy="149.1" rx="2.6" ry="2.95"/>
<ellipse cx="120.8" cy="144.5" rx="2.6" ry="2.95"/>
<ellipse cx="117.5" cy="151.4" rx="2.6" ry="2.95"/>
<ellipse cx="127.6" cy="147.0" rx="2.6" ry="2.95"/>
<ellipse cx="132.6" cy="146.7" rx="2.6" ry="2.95"/>
<ellipse cx="133.2" cy="152.9" rx="2.6" ry="2.95"/>
<ellipse cx="130.9" cy="146.3" rx="2.6" ry="2.95"/>
<ellipse cx="122.8" cy="150.4" rx="2.6" ry="2.95"/>
<ellipse cx="133.4" cy="146.5" rx="2.6" ry="2.95"/>
<ellipse cx="129.2" cy="153.2" rx="2.6" ry="2.95"/>
<ellipse cx="119.8" cy="156.7" rx="2.6" ry="2.95"/>
<ellipse cx="127.1" cy="148.3" rx="2.6" ry="2.95"/>
<ellipse cx="129.1" cy="149.5" rx="2.6" ry="2.95"/>
<ellipse cx="123.5" cy="148.0" rx="2.6" ry="2.95"/>
<ellipse cx="126.9" cy="146.4" rx="2.6" ry="2.95"/>
<ellipse cx="133.1" cy="152.3" rx="2.6" ry="2.95"/>
<ellipse cx="131.8" cy="144.4" rx="2.6" ry="2.95"/>
<ellipse cx="125.8" cy="151.9" rx="2.6" ry="2.95"/>
<ellipse cx="127.7" cy="143.7" rx="2.6" ry="2.95"/>
<ellipse cx="130.0" cy="157.1" rx="2.6" ry="2.95"/>
<ellipse cx="133.3" cy="149.8" rx="2.6" ry="2.95"/>
<ellipse cx="122.2" cy="153.8" rx="2.6" ry="2.95"/>
<ellipse cx="131.0" cy="149.0" rx="2.6" ry="2.95"/>
<ellipse cx="126.6" cy="153.0" rx="2.6" ry="2.95"/>
<ellipse cx="127.6" cy="147.8" rx="2.6" ry="2.95"/>
<ellipse cx="122.4" cy="148.8" rx="2.6" ry="2.95"/>
<ellipse cx="126.6" cy="148.3" rx="2.6" ry="2.95"/>
<ellipse cx="149.7" cy="145.8" rx="2.6" ry="2.95"/>
<ellipse cx="119.7" cy="147.7" rx="2.6" ry="2.95"/>
<ellipse cx="132.5" cy="157.0" rx="2.6" ry="2.95"/>
<ellipse cx="120.0" cy="148.1" rx="2.6" ry="2.95"/>
<ellipse cx="131.2" cy="147.6" rx="2.6" ry="2.95"/>
<ellipse cx="131.0" cy="148.9" rx="2.6" ry="2.95"/>
<ellipse cx="133.8" cy="150.6" rx="2.6" ry="2.95"/>
<ellipse cx="136.6" cy="145.5" rx="2.6" ry="2.95"/>
<ellipse cx="133.7" cy="148.8" rx="2.6" ry="2.95"/>
<ellipse cx="133.8" cy="148.2" rx="2.6" ry="2.95"/>
<ellipse cx="132.4" cy="153.9" rx="2.6" ry="2.95"/>
<ellipse cx="129.7" cy="146.5" rx="2.6" ry="2.95"/>
<ellipse cx="124.9" cy="148.4" rx="2.6" ry="2.95"/>
<ellipse cx="127.2" cy="153.6" rx="2.6" ry="2.95"/>
<ellipse cx="122.4" cy="149.7" rx="2.6" ry="2.95"/>
<ellipse cx="128.4" cy="150.2" rx="2.6" ry="2.95"/>
<ellipse cx="123.7" cy="154.7" rx="2.6" ry="2.95"/>
<ellipse cx="128.0" cy="147.4" rx="2.6" ry="2.95"/>
<ellipse cx="127.8" cy="154.2" rx="2.6" ry="2.95"/>
<ellipse cx="131.1" cy="154.2" rx="2.6" ry="2.95"/>
<ellipse cx="130.8" cy="148.7" rx="2.6" ry="2.95"/>
<ellipse cx="121.1" cy="147.1" rx="2.6" ry="2.95"/>
<ellipse cx="128.0" cy="144.5" rx="2.6" ry="2.95"/>
<ellipse cx="127.0" cy="147.3" rx="2.6" ry="2.95"/>
<ellipse cx="134.0" cy="143.2" rx="2.6" ry="2.95"/>
<ellipse cx="139.4" cy="152.7" rx="2.6" ry="2.95"/>
<ellipse cx="126.0" cy="150.5" rx="2.6" ry="2.95"/>
<ellipse cx="136.1" cy="152.6" rx="2.6" ry="2.95"/>
<ellipse cx="126.8" cy="148.3" rx="2.6" ry="2.95"/>
<ellipse cx="121.1" cy="151.2" rx="2.6" ry="2.95"/>
<ellipse cx="132.5" cy="150.0" rx="2.6" ry="2.95"/>
<ellipse cx="128.4" cy="147.4" rx="2.6" ry="2.95"/>
<ellipse cx="128.9" cy="152.0" rx="2.6" ry="2.95"/>
<ellipse cx="122.1" cy="152.6" rx="2.6" ry="2.95"/>
<ellipse cx="127.0" cy="152.0" rx="2.6" ry="2.95"/>
<ellipse cx="128.4" cy="151.4" rx="2.6" ry="2.95"/>
<ellipse cx="129.5" cy="152.9" rx="2.6" ry="2.95"/>
<ellipse cx="124.8" cy="149.9" rx="2.6" ry="2.95"/>
<ellipse cx="113.3" cy="170.3" rx="2.6" ry="2.95"/>
<ellipse cx="121.0" cy="169.5" rx="2.6" ry="2.95"/>
<ellipse cx="120.7" cy="169.0" rx="2.6" ry="2.95"/>
<ellipse cx="118.5" cy="173.2" rx="2.6" ry="2.95"/>
<ellipse cx="118.3" cy="171.2" rx="2.6" ry="2.95"/>
<ellipse cx="121.9" cy="171.7" rx="2.6" ry="2.95"/>
<ellipse cx="120.5" cy="169.5" rx="2.6" ry="2.95"/>
<ellipse cx="114.8" cy="172.1" rx="2.6" ry="2.95"/>
<ellipse cx="113.8" cy="173.1" rx="2.6" ry="2.95"/>
<ellipse cx="115.4" cy="170.9" rx="2.6" ry="2.95"/>
<ellipse cx="120.0" cy="167.5" rx="2.6" ry="2.95"/>
<ellipse cx="123.8" cy="170.2" rx="2.6" ry="2.95"/>
<ellipse cx="116.6" cy="167.7" rx="2.6" ry="2.95"/>
<ellipse cx="111.6" cy="165.9" rx="2.6" ry="2.95"/>
<ellipse cx="114.0" cy="171.5" rx="2.6" ry="2.95"/>
<ellipse cx="115.7" cy="173.0" rx="2.6" ry="2.95"/>
<ellipse cx="114.0" cy="166.5" rx="2.6" ry="2.95"/>
<ellipse cx="118.9" cy="169.6" rx="2.6" ry="2.95"/>
<ellipse cx="112.5" cy="173.6" rx="2.6" ry="2.95"/>
<ellipse cx="118.2" cy="166.8" rx="2.6" ry="2.95"/>
<ellipse cx="115.6" cy="168.0" rx="2.6" ry="2.95"/>
<ellipse cx="121.2" cy="168.9" rx="2.6" ry="2.95"/>
<ellipse cx="115.2" cy="170.9" rx="2.6" ry="2.95"/>
<ellipse cx="122.6" cy="173.5" rx="2.6" ry="2.95"/>
<ellipse cx="117.3" cy="169.4" rx="2.6" ry="2.95"/>
<ellipse cx="115.2" cy="172.6" rx="2.6" ry="2.95"/>
<ellipse cx="113.7" cy="170.1" rx="2.6" ry="2.95"/>
<ellipse cx="119.6" cy="168.6" rx="2.6" ry="2.95"/>
<ellipse cx="109.1" cy="168.9" rx="2.6" ry="2.95"/>
<ellipse cx="114.4" cy="167.8" rx="2.6" ry="2.95"/>
<ellipse cx="115.3" cy="172.1" rx="2.6" ry="2.95"/>
<ellipse cx="112.2" cy="167.2" rx="2.6" ry="2.95"/>
<ellipse cx="116.8" cy="172.4" rx="2.6" ry="2.95"/>
<ellipse cx="114.5" cy="171.5" rx="2.6" ry="2.95"/>
<ellipse cx="120.7" cy="168.4" rx="2.6" ry="2.95"/>
<ellipse cx="180.5" cy="163.3" rx="2.6" ry="2.95"/>
<ellipse cx="169.3" cy="148.4" rx="2.6" ry="2.95"/>
<ellipse cx="188.5" cy="155.3" rx="2.6" ry="2.95"/>
<ellipse cx="168.2" cy="152.7" rx="2.6" ry="2.95"/>
<ellipse cx="184.7" cy="137.6" rx="2.6" ry="2.95"/>
<ellipse cx="295.7" cy="148.4" rx="2.6" ry="2.95"/>
<ellipse cx="303.4" cy="161.2" rx="2.6" ry="2.95"/>
<ellipse cx="217.1" cy="164.1" rx="2.6" ry="2.95"/>
<ellipse cx="275.5" cy="155.1" rx="2.6" ry="2.95"/>
<ellipse cx="280.6" cy="141.7" rx="2.6" ry="2.95"/>
<ellipse cx="299.1" cy="151.1" rx="2.6" ry="2.95"/>
<ellipse cx="176.8" cy="151.7" rx="2.6" ry="2.95"/>
<ellipse cx="246.5" cy="156.8" rx="2.6" ry="2.95"/>
<ellipse cx="163.9" cy="142.4" rx="2.6" ry="2.95"/>
<ellipse cx="281.1" cy="167.7" rx="2.6" ry="2.95"/>
<ellipse cx="207.8" cy="155.5" rx="2.6" ry="2.95"/>
<ellipse cx="206.8" cy="145.9" rx="2.6" ry="2.95"/>
<ellipse cx="256.9" cy="159.1" rx="2.6" ry="2.95"/>
<ellipse cx="160.9" cy="160.5" rx="2.6" ry="2.95"/>
<ellipse cx="142.3" cy="147.7" rx="2.6" ry="2.95"/>
<ellipse cx="137.1" cy="155.2" rx="2.6" ry="2.95"/>
<ellipse cx="218.7" cy="158.0" rx="2.6" ry="2.95"/>
<ellipse cx="234.2" cy="160.2" rx="2.6" ry="2.95"/>
<ellipse cx="302.5" cy="137.4" rx="2.6" ry="2.95"/>
<ellipse cx="235.2" cy="156.8" rx="2.6" ry="2.95"/>
<ellipse cx="204.3" cy="150.5" rx="2.6" ry="2.95"/>
<ellipse cx="271.6" cy="144.4" rx="2.6" ry="2.95"/>
<ellipse cx="148.3" cy="142.1" rx="2.6" ry="2.95"/>
<ellipse cx="237.2" cy="148.7" rx="2.6" ry="2.95"/>
<ellipse cx="227.9" cy="146.5" rx="2.6" ry="2.95"/>
<ellipse cx="283.8" cy="146.7" rx="2.6" ry="2.95"/>
<ellipse cx="201.5" cy="168.4" rx="2.6" ry="2.95"/>
<ellipse cx="271.5" cy="139.6" rx="2.6" ry="2.95"/>
<ellipse cx="295.9" cy="143.7" rx="2.6" ry="2.95"/>
<ellipse cx="261.7" cy="165.6" rx="2.6" ry="2.95"/>
<ellipse cx="175.4" cy="142.8" rx="2.6" ry="2.95"/>
<ellipse cx="190.7" cy="148.8" rx="2.6" ry="2.95"/>
<ellipse cx="289.4" cy="146.8" rx="2.6" ry="2.95"/>
<ellipse cx="247.5" cy="146.9" rx="2.6" ry="2.95"/>
<ellipse cx="219.4" cy="161.4" rx="2.6" ry="2.95"/>
<ellipse cx="159.2" cy="146.3" rx="2.6" ry="2.95"/>
<ellipse cx="200.2" cy="161.0" rx="2.6" ry="2.95"/>
<ellipse cx="212.7" cy="145.6" rx="2.6" ry="2.95"/>
<ellipse cx="256.2" cy="152.0" rx="2.6" ry="2.95"/>
<ellipse cx="220.7" cy="146.7" rx="2.6" ry="2.95"/>
<ellipse cx="245.3" cy="161.6" rx="2.6" ry="2.95"/>
<ellipse cx="314.0" cy="141.7" rx="2.6" ry="2.95"/>
<ellipse cx="198.2" cy="145.2" rx="2.6" ry="2.95"/>
<ellipse cx="247.4" cy="159.0" rx="2.6" ry="2.95"/>
<ellipse cx="216.0" cy="148.6" rx="2.6" ry="2.95"/>
<ellipse cx="163.4" cy="145.5" rx="2.6" ry="2.95"/>
<ellipse cx="273.0" cy="162.2" rx="2.6" ry="2.95"/>
<ellipse cx="228.8" cy="148.4" rx="2.6" ry="2.95"/>
<ellipse cx="239.6" cy="158.0" rx="2.6" ry="2.95"/>
<ellipse cx="280.4" cy="155.5" rx="2.6" ry="2.95"/>
<ellipse cx="168.6" cy="136.4" rx="2.6" ry="2.95"/>
<ellipse cx="141.6" cy="152.0" rx="2.6" ry="2.95"/>
<ellipse cx="255.6" cy="147.5" rx="2.6" ry="2.95"/>
<ellipse cx="291.3" cy="155.3" rx="2.6" ry="2.95"/>
<ellipse cx="275.2" cy="157.1" rx="2.6" ry="2.95"/>
<ellipse cx="220.2" cy="156.3" rx="2.6" ry="2.95"/>
<ellipse cx="275.3" cy="153.6" rx="2.6" ry="2.95"/>
<ellipse cx="188.7" cy="147.2" rx="2.6" ry="2.95"/>
<ellipse cx="269.4" cy="137.9" rx="2.6" ry="2.95"/>
<ellipse cx="258.0" cy="147.2" rx="2.6" ry="2.95"/>
<ellipse cx="274.2" cy="154.1" rx="2.6" ry="2.95"/>
<ellipse cx="290.8" cy="140.3" rx="2.6" ry="2.95"/>
<ellipse cx="261.6" cy="163.8" rx="2.6" ry="2.95"/>
<ellipse cx="290.3" cy="149.1" rx="2.6" ry="2.95"/>
<ellipse cx="165.8" cy="140.7" rx="2.6" ry="2.95"/>
<ellipse cx="210.1" cy="155.2" rx="2.6" ry="2.95"/>
<ellipse cx="211.8" cy="152.2" rx="2.6" ry="2.95"/>
<ellipse cx="189.4" cy="146.6" rx="2.6" ry="2.95"/>
<ellipse cx="245.3" cy="167.4" rx="2.6" ry="2.95"/>
<ellipse cx="224.0" cy="145.5" rx="2.6" ry="2.95"/>
<ellipse cx="269.2" cy="89.5" rx="2.6" ry="2.95"/>
<ellipse cx="269.8" cy="86.5" rx="2.6" ry="2.95"/>
<ellipse cx="260.9" cy="86.4" rx="2.6" ry="2.95"/>
<ellipse cx="268.3" cy="87.3" rx="2.6" ry="2.95"/>
<ellipse cx="267.9" cy="88.4" rx="2.6" ry="2.95"/>
<ellipse cx="260.6" cy="84.7" rx="2.6" ry="2.95"/>
<ellipse cx="272.2" cy="85.8" rx="2.6" ry="2.95"/>
<ellipse cx="257.1" cy="91.6" rx="2.6" ry="2.95"/>
<ellipse cx="260.8" cy="84.7" rx="2.6" ry="2.95"/>
<ellipse cx="269.8" cy="84.2" rx="2.6" ry="2.95"/>
<ellipse cx="260.6" cy="89.6" rx="2.6" ry="2.95"/>
<ellipse cx="260.9" cy="93.3" rx="2.6" ry="2.95"/>
<ellipse cx="265.5" cy="93.7" rx="2.6" ry="2.95"/>
<ellipse cx="265.6" cy="87.1" rx="2.6" ry="2.95"/>
<ellipse cx="261.8" cy="86.4" rx="2.6" ry="2.95"/>
<ellipse cx="262.5" cy="86.9" rx="2.6" ry="2.95"/>
<ellipse cx="268.9" cy="83.8" rx="2.6" ry="2.95"/>
<ellipse cx="260.4" cy="81.8" rx="2.6" ry="2.95"/>
<ellipse cx="272.5" cy="86.8" rx="2.6" ry="2.95"/>
<ellipse cx="264.9" cy="86.9" rx="2.6" ry="2.95"/>
<ellipse cx="270.0" cy="87.8" rx="2.6" ry="2.95"/>
<ellipse cx="269.3" cy="86.6" rx="2.6" ry="2.95"/>
<ellipse cx="264.4" cy="86.9" rx="2.6" ry="2.95"/>
<ellipse cx="255.7" cy="89.7" rx="2.6" ry="2.95"/>
<ellipse cx="257.1" cy="84.5" rx="2.6" ry="2.95"/>
<ellipse cx="268.4" cy="87.1" rx="2.6" ry="2.95"/>
<ellipse cx="269.1" cy="91.3" rx="2.6" ry="2.95"/>
<ellipse cx="274.3" cy="90.5" rx="2.6" ry="2.95"/>
<ellipse cx="263.9" cy="92.1" rx="2.6" ry="2.95"/>
<ellipse cx="260.6" cy="86.8" rx="2.6" ry="2.95"/>
<ellipse cx="262.0" cy="127.1" rx="2.6" ry="2.95"/>
<ellipse cx="256.4" cy="126.6" rx="2.6" ry="2.95"/>
<ellipse cx="263.8" cy="118.1" rx="2.6" ry="2.95"/>
<ellipse cx="263.4" cy="132.2" rx="2.6" ry="2.95"/>
<ellipse cx="256.6" cy="130.2" rx="2.6" ry="2.95"/>
<ellipse cx="252.2" cy="132.4" rx="2.6" ry="2.95"/>
<ellipse cx="272.3" cy="124.3" rx="2.6" ry="2.95"/>
<ellipse cx="264.0" cy="127.8" rx="2.6" ry="2.95"/>
<ellipse cx="255.3" cy="126.1" rx="2.6" ry="2.95"/>
<ellipse cx="256.1" cy="123.0" rx="2.6" ry="2.95"/>
<ellipse cx="250.2" cy="134.6" rx="2.6" ry="2.95"/>
<ellipse cx="256.9" cy="130.2" rx="2.6" ry="2.95"/>
<ellipse cx="258.6" cy="129.9" rx="2.6" ry="2.95"/>
<ellipse cx="249.4" cy="124.2" rx="2.6" ry="2.95"/>
<ellipse cx="260.2" cy="132.0" rx="2.6" ry="2.95"/>
<ellipse cx="251.3" cy="125.7" rx="2.6" ry="2.95"/>
<ellipse cx="251.7" cy="130.6" rx="2.6" ry="2.95"/>
<ellipse cx="258.7" cy="128.1" rx="2.6" ry="2.95"/>
<ellipse cx="253.8" cy="129.4" rx="2.6" ry="2.95"/>
<ellipse cx="257.2" cy="125.0" rx="2.6" ry="2.95"/>
<ellipse cx="258.7" cy="125.3" rx="2.6" ry="2.95"/>
<ellipse cx="261.8" cy="130.5" rx="2.6" ry="2.95"/>
<ellipse cx="277.6" cy="133.3" rx="2.6" ry="2.95"/>
<ellipse cx="281.3" cy="128.2" rx="2.6" ry="2.95"/>
<ellipse cx="276.4" cy="124.3" rx="2.6" ry="2.95"/>
<ellipse cx="275.3" cy="132.4" rx="2.6" ry="2.95"/>
<ellipse cx="287.0" cy="128.5" rx="2.6" ry="2.95"/>
<ellipse cx="281.8" cy="132.4" rx="2.6" ry="2.95"/>
<ellipse cx="284.9" cy="132.8" rx="2.6" ry="2.95"/>
<ellipse cx="287.1" cy="134.1" rx="2.6" ry="2.95"/>
<ellipse cx="277.2" cy="132.6" rx="2.6" ry="2.95"/>
<ellipse cx="269.3" cy="130.3" rx="2.6" ry="2.95"/>
<ellipse cx="281.1" cy="133.3" rx="2.6" ry="2.95"/>
<ellipse cx="279.5" cy="134.3" rx="2.6" ry="2.95"/>
<ellipse cx="287.6" cy="127.6" rx="2.6" ry="2.95"/>
<ellipse cx="278.3" cy="132.0" rx="2.6" ry="2.95"/>
<ellipse cx="283.5" cy="131.6" rx="2.6" ry="2.95"/>
<ellipse cx="285.2" cy="126.3" rx="2.6" ry="2.95"/>
<ellipse cx="284.9" cy="135.7" rx="2.6" ry="2.95"/>
<ellipse cx="286.6" cy="132.7" rx="2.6" ry="2.95"/>
<ellipse cx="279.8" cy="132.6" rx="2.6" ry="2.95"/>
<ellipse cx="280.6" cy="124.7" rx="2.6" ry="2.95"/>
<ellipse cx="238.0" cy="103.9" rx="2.6" ry="2.95"/>
<ellipse cx="238.4" cy="101.2" rx="2.6" ry="2.95"/>
<ellipse cx="239.8" cy="102.9" rx="2.6" ry="2.95"/>
<ellipse cx="241.3" cy="103.9" rx="2.6" ry="2.95"/>
<ellipse cx="241.9" cy="107.0" rx="2.6" ry="2.95"/>
<ellipse cx="241.7" cy="105.2" rx="2.6" ry="2.95"/>
<ellipse cx="234.9" cy="95.2" rx="2.6" ry="2.95"/>
<ellipse cx="239.0" cy="106.0" rx="2.6" ry="2.95"/>
<ellipse cx="239.3" cy="102.1" rx="2.6" ry="2.95"/>
<ellipse cx="234.8" cy="106.7" rx="2.6" ry="2.95"/>
<ellipse cx="238.4" cy="104.7" rx="2.6" ry="2.95"/>
<ellipse cx="246.7" cy="105.6" rx="2.6" ry="2.95"/>
<ellipse cx="235.5" cy="111.5" rx="2.6" ry="2.95"/>
<ellipse cx="227.7" cy="114.8" rx="2.6" ry="2.95"/>
<ellipse cx="218.1" cy="112.2" rx="2.6" ry="2.95"/>
<ellipse cx="218.6" cy="107.9" rx="2.6" ry="2.95"/>
<ellipse cx="223.8" cy="108.9" rx="2.6" ry="2.95"/>
<ellipse cx="232.1" cy="109.0" rx="2.6" ry="2.95"/>
<ellipse cx="218.7" cy="112.4" rx="2.6" ry="2.95"/>
<ellipse cx="218.9" cy="112.2" rx="2.6" ry="2.95"/>
<ellipse cx="218.4" cy="106.3" rx="2.6" ry="2.95"/>
<ellipse cx="207.5" cy="106.8" rx="2.6" ry="2.95"/>
<ellipse cx="335.5" cy="58.5" rx="2.6" ry="2.95"/>
<ellipse cx="324.7" cy="61.0" rx="2.6" ry="2.95"/>
<ellipse cx="323.2" cy="63.6" rx="2.6" ry="2.95"/>
<ellipse cx="313.1" cy="65.3" rx="2.6" ry="2.95"/>
<ellipse cx="318.7" cy="68.2" rx="2.6" ry="2.95"/>
<ellipse cx="317.4" cy="68.5" rx="2.6" ry="2.95"/>
<ellipse cx="323.3" cy="70.0" rx="2.6" ry="2.95"/>
<ellipse cx="323.5" cy="62.8" rx="2.6" ry="2.95"/>
<ellipse cx="334.7" cy="60.0" rx="2.6" ry="2.95"/>
<ellipse cx="329.8" cy="57.1" rx="2.6" ry="2.95"/>
<ellipse cx="333.9" cy="62.5" rx="2.6" ry="2.95"/>
<ellipse cx="322.8" cy="61.8" rx="2.6" ry="2.95"/>
<ellipse cx="317.0" cy="68.3" rx="2.6" ry="2.95"/>
<ellipse cx="326.2" cy="61.6" rx="2.6" ry="2.95"/>
<ellipse cx="316.6" cy="70.1" rx="2.6" ry="2.95"/>
<ellipse cx="330.4" cy="59.6" rx="2.6" ry="2.95"/>
<ellipse cx="333.9" cy="55.6" rx="2.6" ry="2.95"/>
<ellipse cx="329.5" cy="57.4" rx="2.6" ry="2.95"/>
<ellipse cx="334.0" cy="57.3" rx="2.6" ry="2.95"/>
<ellipse cx="332.5" cy="57.6" rx="2.6" ry="2.95"/>
<ellipse cx="328.0" cy="63.7" rx="2.6" ry="2.95"/>
<ellipse cx="317.5" cy="65.7" rx="2.6" ry="2.95"/>
<ellipse cx="318.7" cy="67.1" rx="2.6" ry="2.95"/>
<ellipse cx="319.2" cy="63.7" rx="2.6" ry="2.95"/>
<ellipse cx="323.7" cy="65.7" rx="2.6" ry="2.95"/>
<ellipse cx="316.4" cy="65.8" rx="2.6" ry="2.95"/>
<ellipse cx="321.1" cy="62.4" rx="2.6" ry="2.95"/>
<ellipse cx="318.1" cy="64.7" rx="2.6" ry="2.95"/>
<ellipse cx="323.9" cy="58.5" rx="2.6" ry="2.95"/>
<ellipse cx="324.5" cy="59.1" rx="2.6" ry="2.95"/>
<ellipse cx="326.3" cy="67.4" rx="2.6" ry="2.95"/>
<ellipse cx="316.9" cy="65.5" rx="2.6" ry="2.95"/>
<ellipse cx="323.1" cy="65.5" rx="2.6" ry="2.95"/>
<ellipse cx="318.8" cy="60.1" rx="2.6" ry="2.95"/>
<ellipse cx="312.4" cy="68.1" rx="2.6" ry="2.95"/>
<ellipse cx="326.9" cy="64.0" rx="2.6" ry="2.95"/>
<ellipse cx="320.7" cy="65.7" rx="2.6" ry="2.95"/>
<ellipse cx="317.5" cy="68.8" rx="2.6" ry="2.95"/>
<ellipse cx="322.8" cy="61.2" rx="2.6" ry="2.95"/>
<ellipse cx="327.0" cy="65.7" rx="2.6" ry="2.95"/>
<ellipse cx="316.6" cy="62.5" rx="2.6" ry="2.95"/>
<ellipse cx="315.5" cy="63.3" rx="2.6" ry="2.95"/>
<ellipse cx="324.0" cy="63.4" rx="2.6" ry="2.95"/>
<ellipse cx="323.0" cy="63.5" rx="2.6" ry="2.95"/>
<ellipse cx="332.4" cy="58.0" rx="2.6" ry="2.95"/>
<ellipse cx="312.6" cy="61.6" rx="2.6" ry="2.95"/>
<ellipse cx="325.1" cy="60.2" rx="2.6" ry="2.95"/>
<ellipse cx="322.6" cy="64.2" rx="2.6" ry="2.95"/>
<ellipse cx="325.8" cy="57.6" rx="2.6" ry="2.95"/>
<ellipse cx="317.1" cy="65.8" rx="2.6" ry="2.95"/>
<ellipse cx="324.1" cy="65.5" rx="2.6" ry="2.95"/>
<ellipse cx="318.3" cy="59.6" rx="2.6" ry="2.95"/>
<ellipse cx="330.9" cy="55.1" rx="2.6" ry="2.95"/>
<ellipse cx="317.3" cy="66.5" rx="2.6" ry="2.95"/>
<ellipse cx="318.7" cy="71.4" rx="2.6" ry="2.95"/>
<ellipse cx="326.3" cy="62.9" rx="2.6" ry="2.95"/>
<ellipse cx="323.0" cy="68.8" rx="2.6" ry="2.95"/>
<ellipse cx="327.2" cy="59.2" rx="2.6" ry="2.95"/>
<ellipse cx="331.5" cy="54.7" rx="2.6" ry="2.95"/>
<ellipse cx="320.0" cy="65.0" rx="2.6" ry="2.95"/>
<ellipse cx="324.1" cy="59.9" rx="2.6" ry="2.95"/>
<ellipse cx="337.0" cy="60.6" rx="2.6" ry="2.95"/>
<ellipse cx="317.5" cy="66.4" rx="2.6" ry="2.95"/>
<ellipse cx="318.9" cy="63.6" rx="2.6" ry="2.95"/>
<ellipse cx="331.3" cy="59.6" rx="2.6" ry="2.95"/>
<ellipse cx="323.3" cy="63.1" rx="2.6" ry="2.95"/>
<ellipse cx="316.6" cy="69.0" rx="2.6" ry="2.95"/>
<ellipse cx="319.8" cy="67.8" rx="2.6" ry="2.95"/>
<ellipse cx="320.2" cy="63.0" rx="2.6" ry="2.95"/>
<ellipse cx="335.0" cy="58.1" rx="2.6" ry="2.95"/>
<ellipse cx="318.8" cy="63.4" rx="2.6" ry="2.95"/>
<ellipse cx="330.3" cy="64.6" rx="2.6" ry="2.95"/>
<ellipse cx="328.1" cy="59.6" rx="2.6" ry="2.95"/>
<ellipse cx="315.2" cy="64.7" rx="2.6" ry="2.95"/>
<ellipse cx="323.4" cy="63.4" rx="2.6" ry="2.95"/>
<ellipse cx="320.5" cy="67.4" rx="2.6" ry="2.95"/>
<ellipse cx="316.3" cy="64.1" rx="2.6" ry="2.95"/>
<ellipse cx="328.1" cy="61.9" rx="2.6" ry="2.95"/>
<ellipse cx="322.1" cy="65.9" rx="2.6" ry="2.95"/>
<ellipse cx="315.3" cy="70.7" rx="2.6" ry="2.95"/>
<ellipse cx="341.9" cy="59.6" rx="2.6" ry="2.95"/>
<ellipse cx="326.8" cy="66.4" rx="2.6" ry="2.95"/>
<ellipse cx="325.7" cy="65.2" rx="2.6" ry="2.95"/>
<ellipse cx="322.7" cy="63.6" rx="2.6" ry="2.95"/>
<ellipse cx="326.1" cy="57.0" rx="2.6" ry="2.95"/>
<ellipse cx="324.2" cy="66.9" rx="2.6" ry="2.95"/>
<ellipse cx="303.0" cy="72.9" rx="2.6" ry="2.95"/>
<ellipse cx="331.1" cy="60.2" rx="2.6" ry="2.95"/>
<ellipse cx="326.8" cy="64.9" rx="2.6" ry="2.95"/>
<ellipse cx="324.6" cy="57.3" rx="2.6" ry="2.95"/>
<ellipse cx="316.8" cy="64.9" rx="2.6" ry="2.95"/>
<ellipse cx="324.6" cy="61.0" rx="2.6" ry="2.95"/>
<ellipse cx="324.9" cy="66.5" rx="2.6" ry="2.95"/>
<ellipse cx="303.7" cy="74.6" rx="2.6" ry="2.95"/>
<ellipse cx="331.4" cy="60.8" rx="2.6" ry="2.95"/>
<ellipse cx="324.2" cy="62.6" rx="2.6" ry="2.95"/>
<ellipse cx="326.9" cy="61.8" rx="2.6" ry="2.95"/>
<ellipse cx="319.5" cy="66.6" rx="2.6" ry="2.95"/>
<ellipse cx="317.9" cy="65.1" rx="2.6" ry="2.95"/>
<ellipse cx="320.3" cy="61.1" rx="2.6" ry="2.95"/>
<ellipse cx="328.4" cy="60.4" rx="2.6" ry="2.95"/>
<ellipse cx="315.4" cy="66.1" rx="2.6" ry="2.95"/>
<ellipse cx="315.3" cy="70.1" rx="2.6" ry="2.95"/>
<ellipse cx="329.7" cy="65.2" rx="2.6" ry="2.95"/>
<ellipse cx="320.6" cy="65.9" rx="2.6" ry="2.95"/>
<ellipse cx="316.1" cy="63.8" rx="2.6" ry="2.95"/>
<ellipse cx="323.8" cy="63.7" rx="2.6" ry="2.95"/>
<ellipse cx="330.5" cy="58.9" rx="2.6" ry="2.95"/>
<ellipse cx="333.0" cy="61.0" rx="2.6" ry="2.95"/>
<ellipse cx="317.4" cy="65.0" rx="2.6" ry="2.95"/>
<ellipse cx="329.3" cy="62.3" rx="2.6" ry="2.95"/>
<ellipse cx="330.4" cy="60.2" rx="2.6" ry="2.95"/>
<ellipse cx="334.7" cy="57.4" rx="2.6" ry="2.95"/>
<ellipse cx="330.5" cy="58.9" rx="2.6" ry="2.95"/>
<ellipse cx="329.7" cy="54.8" rx="2.6" ry="2.95"/>
<ellipse cx="329.1" cy="58.8" rx="2.6" ry="2.95"/>
<ellipse cx="332.6" cy="62.4" rx="2.6" ry="2.95"/>
<ellipse cx="326.5" cy="59.3" rx="2.6" ry="2.95"/>
<ellipse cx="328.6" cy="60.9" rx="2.6" ry="2.95"/>
<ellipse cx="334.1" cy="58.3" rx="2.6" ry="2.95"/>
<ellipse cx="336.4" cy="57.1" rx="2.6" ry="2.95"/>
<ellipse cx="330.4" cy="55.4" rx="2.6" ry="2.95"/>
<ellipse cx="330.0" cy="58.3" rx="2.6" ry="2.95"/>
<ellipse cx="334.0" cy="61.2" rx="2.6" ry="2.95"/>
<ellipse cx="331.2" cy="56.2" rx="2.6" ry="2.95"/>
<ellipse cx="331.0" cy="56.9" rx="2.6" ry="2.95"/>
<ellipse cx="330.6" cy="57.0" rx="2.6" ry="2.95"/>
<ellipse cx="329.4" cy="57.9" rx="2.6" ry="2.95"/>
<ellipse cx="330.5" cy="57.6" rx="2.6" ry="2.95"/>
<ellipse cx="327.9" cy="58.4" rx="2.6" ry="2.95"/>
<ellipse cx="333.7" cy="59.6" rx="2.6" ry="2.95"/>
<ellipse cx="330.4" cy="55.2" rx="2.6" ry="2.95"/>
<ellipse cx="328.1" cy="55.1" rx="2.6" ry="2.95"/>
<ellipse cx="330.1" cy="57.2" rx="2.6" ry="2.95"/>
<ellipse cx="326.7" cy="59.7" rx="2.6" ry="2.95"/>
<ellipse cx="329.0" cy="96.7" rx="2.6" ry="2.95"/>
<ellipse cx="333.8" cy="93.2" rx="2.6" ry="2.95"/>
<ellipse cx="336.0" cy="109.4" rx="2.6" ry="2.95"/>
<ellipse cx="327.6" cy="67.0" rx="2.6" ry="2.95"/>
<ellipse cx="331.7" cy="118.4" rx="2.6" ry="2.95"/>
<ellipse cx="321.9" cy="75.2" rx="2.6" ry="2.95"/>
<ellipse cx="320.0" cy="67.8" rx="2.6" ry="2.95"/>
<ellipse cx="332.6" cy="110.3" rx="2.6" ry="2.95"/>
<ellipse cx="338.1" cy="126.5" rx="2.6" ry="2.95"/>
<ellipse cx="326.6" cy="89.7" rx="2.6" ry="2.95"/>
<ellipse cx="322.9" cy="76.5" rx="2.6" ry="2.95"/>
<ellipse cx="320.3" cy="80.0" rx="2.6" ry="2.95"/>
<ellipse cx="329.8" cy="81.0" rx="2.6" ry="2.95"/>
<ellipse cx="340.3" cy="117.4" rx="2.6" ry="2.95"/>
<ellipse cx="332.0" cy="123.6" rx="2.6" ry="2.95"/>
<ellipse cx="333.9" cy="111.2" rx="2.6" ry="2.95"/>
<ellipse cx="322.8" cy="72.6" rx="2.6" ry="2.95"/>
<ellipse cx="331.8" cy="101.5" rx="2.6" ry="2.95"/>
<ellipse cx="324.4" cy="109.9" rx="2.6" ry="2.95"/>
<ellipse cx="329.5" cy="105.8" rx="2.6" ry="2.95"/>
<ellipse cx="321.0" cy="77.4" rx="2.6" ry="2.95"/>
<ellipse cx="319.1" cy="79.7" rx="2.6" ry="2.95"/>
<ellipse cx="322.5" cy="93.6" rx="2.6" ry="2.95"/>
<ellipse cx="318.1" cy="90.2" rx="2.6" ry="2.95"/>
<ellipse cx="316.7" cy="64.1" rx="2.6" ry="2.95"/>
<ellipse cx="333.6" cy="120.5" rx="2.6" ry="2.95"/>
<ellipse cx="322.0" cy="82.9" rx="2.6" ry="2.95"/>
<ellipse cx="321.8" cy="92.1" rx="2.6" ry="2.95"/>
<ellipse cx="331.1" cy="121.4" rx="2.6" ry="2.95"/>
<ellipse cx="336.1" cy="119.9" rx="2.6" ry="2.95"/>
<ellipse cx="323.7" cy="87.9" rx="2.6" ry="2.95"/>
<ellipse cx="317.8" cy="81.7" rx="2.6" ry="2.95"/>
<ellipse cx="320.8" cy="89.5" rx="2.6" ry="2.95"/>
<ellipse cx="333.3" cy="94.3" rx="2.6" ry="2.95"/>
<ellipse cx="323.5" cy="79.3" rx="2.6" ry="2.95"/>
<ellipse cx="328.2" cy="101.1" rx="2.6" ry="2.95"/>
<ellipse cx="331.3" cy="121.2" rx="2.6" ry="2.95"/>
<ellipse cx="330.2" cy="105.6" rx="2.6" ry="2.95"/>
<ellipse cx="320.1" cy="84.3" rx="2.6" ry="2.95"/>
<ellipse cx="323.3" cy="83.4" rx="2.6" ry="2.95"/>
<ellipse cx="329.2" cy="100.5" rx="2.6" ry="2.95"/>
<ellipse cx="333.4" cy="119.2" rx="2.6" ry="2.95"/>
<ellipse cx="295.8" cy="99.9" rx="2.6" ry="2.95"/>
<ellipse cx="291.4" cy="110.5" rx="2.6" ry="2.95"/>
<ellipse cx="296.9" cy="112.0" rx="2.6" ry="2.95"/>
<ellipse cx="299.8" cy="128.9" rx="2.6" ry="2.95"/>
<ellipse cx="292.2" cy="119.3" rx="2.6" ry="2.95"/>
<ellipse cx="299.3" cy="98.5" rx="2.6" ry="2.95"/>
<ellipse cx="298.4" cy="127.0" rx="2.6" ry="2.95"/>
<ellipse cx="292.8" cy="121.9" rx="2.6" ry="2.95"/>
<ellipse cx="294.8" cy="91.3" rx="2.6" ry="2.95"/>
<ellipse cx="291.2" cy="97.9" rx="2.6" ry="2.95"/>
<ellipse cx="304.6" cy="90.0" rx="2.6" ry="2.95"/>
<ellipse cx="299.7" cy="98.9" rx="2.6" ry="2.95"/>
<ellipse cx="303.2" cy="106.9" rx="2.6" ry="2.95"/>
<ellipse cx="296.5" cy="109.1" rx="2.6" ry="2.95"/>
<ellipse cx="341.9" cy="135.0" rx="2.6" ry="2.95"/>
<ellipse cx="339.6" cy="127.6" rx="2.6" ry="2.95"/>
<ellipse cx="343.8" cy="139.6" rx="2.6" ry="2.95"/>
<ellipse cx="342.1" cy="157.8" rx="2.6" ry="2.95"/>
<ellipse cx="339.3" cy="121.0" rx="2.6" ry="2.95"/>
<ellipse cx="338.4" cy="166.2" rx="2.6" ry="2.95"/>
<ellipse cx="342.3" cy="124.3" rx="2.6" ry="2.95"/>
<ellipse cx="336.8" cy="143.9" rx="2.6" ry="2.95"/>
<ellipse cx="338.7" cy="160.4" rx="2.6" ry="2.95"/>
<ellipse cx="343.0" cy="139.0" rx="2.6" ry="2.95"/>
<ellipse cx="337.9" cy="151.3" rx="2.6" ry="2.95"/>
<ellipse cx="340.8" cy="151.7" rx="2.6" ry="2.95"/>
<ellipse cx="342.4" cy="163.0" rx="2.6" ry="2.95"/>
<ellipse cx="340.6" cy="162.4" rx="2.6" ry="2.95"/>
<ellipse cx="337.2" cy="147.1" rx="2.6" ry="2.95"/>
<ellipse cx="342.4" cy="145.2" rx="2.6" ry="2.95"/>
<ellipse cx="340.2" cy="153.0" rx="2.6" ry="2.95"/>
<ellipse cx="338.5" cy="148.4" rx="2.6" ry="2.95"/>
<ellipse cx="337.0" cy="123.8" rx="2.6" ry="2.95"/>
<ellipse cx="340.0" cy="150.6" rx="2.6" ry="2.95"/>
<ellipse cx="339.5" cy="157.3" rx="2.6" ry="2.95"/>
<ellipse cx="336.0" cy="134.7" rx="2.6" ry="2.95"/>
<ellipse cx="339.5" cy="126.3" rx="2.6" ry="2.95"/>
<ellipse cx="344.2" cy="165.7" rx="2.6" ry="2.95"/>
<ellipse cx="342.0" cy="141.3" rx="2.6" ry="2.95"/>
<ellipse cx="339.7" cy="145.7" rx="2.6" ry="2.95"/>
<ellipse cx="338.7" cy="152.5" rx="2.6" ry="2.95"/>
<ellipse cx="339.2" cy="140.3" rx="2.6" ry="2.95"/>
<ellipse cx="338.4" cy="169.9" rx="2.6" ry="2.95"/>
<ellipse cx="336.9" cy="163.0" rx="2.6" ry="2.95"/>
<ellipse cx="341.0" cy="135.3" rx="2.6" ry="2.95"/>
<ellipse cx="342.1" cy="141.4" rx="2.6" ry="2.95"/>
<ellipse cx="341.1" cy="140.1" rx="2.6" ry="2.95"/>
<ellipse cx="337.1" cy="128.7" rx="2.6" ry="2.95"/>
<ellipse cx="341.6" cy="164.0" rx="2.6" ry="2.95"/>
<ellipse cx="340.1" cy="148.1" rx="2.6" ry="2.95"/>
<ellipse cx="342.8" cy="141.3" rx="2.6" ry="2.95"/>
<ellipse cx="340.4" cy="148.0" rx="2.6" ry="2.95"/>
<ellipse cx="341.8" cy="165.9" rx="2.6" ry="2.95"/>
<ellipse cx="343.0" cy="155.2" rx="2.6" ry="2.95"/>
<ellipse cx="339.2" cy="127.9" rx="2.6" ry="2.95"/>
<ellipse cx="340.0" cy="130.0" rx="2.6" ry="2.95"/>
<ellipse cx="340.5" cy="129.1" rx="2.6" ry="2.95"/>
<ellipse cx="340.9" cy="125.8" rx="2.6" ry="2.95"/>
<ellipse cx="340.6" cy="138.5" rx="2.6" ry="2.95"/>
<ellipse cx="339.2" cy="123.0" rx="2.6" ry="2.95"/>
<ellipse cx="337.2" cy="167.4" rx="2.6" ry="2.95"/>
<ellipse cx="341.0" cy="162.3" rx="2.6" ry="2.95"/>
<ellipse cx="337.0" cy="151.7" rx="2.6" ry="2.95"/>
<ellipse cx="338.7" cy="134.8" rx="2.6" ry="2.95"/>
<ellipse cx="340.2" cy="145.4" rx="2.6" ry="2.95"/>
<ellipse cx="339.9" cy="139.4" rx="2.6" ry="2.95"/>
<ellipse cx="340.4" cy="123.0" rx="2.6" ry="2.95"/>
<ellipse cx="342.5" cy="134.5" rx="2.6" ry="2.95"/>
<ellipse cx="340.3" cy="142.7" rx="2.6" ry="2.95"/>
<ellipse cx="342.6" cy="139.6" rx="2.6" ry="2.95"/>
<ellipse cx="346.2" cy="162.2" rx="2.6" ry="2.95"/>
<ellipse cx="339.9" cy="170.2" rx="2.6" ry="2.95"/>
<ellipse cx="343.2" cy="158.7" rx="2.6" ry="2.95"/>
<ellipse cx="341.8" cy="148.7" rx="2.6" ry="2.95"/>
<ellipse cx="340.5" cy="124.4" rx="2.6" ry="2.95"/>
<ellipse cx="339.0" cy="132.7" rx="2.6" ry="2.95"/>
<ellipse cx="340.6" cy="142.1" rx="2.6" ry="2.95"/>
<ellipse cx="342.9" cy="154.2" rx="2.6" ry="2.95"/>
<ellipse cx="340.3" cy="151.1" rx="2.6" ry="2.95"/>
<ellipse cx="342.5" cy="130.1" rx="2.6" ry="2.95"/>
<ellipse cx="338.1" cy="144.3" rx="2.6" ry="2.95"/>
<ellipse cx="338.9" cy="153.9" rx="2.6" ry="2.95"/>
<ellipse cx="339.0" cy="148.0" rx="2.6" ry="2.95"/>
<ellipse cx="344.5" cy="164.7" rx="2.6" ry="2.95"/>
<ellipse cx="335.2" cy="168.7" rx="2.6" ry="2.95"/>
<ellipse cx="340.0" cy="128.9" rx="2.6" ry="2.95"/>
<ellipse cx="342.8" cy="160.5" rx="2.6" ry="2.95"/>
<ellipse cx="341.1" cy="131.4" rx="2.6" ry="2.95"/>
<ellipse cx="337.4" cy="139.8" rx="2.6" ry="2.95"/>
<ellipse cx="341.3" cy="191.8" rx="2.6" ry="2.95"/>
<ellipse cx="341.7" cy="176.2" rx="2.6" ry="2.95"/>
<ellipse cx="339.2" cy="175.8" rx="2.6" ry="2.95"/>
<ellipse cx="339.5" cy="171.1" rx="2.6" ry="2.95"/>
<ellipse cx="336.7" cy="199.6" rx="2.6" ry="2.95"/>
<ellipse cx="339.4" cy="180.3" rx="2.6" ry="2.95"/>
<ellipse cx="337.7" cy="169.4" rx="2.6" ry="2.95"/>
<ellipse cx="341.6" cy="166.5" rx="2.6" ry="2.95"/>
<ellipse cx="341.8" cy="167.6" rx="2.6" ry="2.95"/>
<ellipse cx="340.9" cy="176.3" rx="2.6" ry="2.95"/>
<ellipse cx="336.6" cy="189.2" rx="2.6" ry="2.95"/>
<ellipse cx="338.2" cy="182.6" rx="2.6" ry="2.95"/>
<ellipse cx="345.0" cy="179.6" rx="2.6" ry="2.95"/>
<ellipse cx="340.2" cy="171.6" rx="2.6" ry="2.95"/>
<ellipse cx="340.8" cy="187.0" rx="2.6" ry="2.95"/>
<ellipse cx="340.0" cy="184.2" rx="2.6" ry="2.95"/>
<ellipse cx="339.2" cy="187.9" rx="2.6" ry="2.95"/>
<ellipse cx="338.9" cy="170.8" rx="2.6" ry="2.95"/>
<ellipse cx="336.8" cy="190.4" rx="2.6" ry="2.95"/>
<ellipse cx="340.4" cy="194.4" rx="2.6" ry="2.95"/>
<ellipse cx="341.9" cy="177.3" rx="2.6" ry="2.95"/>
<ellipse cx="337.9" cy="174.8" rx="2.6" ry="2.95"/>
<ellipse cx="336.7" cy="194.8" rx="2.6" ry="2.95"/>
<ellipse cx="339.6" cy="195.2" rx="2.6" ry="2.95"/>
<ellipse cx="339.7" cy="180.5" rx="2.6" ry="2.95"/>
<ellipse cx="336.4" cy="168.3" rx="2.6" ry="2.95"/>
<ellipse cx="337.5" cy="170.9" rx="2.6" ry="2.95"/>
<ellipse cx="341.9" cy="174.4" rx="2.6" ry="2.95"/>
<ellipse cx="347.3" cy="217.4" rx="2.6" ry="2.95"/>
<ellipse cx="339.2" cy="222.4" rx="2.6" ry="2.95"/>
<ellipse cx="340.4" cy="211.7" rx="2.6" ry="2.95"/>
<ellipse cx="338.3" cy="207.1" rx="2.6" ry="2.95"/>
<ellipse cx="332.2" cy="231.7" rx="2.6" ry="2.95"/>
<ellipse cx="341.1" cy="220.6" rx="2.6" ry="2.95"/>
<ellipse cx="338.5" cy="235.9" rx="2.6" ry="2.95"/>
<ellipse cx="334.9" cy="231.1" rx="2.6" ry="2.95"/>
<ellipse cx="336.3" cy="232.7" rx="2.6" ry="2.95"/>
<ellipse cx="340.7" cy="257.2" rx="2.6" ry="2.95"/>
<ellipse cx="339.8" cy="204.2" rx="2.6" ry="2.95"/>
<ellipse cx="340.4" cy="221.3" rx="2.6" ry="2.95"/>
<ellipse cx="341.8" cy="250.1" rx="2.6" ry="2.95"/>
<ellipse cx="341.0" cy="233.4" rx="2.6" ry="2.95"/>
<ellipse cx="337.7" cy="215.9" rx="2.6" ry="2.95"/>
<ellipse cx="335.8" cy="233.5" rx="2.6" ry="2.95"/>
<ellipse cx="341.9" cy="226.8" rx="2.6" ry="2.95"/>
<ellipse cx="338.0" cy="243.8" rx="2.6" ry="2.95"/>
<ellipse cx="344.0" cy="228.2" rx="2.6" ry="2.95"/>
<ellipse cx="344.5" cy="244.1" rx="2.6" ry="2.95"/>
<ellipse cx="337.6" cy="243.8" rx="2.6" ry="2.95"/>
<ellipse cx="340.9" cy="244.7" rx="2.6" ry="2.95"/>
<ellipse cx="336.5" cy="234.6" rx="2.6" ry="2.95"/>
<ellipse cx="337.1" cy="240.9" rx="2.6" ry="2.95"/>
<ellipse cx="341.4" cy="229.7" rx="2.6" ry="2.95"/>
<ellipse cx="331.7" cy="247.0" rx="2.6" ry="2.95"/>
<ellipse cx="335.5" cy="205.4" rx="2.6" ry="2.95"/>
<ellipse cx="342.7" cy="240.0" rx="2.6" ry="2.95"/>
<ellipse cx="335.8" cy="225.3" rx="2.6" ry="2.95"/>
<ellipse cx="339.2" cy="239.5" rx="2.6" ry="2.95"/>
<ellipse cx="339.1" cy="219.0" rx="2.6" ry="2.95"/>
<ellipse cx="343.1" cy="244.9" rx="2.6" ry="2.95"/>
<ellipse cx="339.4" cy="247.4" rx="2.6" ry="2.95"/>
<ellipse cx="337.6" cy="211.5" rx="2.6" ry="2.95"/>
<ellipse cx="336.7" cy="237.8" rx="2.6" ry="2.95"/>
<ellipse cx="341.1" cy="245.9" rx="2.6" ry="2.95"/>
<ellipse cx="335.8" cy="215.6" rx="2.6" ry="2.95"/>
<ellipse cx="338.9" cy="219.4" rx="2.6" ry="2.95"/>
<ellipse cx="339.2" cy="225.6" rx="2.6" ry="2.95"/>
<ellipse cx="338.5" cy="207.2" rx="2.6" ry="2.95"/>
<ellipse cx="342.5" cy="256.3" rx="2.6" ry="2.95"/>
<ellipse cx="332.1" cy="221.8" rx="2.6" ry="2.95"/>
<ellipse cx="338.1" cy="207.8" rx="2.6" ry="2.95"/>
<ellipse cx="337.3" cy="214.1" rx="2.6" ry="2.95"/>
<ellipse cx="341.9" cy="236.7" rx="2.6" ry="2.95"/>
<ellipse cx="341.2" cy="233.5" rx="2.6" ry="2.95"/>
<ellipse cx="340.6" cy="252.2" rx="2.6" ry="2.95"/>
<ellipse cx="339.2" cy="245.3" rx="2.6" ry="2.95"/>
<ellipse cx="340.0" cy="247.0" rx="2.6" ry="2.95"/>
<ellipse cx="339.6" cy="238.9" rx="2.6" ry="2.95"/>
<ellipse cx="341.8" cy="246.1" rx="2.6" ry="2.95"/>
<ellipse cx="341.4" cy="245.2" rx="2.6" ry="2.95"/>
<ellipse cx="336.5" cy="233.6" rx="2.6" ry="2.95"/>
<ellipse cx="337.9" cy="234.6" rx="2.6" ry="2.95"/>
<ellipse cx="341.8" cy="235.4" rx="2.6" ry="2.95"/>
<ellipse cx="339.7" cy="253.6" rx="2.6" ry="2.95"/>
<ellipse cx="342.1" cy="241.4" rx="2.6" ry="2.95"/>
<ellipse cx="338.6" cy="244.1" rx="2.6" ry="2.95"/>
<ellipse cx="338.9" cy="214.6" rx="2.6" ry="2.95"/>
<ellipse cx="339.9" cy="246.5" rx="2.6" ry="2.95"/>
<ellipse cx="339.5" cy="220.0" rx="2.6" ry="2.95"/>
<ellipse cx="338.9" cy="205.6" rx="2.6" ry="2.95"/>
<ellipse cx="340.4" cy="238.8" rx="2.6" ry="2.95"/>
<ellipse cx="340.6" cy="235.5" rx="2.6" ry="2.95"/>
<ellipse cx="340.6" cy="226.9" rx="2.6" ry="2.95"/>
<ellipse cx="339.6" cy="211.3" rx="2.6" ry="2.95"/>
<ellipse cx="334.8" cy="242.9" rx="2.6" ry="2.95"/>
<ellipse cx="337.0" cy="211.2" rx="2.6" ry="2.95"/>
<ellipse cx="338.3" cy="215.8" rx="2.6" ry="2.95"/>
<ellipse cx="337.2" cy="225.4" rx="2.6" ry="2.95"/>
<ellipse cx="335.8" cy="236.6" rx="2.6" ry="2.95"/>
<ellipse cx="342.5" cy="249.8" rx="2.6" ry="2.95"/>
<ellipse cx="339.6" cy="230.9" rx="2.6" ry="2.95"/>
<ellipse cx="341.1" cy="218.5" rx="2.6" ry="2.95"/>
<ellipse cx="340.7" cy="245.5" rx="2.6" ry="2.95"/>
<ellipse cx="337.2" cy="254.8" rx="2.6" ry="2.95"/>
<ellipse cx="341.5" cy="245.0" rx="2.6" ry="2.95"/>
<ellipse cx="335.8" cy="206.0" rx="2.6" ry="2.95"/>
<ellipse cx="338.4" cy="249.0" rx="2.6" ry="2.95"/>
<ellipse cx="337.3" cy="232.8" rx="2.6" ry="2.95"/>
<ellipse cx="343.3" cy="224.2" rx="2.6" ry="2.95"/>
<ellipse cx="332.5" cy="252.2" rx="2.6" ry="2.95"/>
<ellipse cx="342.3" cy="208.3" rx="2.6" ry="2.95"/>
<ellipse cx="332.1" cy="252.8" rx="2.6" ry="2.95"/>
<ellipse cx="341.9" cy="200.1" rx="2.6" ry="2.95"/>
<ellipse cx="339.2" cy="220.8" rx="2.6" ry="2.95"/>
<ellipse cx="336.1" cy="242.7" rx="2.6" ry="2.95"/>
<ellipse cx="340.0" cy="208.9" rx="2.6" ry="2.95"/>
<ellipse cx="340.8" cy="207.4" rx="2.6" ry="2.95"/>
<ellipse cx="335.1" cy="224.4" rx="2.6" ry="2.95"/>
<ellipse cx="343.3" cy="248.0" rx="2.6" ry="2.95"/>
<ellipse cx="339.1" cy="222.7" rx="2.6" ry="2.95"/>
<ellipse cx="335.4" cy="228.5" rx="2.6" ry="2.95"/>
<ellipse cx="337.7" cy="255.4" rx="2.6" ry="2.95"/>
<ellipse cx="341.3" cy="230.6" rx="2.6" ry="2.95"/>
<ellipse cx="335.5" cy="233.0" rx="2.6" ry="2.95"/>
<ellipse cx="337.2" cy="219.0" rx="2.6" ry="2.95"/>
<ellipse cx="341.7" cy="225.8" rx="2.6" ry="2.95"/>
<ellipse cx="340.2" cy="214.3" rx="2.6" ry="2.95"/>
<ellipse cx="339.5" cy="215.3" rx="2.6" ry="2.95"/>
<ellipse cx="339.1" cy="212.3" rx="2.6" ry="2.95"/>
<ellipse cx="337.3" cy="230.8" rx="2.6" ry="2.95"/>
<ellipse cx="336.8" cy="202.7" rx="2.6" ry="2.95"/>
<ellipse cx="342.8" cy="220.3" rx="2.6" ry="2.95"/>
<ellipse cx="341.7" cy="220.2" rx="2.6" ry="2.95"/>
<ellipse cx="338.7" cy="237.9" rx="2.6" ry="2.95"/>
<ellipse cx="342.5" cy="229.3" rx="2.6" ry="2.95"/>
<ellipse cx="337.9" cy="238.5" rx="2.6" ry="2.95"/>
<ellipse cx="339.2" cy="216.8" rx="2.6" ry="2.95"/>
<ellipse cx="335.0" cy="246.7" rx="2.6" ry="2.95"/>
<ellipse cx="339.6" cy="217.6" rx="2.6" ry="2.95"/>
<ellipse cx="335.8" cy="239.3" rx="2.6" ry="2.95"/>
<ellipse cx="342.8" cy="212.2" rx="2.6" ry="2.95"/>
<ellipse cx="337.2" cy="229.7" rx="2.6" ry="2.95"/>
<ellipse cx="339.0" cy="225.8" rx="2.6" ry="2.95"/>
<ellipse cx="333.7" cy="205.6" rx="2.6" ry="2.95"/>
<ellipse cx="338.6" cy="241.4" rx="2.6" ry="2.95"/>
<ellipse cx="337.9" cy="212.8" rx="2.6" ry="2.95"/>
<ellipse cx="336.1" cy="244.5" rx="2.6" ry="2.95"/>
<ellipse cx="341.5" cy="225.3" rx="2.6" ry="2.95"/>
<ellipse cx="338.7" cy="222.7" rx="2.6" ry="2.95"/>
<ellipse cx="342.9" cy="249.3" rx="2.6" ry="2.95"/>
<ellipse cx="338.6" cy="220.8" rx="2.6" ry="2.95"/>
<ellipse cx="339.4" cy="210.4" rx="2.6" ry="2.95"/>
<ellipse cx="338.2" cy="242.4" rx="2.6" ry="2.95"/>
<ellipse cx="339.7" cy="246.2" rx="2.6" ry="2.95"/>
<ellipse cx="338.8" cy="207.2" rx="2.6" ry="2.95"/>
<ellipse cx="337.0" cy="240.5" rx="2.6" ry="2.95"/>
<ellipse cx="338.0" cy="239.5" rx="2.6" ry="2.95"/>
<ellipse cx="334.4" cy="228.2" rx="2.6" ry="2.95"/>
<ellipse cx="337.7" cy="215.7" rx="2.6" ry="2.95"/>
<ellipse cx="336.2" cy="211.7" rx="2.6" ry="2.95"/>
<ellipse cx="340.4" cy="237.1" rx="2.6" ry="2.95"/>
<ellipse cx="338.8" cy="207.5" rx="2.6" ry="2.95"/>
<ellipse cx="338.8" cy="211.4" rx="2.6" ry="2.95"/>
<ellipse cx="343.4" cy="212.7" rx="2.6" ry="2.95"/>
<ellipse cx="338.5" cy="213.4" rx="2.6" ry="2.95"/>
<ellipse cx="338.0" cy="239.0" rx="2.6" ry="2.95"/>
<ellipse cx="342.3" cy="252.9" rx="2.6" ry="2.95"/>
<ellipse cx="339.3" cy="222.5" rx="2.6" ry="2.95"/>
<ellipse cx="344.8" cy="250.5" rx="2.6" ry="2.95"/>
<ellipse cx="344.4" cy="219.6" rx="2.6" ry="2.95"/>
<ellipse cx="338.8" cy="218.5" rx="2.6" ry="2.95"/>
<ellipse cx="339.6" cy="223.3" rx="2.6" ry="2.95"/>
<ellipse cx="335.8" cy="214.6" rx="2.6" ry="2.95"/>
<ellipse cx="333.6" cy="218.1" rx="2.6" ry="2.95"/>
<ellipse cx="335.4" cy="245.9" rx="2.6" ry="2.95"/>
<ellipse cx="336.2" cy="243.0" rx="2.6" ry="2.95"/>
<ellipse cx="342.2" cy="224.5" rx="2.6" ry="2.95"/>
<ellipse cx="343.6" cy="238.4" rx="2.6" ry="2.95"/>
<ellipse cx="334.8" cy="249.5" rx="2.6" ry="2.95"/>
<ellipse cx="333.1" cy="247.9" rx="2.6" ry="2.95"/>
<ellipse cx="326.6" cy="248.7" rx="2.6" ry="2.95"/>
<ellipse cx="331.2" cy="252.8" rx="2.6" ry="2.95"/>
<ellipse cx="332.7" cy="248.3" rx="2.6" ry="2.95"/>
<ellipse cx="331.1" cy="247.7" rx="2.6" ry="2.95"/>
<ellipse cx="336.6" cy="249.8" rx="2.6" ry="2.95"/>
<ellipse cx="333.7" cy="249.2" rx="2.6" ry="2.95"/>
<ellipse cx="333.7" cy="251.5" rx="2.6" ry="2.95"/>
<ellipse cx="336.9" cy="253.0" rx="2.6" ry="2.95"/>
<ellipse cx="337.3" cy="254.7" rx="2.6" ry="2.95"/>
<ellipse cx="338.6" cy="252.4" rx="2.6" ry="2.95"/>
<ellipse cx="335.3" cy="248.8" rx="2.6" ry="2.95"/>
<ellipse cx="335.4" cy="255.0" rx="2.6" ry="2.95"/>
<ellipse cx="324.9" cy="251.3" rx="2.6" ry="2.95"/>
<ellipse cx="331.9" cy="252.6" rx="2.6" ry="2.95"/>
<ellipse cx="337.5" cy="249.3" rx="2.6" ry="2.95"/>
<ellipse cx="342.2" cy="248.7" rx="2.6" ry="2.95"/>
<ellipse cx="335.5" cy="253.6" rx="2.6" ry="2.95"/>
<ellipse cx="335.9" cy="249.5" rx="2.6" ry="2.95"/>
<ellipse cx="338.0" cy="245.8" rx="2.6" ry="2.95"/>
<ellipse cx="334.0" cy="245.9" rx="2.6" ry="2.95"/>
<ellipse cx="342.2" cy="254.4" rx="2.6" ry="2.95"/>
<ellipse cx="339.6" cy="253.1" rx="2.6" ry="2.95"/>
<ellipse cx="333.4" cy="247.4" rx="2.6" ry="2.95"/>
<ellipse cx="332.4" cy="247.2" rx="2.6" ry="2.95"/>
<ellipse cx="334.0" cy="249.1" rx="2.6" ry="2.95"/>
<ellipse cx="337.6" cy="248.8" rx="2.6" ry="2.95"/>
<ellipse cx="335.5" cy="246.8" rx="2.6" ry="2.95"/>
<ellipse cx="335.3" cy="247.7" rx="2.6" ry="2.95"/>
<ellipse cx="305.3" cy="140.6" rx="2.6" ry="2.95"/>
<ellipse cx="303.8" cy="141.2" rx="2.6" ry="2.95"/>
<ellipse cx="314.6" cy="132.9" rx="2.6" ry="2.95"/>
<ellipse cx="287.7" cy="149.6" rx="2.6" ry="2.95"/>
<ellipse cx="325.9" cy="135.2" rx="2.6" ry="2.95"/>
<ellipse cx="317.8" cy="146.4" rx="2.6" ry="2.95"/>
<ellipse cx="305.5" cy="131.5" rx="2.6" ry="2.95"/>
<ellipse cx="325.1" cy="142.6" rx="2.6" ry="2.95"/>
<ellipse cx="297.0" cy="144.5" rx="2.6" ry="2.95"/>
<ellipse cx="309.5" cy="135.8" rx="2.6" ry="2.95"/>
<ellipse cx="324.8" cy="143.9" rx="2.6" ry="2.95"/>
<ellipse cx="306.7" cy="143.0" rx="2.6" ry="2.95"/>
<ellipse cx="324.0" cy="158.2" rx="2.6" ry="2.95"/>
<ellipse cx="306.6" cy="136.2" rx="2.6" ry="2.95"/>
<ellipse cx="317.3" cy="152.9" rx="2.6" ry="2.95"/>
<ellipse cx="301.6" cy="133.0" rx="2.6" ry="2.95"/>
<ellipse cx="312.6" cy="146.3" rx="2.6" ry="2.95"/>
<ellipse cx="307.6" cy="140.8" rx="2.6" ry="2.95"/>
<ellipse cx="304.6" cy="142.2" rx="2.6" ry="2.95"/>
<ellipse cx="310.8" cy="141.0" rx="2.6" ry="2.95"/>
<ellipse cx="321.7" cy="137.1" rx="2.6" ry="2.95"/>
<ellipse cx="306.7" cy="139.0" rx="2.6" ry="2.95"/>
<ellipse cx="303.9" cy="133.3" rx="2.6" ry="2.95"/>
<ellipse cx="302.5" cy="141.2" rx="2.6" ry="2.95"/>
<ellipse cx="292.6" cy="140.0" rx="2.6" ry="2.95"/>
<ellipse cx="318.1" cy="151.5" rx="2.6" ry="2.95"/>
<ellipse cx="301.5" cy="143.7" rx="2.6" ry="2.95"/>
<ellipse cx="307.6" cy="148.8" rx="2.6" ry="2.95"/>
<ellipse cx="300.8" cy="133.7" rx="2.6" ry="2.95"/>
<ellipse cx="314.4" cy="135.7" rx="2.6" ry="2.95"/>
<ellipse cx="283.1" cy="139.3" rx="2.6" ry="2.95"/>
<ellipse cx="307.3" cy="142.2" rx="2.6" ry="2.95"/>
<ellipse cx="303.7" cy="146.3" rx="2.6" ry="2.95"/>
<ellipse cx="312.9" cy="146.1" rx="2.6" ry="2.95"/>
<ellipse cx="324.6" cy="144.4" rx="2.6" ry="2.95"/>
<ellipse cx="290.6" cy="142.4" rx="2.6" ry="2.95"/>
<ellipse cx="302.8" cy="130.3" rx="2.6" ry="2.95"/>
<ellipse cx="307.4" cy="135.1" rx="2.6" ry="2.95"/>
<ellipse cx="306.3" cy="136.3" rx="2.6" ry="2.95"/>
<ellipse cx="296.9" cy="137.8" rx="2.6" ry="2.95"/>
<ellipse cx="307.8" cy="136.8" rx="2.6" ry="2.95"/>
<ellipse cx="298.7" cy="151.8" rx="2.6" ry="2.95"/>
<ellipse cx="314.4" cy="122.8" rx="2.6" ry="2.95"/>
<ellipse cx="311.0" cy="144.3" rx="2.6" ry="2.95"/>
<ellipse cx="317.1" cy="148.0" rx="2.6" ry="2.95"/>
<ellipse cx="306.7" cy="130.9" rx="2.6" ry="2.95"/>
<ellipse cx="308.8" cy="132.7" rx="2.6" ry="2.95"/>
<ellipse cx="290.3" cy="135.0" rx="2.6" ry="2.95"/>
<ellipse cx="300.0" cy="132.8" rx="2.6" ry="2.95"/>
<ellipse cx="299.1" cy="136.7" rx="2.6" ry="2.95"/>
<ellipse cx="307.4" cy="131.9" rx="2.6" ry="2.95"/>
<ellipse cx="312.8" cy="146.3" rx="2.6" ry="2.95"/>
<ellipse cx="299.5" cy="144.5" rx="2.6" ry="2.95"/>
<ellipse cx="300.0" cy="138.5" rx="2.6" ry="2.95"/>
<ellipse cx="300.5" cy="145.7" rx="2.6" ry="2.95"/>
<ellipse cx="292.2" cy="154.5" rx="2.6" ry="2.95"/>
<ellipse cx="308.2" cy="141.7" rx="2.6" ry="2.95"/>
<ellipse cx="305.6" cy="134.1" rx="2.6" ry="2.95"/>
<ellipse cx="296.8" cy="144.0" rx="2.6" ry="2.95"/>
<ellipse cx="303.0" cy="144.8" rx="2.6" ry="2.95"/>
<ellipse cx="323.2" cy="142.4" rx="2.6" ry="2.95"/>
<ellipse cx="313.1" cy="138.9" rx="2.6" ry="2.95"/>
<ellipse cx="300.1" cy="142.3" rx="2.6" ry="2.95"/>
<ellipse cx="322.8" cy="146.3" rx="2.6" ry="2.95"/>
<ellipse cx="310.1" cy="136.5" rx="2.6" ry="2.95"/>
<ellipse cx="306.6" cy="151.8" rx="2.6" ry="2.95"/>
<ellipse cx="309.6" cy="133.5" rx="2.6" ry="2.95"/>
<ellipse cx="302.6" cy="144.3" rx="2.6" ry="2.95"/>
<ellipse cx="311.8" cy="127.7" rx="2.6" ry="2.95"/>
<ellipse cx="309.5" cy="138.3" rx="2.6" ry="2.95"/>
<ellipse cx="287.7" cy="129.7" rx="2.6" ry="2.95"/>
<ellipse cx="305.1" cy="133.4" rx="2.6" ry="2.95"/>
<ellipse cx="308.7" cy="143.0" rx="2.6" ry="2.95"/>
<ellipse cx="306.7" cy="138.4" rx="2.6" ry="2.95"/>
<ellipse cx="311.3" cy="131.3" rx="2.6" ry="2.95"/>
<ellipse cx="290.4" cy="143.4" rx="2.6" ry="2.95"/>
<ellipse cx="317.1" cy="137.0" rx="2.6" ry="2.95"/>
<ellipse cx="315.6" cy="146.5" rx="2.6" ry="2.95"/>
<ellipse cx="301.7" cy="143.5" rx="2.6" ry="2.95"/>
<ellipse cx="318.7" cy="136.1" rx="2.6" ry="2.95"/>
<ellipse cx="311.2" cy="144.5" rx="2.6" ry="2.95"/>
<ellipse cx="301.3" cy="148.6" rx="2.6" ry="2.95"/>
<ellipse cx="303.1" cy="147.7" rx="2.6" ry="2.95"/>
<ellipse cx="309.0" cy="136.9" rx="2.6" ry="2.95"/>
<ellipse cx="305.7" cy="134.8" rx="2.6" ry="2.95"/>
<ellipse cx="309.6" cy="124.6" rx="2.6" ry="2.95"/>
<ellipse cx="294.8" cy="132.8" rx="2.6" ry="2.95"/>
<ellipse cx="301.9" cy="130.6" rx="2.6" ry="2.95"/>
<ellipse cx="292.9" cy="124.0" rx="2.6" ry="2.95"/>
<ellipse cx="297.3" cy="128.9" rx="2.6" ry="2.95"/>
<ellipse cx="302.6" cy="131.6" rx="2.6" ry="2.95"/>
<ellipse cx="300.0" cy="131.0" rx="2.6" ry="2.95"/>
<ellipse cx="290.1" cy="122.2" rx="2.6" ry="2.95"/>
<ellipse cx="294.2" cy="127.7" rx="2.6" ry="2.95"/>
<ellipse cx="294.6" cy="126.3" rx="2.6" ry="2.95"/>
<ellipse cx="298.6" cy="125.7" rx="2.6" ry="2.95"/>
<ellipse cx="297.6" cy="132.3" rx="2.6" ry="2.95"/>
<ellipse cx="300.5" cy="126.7" rx="2.6" ry="2.95"/>
<ellipse cx="298.9" cy="130.0" rx="2.6" ry="2.95"/>
<ellipse cx="299.0" cy="131.5" rx="2.6" ry="2.95"/>
<ellipse cx="291.3" cy="132.1" rx="2.6" ry="2.95"/>
<ellipse cx="293.3" cy="130.6" rx="2.6" ry="2.95"/>
<ellipse cx="291.1" cy="132.2" rx="2.6" ry="2.95"/>
<ellipse cx="307.2" cy="195.2" rx="2.6" ry="2.95"/>
<ellipse cx="306.0" cy="195.9" rx="2.6" ry="2.95"/>
<ellipse cx="309.3" cy="196.5" rx="2.6" ry="2.95"/>
<ellipse cx="299.6" cy="194.3" rx="2.6" ry="2.95"/>
<ellipse cx="301.6" cy="198.6" rx="2.6" ry="2.95"/>
<ellipse cx="306.3" cy="195.1" rx="2.6" ry="2.95"/>
<ellipse cx="299.9" cy="193.8" rx="2.6" ry="2.95"/>
<ellipse cx="298.0" cy="196.7" rx="2.6" ry="2.95"/>
<ellipse cx="304.4" cy="199.4" rx="2.6" ry="2.95"/>
<ellipse cx="298.9" cy="193.6" rx="2.6" ry="2.95"/>
<ellipse cx="311.4" cy="197.1" rx="2.6" ry="2.95"/>
<ellipse cx="299.9" cy="197.5" rx="2.6" ry="2.95"/>
<ellipse cx="301.7" cy="199.1" rx="2.6" ry="2.95"/>
<ellipse cx="305.4" cy="193.6" rx="2.6" ry="2.95"/>
<ellipse cx="305.9" cy="232.3" rx="2.6" ry="2.95"/>
<ellipse cx="306.8" cy="232.9" rx="2.6" ry="2.95"/>
<ellipse cx="302.0" cy="236.3" rx="2.6" ry="2.95"/>
<ellipse cx="310.2" cy="221.5" rx="2.6" ry="2.95"/>
<ellipse cx="314.6" cy="224.2" rx="2.6" ry="2.95"/>
<ellipse cx="309.4" cy="230.0" rx="2.6" ry="2.95"/>
<ellipse cx="310.4" cy="232.3" rx="2.6" ry="2.95"/>
<ellipse cx="297.0" cy="227.4" rx="2.6" ry="2.95"/>
<ellipse cx="302.5" cy="226.3" rx="2.6" ry="2.95"/>
<ellipse cx="308.8" cy="243.1" rx="2.6" ry="2.95"/>
<ellipse cx="308.1" cy="224.4" rx="2.6" ry="2.95"/>
<ellipse cx="324.3" cy="233.0" rx="2.6" ry="2.95"/>
<ellipse cx="307.6" cy="238.7" rx="2.6" ry="2.95"/>
<ellipse cx="314.5" cy="233.9" rx="2.6" ry="2.95"/>
<ellipse cx="300.2" cy="237.2" rx="2.6" ry="2.95"/>
<ellipse cx="307.2" cy="231.2" rx="2.6" ry="2.95"/>
<ellipse cx="311.4" cy="237.6" rx="2.6" ry="2.95"/>
<ellipse cx="316.5" cy="228.0" rx="2.6" ry="2.95"/>
<ellipse cx="306.0" cy="225.3" rx="2.6" ry="2.95"/>
<ellipse cx="307.6" cy="231.1" rx="2.6" ry="2.95"/>
<ellipse cx="309.8" cy="228.9" rx="2.6" ry="2.95"/>
<ellipse cx="303.8" cy="226.0" rx="2.6" ry="2.95"/>
<ellipse cx="310.5" cy="233.9" rx="2.6" ry="2.95"/>
<ellipse cx="312.1" cy="227.4" rx="2.6" ry="2.95"/>
<ellipse cx="312.3" cy="235.1" rx="2.6" ry="2.95"/>
<ellipse cx="304.0" cy="224.0" rx="2.6" ry="2.95"/>
<ellipse cx="313.2" cy="238.2" rx="2.6" ry="2.95"/>
<ellipse cx="310.8" cy="231.0" rx="2.6" ry="2.95"/>
<ellipse cx="308.4" cy="235.0" rx="2.6" ry="2.95"/>
<ellipse cx="300.5" cy="229.9" rx="2.6" ry="2.95"/>
<ellipse cx="318.5" cy="234.6" rx="2.6" ry="2.95"/>
<ellipse cx="318.6" cy="243.2" rx="2.6" ry="2.95"/>
<ellipse cx="320.5" cy="242.3" rx="2.6" ry="2.95"/>
<ellipse cx="318.8" cy="245.0" rx="2.6" ry="2.95"/>
<ellipse cx="313.0" cy="238.8" rx="2.6" ry="2.95"/>
<ellipse cx="322.9" cy="245.4" rx="2.6" ry="2.95"/>
<ellipse cx="324.5" cy="238.1" rx="2.6" ry="2.95"/>
<ellipse cx="325.9" cy="246.8" rx="2.6" ry="2.95"/>
<ellipse cx="321.4" cy="239.1" rx="2.6" ry="2.95"/>
<ellipse cx="324.1" cy="247.9" rx="2.6" ry="2.95"/>
<ellipse cx="318.9" cy="244.9" rx="2.6" ry="2.95"/>
<ellipse cx="322.6" cy="246.5" rx="2.6" ry="2.95"/>
<ellipse cx="323.4" cy="245.8" rx="2.6" ry="2.95"/>
<ellipse cx="314.0" cy="241.4" rx="2.6" ry="2.95"/>
<ellipse cx="312.6" cy="247.1" rx="2.6" ry="2.95"/>
<ellipse cx="323.8" cy="244.9" rx="2.6" ry="2.95"/>
<ellipse cx="329.1" cy="239.7" rx="2.6" ry="2.95"/>
<ellipse cx="327.5" cy="239.7" rx="2.6" ry="2.95"/>
<ellipse cx="311.4" cy="241.4" rx="2.6" ry="2.95"/>
<ellipse cx="317.8" cy="242.1" rx="2.6" ry="2.95"/>
<ellipse cx="319.9" cy="244.8" rx="2.6" ry="2.95"/>
<ellipse cx="323.1" cy="240.5" rx="2.6" ry="2.95"/>
<ellipse cx="314.8" cy="245.7" rx="2.6" ry="2.95"/>
<ellipse cx="326.3" cy="246.7" rx="2.6" ry="2.95"/>
<ellipse cx="322.5" cy="236.2" rx="2.6" ry="2.95"/>
<ellipse cx="323.2" cy="240.6" rx="2.6" ry="2.95"/>
<ellipse cx="325.2" cy="248.4" rx="2.6" ry="2.95"/>
<ellipse cx="318.3" cy="239.4" rx="2.6" ry="2.95"/>
<ellipse cx="318.4" cy="244.9" rx="2.6" ry="2.95"/>
<ellipse cx="322.7" cy="239.1" rx="2.6" ry="2.95"/>
<ellipse cx="206.9" cy="154.9" rx="2.6" ry="2.95"/>
<ellipse cx="189.6" cy="166.5" rx="2.6" ry="2.95"/>
<ellipse cx="198.9" cy="147.6" rx="2.6" ry="2.95"/>
<ellipse cx="181.4" cy="167.4" rx="2.6" ry="2.95"/>
<ellipse cx="167.3" cy="166.8" rx="2.6" ry="2.95"/>
<ellipse cx="201.6" cy="152.4" rx="2.6" ry="2.95"/>
<ellipse cx="189.6" cy="163.6" rx="2.6" ry="2.95"/>
<ellipse cx="226.9" cy="152.9" rx="2.6" ry="2.95"/>
<ellipse cx="197.1" cy="162.4" rx="2.6" ry="2.95"/>
<ellipse cx="217.5" cy="174.6" rx="2.6" ry="2.95"/>
<ellipse cx="235.3" cy="162.7" rx="2.6" ry="2.95"/>
<ellipse cx="175.0" cy="158.6" rx="2.6" ry="2.95"/>
<ellipse cx="180.1" cy="158.5" rx="2.6" ry="2.95"/>
<ellipse cx="191.9" cy="159.1" rx="2.6" ry="2.95"/>
<ellipse cx="208.2" cy="158.7" rx="2.6" ry="2.95"/>
<ellipse cx="219.2" cy="166.9" rx="2.6" ry="2.95"/>
<ellipse cx="177.0" cy="151.6" rx="2.6" ry="2.95"/>
<ellipse cx="183.7" cy="147.0" rx="2.6" ry="2.95"/>
<ellipse cx="202.8" cy="160.3" rx="2.6" ry="2.95"/>
<ellipse cx="202.9" cy="170.4" rx="2.6" ry="2.95"/>
<ellipse cx="214.1" cy="166.0" rx="2.6" ry="2.95"/>
<ellipse cx="201.5" cy="156.5" rx="2.6" ry="2.95"/>
<ellipse cx="157.6" cy="157.8" rx="2.6" ry="2.95"/>
<ellipse cx="199.7" cy="154.0" rx="2.6" ry="2.95"/>
<ellipse cx="184.0" cy="160.6" rx="2.6" ry="2.95"/>
</g>
<rect x="248.3" y="416.9" width="8.4" height="9.6" fill="#2b87c2" stroke="#151515" stroke-width="1.1"/>
<rect x="297.3" y="414.5" width="8.4" height="9.6" fill="#2b87c2" stroke="#151515" stroke-width="1.1"/>
<rect x="280.6" y="432.2" width="8.4" height="9.6" fill="#2b87c2" stroke="#151515" stroke-width="1.1"/>
<rect x="302.8" y="429.9" width="8.4" height="9.6" fill="#2b87c2" stroke="#151515" stroke-width="1.1"/>
<rect x="371.1" y="438.6" width="8.4" height="9.6" fill="#2b87c2" stroke="#151515" stroke-width="1.1"/>
<rect x="397.1" y="434.2" width="8.4" height="9.6" fill="#2b87c2" stroke="#151515" stroke-width="1.1"/>
<rect x="398.4" y="450.7" width="8.4" height="9.6" fill="#2b87c2" stroke="#151515" stroke-width="1.1"/>
<rect x="395.1" y="455.0" width="8.4" height="9.6" fill="#2b87c2" stroke="#151515" stroke-width="1.1"/>
<rect x="432.2" y="468.3" width="8.4" height="9.6" fill="#2b87c2" stroke="#151515" stroke-width="1.1"/>
<rect x="507.6" y="480.9" width="8.4" height="9.6" fill="#2b87c2" stroke="#151515" stroke-width="1.1"/>
<polygon points="184.7,433.4 189.2,424.1 180.2,424.1" fill="#fdc57e" stroke="#151515" stroke-width="1.1" stroke-linejoin="miter"/>
<polygon points="201.1,432.4 205.6,423.1 196.6,423.1" fill="#fdc57e" stroke="#151515" stroke-width="1.1" stroke-linejoin="miter"/>
<polygon points="176.0,443.0 180.5,433.7 171.5,433.7" fill="#fdc57e" stroke="#151515" stroke-width="1.1" stroke-linejoin="miter"/>
<polygon points="182.8,448.8 187.3,439.5 178.3,439.5" fill="#fdc57e" stroke="#151515" stroke-width="1.1" stroke-linejoin="miter"/>
<polygon points="190.5,447.8 195.0,438.5 186.0,438.5" fill="#fdc57e" stroke="#151515" stroke-width="1.1" stroke-linejoin="miter"/>
<polygon points="196.2,444.0 200.7,434.7 191.7,434.7" fill="#fdc57e" stroke="#151515" stroke-width="1.1" stroke-linejoin="miter"/>
<polygon points="204.9,440.1 209.4,430.8 200.4,430.8" fill="#fdc57e" stroke="#151515" stroke-width="1.1" stroke-linejoin="miter"/>
<polygon points="210.7,438.2 215.2,428.9 206.2,428.9" fill="#fdc57e" stroke="#151515" stroke-width="1.1" stroke-linejoin="miter"/>
<polygon points="192.4,457.5 196.9,448.2 187.9,448.2" fill="#fdc57e" stroke="#151515" stroke-width="1.1" stroke-linejoin="miter"/>
<polygon points="184.7,453.6 189.2,444.3 180.2,444.3" fill="#fdc57e" stroke="#151515" stroke-width="1.1" stroke-linejoin="miter"/>
<polygon points="198.2,454.6 202.7,445.3 193.7,445.3" fill="#fdc57e" stroke="#151515" stroke-width="1.1" stroke-linejoin="miter"/>
<polygon points="205.9,445.9 210.4,436.6 201.4,436.6" fill="#fdc57e" stroke="#151515" stroke-width="1.1" stroke-linejoin="miter"/>
<polygon points="188.5,440.1 193.0,430.8 184.0,430.8" fill="#fdc57e" stroke="#151515" stroke-width="1.1" stroke-linejoin="miter"/>
<polygon points="180.8,440.1 185.3,430.8 176.3,430.8" fill="#fdc57e" stroke="#151515" stroke-width="1.1" stroke-linejoin="miter"/>
<polygon points="202.0,449.8 206.5,440.5 197.5,440.5" fill="#fdc57e" stroke="#151515" stroke-width="1.1" stroke-linejoin="miter"/>
<polygon points="194.0,451.4 198.5,442.1 189.5,442.1" fill="#fdc57e" stroke="#151515" stroke-width="1.1" stroke-linejoin="miter"/>
<polygon points="187.0,444.4 191.5,435.1 182.5,435.1" fill="#fdc57e" stroke="#151515" stroke-width="1.1" stroke-linejoin="miter"/>
<polygon points="199.5,438.4 204.0,429.1 195.0,429.1" fill="#fdc57e" stroke="#151515" stroke-width="1.1" stroke-linejoin="miter"/>
<polygon points="207.5,442.4 212.0,433.1 203.0,433.1" fill="#fdc57e" stroke="#151515" stroke-width="1.1" stroke-linejoin="miter"/>
<polygon points="191.0,436.4 195.5,427.1 186.5,427.1" fill="#fdc57e" stroke="#151515" stroke-width="1.1" stroke-linejoin="miter"/>
<polygon points="196.2,425.5 201.5,431.5 196.2,437.5 190.9,431.5" fill="#e9251d" stroke="#151515" stroke-width="1.1" stroke-linejoin="miter"/>
<ellipse cx="184.6" cy="409.2" rx="4.40" ry="5.00" fill="#2b87c2" stroke="#151515" stroke-width="1.1"/>
<ellipse cx="192.6" cy="406.4" rx="4.40" ry="5.00" fill="#2b87c2" stroke="#151515" stroke-width="1.1"/>
<ellipse cx="184.2" cy="407.8" rx="4.40" ry="5.00" fill="#2b87c2" stroke="#151515" stroke-width="1.1"/>
<ellipse cx="190.7" cy="411.5" rx="4.40" ry="5.00" fill="#2b87c2" stroke="#151515" stroke-width="1.1"/>
<ellipse cx="184.6" cy="403.9" rx="4.40" ry="5.00" fill="#2b87c2" stroke="#151515" stroke-width="1.1"/>
<ellipse cx="191.5" cy="409.5" rx="4.40" ry="5.00" fill="#2b87c2" stroke="#151515" stroke-width="1.1"/>
<ellipse cx="194.5" cy="411.1" rx="4.40" ry="5.00" fill="#2b87c2" stroke="#151515" stroke-width="1.1"/>
<ellipse cx="188.6" cy="407.1" rx="4.40" ry="5.00" fill="#2b87c2" stroke="#151515" stroke-width="1.1"/>
<ellipse cx="198.3" cy="407.1" rx="4.40" ry="5.00" fill="#2b87c2" stroke="#151515" stroke-width="1.1"/>
<ellipse cx="186.2" cy="404.4" rx="4.40" ry="5.00" fill="#2b87c2" stroke="#151515" stroke-width="1.1"/>
<ellipse cx="189.3" cy="408.5" rx="4.40" ry="5.00" fill="#2b87c2" stroke="#151515" stroke-width="1.1"/>
<ellipse cx="187.8" cy="407.8" rx="4.40" ry="5.00" fill="#2b87c2" stroke="#151515" stroke-width="1.1"/>
<ellipse cx="190.0" cy="410.2" rx="4.40" ry="5.00" fill="#2b87c2" stroke="#151515" stroke-width="1.1"/>
<ellipse cx="192.9" cy="408.7" rx="4.40" ry="5.00" fill="#2b87c2" stroke="#151515" stroke-width="1.1"/>
<ellipse cx="182.6" cy="410.2" rx="4.40" ry="5.00" fill="#2b87c2" stroke="#151515" stroke-width="1.1"/>
<ellipse cx="183.9" cy="407.5" rx="4.40" ry="5.00" fill="#2b87c2" stroke="#151515" stroke-width="1.1"/>
<polygon points="261.7,438.5 266.5,428.8 256.9,428.8" fill="#f8a8a6" stroke="#151515" stroke-width="1.1" stroke-linejoin="miter"/>
<polygon points="269.4,443.3 274.2,433.6 264.6,433.6" fill="#f8a8a6" stroke="#151515" stroke-width="1.1" stroke-linejoin="miter"/>
<polygon points="279.0,443.3 283.8,433.6 274.2,433.6" fill="#f8a8a6" stroke="#151515" stroke-width="1.1" stroke-linejoin="miter"/>
<polygon points="296.3,448.1 301.1,438.3 291.5,438.3" fill="#f8a8a6" stroke="#151515" stroke-width="1.1" stroke-linejoin="miter"/>
<polygon points="308.9,444.3 313.7,434.6 304.1,434.6" fill="#f8a8a6" stroke="#151515" stroke-width="1.1" stroke-linejoin="miter"/>
<polygon points="318.5,440.4 323.3,430.6 313.7,430.6" fill="#f8a8a6" stroke="#151515" stroke-width="1.1" stroke-linejoin="miter"/>
<polygon points="319.4,454.9 324.2,445.1 314.6,445.1" fill="#f8a8a6" stroke="#151515" stroke-width="1.1" stroke-linejoin="miter"/>
<polygon points="326.6,441.4 331.4,431.6 321.8,431.6" fill="#f8a8a6" stroke="#151515" stroke-width="1.1" stroke-linejoin="miter"/>
<polygon points="331.4,449.1 336.2,439.3 326.6,439.3" fill="#f8a8a6" stroke="#151515" stroke-width="1.1" stroke-linejoin="miter"/>
<polygon points="336.2,451.0 341.0,441.2 331.4,441.2" fill="#f8a8a6" stroke="#151515" stroke-width="1.1" stroke-linejoin="miter"/>
<polygon points="342.0,450.1 346.8,440.3 337.2,440.3" fill="#f8a8a6" stroke="#151515" stroke-width="1.1" stroke-linejoin="miter"/>
<polygon points="349.7,443.9 354.5,434.1 344.9,434.1" fill="#f8a8a6" stroke="#151515" stroke-width="1.1" stroke-linejoin="miter"/>
<polygon points="242.8,420.5 248.1,426.5 242.8,432.5 237.5,426.5" fill="#e9251d" stroke="#151515" stroke-width="1.1" stroke-linejoin="miter"/>
<polygon points="255.5,426.8 260.8,432.8 255.5,438.8 250.2,432.8" fill="#e9251d" stroke="#151515" stroke-width="1.1" stroke-linejoin="miter"/>
<polygon points="273.8,417.2 279.1,423.2 273.8,429.2 268.5,423.2" fill="#e9251d" stroke="#151515" stroke-width="1.1" stroke-linejoin="miter"/>
<polygon points="275.6,424.9 280.9,430.9 275.6,436.9 270.3,430.9" fill="#e9251d" stroke="#151515" stroke-width="1.1" stroke-linejoin="miter"/>
<polygon points="285.2,425.5 290.5,431.5 285.2,437.5 279.9,431.5" fill="#e9251d" stroke="#151515" stroke-width="1.1" stroke-linejoin="miter"/>
<polygon points="298.7,432.6 304.0,438.6 298.7,444.6 293.4,438.6" fill="#e9251d" stroke="#151515" stroke-width="1.1" stroke-linejoin="miter"/>
<polygon points="280.0,421.0 285.3,427.0 280.0,433.0 274.7,427.0" fill="#e9251d" stroke="#151515" stroke-width="1.1" stroke-linejoin="miter"/>
<ellipse cx="346.2" cy="434.2" rx="4.22" ry="4.80" fill="#1232f0" stroke="#151515" stroke-width="1.1"/>
<ellipse cx="347.7" cy="442.4" rx="4.22" ry="4.80" fill="#1232f0" stroke="#151515" stroke-width="1.1"/>
<ellipse cx="358.7" cy="443.0" rx="4.22" ry="4.80" fill="#1232f0" stroke="#151515" stroke-width="1.1"/>
<ellipse cx="373.4" cy="445.7" rx="4.22" ry="4.80" fill="#1232f0" stroke="#151515" stroke-width="1.1"/>
<rect x="371.1" y="438.6" width="8.4" height="9.6" fill="#2b87c2" stroke="#151515" stroke-width="1.1"/>
<rect x="291.4" y="318.5" width="8.1" height="9.2" fill="#b5e08c" stroke="#151515" stroke-width="1.1"/>
<ellipse cx="239.6" cy="362.2" rx="4.22" ry="4.80" fill="#b5e08c" stroke="#151515" stroke-width="1.1"/>
<ellipse cx="221.7" cy="372.6" rx="4.22" ry="4.80" fill="#b5e08c" stroke="#151515" stroke-width="1.1"/>
<ellipse cx="227.6" cy="378.9" rx="4.22" ry="4.80" fill="#b5e08c" stroke="#151515" stroke-width="1.1"/>
<polygon points="269.0,382.8 274.1,388.5 269.0,394.2 263.9,388.5" fill="#f8a8a6" stroke="#151515" stroke-width="1.1" stroke-linejoin="miter"/>
<polygon points="286.7,385.6 291.8,391.4 286.7,397.1 281.6,391.4" fill="#f8a8a6" stroke="#151515" stroke-width="1.1" stroke-linejoin="miter"/>
<rect x="272.9" y="366.8" width="8.4" height="9.6" fill="#7fd0f6" stroke="#151515" stroke-width="1.1"/>
<rect x="261.0" y="374.5" width="8.4" height="9.6" fill="#7fd0f6" stroke="#151515" stroke-width="1.1"/>
<rect x="270.0" y="374.1" width="8.4" height="9.6" fill="#7fd0f6" stroke="#151515" stroke-width="1.1"/>
<rect x="252.1" y="381.2" width="8.4" height="9.6" fill="#7fd0f6" stroke="#151515" stroke-width="1.1"/>
<rect x="248.8" y="380.9" width="8.4" height="9.6" fill="#7fd0f6" stroke="#151515" stroke-width="1.1"/>
<rect x="235.3" y="382.2" width="9.5" height="10.8" fill="#158a88" stroke="#151515" stroke-width="1.7"/>
<rect x="235.3" y="388.0" width="9.5" height="10.8" fill="#158a88" stroke="#151515" stroke-width="1.7"/>
<rect x="235.3" y="393.7" width="9.5" height="10.8" fill="#158a88" stroke="#151515" stroke-width="1.7"/>
<rect x="242.8" y="403.0" width="9.5" height="10.8" fill="#158a88" stroke="#151515" stroke-width="1.7"/>
<rect x="269.4" y="388.3" width="9.5" height="10.8" fill="#8a33f0" stroke="#151515" stroke-width="1.7"/>
<rect x="284.8" y="394.1" width="9.5" height="10.8" fill="#8a33f0" stroke="#151515" stroke-width="1.7"/>
<ellipse cx="319.8" cy="360.0" rx="4.22" ry="4.80" fill="#e9251d" stroke="#151515" stroke-width="1.1"/>
<ellipse cx="335.6" cy="367.0" rx="4.22" ry="4.80" fill="#e9251d" stroke="#151515" stroke-width="1.1"/>
<ellipse cx="341.6" cy="365.4" rx="4.22" ry="4.80" fill="#e9251d" stroke="#151515" stroke-width="1.1"/>
<rect x="310.1" y="341.5" width="8.3" height="9.4" fill="#1232f0" stroke="#151515" stroke-width="1.1"/>
<rect x="308.6" y="357.3" width="8.3" height="9.4" fill="#1232f0" stroke="#151515" stroke-width="1.1"/>
<rect x="349.8" y="370.8" width="8.3" height="9.4" fill="#1232f0" stroke="#151515" stroke-width="1.1"/>
<polygon points="308.5,370.9 313.6,376.6 308.5,382.4 303.4,376.6" fill="#1232f0" stroke="#151515" stroke-width="1.1" stroke-linejoin="miter"/>
<ellipse cx="341.0" cy="356.8" rx="4.66" ry="5.30" fill="#8c8c14" stroke="#151515" stroke-width="1.9"/>
<ellipse cx="343.0" cy="349.0" rx="4.66" ry="5.30" fill="#8c8c14" stroke="#151515" stroke-width="1.9"/>
<ellipse cx="349.7" cy="346.2" rx="4.66" ry="5.30" fill="#8c8c14" stroke="#151515" stroke-width="1.9"/>
<ellipse cx="346.0" cy="352.0" rx="4.66" ry="5.30" fill="#8c8c14" stroke="#151515" stroke-width="1.9"/>
<ellipse cx="355.4" cy="350.0" rx="4.66" ry="5.30" fill="#8c8c14" stroke="#151515" stroke-width="1.9"/>
<ellipse cx="351.0" cy="355.0" rx="4.66" ry="5.30" fill="#8c8c14" stroke="#151515" stroke-width="1.9"/>
<ellipse cx="349.0" cy="350.0" rx="4.66" ry="5.30" fill="#8c8c14" stroke="#151515" stroke-width="1.9"/>
<ellipse cx="354.5" cy="354.9" rx="4.66" ry="5.30" fill="#8c8c14" stroke="#151515" stroke-width="1.9"/>
<ellipse cx="345.0" cy="354.0" rx="4.66" ry="5.30" fill="#8c8c14" stroke="#151515" stroke-width="1.9"/>
<ellipse cx="352.0" cy="348.0" rx="4.66" ry="5.30" fill="#8c8c14" stroke="#151515" stroke-width="1.9"/>
<ellipse cx="371.8" cy="369.3" rx="4.66" ry="5.30" fill="#ff8c14" stroke="#151515" stroke-width="1.9"/>
<ellipse cx="375.3" cy="400.1" rx="4.22" ry="4.80" fill="#cdb6dc" stroke="#151515" stroke-width="1.1"/>
<ellipse cx="381.4" cy="398.2" rx="4.22" ry="4.80" fill="#cdb6dc" stroke="#151515" stroke-width="1.1"/>
<ellipse cx="391.4" cy="397.2" rx="4.22" ry="4.80" fill="#cdb6dc" stroke="#151515" stroke-width="1.1"/>
<ellipse cx="378.5" cy="408.2" rx="4.22" ry="4.80" fill="#cdb6dc" stroke="#151515" stroke-width="1.1"/>
<ellipse cx="386.2" cy="409.3" rx="4.22" ry="4.80" fill="#cdb6dc" stroke="#151515" stroke-width="1.1"/>
<ellipse cx="383.4" cy="404.9" rx="4.22" ry="4.80" fill="#cdb6dc" stroke="#151515" stroke-width="1.1"/>
<ellipse cx="395.9" cy="401.1" rx="4.22" ry="4.80" fill="#cdb6dc" stroke="#151515" stroke-width="1.1"/>
<ellipse cx="389.5" cy="403.4" rx="4.22" ry="4.80" fill="#cdb6dc" stroke="#151515" stroke-width="1.1"/>
<ellipse cx="403.6" cy="403.4" rx="4.22" ry="4.80" fill="#cdb6dc" stroke="#151515" stroke-width="1.1"/>
<polygon points="536.4,437.6 541.9,443.9 536.4,450.1 530.9,443.9" fill="#7fd0f6" stroke="#151515" stroke-width="1.1" stroke-linejoin="miter"/>
<polygon points="541.6,445.8 547.1,452.0 541.6,458.2 536.1,452.0" fill="#7fd0f6" stroke="#151515" stroke-width="1.1" stroke-linejoin="miter"/>
<polygon points="556.1,446.6 561.6,452.9 556.1,459.1 550.6,452.9" fill="#7fd0f6" stroke="#151515" stroke-width="1.1" stroke-linejoin="miter"/>
<polygon points="559.0,451.1 564.5,457.4 559.0,463.6 553.5,457.4" fill="#7fd0f6" stroke="#151515" stroke-width="1.1" stroke-linejoin="miter"/>
<polygon points="545.5,449.6 551.0,455.8 545.5,462.1 540.0,455.8" fill="#7fd0f6" stroke="#151515" stroke-width="1.1" stroke-linejoin="miter"/>
<polygon points="553.2,451.4 558.7,457.7 553.2,463.9 547.7,457.7" fill="#7fd0f6" stroke="#151515" stroke-width="1.1" stroke-linejoin="miter"/>
<polygon points="548.4,452.4 553.9,458.7 548.4,464.9 542.9,458.7" fill="#7fd0f6" stroke="#151515" stroke-width="1.1" stroke-linejoin="miter"/>
<polygon points="572.1,456.2 577.0,466.1 567.2,466.1" fill="#f8a8a6" stroke="#151515" stroke-width="1.1" stroke-linejoin="miter"/>
<polygon points="583.0,465.4 587.9,475.3 578.1,475.3" fill="#f8a8a6" stroke="#151515" stroke-width="1.1" stroke-linejoin="miter"/>
<polygon points="574.4,469.3 579.3,479.2 569.5,479.2" fill="#f8a8a6" stroke="#151515" stroke-width="1.1" stroke-linejoin="miter"/>
<polygon points="578.2,473.1 583.1,483.0 573.3,483.0" fill="#f8a8a6" stroke="#151515" stroke-width="1.1" stroke-linejoin="miter"/>
<polygon points="584.0,474.1 588.9,484.0 579.1,484.0" fill="#f8a8a6" stroke="#151515" stroke-width="1.1" stroke-linejoin="miter"/>
<polygon points="596.5,475.0 601.4,484.9 591.6,484.9" fill="#f8a8a6" stroke="#151515" stroke-width="1.1" stroke-linejoin="miter"/>
<polygon points="590.7,477.9 595.6,487.8 585.8,487.8" fill="#f8a8a6" stroke="#151515" stroke-width="1.1" stroke-linejoin="miter"/>
<rect x="600.0" y="497.2" width="8.4" height="9.6" fill="#fdc57e" stroke="#151515" stroke-width="1.1"/>
<rect x="602.9" y="512.6" width="8.4" height="9.6" fill="#fdc57e" stroke="#151515" stroke-width="1.1"/>
<rect x="588.5" y="507.8" width="8.4" height="9.6" fill="#fdc57e" stroke="#151515" stroke-width="1.1"/>
<rect x="580.8" y="515.5" width="8.4" height="9.6" fill="#fdc57e" stroke="#151515" stroke-width="1.1"/>
<polygon points="599.4,482.7 604.3,492.6 594.5,492.6" fill="#2b87c2" stroke="#151515" stroke-width="1.1" stroke-linejoin="miter"/>
<polygon points="609.6,489.5 614.5,499.4 604.7,499.4" fill="#2b87c2" stroke="#151515" stroke-width="1.1" stroke-linejoin="miter"/>
<polygon points="607.1,494.3 612.0,504.2 602.2,504.2" fill="#2b87c2" stroke="#151515" stroke-width="1.1" stroke-linejoin="miter"/>
<polygon points="604.2,502.6 609.7,508.8 604.2,515.0 598.7,508.8" fill="#2b7fc0" stroke="#151515" stroke-width="1.1" stroke-linejoin="miter"/>
<polygon points="595.5,525.8 600.1,516.3 590.9,516.3" fill="#b5e08c" stroke="#151515" stroke-width="1.1" stroke-linejoin="miter"/>
<polygon points="601.3,523.9 605.9,514.4 596.7,514.4" fill="#b5e08c" stroke="#151515" stroke-width="1.1" stroke-linejoin="miter"/>
<polygon points="605.2,528.7 609.8,519.2 600.6,519.2" fill="#b5e08c" stroke="#151515" stroke-width="1.1" stroke-linejoin="miter"/>
<polygon points="595.9,532.5 600.5,523.0 591.3,523.0" fill="#b5e08c" stroke="#151515" stroke-width="1.1" stroke-linejoin="miter"/>
<polygon points="599.0,529.5 603.6,520.0 594.4,520.0" fill="#b5e08c" stroke="#151515" stroke-width="1.1" stroke-linejoin="miter"/>
<rect x="187.3" y="134.1" width="6.2" height="7.0" fill="#2b87c2" stroke="#151515" stroke-width="1.0"/>
<rect x="180.6" y="152.4" width="6.2" height="7.0" fill="#2b87c2" stroke="#151515" stroke-width="1.0"/>
<rect x="163.1" y="143.4" width="6.2" height="7.0" fill="#2b87c2" stroke="#151515" stroke-width="1.0"/>
<rect x="192.2" y="145.3" width="6.2" height="7.0" fill="#2b87c2" stroke="#151515" stroke-width="1.0"/>
<rect x="223.7" y="144.0" width="6.2" height="7.0" fill="#2b87c2" stroke="#151515" stroke-width="1.0"/>
<rect x="235.3" y="146.0" width="6.2" height="7.0" fill="#2b87c2" stroke="#151515" stroke-width="1.0"/>
<rect x="237.2" y="153.3" width="6.2" height="7.0" fill="#2b87c2" stroke="#151515" stroke-width="1.0"/>
<rect x="254.5" y="149.1" width="6.2" height="7.0" fill="#2b87c2" stroke="#151515" stroke-width="1.0"/>
<rect x="290.7" y="158.7" width="6.2" height="7.0" fill="#2b87c2" stroke="#151515" stroke-width="1.0"/>
<polygon points="138.3,169.2 142.0,161.7 134.6,161.7" fill="#fdc57e" stroke="#151515" stroke-width="1.0" stroke-linejoin="miter"/>
<polygon points="144.9,165.6 148.6,158.0 141.2,158.0" fill="#fdc57e" stroke="#151515" stroke-width="1.0" stroke-linejoin="miter"/>
<polygon points="142.0,165.7 145.7,158.1 138.3,158.1" fill="#fdc57e" stroke="#151515" stroke-width="1.0" stroke-linejoin="miter"/>
<polygon points="146.5,173.6 150.2,166.0 142.8,166.0" fill="#fdc57e" stroke="#151515" stroke-width="1.0" stroke-linejoin="miter"/>
<polygon points="147.4,171.3 151.1,163.7 143.7,163.7" fill="#fdc57e" stroke="#151515" stroke-width="1.0" stroke-linejoin="miter"/>
<polygon points="143.9,172.0 147.6,164.4 140.2,164.4" fill="#fdc57e" stroke="#151515" stroke-width="1.0" stroke-linejoin="miter"/>
<polygon points="139.8,173.4 143.5,165.8 136.1,165.8" fill="#fdc57e" stroke="#151515" stroke-width="1.0" stroke-linejoin="miter"/>
<polygon points="138.0,171.8 141.7,164.2 134.3,164.2" fill="#fdc57e" stroke="#151515" stroke-width="1.0" stroke-linejoin="miter"/>
<polygon points="145.0,173.1 148.7,165.5 141.3,165.5" fill="#fdc57e" stroke="#151515" stroke-width="1.0" stroke-linejoin="miter"/>
<polygon points="141.0,179.9 144.7,172.4 137.3,172.4" fill="#fdc57e" stroke="#151515" stroke-width="1.0" stroke-linejoin="miter"/>
<polygon points="142.7,171.0 146.4,163.5 139.0,163.5" fill="#fdc57e" stroke="#151515" stroke-width="1.0" stroke-linejoin="miter"/>
<polygon points="143.1,171.2 146.8,163.7 139.4,163.7" fill="#fdc57e" stroke="#151515" stroke-width="1.0" stroke-linejoin="miter"/>
<polygon points="141.1,171.8 144.8,164.2 137.4,164.2" fill="#fdc57e" stroke="#151515" stroke-width="1.0" stroke-linejoin="miter"/>
<polygon points="149.8,173.0 153.5,165.4 146.1,165.4" fill="#fdc57e" stroke="#151515" stroke-width="1.0" stroke-linejoin="miter"/>
<polygon points="143.1,175.1 146.8,167.5 139.4,167.5" fill="#fdc57e" stroke="#151515" stroke-width="1.0" stroke-linejoin="miter"/>
<polygon points="149.8,172.2 153.5,164.6 146.1,164.6" fill="#fdc57e" stroke="#151515" stroke-width="1.0" stroke-linejoin="miter"/>
<polygon points="140.3,180.8 144.0,173.3 136.6,173.3" fill="#fdc57e" stroke="#151515" stroke-width="1.0" stroke-linejoin="miter"/>
<polygon points="137.2,171.7 140.9,164.2 133.5,164.2" fill="#fdc57e" stroke="#151515" stroke-width="1.0" stroke-linejoin="miter"/>
<polygon points="144.9,180.2 148.6,172.7 141.2,172.7" fill="#fdc57e" stroke="#151515" stroke-width="1.0" stroke-linejoin="miter"/>
<polygon points="139.1,165.1 142.8,157.6 135.4,157.6" fill="#fdc57e" stroke="#151515" stroke-width="1.0" stroke-linejoin="miter"/>
<polygon points="144.9,171.2 148.6,163.7 141.2,163.7" fill="#fdc57e" stroke="#151515" stroke-width="1.0" stroke-linejoin="miter"/>
<polygon points="141.1,174.4 144.8,166.8 137.4,166.8" fill="#fdc57e" stroke="#151515" stroke-width="1.0" stroke-linejoin="miter"/>
<polygon points="143.3,173.8 147.0,166.3 139.6,166.3" fill="#fdc57e" stroke="#151515" stroke-width="1.0" stroke-linejoin="miter"/>
<polygon points="140.9,177.0 144.6,169.5 137.2,169.5" fill="#fdc57e" stroke="#151515" stroke-width="1.0" stroke-linejoin="miter"/>
<ellipse cx="139.8" cy="141.1" rx="3.18" ry="3.62" fill="#2b87c2" stroke="#151515" stroke-width="1.0"/>
<ellipse cx="135.5" cy="142.8" rx="3.18" ry="3.62" fill="#2b87c2" stroke="#151515" stroke-width="1.0"/>
<ellipse cx="137.6" cy="138.5" rx="3.18" ry="3.62" fill="#2b87c2" stroke="#151515" stroke-width="1.0"/>
<ellipse cx="135.5" cy="143.5" rx="3.18" ry="3.62" fill="#2b87c2" stroke="#151515" stroke-width="1.0"/>
<ellipse cx="136.3" cy="140.2" rx="3.18" ry="3.62" fill="#2b87c2" stroke="#151515" stroke-width="1.0"/>
<ellipse cx="137.0" cy="140.9" rx="3.18" ry="3.62" fill="#2b87c2" stroke="#151515" stroke-width="1.0"/>
<ellipse cx="136.5" cy="136.4" rx="3.18" ry="3.62" fill="#2b87c2" stroke="#151515" stroke-width="1.0"/>
<ellipse cx="140.3" cy="141.5" rx="3.18" ry="3.62" fill="#2b87c2" stroke="#151515" stroke-width="1.0"/>
<ellipse cx="134.6" cy="143.4" rx="3.18" ry="3.62" fill="#2b87c2" stroke="#151515" stroke-width="1.0"/>
<ellipse cx="137.2" cy="141.0" rx="3.18" ry="3.62" fill="#2b87c2" stroke="#151515" stroke-width="1.0"/>
<ellipse cx="138.8" cy="146.4" rx="3.18" ry="3.62" fill="#2b87c2" stroke="#151515" stroke-width="1.0"/>
<ellipse cx="137.7" cy="144.8" rx="3.18" ry="3.62" fill="#2b87c2" stroke="#151515" stroke-width="1.0"/>
<ellipse cx="141.2" cy="138.5" rx="3.18" ry="3.62" fill="#2b87c2" stroke="#151515" stroke-width="1.0"/>
<ellipse cx="135.3" cy="142.9" rx="3.18" ry="3.62" fill="#2b87c2" stroke="#151515" stroke-width="1.0"/>
<polygon points="143.0,148.2 146.9,152.6 143.0,157.0 139.1,152.6" fill="#e9251d" stroke="#151515" stroke-width="1.0" stroke-linejoin="miter"/>
<polygon points="163.6,149.7 167.5,154.1 163.6,158.5 159.7,154.1" fill="#e9251d" stroke="#151515" stroke-width="1.0" stroke-linejoin="miter"/>
<polygon points="170.8,143.4 174.7,147.8 170.8,152.2 166.9,147.8" fill="#e9251d" stroke="#151515" stroke-width="1.0" stroke-linejoin="miter"/>
<polygon points="175.5,143.8 179.4,148.2 175.5,152.6 171.6,148.2" fill="#e9251d" stroke="#151515" stroke-width="1.0" stroke-linejoin="miter"/>
<polygon points="173.5,141.9 177.4,146.3 173.5,150.7 169.6,146.3" fill="#e9251d" stroke="#151515" stroke-width="1.0" stroke-linejoin="miter"/>
<polygon points="179.4,142.9 183.3,147.3 179.4,151.7 175.5,147.3" fill="#e9251d" stroke="#151515" stroke-width="1.0" stroke-linejoin="miter"/>
<polygon points="184.1,141.1 188.0,145.5 184.1,149.9 180.2,145.5" fill="#e9251d" stroke="#151515" stroke-width="1.0" stroke-linejoin="miter"/>
<polygon points="190.7,140.2 194.6,144.6 190.7,149.0 186.8,144.6" fill="#e9251d" stroke="#151515" stroke-width="1.0" stroke-linejoin="miter"/>
<polygon points="181.5,141.6 185.4,146.0 181.5,150.4 177.6,146.0" fill="#e9251d" stroke="#151515" stroke-width="1.0" stroke-linejoin="miter"/>
<ellipse cx="213.6" cy="139.6" rx="2.98" ry="3.39" fill="#1232f0" stroke="#151515" stroke-width="1.0"/>
<ellipse cx="219.8" cy="139.6" rx="2.98" ry="3.39" fill="#1232f0" stroke="#151515" stroke-width="1.0"/>
<ellipse cx="226.2" cy="139.6" rx="2.98" ry="3.39" fill="#1232f0" stroke="#151515" stroke-width="1.0"/>
<ellipse cx="212.5" cy="147.5" rx="2.98" ry="3.39" fill="#1232f0" stroke="#151515" stroke-width="1.0"/>
<polygon points="192.7,152.5 196.3,145.1 189.1,145.1" fill="#f8a8a6" stroke="#151515" stroke-width="1.0" stroke-linejoin="miter"/>
<polygon points="198.0,147.9 201.6,140.5 194.4,140.5" fill="#f8a8a6" stroke="#151515" stroke-width="1.0" stroke-linejoin="miter"/>
<polygon points="202.6,145.2 206.2,137.8 199.0,137.8" fill="#f8a8a6" stroke="#151515" stroke-width="1.0" stroke-linejoin="miter"/>
<polygon points="205.9,149.8 209.5,142.4 202.3,142.4" fill="#f8a8a6" stroke="#151515" stroke-width="1.0" stroke-linejoin="miter"/>
<polygon points="209.9,147.9 213.5,140.5 206.3,140.5" fill="#f8a8a6" stroke="#151515" stroke-width="1.0" stroke-linejoin="miter"/>
<polygon points="212.5,146.5 216.1,139.1 208.9,139.1" fill="#f8a8a6" stroke="#151515" stroke-width="1.0" stroke-linejoin="miter"/>
<polygon points="195.5,147.8 199.1,140.4 191.9,140.4" fill="#f8a8a6" stroke="#151515" stroke-width="1.0" stroke-linejoin="miter"/>
<polygon points="201.0,150.8 204.6,143.4 197.4,143.4" fill="#f8a8a6" stroke="#151515" stroke-width="1.0" stroke-linejoin="miter"/>
<rect x="174.7" y="95.5" width="6.2" height="7.0" fill="#b5e08c" stroke="#151515" stroke-width="1.0"/>
<ellipse cx="156.1" cy="109.7" rx="3.18" ry="3.62" fill="#b5e08c" stroke="#151515" stroke-width="1.0"/>
<ellipse cx="151.4" cy="115.0" rx="3.18" ry="3.62" fill="#b5e08c" stroke="#151515" stroke-width="1.0"/>
<ellipse cx="148.8" cy="117.9" rx="3.18" ry="3.62" fill="#b5e08c" stroke="#151515" stroke-width="1.0"/>
<rect x="171.0" y="114.9" width="6.2" height="7.0" fill="#7fd0f6" stroke="#151515" stroke-width="1.0"/>
<rect x="169.5" y="119.3" width="6.2" height="7.0" fill="#7fd0f6" stroke="#151515" stroke-width="1.0"/>
<rect x="164.6" y="120.2" width="6.2" height="7.0" fill="#7fd0f6" stroke="#151515" stroke-width="1.0"/>
<rect x="160.8" y="121.6" width="6.2" height="7.0" fill="#7fd0f6" stroke="#151515" stroke-width="1.0"/>
<polygon points="172.6,126.5 176.5,130.9 172.6,135.3 168.7,130.9" fill="#f8a8a6" stroke="#151515" stroke-width="1.0" stroke-linejoin="miter"/>
<polygon points="181.3,125.0 185.2,129.4 181.3,133.8 177.4,129.4" fill="#f8a8a6" stroke="#151515" stroke-width="1.0" stroke-linejoin="miter"/>
<rect x="156.2" y="125.6" width="6.8" height="7.7" fill="#158a88" stroke="#151515" stroke-width="1.1"/>
<rect x="156.2" y="129.1" width="6.8" height="7.7" fill="#158a88" stroke="#151515" stroke-width="1.1"/>
<rect x="160.5" y="132.9" width="6.8" height="7.7" fill="#158a88" stroke="#151515" stroke-width="1.1"/>
<rect x="186.0" y="99.3" width="6.2" height="7.0" fill="#1232f0" stroke="#151515" stroke-width="1.0"/>
<rect x="188.3" y="102.2" width="6.2" height="7.0" fill="#1232f0" stroke="#151515" stroke-width="1.0"/>
<ellipse cx="192.9" cy="106.8" rx="2.98" ry="3.39" fill="#e9251d" stroke="#151515" stroke-width="1.0"/>
<polygon points="189.4,112.9 193.3,117.3 189.4,121.7 185.5,117.3" fill="#1232f0" stroke="#151515" stroke-width="1.0" stroke-linejoin="miter"/>
<ellipse cx="203.5" cy="101.5" rx="3.48" ry="3.95" fill="#8c8c14" stroke="#151515" stroke-width="1.3"/>
<ellipse cx="207.0" cy="100.5" rx="3.48" ry="3.95" fill="#8c8c14" stroke="#151515" stroke-width="1.3"/>
<ellipse cx="205.0" cy="104.0" rx="3.48" ry="3.95" fill="#8c8c14" stroke="#151515" stroke-width="1.3"/>
<ellipse cx="208.5" cy="103.5" rx="3.48" ry="3.95" fill="#8c8c14" stroke="#151515" stroke-width="1.3"/>
<ellipse cx="203.0" cy="106.0" rx="3.48" ry="3.95" fill="#8c8c14" stroke="#151515" stroke-width="1.3"/>
<ellipse cx="206.5" cy="107.0" rx="3.48" ry="3.95" fill="#8c8c14" stroke="#151515" stroke-width="1.3"/>
<ellipse cx="209.0" cy="106.5" rx="3.48" ry="3.95" fill="#8c8c14" stroke="#151515" stroke-width="1.3"/>
<ellipse cx="205.5" cy="99.0" rx="3.48" ry="3.95" fill="#8c8c14" stroke="#151515" stroke-width="1.3"/>
<ellipse cx="204.5" cy="108.5" rx="3.48" ry="3.95" fill="#8c8c14" stroke="#151515" stroke-width="1.3"/>
<ellipse cx="207.5" cy="105.0" rx="3.48" ry="3.95" fill="#8c8c14" stroke="#151515" stroke-width="1.3"/>
<polygon points="216.7,112.1 220.3,119.5 213.1,119.5" fill="#7fd0f6" stroke="#151515" stroke-width="1.0" stroke-linejoin="miter"/>
<ellipse cx="224.5" cy="119.1" rx="3.18" ry="3.62" fill="#cdb6dc" stroke="#151515" stroke-width="1.0"/>
<ellipse cx="229.1" cy="117.7" rx="3.18" ry="3.62" fill="#cdb6dc" stroke="#151515" stroke-width="1.0"/>
<ellipse cx="233.1" cy="117.1" rx="3.18" ry="3.62" fill="#cdb6dc" stroke="#151515" stroke-width="1.0"/>
<ellipse cx="237.7" cy="116.4" rx="3.18" ry="3.62" fill="#cdb6dc" stroke="#151515" stroke-width="1.0"/>
<ellipse cx="227.1" cy="121.7" rx="3.18" ry="3.62" fill="#cdb6dc" stroke="#151515" stroke-width="1.0"/>
<ellipse cx="231.1" cy="123.7" rx="3.18" ry="3.62" fill="#cdb6dc" stroke="#151515" stroke-width="1.0"/>
<ellipse cx="234.0" cy="119.5" rx="3.18" ry="3.62" fill="#cdb6dc" stroke="#151515" stroke-width="1.0"/>
<polygon points="302.2,103.0 306.3,107.7 302.2,112.4 298.1,107.7" fill="#7fd0f6" stroke="#151515" stroke-width="1.0" stroke-linejoin="miter"/>
<polygon points="308.8,105.9 312.9,110.6 308.8,115.3 304.7,110.6" fill="#7fd0f6" stroke="#151515" stroke-width="1.0" stroke-linejoin="miter"/>
<polygon points="312.6,108.8 316.7,113.5 312.6,118.2 308.5,113.5" fill="#7fd0f6" stroke="#151515" stroke-width="1.0" stroke-linejoin="miter"/>
<polygon points="305.9,110.3 310.0,115.0 305.9,119.7 301.8,115.0" fill="#7fd0f6" stroke="#151515" stroke-width="1.0" stroke-linejoin="miter"/>
<polygon points="303.0,114.6 307.1,119.3 303.0,124.0 298.9,119.3" fill="#7fd0f6" stroke="#151515" stroke-width="1.0" stroke-linejoin="miter"/>
<polygon points="313.0,104.3 317.1,109.0 313.0,113.7 308.9,109.0" fill="#7fd0f6" stroke="#151515" stroke-width="1.0" stroke-linejoin="miter"/>
<polygon points="309.5,102.3 313.6,107.0 309.5,111.7 305.4,107.0" fill="#7fd0f6" stroke="#151515" stroke-width="1.0" stroke-linejoin="miter"/>
<polygon points="307.0,107.8 311.1,112.5 307.0,117.2 302.9,112.5" fill="#7fd0f6" stroke="#151515" stroke-width="1.0" stroke-linejoin="miter"/>
<polygon points="311.0,111.8 315.1,116.5 311.0,121.2 306.9,116.5" fill="#7fd0f6" stroke="#151515" stroke-width="1.0" stroke-linejoin="miter"/>
<polygon points="320.4,115.0 324.0,122.4 316.8,122.4" fill="#f8a8a6" stroke="#151515" stroke-width="1.0" stroke-linejoin="miter"/>
<polygon points="326.2,117.9 329.8,125.3 322.6,125.3" fill="#f8a8a6" stroke="#151515" stroke-width="1.0" stroke-linejoin="miter"/>
<polygon points="330.6,120.8 334.2,128.2 327.0,128.2" fill="#f8a8a6" stroke="#151515" stroke-width="1.0" stroke-linejoin="miter"/>
<polygon points="334.9,123.7 338.5,131.1 331.3,131.1" fill="#f8a8a6" stroke="#151515" stroke-width="1.0" stroke-linejoin="miter"/>
<polygon points="329.0,123.7 332.6,131.1 325.4,131.1" fill="#f8a8a6" stroke="#151515" stroke-width="1.0" stroke-linejoin="miter"/>
<polygon points="323.5,117.2 327.1,124.6 319.9,124.6" fill="#f8a8a6" stroke="#151515" stroke-width="1.0" stroke-linejoin="miter"/>
<polygon points="333.0,119.7 336.6,127.1 329.4,127.1" fill="#f8a8a6" stroke="#151515" stroke-width="1.0" stroke-linejoin="miter"/>
<polygon points="327.5,115.2 331.1,122.6 323.9,122.6" fill="#f8a8a6" stroke="#151515" stroke-width="1.0" stroke-linejoin="miter"/>
<polygon points="335.8,144.9 339.4,152.3 332.2,152.3" fill="#2b87c2" stroke="#151515" stroke-width="1.0" stroke-linejoin="miter"/>
<polygon points="340.7,148.3 344.3,155.7 337.1,155.7" fill="#2b87c2" stroke="#151515" stroke-width="1.0" stroke-linejoin="miter"/>
<polygon points="341.5,145.2 345.1,152.6 337.9,152.6" fill="#2b87c2" stroke="#151515" stroke-width="1.0" stroke-linejoin="miter"/>
<polygon points="339.9,166.4 343.9,170.9 339.9,175.4 335.9,170.9" fill="#2b7fc0" stroke="#151515" stroke-width="1.0" stroke-linejoin="miter"/>
<polygon points="339.9,171.3 343.9,175.8 339.9,180.3 335.9,175.8" fill="#2b7fc0" stroke="#151515" stroke-width="1.0" stroke-linejoin="miter"/>
<polygon points="339.9,177.1 343.9,181.6 339.9,186.1 335.9,181.6" fill="#2b7fc0" stroke="#151515" stroke-width="1.0" stroke-linejoin="miter"/>
<rect x="329.8" y="191.2" width="6.2" height="7.0" fill="#fdc57e" stroke="#151515" stroke-width="1.0"/>
<rect x="336.2" y="186.8" width="6.2" height="7.0" fill="#fdc57e" stroke="#151515" stroke-width="1.0"/>
<rect x="334.7" y="191.2" width="6.2" height="7.0" fill="#fdc57e" stroke="#151515" stroke-width="1.0"/>
<rect x="331.4" y="186.0" width="6.2" height="7.0" fill="#fdc57e" stroke="#151515" stroke-width="1.0"/>
<polygon points="336.4,203.3 340.0,195.9 332.8,195.9" fill="#b5e08c" stroke="#151515" stroke-width="1.0" stroke-linejoin="miter"/>
<polygon points="337.8,209.1 341.4,201.7 334.2,201.7" fill="#b5e08c" stroke="#151515" stroke-width="1.0" stroke-linejoin="miter"/>
<polygon points="335.5,207.3 339.1,199.9 331.9,199.9" fill="#b5e08c" stroke="#151515" stroke-width="1.0" stroke-linejoin="miter"/>
<rect x="90.6" y="29.4" width="558.3" height="562.2" fill="none" stroke="#333" stroke-width="1.3"/>
<path d="M90.6 279 H362.5 V29.4" fill="none" stroke="#222" stroke-width="1.4"/>
<g stroke="#333" stroke-width="1">
<line x1="82.5" x2="90.6" y1="69.3" y2="69.3"/>
<line x1="82.5" x2="90.6" y1="189.9" y2="189.9"/>
<line x1="82.5" x2="90.6" y1="310.5" y2="310.5"/>
<line x1="82.5" x2="90.6" y1="431.1" y2="431.1"/>
<line x1="82.5" x2="90.6" y1="551.7" y2="551.7"/>
<line y1="591.6" y2="600.2" x1="90.6" x2="90.6"/>
<line y1="591.6" y2="600.2" x1="219.4" x2="219.4"/>
<line y1="591.6" y2="600.2" x1="348.1" x2="348.1"/>
<line y1="591.6" y2="600.2" x1="476.9" x2="476.9"/>
<line y1="591.6" y2="600.2" x1="605.6" x2="605.6"/>
</g>
<g font-size="16.4" fill="#151515" stroke="#151515" stroke-width="0.2">
<text transform="translate(79.3,75.1) scale(0.88,1)" text-anchor="end">0.09</text>
<text transform="translate(79.3,195.7) scale(0.88,1)" text-anchor="end">0.06</text>
<text transform="translate(79.3,316.3) scale(0.88,1)" text-anchor="end">0.03</text>
<text transform="translate(79.3,436.9) scale(0.88,1)" text-anchor="end">0</text>
<text transform="translate(79.3,557.5) scale(0.88,1)" text-anchor="end">−0.03</text>
<text transform="translate(90.6,615.9) scale(0.88,1)" text-anchor="middle">−0.030</text>
<text transform="translate(219.4,615.9) scale(0.88,1)" text-anchor="middle">−0.015</text>
<text transform="translate(348.1,615.9) scale(0.88,1)" text-anchor="middle">0</text>
<text transform="translate(476.9,615.9) scale(0.88,1)" text-anchor="middle">0.015</text>
<text transform="translate(605.6,615.9) scale(0.88,1)" text-anchor="middle">0.030</text>
<text transform="translate(369.5,640.6) scale(0.88,1)" text-anchor="middle">PC1 (5.37%)</text>
<text transform="translate(41.4,310.3) scale(1.00,1) rotate(-90)" text-anchor="middle">PC2 (1.63%)</text>
</g>
<g fill="#a6a8aa" stroke="#a6a8aa" stroke-width="0.3" font-size="16.2">
<text transform="translate(571.5,73.0) scale(0.88,1)" text-anchor="middle">America</text>
<text transform="translate(161.2,476.9) scale(0.88,1)" text-anchor="middle">Europe</text>
<text transform="translate(595.7,570.3) scale(0.88,1)" text-anchor="middle">East Asia</text>
<g font-size="9.2" fill="#b0b2b4" stroke="none">
<text transform="translate(333.5,46.8) scale(0.88,1)" text-anchor="middle">North Asia</text>
<text transform="translate(229.5,184.2) scale(0.88,1)" text-anchor="middle">Central Asia</text>
<text transform="translate(130.5,189.2) scale(0.88,1)" text-anchor="middle">Europe</text>
<text transform="translate(331.7,270.6) scale(0.88,1)" text-anchor="middle">South Asia</text>
</g></g>
<g font-size="18.6" fill="#111" stroke="#111" stroke-width="0.35"><text transform="translate(17.9,49.6) scale(0.88,1)">A</text></g>
<g font-size="16.5" fill="#151515" stroke="#151515" stroke-width="0.38">
<ellipse cx="110.3" cy="670.7" rx="6.78" ry="7.70" fill="#8c8c14" stroke="#151515" stroke-width="1.9"/>
<text transform="translate(121.8,676.3) scale(0.91,1)">Tarim<tspan font-size="8">_</tspan>EMBA1</text>
<ellipse cx="110.3" cy="696.9" rx="6.78" ry="7.70" fill="#ff8c14" stroke="#151515" stroke-width="1.8"/>
<text transform="translate(121.8,702.5) scale(0.91,1)">Tarim<tspan font-size="8">_</tspan>EMBA2</text>
<rect x="104.0" y="715.5" width="12.7" height="14.4" fill="#158a88" stroke="#151515" stroke-width="1.6"/>
<text transform="translate(121.8,728.3) scale(0.91,1)">Dzungaria<tspan font-size="8">_</tspan>EBA1</text>
<rect x="104.0" y="741.7" width="12.7" height="14.4" fill="#8a33f0" stroke="#151515" stroke-width="1.6"/>
<text transform="translate(121.8,754.5) scale(0.91,1)">Dzungaria<tspan font-size="8">_</tspan>EBA2</text>
<rect x="104.0" y="767.4" width="12.7" height="14.4" fill="#2b87c2" stroke="#151515" stroke-width="1.3"/>
<text transform="translate(121.8,780.2) scale(0.91,1)">Dzungaria<tspan font-size="8">_</tspan>EIA</text>
<rect x="104.0" y="793.2" width="12.7" height="14.4" fill="#b5e08c" stroke="#151515" stroke-width="1.2"/>
<text transform="translate(121.8,806.0) scale(0.91,1)">AG3</text>
<ellipse cx="110.3" cy="826.1" rx="6.42" ry="7.30" fill="#b5e08c" stroke="#151515" stroke-width="1.2"/>
<text transform="translate(121.8,831.7) scale(0.91,1)">EHG</text>
<rect x="104.0" y="844.7" width="12.7" height="14.4" fill="#1232f0" stroke="#151515" stroke-width="1.2"/>
<text transform="translate(121.8,857.5) scale(0.91,1)">West<tspan font-size="8">_</tspan>Siberia<tspan font-size="8">_</tspan>N</text>
<ellipse cx="303.1" cy="670.7" rx="6.42" ry="7.30" fill="#e9251d" stroke="#151515" stroke-width="1.2"/>
<text transform="translate(314.7,676.3) scale(0.91,1)">Botai<tspan font-size="8">_</tspan>CA</text>
<polygon points="303.1,689.0 310.0,696.9 303.1,704.8 296.2,696.9" fill="#1232f0" stroke="#151515" stroke-width="1.2" stroke-linejoin="miter"/>
<text transform="translate(314.7,702.5) scale(0.91,1)">Dali<tspan font-size="8">_</tspan>EBA</text>
<polygon points="303.1,714.8 310.0,722.7 303.1,730.6 296.2,722.7" fill="#f8a8a6" stroke="#151515" stroke-width="1.2" stroke-linejoin="miter"/>
<text transform="translate(314.7,728.3) scale(0.91,1)">Chemurchek</text>
<polygon points="303.1,741.5 309.3,754.2 296.9,754.2" fill="#2b87c2" stroke="#151515" stroke-width="1.2" stroke-linejoin="miter"/>
<text transform="translate(314.7,754.5) scale(0.91,1)">DevilsGate<tspan font-size="8">_</tspan>N</text>
<polygon points="303.1,767.2 309.3,779.9 296.9,779.9" fill="#f8a8a6" stroke="#151515" stroke-width="1.2" stroke-linejoin="miter"/>
<text transform="translate(314.7,780.2) scale(0.91,1)">Baikal<tspan font-size="8">_</tspan>EN</text>
<polygon points="303.1,792.5 310.0,800.4 303.1,808.3 296.2,800.4" fill="#7fd0f6" stroke="#151515" stroke-width="1.2" stroke-linejoin="miter"/>
<text transform="translate(314.7,806.0) scale(0.91,1)">Baikal<tspan font-size="8">_</tspan>EBA</text>
<polygon points="303.1,833.5 309.3,820.8 296.9,820.8" fill="#b5e08c" stroke="#151515" stroke-width="1.2" stroke-linejoin="miter"/>
<text transform="translate(314.7,831.7) scale(0.91,1)">YR<tspan font-size="8">_</tspan>MN</text>
<polygon points="303.1,844.0 310.0,851.9 303.1,859.8 296.2,851.9" fill="#2b7fc0" stroke="#151515" stroke-width="1.2" stroke-linejoin="miter"/>
<text transform="translate(314.7,857.5) scale(0.91,1)">WLR<tspan font-size="8">_</tspan>MN</text>
<rect x="489.7" y="663.5" width="12.7" height="14.4" fill="#fdc57e" stroke="#151515" stroke-width="1.2"/>
<text transform="translate(507.6,676.3) scale(0.91,1)">Upper<tspan font-size="8">_</tspan>YR<tspan font-size="8">_</tspan>LN</text>
<polygon points="496.0,689.0 502.9,696.9 496.0,704.8 489.1,696.9" fill="#e9251d" stroke="#151515" stroke-width="1.2" stroke-linejoin="miter"/>
<text transform="translate(507.6,702.5) scale(0.91,1)">TianShan<tspan font-size="8">_</tspan>Saka</text>
<ellipse cx="496.0" cy="722.7" rx="6.42" ry="7.30" fill="#1232f0" stroke="#151515" stroke-width="1.2"/>
<text transform="translate(507.6,728.3) scale(0.91,1)">Kazakhstan<tspan font-size="8">_</tspan>Saka</text>
<polygon points="496.0,756.3 502.2,743.6 489.8,743.6" fill="#f8a8a6" stroke="#151515" stroke-width="1.2" stroke-linejoin="miter"/>
<text transform="translate(507.6,754.5) scale(0.91,1)">TianShan<tspan font-size="8">_</tspan>Hun</text>
<ellipse cx="496.0" cy="774.6" rx="6.42" ry="7.30" fill="#2b87c2" stroke="#151515" stroke-width="1.2"/>
<text transform="translate(507.6,780.2) scale(0.91,1)">Afanasievo</text>
<polygon points="496.0,807.8 502.2,795.1 489.8,795.1" fill="#fdc57e" stroke="#151515" stroke-width="1.2" stroke-linejoin="miter"/>
<text transform="translate(507.6,806.0) scale(0.91,1)">BMAC</text>
<rect x="489.7" y="818.9" width="12.7" height="14.4" fill="#7fd0f6" stroke="#151515" stroke-width="1.2"/>
<text transform="translate(507.6,831.7) scale(0.91,1)">Kazakhstan<tspan font-size="8">_</tspan>EMBA</text>
<ellipse cx="496.0" cy="851.9" rx="6.42" ry="7.30" fill="#cdb6dc" stroke="#151515" stroke-width="1.2"/>
<text transform="translate(507.6,857.5) scale(0.91,1)">Okunevo<tspan font-size="8">_</tspan>EMBA</text>
</g>
</g>
<g id="panelB" shape-rendering="crispEdges">
<rect x="738.40" y="35.90" width="12.62" height="6.05" fill="#00007f"/>
<rect x="751.02" y="35.90" width="150.68" height="6.05" fill="#fb0207"/>
<rect x="738.40" y="47.90" width="15.70" height="6.25" fill="#00007f"/>
<rect x="754.10" y="47.90" width="12.62" height="6.25" fill="#4daf4a"/>
<rect x="766.71" y="47.90" width="5.33" height="6.25" fill="#984ea3"/>
<rect x="772.04" y="47.90" width="8.69" height="6.25" fill="#ff7f00"/>
<rect x="780.73" y="47.90" width="120.97" height="6.25" fill="#fb0207"/>
<rect x="738.40" y="60.10" width="3.92" height="3.20" fill="#00007f"/>
<rect x="742.32" y="60.10" width="53.55" height="3.20" fill="#4daf4a"/>
<rect x="795.87" y="60.10" width="19.62" height="3.20" fill="#984ea3"/>
<rect x="815.49" y="60.10" width="20.32" height="3.20" fill="#ffff33"/>
<rect x="835.82" y="60.10" width="20.32" height="3.20" fill="#a6cee3"/>
<rect x="856.14" y="60.10" width="45.56" height="3.20" fill="#fb0207"/>
<rect x="738.40" y="63.25" width="4.77" height="3.20" fill="#00007f"/>
<rect x="743.17" y="63.25" width="56.21" height="3.20" fill="#4daf4a"/>
<rect x="799.37" y="63.25" width="18.64" height="3.20" fill="#984ea3"/>
<rect x="818.02" y="63.25" width="17.10" height="3.20" fill="#ffff33"/>
<rect x="835.12" y="63.25" width="20.47" height="3.20" fill="#a6cee3"/>
<rect x="855.58" y="63.25" width="46.12" height="3.20" fill="#fb0207"/>
<rect x="738.40" y="72.10" width="15.14" height="6.35" fill="#00007f"/>
<rect x="753.54" y="72.10" width="98.40" height="6.35" fill="#ff7f00"/>
<rect x="851.94" y="72.10" width="3.08" height="6.35" fill="#ffff33"/>
<rect x="855.02" y="72.10" width="25.65" height="6.35" fill="#a6cee3"/>
<rect x="880.67" y="72.10" width="21.03" height="6.35" fill="#fb0207"/>
<rect x="738.40" y="81.60" width="2.10" height="3.05" fill="#00007f"/>
<rect x="740.50" y="81.60" width="32.24" height="3.05" fill="#4daf4a"/>
<rect x="772.74" y="81.60" width="128.96" height="3.05" fill="#fb0207"/>
<rect x="738.40" y="84.60" width="0.28" height="3.05" fill="#00007f"/>
<rect x="738.68" y="84.60" width="33.36" height="3.05" fill="#4daf4a"/>
<rect x="772.04" y="84.60" width="1.12" height="3.05" fill="#ff7f00"/>
<rect x="773.16" y="84.60" width="128.54" height="3.05" fill="#fb0207"/>
<rect x="738.40" y="87.60" width="6.31" height="3.05" fill="#00007f"/>
<rect x="744.71" y="87.60" width="28.74" height="3.05" fill="#4daf4a"/>
<rect x="773.44" y="87.60" width="128.26" height="3.05" fill="#fb0207"/>
<rect x="738.40" y="93.40" width="10.51" height="3.08" fill="#00007f"/>
<rect x="748.91" y="93.40" width="3.50" height="3.08" fill="#ff7f00"/>
<rect x="752.42" y="93.40" width="149.28" height="3.08" fill="#fb0207"/>
<rect x="738.40" y="96.43" width="12.62" height="3.08" fill="#00007f"/>
<rect x="751.02" y="96.43" width="2.10" height="3.08" fill="#377eb8"/>
<rect x="753.12" y="96.43" width="7.71" height="3.08" fill="#ff7f00"/>
<rect x="760.83" y="96.43" width="140.87" height="3.08" fill="#fb0207"/>
<rect x="738.40" y="99.47" width="11.21" height="3.08" fill="#00007f"/>
<rect x="749.61" y="99.47" width="4.21" height="3.08" fill="#ff7f00"/>
<rect x="753.82" y="99.47" width="147.88" height="3.08" fill="#fb0207"/>
<rect x="738.40" y="102.50" width="9.81" height="3.08" fill="#00007f"/>
<rect x="748.21" y="102.50" width="4.91" height="3.08" fill="#ff7f00"/>
<rect x="753.12" y="102.50" width="148.58" height="3.08" fill="#fb0207"/>
<rect x="738.40" y="105.53" width="9.11" height="3.08" fill="#00007f"/>
<rect x="747.51" y="105.53" width="4.91" height="3.08" fill="#ff7f00"/>
<rect x="752.42" y="105.53" width="149.28" height="3.08" fill="#fb0207"/>
<rect x="738.40" y="108.57" width="5.61" height="3.08" fill="#00007f"/>
<rect x="744.01" y="108.57" width="7.01" height="3.08" fill="#ff7f00"/>
<rect x="751.02" y="108.57" width="150.68" height="3.08" fill="#fb0207"/>
<rect x="738.40" y="111.60" width="9.81" height="3.08" fill="#00007f"/>
<rect x="748.21" y="111.60" width="3.50" height="3.08" fill="#ff7f00"/>
<rect x="751.72" y="111.60" width="149.98" height="3.08" fill="#fb0207"/>
<rect x="738.40" y="114.63" width="0.70" height="3.08" fill="#00007f"/>
<rect x="739.10" y="114.63" width="9.11" height="3.08" fill="#377eb8"/>
<rect x="748.21" y="114.63" width="4.21" height="3.08" fill="#ff7f00"/>
<rect x="752.42" y="114.63" width="149.28" height="3.08" fill="#fb0207"/>
<rect x="738.40" y="117.67" width="2.80" height="3.08" fill="#00007f"/>
<rect x="741.20" y="117.67" width="4.91" height="3.08" fill="#377eb8"/>
<rect x="746.11" y="117.67" width="7.01" height="3.08" fill="#ff7f00"/>
<rect x="753.12" y="117.67" width="148.58" height="3.08" fill="#fb0207"/>
<rect x="738.40" y="120.70" width="8.41" height="3.08" fill="#00007f"/>
<rect x="746.81" y="120.70" width="7.71" height="3.08" fill="#ff7f00"/>
<rect x="754.52" y="120.70" width="147.18" height="3.08" fill="#fb0207"/>
<rect x="738.40" y="123.73" width="9.11" height="3.08" fill="#00007f"/>
<rect x="747.51" y="123.73" width="6.31" height="3.08" fill="#ff7f00"/>
<rect x="753.82" y="123.73" width="147.88" height="3.08" fill="#fb0207"/>
<rect x="738.40" y="126.77" width="5.61" height="3.08" fill="#00007f"/>
<rect x="744.01" y="126.77" width="7.01" height="3.08" fill="#ff7f00"/>
<rect x="751.02" y="126.77" width="150.68" height="3.08" fill="#fb0207"/>
<rect x="738.40" y="133.00" width="17.52" height="6.15" fill="#00007f"/>
<rect x="755.92" y="133.00" width="14.02" height="6.15" fill="#ffff33"/>
<rect x="769.94" y="133.00" width="131.76" height="6.15" fill="#fb0207"/>
<rect x="738.40" y="144.70" width="14.02" height="3.08" fill="#00007f"/>
<rect x="752.42" y="144.70" width="9.53" height="3.08" fill="#377eb8"/>
<rect x="761.95" y="144.70" width="14.30" height="3.08" fill="#ff7f00"/>
<rect x="776.25" y="144.70" width="125.45" height="3.08" fill="#fb0207"/>
<rect x="738.40" y="147.73" width="14.30" height="3.08" fill="#00007f"/>
<rect x="752.70" y="147.73" width="3.64" height="3.08" fill="#377eb8"/>
<rect x="756.34" y="147.73" width="15.70" height="3.08" fill="#ff7f00"/>
<rect x="772.04" y="147.73" width="129.66" height="3.08" fill="#fb0207"/>
<rect x="738.40" y="150.77" width="15.42" height="3.08" fill="#00007f"/>
<rect x="753.82" y="150.77" width="1.68" height="3.08" fill="#377eb8"/>
<rect x="755.50" y="150.77" width="15.84" height="3.08" fill="#ff7f00"/>
<rect x="771.34" y="150.77" width="6.31" height="3.08" fill="#a6cee3"/>
<rect x="777.65" y="150.77" width="124.05" height="3.08" fill="#fb0207"/>
<rect x="738.40" y="157.30" width="5.61" height="2.85" fill="#00007f"/>
<rect x="744.01" y="157.30" width="9.81" height="2.85" fill="#377eb8"/>
<rect x="753.82" y="157.30" width="21.03" height="2.85" fill="#ff7f00"/>
<rect x="774.84" y="157.30" width="126.86" height="2.85" fill="#fb0207"/>
<rect x="738.40" y="160.10" width="9.81" height="2.85" fill="#00007f"/>
<rect x="748.21" y="160.10" width="4.91" height="2.85" fill="#377eb8"/>
<rect x="753.12" y="160.10" width="21.45" height="2.85" fill="#ff7f00"/>
<rect x="774.56" y="160.10" width="127.14" height="2.85" fill="#fb0207"/>
<rect x="738.40" y="162.90" width="9.81" height="2.85" fill="#00007f"/>
<rect x="748.21" y="162.90" width="3.92" height="2.85" fill="#377eb8"/>
<rect x="752.14" y="162.90" width="9.81" height="2.85" fill="#ff7f00"/>
<rect x="761.95" y="162.90" width="139.75" height="2.85" fill="#fb0207"/>
<rect x="738.40" y="169.50" width="23.13" height="2.92" fill="#377eb8"/>
<rect x="761.53" y="169.50" width="3.50" height="2.92" fill="#ff7f00"/>
<rect x="765.03" y="169.50" width="134.56" height="2.92" fill="#a6cee3"/>
<rect x="899.60" y="169.50" width="2.10" height="2.92" fill="#fb0207"/>
<rect x="738.40" y="172.37" width="21.73" height="2.92" fill="#377eb8"/>
<rect x="760.13" y="172.37" width="17.52" height="2.92" fill="#ff7f00"/>
<rect x="777.65" y="172.37" width="124.05" height="2.92" fill="#a6cee3"/>
<rect x="738.40" y="175.23" width="28.74" height="2.92" fill="#377eb8"/>
<rect x="767.14" y="175.23" width="14.72" height="2.92" fill="#ff7f00"/>
<rect x="781.85" y="175.23" width="119.85" height="2.92" fill="#a6cee3"/>
<rect x="738.40" y="181.60" width="28.03" height="2.99" fill="#377eb8"/>
<rect x="766.43" y="181.60" width="10.51" height="2.99" fill="#ff7f00"/>
<rect x="776.95" y="181.60" width="123.77" height="2.99" fill="#a6cee3"/>
<rect x="900.72" y="181.60" width="0.98" height="2.99" fill="#fb0207"/>
<rect x="738.40" y="184.54" width="26.63" height="2.99" fill="#377eb8"/>
<rect x="765.03" y="184.54" width="15.42" height="2.99" fill="#ff7f00"/>
<rect x="780.45" y="184.54" width="119.43" height="2.99" fill="#a6cee3"/>
<rect x="899.88" y="184.54" width="1.82" height="2.99" fill="#fb0207"/>
<rect x="738.40" y="187.49" width="26.63" height="2.99" fill="#377eb8"/>
<rect x="765.03" y="187.49" width="12.62" height="2.99" fill="#ff7f00"/>
<rect x="777.65" y="187.49" width="121.25" height="2.99" fill="#a6cee3"/>
<rect x="898.90" y="187.49" width="2.80" height="2.99" fill="#fb0207"/>
<rect x="738.40" y="190.43" width="27.33" height="2.99" fill="#377eb8"/>
<rect x="765.73" y="190.43" width="7.71" height="2.99" fill="#ff7f00"/>
<rect x="773.44" y="190.43" width="123.35" height="2.99" fill="#a6cee3"/>
<rect x="896.79" y="190.43" width="4.91" height="2.99" fill="#fb0207"/>
<rect x="738.40" y="193.37" width="20.32" height="2.99" fill="#377eb8"/>
<rect x="758.72" y="193.37" width="9.11" height="2.99" fill="#ff7f00"/>
<rect x="767.84" y="193.37" width="130.36" height="2.99" fill="#a6cee3"/>
<rect x="898.20" y="193.37" width="3.50" height="2.99" fill="#fb0207"/>
<rect x="738.40" y="196.31" width="0.84" height="2.99" fill="#00007f"/>
<rect x="739.24" y="196.31" width="27.89" height="2.99" fill="#377eb8"/>
<rect x="767.14" y="196.31" width="8.41" height="2.99" fill="#a6cee3"/>
<rect x="775.55" y="196.31" width="10.51" height="2.99" fill="#ff7f00"/>
<rect x="786.06" y="196.31" width="114.24" height="2.99" fill="#a6cee3"/>
<rect x="900.30" y="196.31" width="1.40" height="2.99" fill="#fb0207"/>
<rect x="738.40" y="199.26" width="26.63" height="2.99" fill="#377eb8"/>
<rect x="765.03" y="199.26" width="10.51" height="2.99" fill="#ff7f00"/>
<rect x="775.55" y="199.26" width="122.65" height="2.99" fill="#a6cee3"/>
<rect x="898.20" y="199.26" width="3.50" height="2.99" fill="#fb0207"/>
<rect x="738.40" y="205.70" width="28.03" height="3.06" fill="#377eb8"/>
<rect x="766.43" y="205.70" width="16.12" height="3.06" fill="#ff7f00"/>
<rect x="782.55" y="205.70" width="112.84" height="3.06" fill="#a6cee3"/>
<rect x="895.39" y="205.70" width="6.31" height="3.06" fill="#fb0207"/>
<rect x="738.40" y="208.71" width="0.56" height="3.06" fill="#00007f"/>
<rect x="738.96" y="208.71" width="32.38" height="3.06" fill="#377eb8"/>
<rect x="771.34" y="208.71" width="17.52" height="3.06" fill="#ff7f00"/>
<rect x="788.86" y="208.71" width="105.83" height="3.06" fill="#a6cee3"/>
<rect x="894.69" y="208.71" width="7.01" height="3.06" fill="#fb0207"/>
<rect x="738.40" y="211.71" width="23.13" height="3.06" fill="#377eb8"/>
<rect x="761.53" y="211.71" width="28.74" height="3.06" fill="#ff7f00"/>
<rect x="790.26" y="211.71" width="103.03" height="3.06" fill="#a6cee3"/>
<rect x="893.29" y="211.71" width="8.41" height="3.06" fill="#fb0207"/>
<rect x="738.40" y="214.72" width="30.14" height="3.06" fill="#377eb8"/>
<rect x="768.54" y="214.72" width="22.43" height="3.06" fill="#ff7f00"/>
<rect x="790.96" y="214.72" width="97.42" height="3.06" fill="#a6cee3"/>
<rect x="888.38" y="214.72" width="13.32" height="3.06" fill="#fb0207"/>
<rect x="738.40" y="217.73" width="33.64" height="3.06" fill="#377eb8"/>
<rect x="772.04" y="217.73" width="18.22" height="3.06" fill="#ff7f00"/>
<rect x="790.26" y="217.73" width="107.23" height="3.06" fill="#a6cee3"/>
<rect x="897.49" y="217.73" width="4.21" height="3.06" fill="#fb0207"/>
<rect x="738.40" y="220.74" width="0.56" height="3.06" fill="#00007f"/>
<rect x="738.96" y="220.74" width="35.88" height="3.06" fill="#377eb8"/>
<rect x="774.84" y="220.74" width="14.02" height="3.06" fill="#ff7f00"/>
<rect x="788.86" y="220.74" width="106.53" height="3.06" fill="#a6cee3"/>
<rect x="895.39" y="220.74" width="6.31" height="3.06" fill="#fb0207"/>
<rect x="738.40" y="223.74" width="25.93" height="3.06" fill="#377eb8"/>
<rect x="764.33" y="223.74" width="21.73" height="3.06" fill="#ff7f00"/>
<rect x="786.06" y="223.74" width="108.63" height="3.06" fill="#a6cee3"/>
<rect x="894.69" y="223.74" width="7.01" height="3.06" fill="#fb0207"/>
<rect x="738.40" y="226.75" width="29.44" height="3.06" fill="#377eb8"/>
<rect x="767.84" y="226.75" width="18.22" height="3.06" fill="#ff7f00"/>
<rect x="786.06" y="226.75" width="109.33" height="3.06" fill="#a6cee3"/>
<rect x="895.39" y="226.75" width="6.31" height="3.06" fill="#fb0207"/>
<rect x="738.40" y="229.76" width="30.84" height="3.06" fill="#377eb8"/>
<rect x="769.24" y="229.76" width="17.52" height="3.06" fill="#ff7f00"/>
<rect x="786.76" y="229.76" width="107.93" height="3.06" fill="#a6cee3"/>
<rect x="894.69" y="229.76" width="7.01" height="3.06" fill="#fb0207"/>
<rect x="738.40" y="232.76" width="30.14" height="3.06" fill="#377eb8"/>
<rect x="768.54" y="232.76" width="20.32" height="3.06" fill="#ff7f00"/>
<rect x="788.86" y="232.76" width="101.62" height="3.06" fill="#a6cee3"/>
<rect x="890.49" y="232.76" width="11.21" height="3.06" fill="#fb0207"/>
<rect x="738.40" y="235.77" width="31.54" height="3.06" fill="#377eb8"/>
<rect x="769.94" y="235.77" width="20.32" height="3.06" fill="#ff7f00"/>
<rect x="790.26" y="235.77" width="106.53" height="3.06" fill="#a6cee3"/>
<rect x="896.79" y="235.77" width="4.91" height="3.06" fill="#fb0207"/>
<rect x="738.40" y="238.78" width="2.52" height="3.06" fill="#00007f"/>
<rect x="740.92" y="238.78" width="29.02" height="3.06" fill="#377eb8"/>
<rect x="769.94" y="238.78" width="25.93" height="3.06" fill="#ff7f00"/>
<rect x="795.87" y="238.78" width="90.41" height="3.06" fill="#a6cee3"/>
<rect x="886.28" y="238.78" width="15.42" height="3.06" fill="#fb0207"/>
<rect x="738.40" y="241.79" width="4.21" height="3.06" fill="#00007f"/>
<rect x="742.61" y="241.79" width="32.94" height="3.06" fill="#377eb8"/>
<rect x="775.55" y="241.79" width="18.22" height="3.06" fill="#ff7f00"/>
<rect x="793.77" y="241.79" width="97.42" height="3.06" fill="#a6cee3"/>
<rect x="891.19" y="241.79" width="10.51" height="3.06" fill="#fb0207"/>
<rect x="738.40" y="244.79" width="31.54" height="3.06" fill="#377eb8"/>
<rect x="769.94" y="244.79" width="18.92" height="3.06" fill="#ff7f00"/>
<rect x="788.86" y="244.79" width="103.73" height="3.06" fill="#a6cee3"/>
<rect x="892.59" y="244.79" width="9.11" height="3.06" fill="#fb0207"/>
<rect x="738.40" y="250.90" width="37.15" height="3.00" fill="#377eb8"/>
<rect x="775.55" y="250.90" width="2.10" height="3.00" fill="#984ea3"/>
<rect x="777.65" y="250.90" width="14.02" height="3.00" fill="#ff7f00"/>
<rect x="791.67" y="250.90" width="110.03" height="3.00" fill="#a6cee3"/>
<rect x="738.40" y="253.85" width="33.64" height="3.00" fill="#377eb8"/>
<rect x="772.04" y="253.85" width="5.61" height="3.00" fill="#ff7f00"/>
<rect x="777.65" y="253.85" width="124.05" height="3.00" fill="#a6cee3"/>
<rect x="738.40" y="260.00" width="13.32" height="3.05" fill="#377eb8"/>
<rect x="751.72" y="260.00" width="13.32" height="3.05" fill="#ff7f00"/>
<rect x="765.03" y="260.00" width="7.01" height="3.05" fill="#ffff33"/>
<rect x="772.04" y="260.00" width="129.66" height="3.05" fill="#a6cee3"/>
<rect x="738.40" y="263.00" width="12.62" height="3.05" fill="#377eb8"/>
<rect x="751.02" y="263.00" width="12.62" height="3.05" fill="#ff7f00"/>
<rect x="763.63" y="263.00" width="138.07" height="3.05" fill="#a6cee3"/>
<rect x="738.40" y="266.00" width="9.81" height="3.05" fill="#377eb8"/>
<rect x="748.21" y="266.00" width="14.72" height="3.05" fill="#ff7f00"/>
<rect x="762.93" y="266.00" width="5.61" height="3.05" fill="#ffff33"/>
<rect x="768.54" y="266.00" width="133.16" height="3.05" fill="#a6cee3"/>
<rect x="738.40" y="269.00" width="2.10" height="3.05" fill="#00007f"/>
<rect x="740.50" y="269.00" width="21.73" height="3.05" fill="#377eb8"/>
<rect x="762.23" y="269.00" width="6.31" height="3.05" fill="#ffff33"/>
<rect x="768.54" y="269.00" width="133.16" height="3.05" fill="#a6cee3"/>
<rect x="738.40" y="275.30" width="70.09" height="2.98" fill="#4daf4a"/>
<rect x="808.49" y="275.30" width="93.21" height="2.98" fill="#fb0207"/>
<rect x="738.40" y="278.23" width="67.98" height="2.98" fill="#4daf4a"/>
<rect x="806.38" y="278.23" width="95.32" height="2.98" fill="#fb0207"/>
<rect x="738.40" y="281.17" width="60.97" height="2.98" fill="#4daf4a"/>
<rect x="799.37" y="281.17" width="2.80" height="2.98" fill="#ff7f00"/>
<rect x="802.18" y="281.17" width="99.52" height="2.98" fill="#fb0207"/>
<rect x="738.40" y="284.10" width="68.68" height="2.98" fill="#4daf4a"/>
<rect x="807.08" y="284.10" width="94.62" height="2.98" fill="#fb0207"/>
<rect x="738.40" y="287.03" width="68.68" height="2.98" fill="#4daf4a"/>
<rect x="807.08" y="287.03" width="94.62" height="2.98" fill="#fb0207"/>
<rect x="738.40" y="289.97" width="72.19" height="2.98" fill="#4daf4a"/>
<rect x="810.59" y="289.97" width="91.11" height="2.98" fill="#fb0207"/>
<rect x="738.40" y="292.90" width="65.88" height="2.98" fill="#4daf4a"/>
<rect x="804.28" y="292.90" width="97.42" height="2.98" fill="#fb0207"/>
<rect x="738.40" y="295.83" width="65.88" height="2.98" fill="#4daf4a"/>
<rect x="804.28" y="295.83" width="97.42" height="2.98" fill="#fb0207"/>
<rect x="738.40" y="298.77" width="70.09" height="2.98" fill="#4daf4a"/>
<rect x="808.49" y="298.77" width="93.21" height="2.98" fill="#fb0207"/>
<rect x="738.40" y="305.60" width="66.58" height="3.02" fill="#4daf4a"/>
<rect x="804.98" y="305.60" width="96.72" height="3.02" fill="#fb0207"/>
<rect x="738.40" y="308.58" width="67.98" height="3.02" fill="#4daf4a"/>
<rect x="806.38" y="308.58" width="95.32" height="3.02" fill="#fb0207"/>
<rect x="738.40" y="311.55" width="67.28" height="3.02" fill="#4daf4a"/>
<rect x="805.68" y="311.55" width="96.02" height="3.02" fill="#fb0207"/>
<rect x="738.40" y="314.53" width="62.38" height="3.02" fill="#4daf4a"/>
<rect x="800.78" y="314.53" width="100.92" height="3.02" fill="#fb0207"/>
<rect x="738.40" y="317.50" width="66.58" height="3.02" fill="#4daf4a"/>
<rect x="804.98" y="317.50" width="96.72" height="3.02" fill="#fb0207"/>
<rect x="738.40" y="320.48" width="67.28" height="3.02" fill="#4daf4a"/>
<rect x="805.68" y="320.48" width="96.02" height="3.02" fill="#fb0207"/>
<rect x="738.40" y="323.45" width="67.98" height="3.02" fill="#4daf4a"/>
<rect x="806.38" y="323.45" width="95.32" height="3.02" fill="#fb0207"/>
<rect x="738.40" y="326.43" width="67.28" height="3.02" fill="#4daf4a"/>
<rect x="805.68" y="326.43" width="96.02" height="3.02" fill="#fb0207"/>
<rect x="738.40" y="329.40" width="67.28" height="3.02" fill="#4daf4a"/>
<rect x="805.68" y="329.40" width="96.02" height="3.02" fill="#fb0207"/>
<rect x="738.40" y="332.38" width="67.98" height="3.02" fill="#4daf4a"/>
<rect x="806.38" y="332.38" width="95.32" height="3.02" fill="#fb0207"/>
<rect x="738.40" y="335.35" width="68.40" height="3.02" fill="#4daf4a"/>
<rect x="806.80" y="335.35" width="94.90" height="3.02" fill="#fb0207"/>
<rect x="738.40" y="338.33" width="68.96" height="3.02" fill="#4daf4a"/>
<rect x="807.36" y="338.33" width="94.34" height="3.02" fill="#fb0207"/>
<rect x="738.40" y="341.30" width="68.68" height="3.02" fill="#4daf4a"/>
<rect x="807.08" y="341.30" width="94.62" height="3.02" fill="#fb0207"/>
<rect x="738.40" y="344.28" width="62.38" height="3.02" fill="#4daf4a"/>
<rect x="800.78" y="344.28" width="100.92" height="3.02" fill="#fb0207"/>
<rect x="738.40" y="347.25" width="64.48" height="3.02" fill="#4daf4a"/>
<rect x="802.88" y="347.25" width="98.82" height="3.02" fill="#fb0207"/>
<rect x="738.40" y="350.23" width="67.98" height="3.02" fill="#4daf4a"/>
<rect x="806.38" y="350.23" width="95.32" height="3.02" fill="#fb0207"/>
<rect x="738.40" y="353.20" width="68.40" height="3.02" fill="#4daf4a"/>
<rect x="806.80" y="353.20" width="94.90" height="3.02" fill="#fb0207"/>
<rect x="738.40" y="356.18" width="62.38" height="3.02" fill="#4daf4a"/>
<rect x="800.78" y="356.18" width="100.92" height="3.02" fill="#fb0207"/>
<rect x="738.40" y="359.15" width="66.58" height="3.02" fill="#4daf4a"/>
<rect x="804.98" y="359.15" width="96.72" height="3.02" fill="#fb0207"/>
<rect x="738.40" y="362.12" width="67.28" height="3.02" fill="#4daf4a"/>
<rect x="805.68" y="362.12" width="96.02" height="3.02" fill="#fb0207"/>
<rect x="738.40" y="368.90" width="5.61" height="5.65" fill="#00007f"/>
<rect x="744.01" y="368.90" width="4.91" height="5.65" fill="#4daf4a"/>
<rect x="748.91" y="368.90" width="11.91" height="5.65" fill="#ff7f00"/>
<rect x="760.83" y="368.90" width="4.91" height="5.65" fill="#a6cee3"/>
<rect x="765.73" y="368.90" width="135.97" height="5.65" fill="#fb0207"/>
<rect x="738.40" y="378.00" width="4.91" height="3.05" fill="#00007f"/>
<rect x="743.31" y="378.00" width="23.83" height="3.05" fill="#4daf4a"/>
<rect x="767.14" y="378.00" width="134.56" height="3.05" fill="#fb0207"/>
<rect x="738.40" y="381.00" width="4.21" height="3.05" fill="#00007f"/>
<rect x="742.61" y="381.00" width="15.42" height="3.05" fill="#4daf4a"/>
<rect x="758.02" y="381.00" width="8.69" height="3.05" fill="#ff7f00"/>
<rect x="766.71" y="381.00" width="134.99" height="3.05" fill="#fb0207"/>
<rect x="738.40" y="384.00" width="4.91" height="3.05" fill="#00007f"/>
<rect x="743.31" y="384.00" width="20.32" height="3.05" fill="#4daf4a"/>
<rect x="763.63" y="384.00" width="2.38" height="3.05" fill="#ffff33"/>
<rect x="766.01" y="384.00" width="135.69" height="3.05" fill="#fb0207"/>
<rect x="738.40" y="387.00" width="5.61" height="3.05" fill="#00007f"/>
<rect x="744.01" y="387.00" width="4.21" height="3.05" fill="#4daf4a"/>
<rect x="748.21" y="387.00" width="3.78" height="3.05" fill="#ff7f00"/>
<rect x="752.00" y="387.00" width="4.91" height="3.05" fill="#a6cee3"/>
<rect x="756.90" y="387.00" width="144.80" height="3.05" fill="#fb0207"/>
<rect x="738.40" y="390.00" width="6.31" height="3.05" fill="#00007f"/>
<rect x="744.71" y="390.00" width="28.74" height="3.05" fill="#4daf4a"/>
<rect x="773.44" y="390.00" width="3.50" height="3.05" fill="#ff7f00"/>
<rect x="776.95" y="390.00" width="2.38" height="3.05" fill="#ffff33"/>
<rect x="779.33" y="390.00" width="122.37" height="3.05" fill="#fb0207"/>
<rect x="738.40" y="393.00" width="7.29" height="3.05" fill="#00007f"/>
<rect x="745.69" y="393.00" width="21.45" height="3.05" fill="#4daf4a"/>
<rect x="767.14" y="393.00" width="4.91" height="3.05" fill="#a6cee3"/>
<rect x="772.04" y="393.00" width="129.66" height="3.05" fill="#fb0207"/>
<rect x="738.40" y="399.10" width="1.40" height="2.95" fill="#00007f"/>
<rect x="739.80" y="399.10" width="4.21" height="2.95" fill="#377eb8"/>
<rect x="744.01" y="399.10" width="44.85" height="2.95" fill="#4daf4a"/>
<rect x="788.86" y="399.10" width="5.61" height="2.95" fill="#ff7f00"/>
<rect x="794.47" y="399.10" width="107.23" height="2.95" fill="#fb0207"/>
<rect x="738.40" y="402.00" width="8.13" height="2.95" fill="#377eb8"/>
<rect x="746.53" y="402.00" width="45.14" height="2.95" fill="#4daf4a"/>
<rect x="791.67" y="402.00" width="4.21" height="2.95" fill="#a6cee3"/>
<rect x="795.87" y="402.00" width="105.83" height="2.95" fill="#fb0207"/>
<rect x="738.40" y="404.90" width="1.68" height="2.95" fill="#00007f"/>
<rect x="740.08" y="404.90" width="45.98" height="2.95" fill="#4daf4a"/>
<rect x="786.06" y="404.90" width="5.61" height="2.95" fill="#ff7f00"/>
<rect x="791.67" y="404.90" width="4.91" height="2.95" fill="#a6cee3"/>
<rect x="796.57" y="404.90" width="105.13" height="2.95" fill="#fb0207"/>
<rect x="738.40" y="411.30" width="6.31" height="2.90" fill="#00007f"/>
<rect x="744.71" y="411.30" width="2.10" height="2.90" fill="#377eb8"/>
<rect x="746.81" y="411.30" width="30.84" height="2.90" fill="#4daf4a"/>
<rect x="777.65" y="411.30" width="12.62" height="2.90" fill="#a6cee3"/>
<rect x="790.26" y="411.30" width="111.44" height="2.90" fill="#fb0207"/>
<rect x="738.40" y="414.15" width="2.52" height="2.90" fill="#00007f"/>
<rect x="740.92" y="414.15" width="26.21" height="2.90" fill="#4daf4a"/>
<rect x="767.14" y="414.15" width="4.21" height="2.90" fill="#ff7f00"/>
<rect x="771.34" y="414.15" width="3.50" height="2.90" fill="#ffff33"/>
<rect x="774.84" y="414.15" width="15.42" height="2.90" fill="#a6cee3"/>
<rect x="790.26" y="414.15" width="111.44" height="2.90" fill="#fb0207"/>
<rect x="738.40" y="423.20" width="5.61" height="3.05" fill="#00007f"/>
<rect x="744.01" y="423.20" width="2.80" height="3.05" fill="#377eb8"/>
<rect x="746.81" y="423.20" width="37.15" height="3.05" fill="#4daf4a"/>
<rect x="783.96" y="423.20" width="3.50" height="3.05" fill="#ffff33"/>
<rect x="787.46" y="423.20" width="4.91" height="3.05" fill="#a6cee3"/>
<rect x="792.37" y="423.20" width="109.33" height="3.05" fill="#fb0207"/>
<rect x="738.40" y="426.20" width="1.40" height="3.05" fill="#00007f"/>
<rect x="739.80" y="426.20" width="42.75" height="3.05" fill="#4daf4a"/>
<rect x="782.55" y="426.20" width="9.11" height="3.05" fill="#ff7f00"/>
<rect x="791.67" y="426.20" width="9.81" height="3.05" fill="#a6cee3"/>
<rect x="801.48" y="426.20" width="100.22" height="3.05" fill="#fb0207"/>
<rect x="738.40" y="432.30" width="12.62" height="3.05" fill="#00007f"/>
<rect x="751.02" y="432.30" width="9.11" height="3.05" fill="#377eb8"/>
<rect x="760.13" y="432.30" width="14.02" height="3.05" fill="#ff7f00"/>
<rect x="774.14" y="432.30" width="32.24" height="3.05" fill="#a6cee3"/>
<rect x="806.38" y="432.30" width="95.32" height="3.05" fill="#fb0207"/>
<rect x="738.40" y="435.30" width="5.61" height="3.05" fill="#00007f"/>
<rect x="744.01" y="435.30" width="14.02" height="3.05" fill="#377eb8"/>
<rect x="758.02" y="435.30" width="3.50" height="3.05" fill="#4daf4a"/>
<rect x="761.53" y="435.30" width="11.91" height="3.05" fill="#ff7f00"/>
<rect x="773.44" y="435.30" width="30.14" height="3.05" fill="#a6cee3"/>
<rect x="803.58" y="435.30" width="98.12" height="3.05" fill="#fb0207"/>
<rect x="738.40" y="438.30" width="6.31" height="3.05" fill="#00007f"/>
<rect x="744.71" y="438.30" width="14.02" height="3.05" fill="#377eb8"/>
<rect x="758.72" y="438.30" width="3.50" height="3.05" fill="#4daf4a"/>
<rect x="762.23" y="438.30" width="11.91" height="3.05" fill="#ff7f00"/>
<rect x="774.14" y="438.30" width="30.14" height="3.05" fill="#a6cee3"/>
<rect x="804.28" y="438.30" width="97.42" height="3.05" fill="#fb0207"/>
<rect x="738.40" y="441.30" width="7.71" height="3.05" fill="#00007f"/>
<rect x="746.11" y="441.30" width="14.72" height="3.05" fill="#377eb8"/>
<rect x="760.83" y="441.30" width="5.61" height="3.05" fill="#4daf4a"/>
<rect x="766.43" y="441.30" width="8.41" height="3.05" fill="#ff7f00"/>
<rect x="774.84" y="441.30" width="35.04" height="3.05" fill="#a6cee3"/>
<rect x="809.89" y="441.30" width="91.81" height="3.05" fill="#fb0207"/>
<rect x="738.40" y="444.30" width="9.81" height="3.05" fill="#00007f"/>
<rect x="748.21" y="444.30" width="10.51" height="3.05" fill="#377eb8"/>
<rect x="758.72" y="444.30" width="9.81" height="3.05" fill="#ff7f00"/>
<rect x="768.54" y="444.30" width="39.25" height="3.05" fill="#a6cee3"/>
<rect x="807.78" y="444.30" width="93.92" height="3.05" fill="#fb0207"/>
<rect x="738.40" y="447.30" width="8.41" height="3.05" fill="#00007f"/>
<rect x="746.81" y="447.30" width="12.62" height="3.05" fill="#377eb8"/>
<rect x="759.43" y="447.30" width="14.72" height="3.05" fill="#ff7f00"/>
<rect x="774.14" y="447.30" width="31.54" height="3.05" fill="#a6cee3"/>
<rect x="805.68" y="447.30" width="96.02" height="3.05" fill="#fb0207"/>
<rect x="738.40" y="450.30" width="7.71" height="3.05" fill="#00007f"/>
<rect x="746.11" y="450.30" width="16.82" height="3.05" fill="#377eb8"/>
<rect x="762.93" y="450.30" width="11.91" height="3.05" fill="#ff7f00"/>
<rect x="774.84" y="450.30" width="30.14" height="3.05" fill="#a6cee3"/>
<rect x="804.98" y="450.30" width="96.72" height="3.05" fill="#fb0207"/>
<rect x="738.40" y="453.30" width="7.71" height="3.05" fill="#00007f"/>
<rect x="746.11" y="453.30" width="23.13" height="3.05" fill="#377eb8"/>
<rect x="769.24" y="453.30" width="2.10" height="3.05" fill="#984ea3"/>
<rect x="771.34" y="453.30" width="5.61" height="3.05" fill="#ff7f00"/>
<rect x="776.95" y="453.30" width="30.14" height="3.05" fill="#a6cee3"/>
<rect x="807.08" y="453.30" width="94.62" height="3.05" fill="#fb0207"/>
<rect x="738.40" y="456.30" width="9.11" height="3.05" fill="#00007f"/>
<rect x="747.51" y="456.30" width="4.21" height="3.05" fill="#377eb8"/>
<rect x="751.72" y="456.30" width="17.52" height="3.05" fill="#ff7f00"/>
<rect x="769.24" y="456.30" width="37.85" height="3.05" fill="#a6cee3"/>
<rect x="807.08" y="456.30" width="94.62" height="3.05" fill="#fb0207"/>
<rect x="738.40" y="459.30" width="9.11" height="3.05" fill="#00007f"/>
<rect x="747.51" y="459.30" width="19.62" height="3.05" fill="#377eb8"/>
<rect x="767.14" y="459.30" width="11.91" height="3.05" fill="#4daf4a"/>
<rect x="779.05" y="459.30" width="7.01" height="3.05" fill="#ff7f00"/>
<rect x="786.06" y="459.30" width="28.03" height="3.05" fill="#a6cee3"/>
<rect x="814.09" y="459.30" width="87.61" height="3.05" fill="#fb0207"/>
<rect x="738.40" y="462.30" width="4.91" height="3.05" fill="#00007f"/>
<rect x="743.31" y="462.30" width="11.91" height="3.05" fill="#377eb8"/>
<rect x="755.22" y="462.30" width="3.50" height="3.05" fill="#4daf4a"/>
<rect x="758.72" y="462.30" width="18.22" height="3.05" fill="#ff7f00"/>
<rect x="776.95" y="462.30" width="34.34" height="3.05" fill="#a6cee3"/>
<rect x="811.29" y="462.30" width="90.41" height="3.05" fill="#fb0207"/>
<rect x="738.40" y="465.30" width="7.01" height="3.05" fill="#00007f"/>
<rect x="745.41" y="465.30" width="14.02" height="3.05" fill="#377eb8"/>
<rect x="759.43" y="465.30" width="14.02" height="3.05" fill="#ff7f00"/>
<rect x="773.44" y="465.30" width="35.04" height="3.05" fill="#a6cee3"/>
<rect x="808.49" y="465.30" width="93.21" height="3.05" fill="#fb0207"/>
<rect x="738.40" y="468.30" width="4.21" height="3.05" fill="#00007f"/>
<rect x="742.61" y="468.30" width="17.52" height="3.05" fill="#377eb8"/>
<rect x="760.13" y="468.30" width="15.42" height="3.05" fill="#ff7f00"/>
<rect x="775.55" y="468.30" width="31.54" height="3.05" fill="#a6cee3"/>
<rect x="807.08" y="468.30" width="94.62" height="3.05" fill="#fb0207"/>
<rect x="738.40" y="471.30" width="6.31" height="3.05" fill="#00007f"/>
<rect x="744.71" y="471.30" width="11.21" height="3.05" fill="#377eb8"/>
<rect x="755.92" y="471.30" width="7.71" height="3.05" fill="#4daf4a"/>
<rect x="763.63" y="471.30" width="14.02" height="3.05" fill="#ff7f00"/>
<rect x="777.65" y="471.30" width="30.14" height="3.05" fill="#a6cee3"/>
<rect x="807.78" y="471.30" width="93.92" height="3.05" fill="#fb0207"/>
<rect x="738.40" y="474.30" width="7.01" height="3.05" fill="#00007f"/>
<rect x="745.41" y="474.30" width="14.02" height="3.05" fill="#377eb8"/>
<rect x="759.43" y="474.30" width="15.42" height="3.05" fill="#ff7f00"/>
<rect x="774.84" y="474.30" width="33.64" height="3.05" fill="#a6cee3"/>
<rect x="808.49" y="474.30" width="93.21" height="3.05" fill="#fb0207"/>
<rect x="738.40" y="477.30" width="9.81" height="3.05" fill="#00007f"/>
<rect x="748.21" y="477.30" width="15.42" height="3.05" fill="#377eb8"/>
<rect x="763.63" y="477.30" width="4.21" height="3.05" fill="#4daf4a"/>
<rect x="767.84" y="477.30" width="16.82" height="3.05" fill="#ff7f00"/>
<rect x="784.66" y="477.30" width="28.03" height="3.05" fill="#a6cee3"/>
<rect x="812.69" y="477.30" width="89.01" height="3.05" fill="#fb0207"/>
<rect x="738.40" y="483.80" width="3.50" height="3.05" fill="#00007f"/>
<rect x="741.90" y="483.80" width="42.75" height="3.05" fill="#377eb8"/>
<rect x="784.66" y="483.80" width="2.80" height="3.05" fill="#984ea3"/>
<rect x="787.46" y="483.80" width="18.92" height="3.05" fill="#ff7f00"/>
<rect x="806.38" y="483.80" width="66.58" height="3.05" fill="#a6cee3"/>
<rect x="872.96" y="483.80" width="28.74" height="3.05" fill="#fb0207"/>
<rect x="738.40" y="486.80" width="5.61" height="3.05" fill="#00007f"/>
<rect x="744.01" y="486.80" width="44.85" height="3.05" fill="#377eb8"/>
<rect x="788.86" y="486.80" width="16.12" height="3.05" fill="#ff7f00"/>
<rect x="804.98" y="486.80" width="71.49" height="3.05" fill="#a6cee3"/>
<rect x="876.47" y="486.80" width="25.23" height="3.05" fill="#fb0207"/>
<rect x="738.40" y="489.80" width="6.31" height="3.05" fill="#00007f"/>
<rect x="744.71" y="489.80" width="51.16" height="3.05" fill="#377eb8"/>
<rect x="795.87" y="489.80" width="11.21" height="3.05" fill="#ff7f00"/>
<rect x="807.08" y="489.80" width="66.58" height="3.05" fill="#a6cee3"/>
<rect x="873.67" y="489.80" width="28.03" height="3.05" fill="#fb0207"/>
<rect x="738.40" y="492.80" width="5.61" height="3.05" fill="#00007f"/>
<rect x="744.01" y="492.80" width="54.67" height="3.05" fill="#377eb8"/>
<rect x="798.67" y="492.80" width="7.71" height="3.05" fill="#ff7f00"/>
<rect x="806.38" y="492.80" width="68.68" height="3.05" fill="#a6cee3"/>
<rect x="875.07" y="492.80" width="26.63" height="3.05" fill="#fb0207"/>
<rect x="738.40" y="495.80" width="4.91" height="3.05" fill="#00007f"/>
<rect x="743.31" y="495.80" width="46.96" height="3.05" fill="#377eb8"/>
<rect x="790.26" y="495.80" width="15.42" height="3.05" fill="#ff7f00"/>
<rect x="805.68" y="495.80" width="70.09" height="3.05" fill="#a6cee3"/>
<rect x="875.77" y="495.80" width="25.93" height="3.05" fill="#fb0207"/>
<rect x="738.40" y="498.80" width="6.31" height="3.05" fill="#00007f"/>
<rect x="744.71" y="498.80" width="52.56" height="3.05" fill="#377eb8"/>
<rect x="797.27" y="498.80" width="16.82" height="3.05" fill="#ff7f00"/>
<rect x="814.09" y="498.80" width="63.08" height="3.05" fill="#a6cee3"/>
<rect x="877.17" y="498.80" width="24.53" height="3.05" fill="#fb0207"/>
<rect x="738.40" y="501.80" width="4.91" height="3.05" fill="#00007f"/>
<rect x="743.31" y="501.80" width="43.45" height="3.05" fill="#377eb8"/>
<rect x="786.76" y="501.80" width="10.51" height="3.05" fill="#ff7f00"/>
<rect x="797.27" y="501.80" width="77.80" height="3.05" fill="#a6cee3"/>
<rect x="875.07" y="501.80" width="26.63" height="3.05" fill="#fb0207"/>
<rect x="738.40" y="504.80" width="3.50" height="3.05" fill="#00007f"/>
<rect x="741.90" y="504.80" width="53.97" height="3.05" fill="#377eb8"/>
<rect x="795.87" y="504.80" width="11.91" height="3.05" fill="#ff7f00"/>
<rect x="807.78" y="504.80" width="67.98" height="3.05" fill="#a6cee3"/>
<rect x="875.77" y="504.80" width="25.93" height="3.05" fill="#fb0207"/>
<rect x="738.40" y="507.80" width="2.80" height="3.05" fill="#00007f"/>
<rect x="741.20" y="507.80" width="63.08" height="3.05" fill="#377eb8"/>
<rect x="804.28" y="507.80" width="3.50" height="3.05" fill="#ff7f00"/>
<rect x="807.78" y="507.80" width="68.68" height="3.05" fill="#a6cee3"/>
<rect x="876.47" y="507.80" width="25.23" height="3.05" fill="#fb0207"/>
<rect x="738.40" y="510.80" width="9.81" height="3.05" fill="#00007f"/>
<rect x="748.21" y="510.80" width="53.27" height="3.05" fill="#377eb8"/>
<rect x="801.48" y="510.80" width="11.21" height="3.05" fill="#ff7f00"/>
<rect x="812.69" y="510.80" width="57.47" height="3.05" fill="#a6cee3"/>
<rect x="870.16" y="510.80" width="31.54" height="3.05" fill="#fb0207"/>
<rect x="738.40" y="513.80" width="8.41" height="3.05" fill="#00007f"/>
<rect x="746.81" y="513.80" width="56.07" height="3.05" fill="#377eb8"/>
<rect x="802.88" y="513.80" width="16.82" height="3.05" fill="#ff7f00"/>
<rect x="819.70" y="513.80" width="51.16" height="3.05" fill="#a6cee3"/>
<rect x="870.86" y="513.80" width="30.84" height="3.05" fill="#fb0207"/>
<rect x="738.40" y="516.80" width="4.91" height="3.05" fill="#00007f"/>
<rect x="743.31" y="516.80" width="63.08" height="3.05" fill="#377eb8"/>
<rect x="806.38" y="516.80" width="7.71" height="3.05" fill="#ff7f00"/>
<rect x="814.09" y="516.80" width="57.47" height="3.05" fill="#a6cee3"/>
<rect x="871.56" y="516.80" width="30.14" height="3.05" fill="#fb0207"/>
<rect x="738.40" y="519.80" width="6.31" height="3.05" fill="#00007f"/>
<rect x="744.71" y="519.80" width="53.27" height="3.05" fill="#377eb8"/>
<rect x="797.97" y="519.80" width="9.11" height="3.05" fill="#ff7f00"/>
<rect x="807.08" y="519.80" width="65.88" height="3.05" fill="#a6cee3"/>
<rect x="872.96" y="519.80" width="28.74" height="3.05" fill="#fb0207"/>
<rect x="738.40" y="526.20" width="29.44" height="3.02" fill="#377eb8"/>
<rect x="767.84" y="526.20" width="42.75" height="3.02" fill="#4daf4a"/>
<rect x="810.59" y="526.20" width="7.01" height="3.02" fill="#ff7f00"/>
<rect x="817.60" y="526.20" width="18.92" height="3.02" fill="#a6cee3"/>
<rect x="836.52" y="526.20" width="65.18" height="3.02" fill="#fb0207"/>
<rect x="738.40" y="529.17" width="1.40" height="3.02" fill="#00007f"/>
<rect x="739.80" y="529.17" width="82.00" height="3.02" fill="#4daf4a"/>
<rect x="821.80" y="529.17" width="2.80" height="3.02" fill="#984ea3"/>
<rect x="824.61" y="529.17" width="1.40" height="3.02" fill="#a6cee3"/>
<rect x="826.01" y="529.17" width="75.69" height="3.02" fill="#fb0207"/>
<rect x="738.40" y="532.14" width="3.08" height="3.02" fill="#00007f"/>
<rect x="741.48" y="532.14" width="22.85" height="3.02" fill="#377eb8"/>
<rect x="764.33" y="532.14" width="44.85" height="3.02" fill="#4daf4a"/>
<rect x="809.19" y="532.14" width="2.10" height="3.02" fill="#ff7f00"/>
<rect x="811.29" y="532.14" width="32.24" height="3.02" fill="#a6cee3"/>
<rect x="843.53" y="532.14" width="58.17" height="3.02" fill="#fb0207"/>
<rect x="738.40" y="535.11" width="8.13" height="3.02" fill="#377eb8"/>
<rect x="746.53" y="535.11" width="67.56" height="3.02" fill="#4daf4a"/>
<rect x="814.09" y="535.11" width="3.50" height="3.02" fill="#ff7f00"/>
<rect x="817.60" y="535.11" width="13.32" height="3.02" fill="#a6cee3"/>
<rect x="830.91" y="535.11" width="70.79" height="3.02" fill="#fb0207"/>
<rect x="738.40" y="538.09" width="7.29" height="3.02" fill="#00007f"/>
<rect x="745.69" y="538.09" width="53.69" height="3.02" fill="#377eb8"/>
<rect x="799.37" y="538.09" width="9.11" height="3.02" fill="#ff7f00"/>
<rect x="808.49" y="538.09" width="62.38" height="3.02" fill="#a6cee3"/>
<rect x="870.86" y="538.09" width="30.84" height="3.02" fill="#fb0207"/>
<rect x="738.40" y="541.06" width="2.52" height="3.02" fill="#377eb8"/>
<rect x="740.92" y="541.06" width="75.27" height="3.02" fill="#4daf4a"/>
<rect x="816.20" y="541.06" width="2.80" height="3.02" fill="#ff7f00"/>
<rect x="819.00" y="541.06" width="14.02" height="3.02" fill="#a6cee3"/>
<rect x="833.02" y="541.06" width="68.68" height="3.02" fill="#fb0207"/>
<rect x="738.40" y="544.03" width="9.81" height="3.02" fill="#377eb8"/>
<rect x="748.21" y="544.03" width="57.47" height="3.02" fill="#4daf4a"/>
<rect x="805.68" y="544.03" width="4.21" height="3.02" fill="#ff7f00"/>
<rect x="809.89" y="544.03" width="4.21" height="3.02" fill="#ffff33"/>
<rect x="814.09" y="544.03" width="19.62" height="3.02" fill="#a6cee3"/>
<rect x="833.72" y="544.03" width="67.98" height="3.02" fill="#fb0207"/>
<rect x="738.40" y="550.70" width="5.61" height="3.02" fill="#00007f"/>
<rect x="744.01" y="550.70" width="27.33" height="3.02" fill="#377eb8"/>
<rect x="771.34" y="550.70" width="7.01" height="3.02" fill="#ff7f00"/>
<rect x="778.35" y="550.70" width="93.21" height="3.02" fill="#a6cee3"/>
<rect x="871.56" y="550.70" width="30.14" height="3.02" fill="#fb0207"/>
<rect x="738.40" y="553.67" width="4.91" height="3.02" fill="#00007f"/>
<rect x="743.31" y="553.67" width="23.13" height="3.02" fill="#377eb8"/>
<rect x="766.43" y="553.67" width="16.82" height="3.02" fill="#ff7f00"/>
<rect x="783.25" y="553.67" width="76.39" height="3.02" fill="#a6cee3"/>
<rect x="859.65" y="553.67" width="42.05" height="3.02" fill="#fb0207"/>
<rect x="738.40" y="556.63" width="2.10" height="3.02" fill="#00007f"/>
<rect x="740.50" y="556.63" width="30.14" height="3.02" fill="#377eb8"/>
<rect x="770.64" y="556.63" width="96.02" height="3.02" fill="#a6cee3"/>
<rect x="866.66" y="556.63" width="35.04" height="3.02" fill="#fb0207"/>
<rect x="738.40" y="559.60" width="2.80" height="3.02" fill="#00007f"/>
<rect x="741.20" y="559.60" width="18.92" height="3.02" fill="#377eb8"/>
<rect x="760.13" y="559.60" width="14.72" height="3.02" fill="#4daf4a"/>
<rect x="774.84" y="559.60" width="1.40" height="3.02" fill="#984ea3"/>
<rect x="776.25" y="559.60" width="17.52" height="3.02" fill="#ff7f00"/>
<rect x="793.77" y="559.60" width="82.70" height="3.02" fill="#a6cee3"/>
<rect x="876.47" y="559.60" width="25.23" height="3.02" fill="#fb0207"/>
<rect x="738.40" y="562.57" width="4.21" height="3.02" fill="#00007f"/>
<rect x="742.61" y="562.57" width="25.23" height="3.02" fill="#377eb8"/>
<rect x="767.84" y="562.57" width="6.31" height="3.02" fill="#ff7f00"/>
<rect x="774.14" y="562.57" width="100.92" height="3.02" fill="#a6cee3"/>
<rect x="875.07" y="562.57" width="26.63" height="3.02" fill="#fb0207"/>
<rect x="738.40" y="565.53" width="3.50" height="3.02" fill="#00007f"/>
<rect x="741.90" y="565.53" width="26.63" height="3.02" fill="#377eb8"/>
<rect x="768.54" y="565.53" width="9.81" height="3.02" fill="#ff7f00"/>
<rect x="778.35" y="565.53" width="86.91" height="3.02" fill="#a6cee3"/>
<rect x="865.26" y="565.53" width="36.44" height="3.02" fill="#fb0207"/>
<rect x="738.40" y="568.50" width="2.80" height="3.02" fill="#00007f"/>
<rect x="741.20" y="568.50" width="21.03" height="3.02" fill="#377eb8"/>
<rect x="762.23" y="568.50" width="9.81" height="3.02" fill="#ff7f00"/>
<rect x="772.04" y="568.50" width="98.12" height="3.02" fill="#a6cee3"/>
<rect x="870.16" y="568.50" width="31.54" height="3.02" fill="#fb0207"/>
<rect x="738.40" y="571.47" width="2.80" height="3.02" fill="#00007f"/>
<rect x="741.20" y="571.47" width="25.93" height="3.02" fill="#377eb8"/>
<rect x="767.14" y="571.47" width="12.62" height="3.02" fill="#ff7f00"/>
<rect x="779.75" y="571.47" width="88.31" height="3.02" fill="#a6cee3"/>
<rect x="868.06" y="571.47" width="33.64" height="3.02" fill="#fb0207"/>
<rect x="738.40" y="574.43" width="2.10" height="3.02" fill="#00007f"/>
<rect x="740.50" y="574.43" width="21.73" height="3.02" fill="#377eb8"/>
<rect x="762.23" y="574.43" width="9.81" height="3.02" fill="#4daf4a"/>
<rect x="772.04" y="574.43" width="6.31" height="3.02" fill="#ff7f00"/>
<rect x="778.35" y="574.43" width="90.41" height="3.02" fill="#a6cee3"/>
<rect x="868.76" y="574.43" width="32.94" height="3.02" fill="#fb0207"/>
<rect x="738.40" y="577.40" width="1.40" height="3.02" fill="#00007f"/>
<rect x="739.80" y="577.40" width="11.21" height="3.02" fill="#377eb8"/>
<rect x="751.02" y="577.40" width="13.32" height="3.02" fill="#ff7f00"/>
<rect x="764.33" y="577.40" width="109.33" height="3.02" fill="#a6cee3"/>
<rect x="873.67" y="577.40" width="28.03" height="3.02" fill="#fb0207"/>
<rect x="738.40" y="580.37" width="2.10" height="3.02" fill="#00007f"/>
<rect x="740.50" y="580.37" width="27.33" height="3.02" fill="#377eb8"/>
<rect x="767.84" y="580.37" width="11.91" height="3.02" fill="#ff7f00"/>
<rect x="779.75" y="580.37" width="82.70" height="3.02" fill="#a6cee3"/>
<rect x="862.45" y="580.37" width="39.25" height="3.02" fill="#fb0207"/>
<rect x="738.40" y="583.33" width="7.01" height="3.02" fill="#00007f"/>
<rect x="745.41" y="583.33" width="25.23" height="3.02" fill="#377eb8"/>
<rect x="770.64" y="583.33" width="3.50" height="3.02" fill="#984ea3"/>
<rect x="774.14" y="583.33" width="12.62" height="3.02" fill="#ff7f00"/>
<rect x="786.76" y="583.33" width="79.90" height="3.02" fill="#a6cee3"/>
<rect x="866.66" y="583.33" width="35.04" height="3.02" fill="#fb0207"/>
<rect x="738.40" y="586.30" width="5.61" height="3.02" fill="#00007f"/>
<rect x="744.01" y="586.30" width="24.53" height="3.02" fill="#377eb8"/>
<rect x="768.54" y="586.30" width="14.02" height="3.02" fill="#ff7f00"/>
<rect x="782.55" y="586.30" width="87.61" height="3.02" fill="#a6cee3"/>
<rect x="870.16" y="586.30" width="31.54" height="3.02" fill="#fb0207"/>
<rect x="738.40" y="589.27" width="2.80" height="3.02" fill="#00007f"/>
<rect x="741.20" y="589.27" width="26.63" height="3.02" fill="#377eb8"/>
<rect x="767.84" y="589.27" width="7.71" height="3.02" fill="#ff7f00"/>
<rect x="775.55" y="589.27" width="4.21" height="3.02" fill="#ffff33"/>
<rect x="779.75" y="589.27" width="76.39" height="3.02" fill="#a6cee3"/>
<rect x="856.14" y="589.27" width="45.56" height="3.02" fill="#fb0207"/>
<rect x="738.40" y="592.23" width="5.61" height="3.02" fill="#00007f"/>
<rect x="744.01" y="592.23" width="18.92" height="3.02" fill="#377eb8"/>
<rect x="762.93" y="592.23" width="15.42" height="3.02" fill="#ff7f00"/>
<rect x="778.35" y="592.23" width="79.20" height="3.02" fill="#a6cee3"/>
<rect x="857.55" y="592.23" width="44.15" height="3.02" fill="#fb0207"/>
<rect x="738.40" y="595.20" width="2.10" height="3.02" fill="#00007f"/>
<rect x="740.50" y="595.20" width="24.53" height="3.02" fill="#377eb8"/>
<rect x="765.03" y="595.20" width="18.22" height="3.02" fill="#ff7f00"/>
<rect x="783.25" y="595.20" width="80.60" height="3.02" fill="#a6cee3"/>
<rect x="863.85" y="595.20" width="37.85" height="3.02" fill="#fb0207"/>
<rect x="738.40" y="598.17" width="5.61" height="3.02" fill="#00007f"/>
<rect x="744.01" y="598.17" width="25.93" height="3.02" fill="#377eb8"/>
<rect x="769.94" y="598.17" width="2.10" height="3.02" fill="#4daf4a"/>
<rect x="772.04" y="598.17" width="10.51" height="3.02" fill="#ff7f00"/>
<rect x="782.55" y="598.17" width="82.00" height="3.02" fill="#a6cee3"/>
<rect x="864.55" y="598.17" width="37.15" height="3.02" fill="#fb0207"/>
<rect x="738.40" y="601.13" width="1.40" height="3.02" fill="#00007f"/>
<rect x="739.80" y="601.13" width="18.22" height="3.02" fill="#377eb8"/>
<rect x="758.02" y="601.13" width="14.72" height="3.02" fill="#ff7f00"/>
<rect x="772.74" y="601.13" width="97.42" height="3.02" fill="#a6cee3"/>
<rect x="870.16" y="601.13" width="31.54" height="3.02" fill="#fb0207"/>
<rect x="738.40" y="607.60" width="0.84" height="3.07" fill="#00007f"/>
<rect x="739.24" y="607.60" width="28.60" height="3.07" fill="#4daf4a"/>
<rect x="767.84" y="607.60" width="14.72" height="3.07" fill="#ffff33"/>
<rect x="782.55" y="607.60" width="68.68" height="3.07" fill="#a6cee3"/>
<rect x="851.24" y="607.60" width="50.46" height="3.07" fill="#fb0207"/>
<rect x="738.40" y="610.62" width="1.68" height="3.07" fill="#00007f"/>
<rect x="740.08" y="610.62" width="6.03" height="3.07" fill="#377eb8"/>
<rect x="746.11" y="610.62" width="37.15" height="3.07" fill="#4daf4a"/>
<rect x="783.25" y="610.62" width="9.81" height="3.07" fill="#ffff33"/>
<rect x="793.07" y="610.62" width="65.88" height="3.07" fill="#a6cee3"/>
<rect x="858.95" y="610.62" width="42.75" height="3.07" fill="#fb0207"/>
<rect x="738.40" y="613.64" width="2.80" height="3.07" fill="#00007f"/>
<rect x="741.20" y="613.64" width="18.92" height="3.07" fill="#377eb8"/>
<rect x="760.13" y="613.64" width="29.44" height="3.07" fill="#4daf4a"/>
<rect x="789.56" y="613.64" width="4.21" height="3.07" fill="#ffff33"/>
<rect x="793.77" y="613.64" width="70.09" height="3.07" fill="#a6cee3"/>
<rect x="863.85" y="613.64" width="37.85" height="3.07" fill="#fb0207"/>
<rect x="738.40" y="616.66" width="3.08" height="3.07" fill="#00007f"/>
<rect x="741.48" y="616.66" width="6.03" height="3.07" fill="#377eb8"/>
<rect x="747.51" y="616.66" width="42.75" height="3.07" fill="#4daf4a"/>
<rect x="790.26" y="616.66" width="3.50" height="3.07" fill="#984ea3"/>
<rect x="793.77" y="616.66" width="22.43" height="3.07" fill="#a6cee3"/>
<rect x="816.20" y="616.66" width="85.50" height="3.07" fill="#fb0207"/>
<rect x="738.40" y="619.68" width="1.68" height="3.07" fill="#00007f"/>
<rect x="740.08" y="619.68" width="67.70" height="3.07" fill="#4daf4a"/>
<rect x="807.78" y="619.68" width="5.61" height="3.07" fill="#984ea3"/>
<rect x="813.39" y="619.68" width="18.92" height="3.07" fill="#a6cee3"/>
<rect x="832.32" y="619.68" width="69.38" height="3.07" fill="#fb0207"/>
<rect x="738.40" y="622.70" width="0.56" height="3.07" fill="#00007f"/>
<rect x="738.96" y="622.70" width="59.01" height="3.07" fill="#4daf4a"/>
<rect x="797.97" y="622.70" width="7.01" height="3.07" fill="#984ea3"/>
<rect x="804.98" y="622.70" width="2.80" height="3.07" fill="#ffff33"/>
<rect x="807.78" y="622.70" width="31.54" height="3.07" fill="#a6cee3"/>
<rect x="839.32" y="622.70" width="62.38" height="3.07" fill="#fb0207"/>
<rect x="738.40" y="625.72" width="3.08" height="3.07" fill="#00007f"/>
<rect x="741.48" y="625.72" width="6.03" height="3.07" fill="#377eb8"/>
<rect x="747.51" y="625.72" width="39.25" height="3.07" fill="#4daf4a"/>
<rect x="786.76" y="625.72" width="2.10" height="3.07" fill="#984ea3"/>
<rect x="788.86" y="625.72" width="2.80" height="3.07" fill="#ff7f00"/>
<rect x="791.67" y="625.72" width="9.81" height="3.07" fill="#ffff33"/>
<rect x="801.48" y="625.72" width="46.96" height="3.07" fill="#a6cee3"/>
<rect x="848.43" y="625.72" width="53.27" height="3.07" fill="#fb0207"/>
<rect x="738.40" y="628.74" width="7.01" height="3.07" fill="#377eb8"/>
<rect x="745.41" y="628.74" width="56.07" height="3.07" fill="#4daf4a"/>
<rect x="801.48" y="628.74" width="6.31" height="3.07" fill="#ff7f00"/>
<rect x="807.78" y="628.74" width="6.31" height="3.07" fill="#ffff33"/>
<rect x="814.09" y="628.74" width="30.14" height="3.07" fill="#a6cee3"/>
<rect x="844.23" y="628.74" width="57.47" height="3.07" fill="#fb0207"/>
<rect x="738.40" y="631.76" width="1.68" height="3.07" fill="#00007f"/>
<rect x="740.08" y="631.76" width="10.93" height="3.07" fill="#377eb8"/>
<rect x="751.02" y="631.76" width="31.54" height="3.07" fill="#4daf4a"/>
<rect x="782.55" y="631.76" width="4.21" height="3.07" fill="#ff7f00"/>
<rect x="786.76" y="631.76" width="21.73" height="3.07" fill="#ffff33"/>
<rect x="808.49" y="631.76" width="51.16" height="3.07" fill="#a6cee3"/>
<rect x="859.65" y="631.76" width="42.05" height="3.07" fill="#fb0207"/>
<rect x="738.40" y="634.78" width="1.68" height="3.07" fill="#00007f"/>
<rect x="740.08" y="634.78" width="15.14" height="3.07" fill="#377eb8"/>
<rect x="755.22" y="634.78" width="12.62" height="3.07" fill="#4daf4a"/>
<rect x="767.84" y="634.78" width="14.02" height="3.07" fill="#ffff33"/>
<rect x="781.85" y="634.78" width="98.82" height="3.07" fill="#a6cee3"/>
<rect x="880.67" y="634.78" width="21.03" height="3.07" fill="#fb0207"/>
<rect x="738.40" y="641.00" width="161.48" height="3.05" fill="#4daf4a"/>
<rect x="899.88" y="641.00" width="1.82" height="3.05" fill="#984ea3"/>
<rect x="738.40" y="644.00" width="163.30" height="3.05" fill="#4daf4a"/>
<rect x="738.40" y="647.01" width="162.04" height="3.05" fill="#4daf4a"/>
<rect x="900.44" y="647.01" width="1.26" height="3.05" fill="#984ea3"/>
<rect x="738.40" y="650.01" width="1.68" height="3.05" fill="#00007f"/>
<rect x="740.08" y="650.01" width="161.62" height="3.05" fill="#4daf4a"/>
<rect x="738.40" y="653.02" width="163.30" height="3.05" fill="#4daf4a"/>
<rect x="738.40" y="656.02" width="163.30" height="3.05" fill="#4daf4a"/>
<rect x="738.40" y="659.03" width="163.30" height="3.05" fill="#4daf4a"/>
<rect x="738.40" y="662.03" width="163.30" height="3.05" fill="#4daf4a"/>
<rect x="738.40" y="665.04" width="163.30" height="3.05" fill="#4daf4a"/>
<rect x="738.40" y="668.04" width="162.32" height="3.05" fill="#4daf4a"/>
<rect x="900.72" y="668.04" width="0.98" height="3.05" fill="#984ea3"/>
<rect x="738.40" y="671.05" width="163.30" height="3.05" fill="#4daf4a"/>
<rect x="738.40" y="674.05" width="163.30" height="3.05" fill="#4daf4a"/>
<rect x="738.40" y="677.05" width="163.30" height="3.05" fill="#4daf4a"/>
<rect x="738.40" y="680.06" width="163.30" height="3.05" fill="#4daf4a"/>
<rect x="738.40" y="683.06" width="160.92" height="3.05" fill="#4daf4a"/>
<rect x="899.32" y="683.06" width="2.38" height="3.05" fill="#ffff33"/>
<rect x="738.40" y="686.07" width="163.30" height="3.05" fill="#4daf4a"/>
<rect x="738.40" y="689.07" width="163.30" height="3.05" fill="#4daf4a"/>
<rect x="738.40" y="692.08" width="163.30" height="3.05" fill="#4daf4a"/>
<rect x="738.40" y="695.08" width="159.80" height="3.05" fill="#4daf4a"/>
<rect x="898.20" y="695.08" width="3.50" height="3.05" fill="#ff7f00"/>
<rect x="738.40" y="698.09" width="163.30" height="3.05" fill="#4daf4a"/>
<rect x="738.40" y="701.09" width="163.30" height="3.05" fill="#4daf4a"/>
<rect x="738.40" y="704.10" width="163.30" height="3.05" fill="#4daf4a"/>
<rect x="738.40" y="710.90" width="163.30" height="2.98" fill="#4daf4a"/>
<rect x="738.40" y="713.83" width="162.18" height="2.98" fill="#4daf4a"/>
<rect x="900.58" y="713.83" width="1.12" height="2.98" fill="#ff7f00"/>
<rect x="738.40" y="716.77" width="163.30" height="2.98" fill="#4daf4a"/>
<rect x="738.40" y="719.70" width="163.30" height="2.98" fill="#4daf4a"/>
<rect x="738.40" y="722.63" width="162.18" height="2.98" fill="#4daf4a"/>
<rect x="900.58" y="722.63" width="1.12" height="2.98" fill="#ff7f00"/>
<rect x="738.40" y="725.57" width="163.30" height="2.98" fill="#4daf4a"/>
<rect x="738.40" y="732.00" width="96.02" height="3.02" fill="#4daf4a"/>
<rect x="834.42" y="732.00" width="8.41" height="3.02" fill="#984ea3"/>
<rect x="842.83" y="732.00" width="6.31" height="3.02" fill="#ffff33"/>
<rect x="849.14" y="732.00" width="52.56" height="3.02" fill="#fb0207"/>
<rect x="738.40" y="734.97" width="82.00" height="3.02" fill="#4daf4a"/>
<rect x="820.40" y="734.97" width="11.21" height="3.02" fill="#984ea3"/>
<rect x="831.61" y="734.97" width="7.01" height="3.02" fill="#ff7f00"/>
<rect x="838.62" y="734.97" width="63.08" height="3.02" fill="#fb0207"/>
<rect x="738.40" y="737.93" width="103.03" height="3.02" fill="#4daf4a"/>
<rect x="841.43" y="737.93" width="7.71" height="3.02" fill="#984ea3"/>
<rect x="849.14" y="737.93" width="10.51" height="3.02" fill="#ffff33"/>
<rect x="859.65" y="737.93" width="42.05" height="3.02" fill="#fb0207"/>
<rect x="738.40" y="740.90" width="91.81" height="3.02" fill="#4daf4a"/>
<rect x="830.21" y="740.90" width="4.21" height="3.02" fill="#984ea3"/>
<rect x="834.42" y="740.90" width="4.21" height="3.02" fill="#a6cee3"/>
<rect x="838.62" y="740.90" width="63.08" height="3.02" fill="#fb0207"/>
<rect x="738.40" y="743.87" width="98.12" height="3.02" fill="#4daf4a"/>
<rect x="836.52" y="743.87" width="7.01" height="3.02" fill="#984ea3"/>
<rect x="843.53" y="743.87" width="7.01" height="3.02" fill="#ffff33"/>
<rect x="850.54" y="743.87" width="3.50" height="3.02" fill="#a6cee3"/>
<rect x="854.04" y="743.87" width="47.66" height="3.02" fill="#fb0207"/>
<rect x="738.40" y="746.83" width="92.51" height="3.02" fill="#4daf4a"/>
<rect x="830.91" y="746.83" width="9.81" height="3.02" fill="#984ea3"/>
<rect x="840.73" y="746.83" width="9.81" height="3.02" fill="#ffff33"/>
<rect x="850.54" y="746.83" width="51.16" height="3.02" fill="#fb0207"/>
<rect x="738.40" y="753.30" width="93.21" height="2.94" fill="#4daf4a"/>
<rect x="831.61" y="753.30" width="5.61" height="2.94" fill="#984ea3"/>
<rect x="837.22" y="753.30" width="7.71" height="2.94" fill="#ffff33"/>
<rect x="844.93" y="753.30" width="3.50" height="2.94" fill="#a6cee3"/>
<rect x="848.43" y="753.30" width="53.27" height="2.94" fill="#fb0207"/>
<rect x="738.40" y="756.19" width="103.73" height="2.94" fill="#4daf4a"/>
<rect x="842.13" y="756.19" width="7.01" height="2.94" fill="#984ea3"/>
<rect x="849.14" y="756.19" width="5.61" height="2.94" fill="#ffff33"/>
<rect x="854.74" y="756.19" width="3.50" height="2.94" fill="#a6cee3"/>
<rect x="858.25" y="756.19" width="43.45" height="2.94" fill="#fb0207"/>
<rect x="738.40" y="759.07" width="92.51" height="2.94" fill="#4daf4a"/>
<rect x="830.91" y="759.07" width="5.61" height="2.94" fill="#984ea3"/>
<rect x="836.52" y="759.07" width="4.21" height="2.94" fill="#ffff33"/>
<rect x="840.73" y="759.07" width="5.61" height="2.94" fill="#a6cee3"/>
<rect x="846.33" y="759.07" width="55.37" height="2.94" fill="#fb0207"/>
<rect x="738.40" y="761.96" width="97.42" height="2.94" fill="#4daf4a"/>
<rect x="835.82" y="761.96" width="7.01" height="2.94" fill="#984ea3"/>
<rect x="842.83" y="761.96" width="4.21" height="2.94" fill="#ffff33"/>
<rect x="847.03" y="761.96" width="2.10" height="2.94" fill="#a6cee3"/>
<rect x="849.14" y="761.96" width="52.56" height="2.94" fill="#fb0207"/>
<rect x="738.40" y="764.84" width="93.21" height="2.94" fill="#4daf4a"/>
<rect x="831.61" y="764.84" width="5.61" height="2.94" fill="#984ea3"/>
<rect x="837.22" y="764.84" width="10.51" height="2.94" fill="#ffff33"/>
<rect x="847.73" y="764.84" width="53.97" height="2.94" fill="#fb0207"/>
<rect x="738.40" y="767.73" width="95.32" height="2.94" fill="#4daf4a"/>
<rect x="833.72" y="767.73" width="8.41" height="2.94" fill="#984ea3"/>
<rect x="842.13" y="767.73" width="7.01" height="2.94" fill="#ffff33"/>
<rect x="849.14" y="767.73" width="52.56" height="2.94" fill="#fb0207"/>
<rect x="738.40" y="770.61" width="96.02" height="2.94" fill="#4daf4a"/>
<rect x="834.42" y="770.61" width="7.71" height="2.94" fill="#984ea3"/>
<rect x="842.13" y="770.61" width="7.71" height="2.94" fill="#ffff33"/>
<rect x="849.84" y="770.61" width="51.86" height="2.94" fill="#fb0207"/>
<rect x="738.40" y="777.00" width="99.52" height="3.06" fill="#4daf4a"/>
<rect x="837.92" y="777.00" width="4.91" height="3.06" fill="#984ea3"/>
<rect x="842.83" y="777.00" width="8.41" height="3.06" fill="#ffff33"/>
<rect x="851.24" y="777.00" width="50.46" height="3.06" fill="#fb0207"/>
<rect x="738.40" y="780.01" width="91.81" height="3.06" fill="#4daf4a"/>
<rect x="830.21" y="780.01" width="7.71" height="3.06" fill="#984ea3"/>
<rect x="837.92" y="780.01" width="4.91" height="3.06" fill="#ffff33"/>
<rect x="842.83" y="780.01" width="3.50" height="3.06" fill="#a6cee3"/>
<rect x="846.33" y="780.01" width="55.37" height="3.06" fill="#fb0207"/>
<rect x="738.40" y="783.02" width="96.02" height="3.06" fill="#4daf4a"/>
<rect x="834.42" y="783.02" width="7.71" height="3.06" fill="#984ea3"/>
<rect x="842.13" y="783.02" width="6.31" height="3.06" fill="#ffff33"/>
<rect x="848.43" y="783.02" width="53.27" height="3.06" fill="#fb0207"/>
<rect x="738.40" y="786.04" width="99.52" height="3.06" fill="#4daf4a"/>
<rect x="837.92" y="786.04" width="8.41" height="3.06" fill="#984ea3"/>
<rect x="846.33" y="786.04" width="7.71" height="3.06" fill="#ffff33"/>
<rect x="854.04" y="786.04" width="47.66" height="3.06" fill="#fb0207"/>
<rect x="738.40" y="789.05" width="96.02" height="3.06" fill="#4daf4a"/>
<rect x="834.42" y="789.05" width="4.21" height="3.06" fill="#984ea3"/>
<rect x="838.62" y="789.05" width="7.71" height="3.06" fill="#ffff33"/>
<rect x="846.33" y="789.05" width="4.91" height="3.06" fill="#a6cee3"/>
<rect x="851.24" y="789.05" width="50.46" height="3.06" fill="#fb0207"/>
<rect x="738.40" y="792.06" width="91.81" height="3.06" fill="#4daf4a"/>
<rect x="830.21" y="792.06" width="7.71" height="3.06" fill="#984ea3"/>
<rect x="837.92" y="792.06" width="8.41" height="3.06" fill="#ffff33"/>
<rect x="846.33" y="792.06" width="55.37" height="3.06" fill="#fb0207"/>
<rect x="738.40" y="795.07" width="110.74" height="3.06" fill="#4daf4a"/>
<rect x="849.14" y="795.07" width="8.41" height="3.06" fill="#ffff33"/>
<rect x="857.55" y="795.07" width="44.15" height="3.06" fill="#fb0207"/>
<rect x="738.40" y="798.08" width="102.33" height="3.06" fill="#4daf4a"/>
<rect x="840.73" y="798.08" width="4.21" height="3.06" fill="#984ea3"/>
<rect x="844.93" y="798.08" width="11.91" height="3.06" fill="#ffff33"/>
<rect x="856.85" y="798.08" width="2.80" height="3.06" fill="#a6cee3"/>
<rect x="859.65" y="798.08" width="42.05" height="3.06" fill="#fb0207"/>
<rect x="738.40" y="801.09" width="98.82" height="3.06" fill="#4daf4a"/>
<rect x="837.22" y="801.09" width="5.61" height="3.06" fill="#984ea3"/>
<rect x="842.83" y="801.09" width="2.10" height="3.06" fill="#ff7f00"/>
<rect x="844.93" y="801.09" width="2.10" height="3.06" fill="#ffff33"/>
<rect x="847.03" y="801.09" width="2.80" height="3.06" fill="#a6cee3"/>
<rect x="849.84" y="801.09" width="51.86" height="3.06" fill="#fb0207"/>
<rect x="738.40" y="804.11" width="100.22" height="3.06" fill="#4daf4a"/>
<rect x="838.62" y="804.11" width="7.01" height="3.06" fill="#984ea3"/>
<rect x="845.63" y="804.11" width="4.91" height="3.06" fill="#ffff33"/>
<rect x="850.54" y="804.11" width="51.16" height="3.06" fill="#fb0207"/>
<rect x="738.40" y="807.12" width="98.82" height="3.06" fill="#4daf4a"/>
<rect x="837.22" y="807.12" width="9.11" height="3.06" fill="#984ea3"/>
<rect x="846.33" y="807.12" width="4.91" height="3.06" fill="#ffff33"/>
<rect x="851.24" y="807.12" width="50.46" height="3.06" fill="#fb0207"/>
<rect x="738.40" y="810.13" width="116.34" height="3.06" fill="#4daf4a"/>
<rect x="854.74" y="810.13" width="6.31" height="3.06" fill="#984ea3"/>
<rect x="861.05" y="810.13" width="4.21" height="3.06" fill="#ff7f00"/>
<rect x="865.26" y="810.13" width="6.31" height="3.06" fill="#ffff33"/>
<rect x="871.56" y="810.13" width="30.14" height="3.06" fill="#fb0207"/>
<rect x="738.40" y="813.14" width="91.81" height="3.06" fill="#4daf4a"/>
<rect x="830.21" y="813.14" width="9.81" height="3.06" fill="#984ea3"/>
<rect x="840.02" y="813.14" width="5.61" height="3.06" fill="#a6cee3"/>
<rect x="845.63" y="813.14" width="56.07" height="3.06" fill="#fb0207"/>
<rect x="738.40" y="816.15" width="96.72" height="3.06" fill="#4daf4a"/>
<rect x="835.12" y="816.15" width="4.91" height="3.06" fill="#984ea3"/>
<rect x="840.02" y="816.15" width="7.71" height="3.06" fill="#ffff33"/>
<rect x="847.73" y="816.15" width="2.80" height="3.06" fill="#a6cee3"/>
<rect x="850.54" y="816.15" width="51.16" height="3.06" fill="#fb0207"/>
<rect x="738.40" y="819.16" width="107.23" height="3.06" fill="#4daf4a"/>
<rect x="845.63" y="819.16" width="12.62" height="3.06" fill="#984ea3"/>
<rect x="858.25" y="819.16" width="6.31" height="3.06" fill="#ffff33"/>
<rect x="864.55" y="819.16" width="37.15" height="3.06" fill="#fb0207"/>
<rect x="738.40" y="822.18" width="107.93" height="3.06" fill="#4daf4a"/>
<rect x="846.33" y="822.18" width="14.02" height="3.06" fill="#984ea3"/>
<rect x="860.35" y="822.18" width="4.91" height="3.06" fill="#ffff33"/>
<rect x="865.26" y="822.18" width="36.44" height="3.06" fill="#fb0207"/>
<rect x="738.40" y="825.19" width="8.41" height="3.06" fill="#00007f"/>
<rect x="746.81" y="825.19" width="116.34" height="3.06" fill="#4daf4a"/>
<rect x="863.15" y="825.19" width="38.55" height="3.06" fill="#fb0207"/>
<rect x="738.40" y="831.70" width="3.08" height="2.99" fill="#4daf4a"/>
<rect x="741.48" y="831.70" width="2.52" height="2.99" fill="#984ea3"/>
<rect x="744.01" y="831.70" width="48.36" height="2.99" fill="#ffff33"/>
<rect x="792.37" y="831.70" width="105.13" height="2.99" fill="#a6cee3"/>
<rect x="897.49" y="831.70" width="4.21" height="2.99" fill="#fb0207"/>
<rect x="738.40" y="834.64" width="2.24" height="2.99" fill="#4daf4a"/>
<rect x="740.64" y="834.64" width="47.52" height="2.99" fill="#ffff33"/>
<rect x="788.16" y="834.64" width="107.93" height="2.99" fill="#a6cee3"/>
<rect x="896.09" y="834.64" width="5.61" height="2.99" fill="#fb0207"/>
<rect x="738.40" y="837.58" width="0.84" height="2.99" fill="#4daf4a"/>
<rect x="739.24" y="837.58" width="56.63" height="2.99" fill="#ffff33"/>
<rect x="795.87" y="837.58" width="101.62" height="2.99" fill="#a6cee3"/>
<rect x="897.49" y="837.58" width="4.21" height="2.99" fill="#fb0207"/>
<rect x="738.40" y="840.52" width="49.76" height="2.99" fill="#ffff33"/>
<rect x="788.16" y="840.52" width="113.54" height="2.99" fill="#a6cee3"/>
<rect x="738.40" y="843.46" width="0.56" height="2.99" fill="#00007f"/>
<rect x="738.96" y="843.46" width="60.41" height="2.99" fill="#ffff33"/>
<rect x="799.37" y="843.46" width="100.22" height="2.99" fill="#a6cee3"/>
<rect x="899.60" y="843.46" width="2.10" height="2.99" fill="#fb0207"/>
<rect x="738.40" y="849.90" width="43.45" height="3.04" fill="#ffff33"/>
<rect x="781.85" y="849.90" width="110.74" height="3.04" fill="#a6cee3"/>
<rect x="892.59" y="849.90" width="9.11" height="3.04" fill="#fb0207"/>
<rect x="738.40" y="852.89" width="4.91" height="3.04" fill="#4daf4a"/>
<rect x="743.31" y="852.89" width="39.25" height="3.04" fill="#ffff33"/>
<rect x="782.55" y="852.89" width="113.54" height="3.04" fill="#a6cee3"/>
<rect x="896.09" y="852.89" width="5.61" height="3.04" fill="#fb0207"/>
<rect x="738.40" y="855.88" width="55.37" height="3.04" fill="#ffff33"/>
<rect x="793.77" y="855.88" width="107.93" height="3.04" fill="#a6cee3"/>
<rect x="738.40" y="858.86" width="4.91" height="3.04" fill="#4daf4a"/>
<rect x="743.31" y="858.86" width="63.78" height="3.04" fill="#ffff33"/>
<rect x="807.08" y="858.86" width="94.62" height="3.04" fill="#a6cee3"/>
<rect x="738.40" y="861.85" width="4.21" height="3.04" fill="#00007f"/>
<rect x="742.61" y="861.85" width="57.47" height="3.04" fill="#ffff33"/>
<rect x="800.08" y="861.85" width="101.62" height="3.04" fill="#a6cee3"/>
<rect x="738.40" y="864.84" width="2.52" height="3.04" fill="#00007f"/>
<rect x="740.92" y="864.84" width="60.55" height="3.04" fill="#ffff33"/>
<rect x="801.48" y="864.84" width="100.22" height="3.04" fill="#a6cee3"/>
<rect x="738.40" y="867.82" width="61.68" height="3.04" fill="#ffff33"/>
<rect x="800.08" y="867.82" width="101.62" height="3.04" fill="#a6cee3"/>
<rect x="738.40" y="870.81" width="69.38" height="3.04" fill="#ffff33"/>
<rect x="807.78" y="870.81" width="93.92" height="3.04" fill="#a6cee3"/>
</g>
<rect x="738.1" y="35.4" width="163.9" height="838.9" fill="none" stroke="#111" stroke-width="1.2"/>
<g font-size="10.8" fill="#151515" stroke="#151515" stroke-width="0.2" text-anchor="end">
<text transform="translate(735,41.9) scale(0.875,1)">AG3</text>
<text transform="translate(735,53.9) scale(0.875,1)">MA1</text>
<text transform="translate(735,66.0) scale(0.875,1)">Yana_UP</text>
<text transform="translate(735,78.3) scale(0.875,1)">Kolyma_M</text>
<text transform="translate(735,90.4) scale(0.875,1)">Eastern_HG</text>
<text transform="translate(735,118.0) scale(0.875,1)">Tarim_EMBA1</text>
<text transform="translate(735,138.6) scale(0.875,1)">Tarim_EMBA2</text>
<text transform="translate(735,153.8) scale(0.875,1)">Botai_CA</text>
<text transform="translate(735,165.5) scale(0.875,1)">West_Siberia_N</text>
<text transform="translate(735,178.2) scale(0.875,1)">East_Mongol_N</text>
<text transform="translate(735,196.0) scale(0.875,1)">North_Mongol_N</text>
<text transform="translate(735,232.4) scale(0.875,1)">Baikal_EN</text>
<text transform="translate(735,256.8) scale(0.875,1)">AR_EN</text>
<text transform="translate(735,271.4) scale(0.875,1)">DevilsGate_N</text>
<text transform="translate(735,293.1) scale(0.875,1)">Yamnaya_Samara</text>
<text transform="translate(735,338.3) scale(0.875,1)">Afanasievo</text>
<text transform="translate(735,374.8) scale(0.875,1)">Dali_EBA</text>
<text transform="translate(735,392.8) scale(0.875,1)">Kazakhstan_EMBA</text>
<text transform="translate(735,408.1) scale(0.875,1)">Dzungaria_EBA1</text>
<text transform="translate(735,419.8) scale(0.875,1)">Dzungaria_EBA2</text>
<text transform="translate(735,431.8) scale(0.875,1)">Chemurchek</text>
<text transform="translate(735,459.4) scale(0.875,1)">Okunevo_EMBA</text>
<text transform="translate(735,507.4) scale(0.875,1)">Baikal_EBA</text>
<text transform="translate(735,540.3) scale(0.875,1)">Karasuk</text>
<text transform="translate(735,583.1) scale(0.875,1)">Khovsgol</text>
<text transform="translate(735,628.4) scale(0.875,1)">Dzungaria_EIA</text>
<text transform="translate(735,679.8) scale(0.875,1)">Anatolia_N</text>
<text transform="translate(735,725.4) scale(0.875,1)">LBK_EN</text>
<text transform="translate(735,746.3) scale(0.875,1)">Bustan_BA</text>
<text transform="translate(735,767.7) scale(0.875,1)">Dzharkutan1_BA</text>
<text transform="translate(735,806.9) scale(0.875,1)">Gonur1_BA</text>
<text transform="translate(735,842.9) scale(0.875,1)">Shandong_EN</text>
<text transform="translate(735,866.9) scale(0.875,1)">YR_MN</text>
</g>
<text transform="translate(671.3,51.4) scale(0.8,1)" font-size="19.3" fill="#111" stroke="#111" stroke-width="0.45">B</text>
<g id="panelC">
<g stroke="#efefef" stroke-width="0.7" stroke-dasharray="1.5 1.5" fill="none">
<line x1="966.5" y1="311.9" x2="1223.8" y2="311.9"/>
<line x1="998.6" y1="372.8" x2="1127.3" y2="129.4"/>
<line x1="998.6" y1="372.8" x2="966.5" y2="311.9"/>
<line x1="998.6" y1="251.1" x2="1191.6" y2="251.1"/>
<line x1="1063.0" y1="372.8" x2="1159.5" y2="190.2"/>
<line x1="1063.0" y1="372.8" x2="998.6" y2="251.1"/>
<line x1="1030.8" y1="190.2" x2="1159.5" y2="190.2"/>
<line x1="1127.3" y1="372.8" x2="1191.6" y2="251.1"/>
<line x1="1127.3" y1="372.8" x2="1030.8" y2="190.2"/>
<line x1="1062.9" y1="129.4" x2="1127.3" y2="129.4"/>
<line x1="1191.7" y1="372.8" x2="1223.8" y2="311.9"/>
<line x1="1191.7" y1="372.8" x2="1062.9" y2="129.4"/>
</g>
<polygon points="1095.1,68.5 934.3,372.8 1256.0,372.8" fill="none" stroke="#0a0a0a" stroke-width="1.7" stroke-linejoin="miter"/>
<g font-size="10.15" fill="#151515" stroke="#151515" stroke-width="0.15" text-anchor="middle">
<text transform="translate(1084.9,63.5) scale(0.92,1)">0.0</text>
<text transform="translate(1105.3,63.5) scale(0.92,1)">1.0</text>
<text transform="translate(1052.5,124.7) scale(0.92,1)">0.2</text>
<text transform="translate(1020.3,186.5) scale(0.92,1)">0.4</text>
<text transform="translate(988.0,247.2) scale(0.92,1)">0.6</text>
<text transform="translate(955.3,308.2) scale(0.92,1)">0.8</text>
<text transform="translate(923.7,369.2) scale(0.92,1)">1.0</text>
<text transform="translate(1137.4,125.0) scale(0.92,1)">0.8</text>
<text transform="translate(1170.0,186.1) scale(0.92,1)">0.6</text>
<text transform="translate(1202.6,246.7) scale(0.92,1)">0.4</text>
<text transform="translate(1234.2,308.3) scale(0.92,1)">0.2</text>
<text transform="translate(1266.4,369.4) scale(0.92,1)">0.0</text>
<text transform="translate(934.4,388.9) scale(0.92,1)">0.0</text>
<text transform="translate(998.4,388.9) scale(0.92,1)">0.2</text>
<text transform="translate(1061.9,388.9) scale(0.92,1)">0.4</text>
<text transform="translate(1127.0,388.9) scale(0.92,1)">0.6</text>
<text transform="translate(1191.2,388.9) scale(0.92,1)">0.8</text>
<text transform="translate(1256.0,388.9) scale(0.92,1)">1.0</text>
</g>
<g font-size="10.3" font-weight="bold" fill="#0a0a0a" stroke="#0a0a0a" stroke-width="0.35" text-anchor="middle">
<text transform="translate(1095.0,413.9) scale(0.92,1)">Devil's Gate</text>
<text transform="translate(983.8,197.5) scale(0.92,1) rotate(-60)">Afontova Gora3</text>
<text transform="translate(1213.2,197.5) scale(0.92,1) rotate(60)">Afanasievo</text>
</g>
<rect x="1083.6" y="130.0" width="7" height="7" fill="#158a88" stroke="#111" stroke-width="1"/>
<rect x="1057.1" y="160.1" width="7" height="7" fill="#158a88" stroke="#111" stroke-width="1"/>
<rect x="1070.7" y="182.1" width="7" height="7" fill="#158a88" stroke="#111" stroke-width="1"/>
<rect x="1070.4" y="207.7" width="7" height="7" fill="#8a33f0" stroke="#111" stroke-width="1"/>
<rect x="1059.2" y="235.9" width="7" height="7" fill="#8a33f0" stroke="#111" stroke-width="1"/>
<circle cx="971.0" cy="372.6" r="4.2" fill="#8c8c14" stroke="#111" stroke-width="1.1"/>
<circle cx="979.3" cy="372.6" r="4.2" fill="#8c8c14" stroke="#111" stroke-width="1.1"/>
<circle cx="993.0" cy="372.6" r="4.2" fill="#8c8c14" stroke="#111" stroke-width="1.1"/>
<circle cx="1000.9" cy="372.6" r="4.2" fill="#8c8c14" stroke="#111" stroke-width="1.1"/>
<circle cx="1010.9" cy="372.6" r="4.2" fill="#8c8c14" stroke="#111" stroke-width="1.1"/>
<circle cx="1015.5" cy="372.6" r="4.2" fill="#8c8c14" stroke="#111" stroke-width="1.1"/>
<circle cx="1019.6" cy="372.6" r="4.2" fill="#8c8c14" stroke="#111" stroke-width="1.1"/>
<circle cx="1027.6" cy="372.6" r="4.2" fill="#8c8c14" stroke="#111" stroke-width="1.1"/>
<circle cx="1005.2" cy="372.6" r="3.6" fill="#ff8c14" stroke="#111" stroke-width="1"/>
<circle cx="945.1" cy="76" r="3.9" fill="#8c8c14" stroke="#111" stroke-width="1"/>
<circle cx="945.1" cy="88.9" r="3.9" fill="#ff8c14" stroke="#111" stroke-width="1"/>
<rect x="941.8" y="98.7" width="6.6" height="6.6" fill="#158a88" stroke="#111" stroke-width="1"/>
<rect x="941.8" y="111.6" width="6.6" height="6.6" fill="#8a33f0" stroke="#111" stroke-width="1"/>
<g font-size="10.2" fill="#151515" stroke="#151515" stroke-width="0.15">
<text transform="translate(955.1,79.6) scale(0.92,1)">Tarim_EMBA1</text>
<text transform="translate(955.1,92.5) scale(0.92,1)">Tarim_EMBA2</text>
<text transform="translate(955.1,105.6) scale(0.92,1)">Dzungaria_EBA1</text>
<text transform="translate(955.1,118.5) scale(0.92,1)">Dzungaria_EBA2</text>
</g>
<text x="925.8" y="53.8" font-size="17.5" fill="#111">C</text>
</g>
<g id="panelD">
<rect x="978.4" y="717.1" width="282.4" height="23.0" fill="#b5e6fa"/>
<g stroke="#9a9a9a" stroke-width="1.4" stroke-dasharray="4.8 3">
<line x1="978.4" x2="1260.8" y1="786.2" y2="786.2"/>
<line x1="978.4" x2="1260.8" y1="740.1" y2="740.1"/>
<line x1="978.4" x2="1260.8" y1="693.9" y2="693.9"/>
<line x1="978.4" x2="1260.8" y1="647.8" y2="647.8"/>
<line x1="978.4" x2="1260.8" y1="601.7" y2="601.7"/>
<line x1="978.4" x2="1260.8" y1="555.6" y2="555.6"/>
<line x1="978.4" x2="1260.8" y1="509.4" y2="509.4"/>
</g>
<rect x="978.4" y="463.5" width="282.4" height="368.7" fill="none" stroke="#0a0a0a" stroke-width="1.9"/>
<g stroke="#111" stroke-width="1.6">
<line x1="971.5" x2="978.4" y1="786.2" y2="786.2"/>
<line x1="971.5" x2="978.4" y1="740.1" y2="740.1"/>
<line x1="971.5" x2="978.4" y1="693.9" y2="693.9"/>
<line x1="971.5" x2="978.4" y1="647.8" y2="647.8"/>
<line x1="971.5" x2="978.4" y1="601.7" y2="601.7"/>
<line x1="971.5" x2="978.4" y1="555.6" y2="555.6"/>
<line x1="971.5" x2="978.4" y1="509.4" y2="509.4"/>
<line x1="1004.2" x2="1004.2" y1="832.2" y2="838.6"/>
<line x1="1055.5" x2="1055.5" y1="832.2" y2="838.6"/>
<line x1="1106.6" x2="1106.6" y1="832.2" y2="838.6"/>
<line x1="1158.2" x2="1158.2" y1="832.2" y2="838.6"/>
<line x1="1209.2" x2="1209.2" y1="832.2" y2="838.6"/>
</g>
<g font-size="9.5" fill="#222" stroke="#222" stroke-width="0.3" text-anchor="end">
<text x="969.8" y="789.5" >2000</text>
<text x="969.8" y="743.4" >3000</text>
<text x="969.8" y="697.2" >4000</text>
<text x="969.8" y="651.1" >5000</text>
<text x="969.8" y="605.0" >6000</text>
<text x="969.8" y="558.9" >7000</text>
<text x="969.8" y="512.7" >8000</text>
</g>
<g font-size="8.8" fill="#222" stroke="#222" stroke-width="0.15"><text transform="translate(938.0,648.7) scale(1.0,1) rotate(-90)" text-anchor="middle">Years BC</text></g>
<g font-size="8.4" fill="#222" stroke="#222" stroke-width="0.12"><text transform="translate(1119.3,876.8) scale(1.13,1)" text-anchor="middle">Populations</text></g>
<g font-size="8.15" fill="#151515" stroke="#151515" stroke-width="0.25" font-style="italic">
<text transform="translate(1002.0,847.9) scale(1.13,1) rotate(13.6)">Dzungaria<tspan font-size="4.6">_</tspan>EBA1</text>
<text transform="translate(1053.3,847.9) scale(1.13,1) rotate(13.6)">Chemurchek</text>
<text transform="translate(1104.4,847.9) scale(1.13,1) rotate(13.6)">Kazahstan<tspan font-size="4.6">_</tspan>EMBA</text>
<text transform="translate(1156.0,847.9) scale(1.13,1) rotate(13.6)">Dali<tspan font-size="4.6">_</tspan>EBA</text>
<text transform="translate(1207.0,847.9) scale(1.13,1) rotate(13.6)">Tarim<tspan font-size="4.6">_</tspan>EMBA1</text>
</g>
<line x1="1004.2" x2="1004.2" y1="740.5" y2="748.0" stroke="#111" stroke-width="2"/><ellipse cx="1004.2" cy="744.1" rx="4.6" ry="4.1" fill="#ff8c14" stroke="#111" stroke-width="1.4"/>
<line x1="1055.5" x2="1055.5" y1="759.5" y2="766.0" stroke="#111" stroke-width="2"/><ellipse cx="1055.5" cy="762.5" rx="4.6" ry="4.1" fill="#ff8c14" stroke="#111" stroke-width="1.4"/>
<line x1="1106.6" x2="1106.6" y1="724.5" y2="784.6" stroke="#111" stroke-width="2"/><ellipse cx="1106.6" cy="754.5" rx="4.6" ry="4.1" fill="#ff8c14" stroke="#111" stroke-width="1.4"/>
<line x1="1158.2" x2="1158.2" y1="747.7" y2="763.3" stroke="#111" stroke-width="2"/><ellipse cx="1158.2" cy="755.4" rx="4.6" ry="4.1" fill="#ff8c14" stroke="#111" stroke-width="1.4"/>
<line x1="1209.2" x2="1209.2" y1="780.3" y2="798.2" stroke="#111" stroke-width="2"/><ellipse cx="1209.2" cy="789.1" rx="4.6" ry="4.1" fill="#ff8c14" stroke="#111" stroke-width="1.4"/>
<g stroke="#e8392b" stroke-width="1.9" fill="none"><line x1="1004.2" x2="1004.2" y1="711.7" y2="723.1"/><line x1="1001.5" x2="1006.9" y1="711.7" y2="711.7"/><line x1="1001.5" x2="1006.9" y1="723.1" y2="723.1"/></g><circle cx="1004.2" cy="717.4" r="4.2" fill="#e8392b"/>
<g stroke="#e8392b" stroke-width="1.9" fill="none"><line x1="1055.5" x2="1055.5" y1="736.4" y2="750.0"/><line x1="1052.8" x2="1058.2" y1="736.4" y2="736.4"/><line x1="1052.8" x2="1058.2" y1="750.0" y2="750.0"/></g><circle cx="1055.5" cy="742.9" r="4.2" fill="#e8392b"/>
<g stroke="#1639e6" stroke-width="1.9" fill="none"><line x1="1106.6" x2="1106.6" y1="690.5" y2="718.0"/><line x1="1103.9" x2="1109.3" y1="690.5" y2="690.5"/><line x1="1103.9" x2="1109.3" y1="718.0" y2="718.0"/></g><circle cx="1106.6" cy="704.4" r="4.5" fill="#1639e6"/>
<g stroke="#b66fc6" stroke-width="1.9" fill="none"><line x1="1158.2" x2="1158.2" y1="694.4" y2="724.5"/><line x1="1155.5" x2="1160.9" y1="694.4" y2="694.4"/><line x1="1155.5" x2="1160.9" y1="724.5" y2="724.5"/></g><circle cx="1158.2" cy="709.7" r="4.9" fill="#b66fc6"/>
<g stroke="#4596c8" stroke-width="1.9" fill="none"><line x1="1209.2" x2="1209.2" y1="497.2" y2="589.3"/><line x1="1206.5" x2="1211.9" y1="497.2" y2="497.2"/><line x1="1206.5" x2="1211.9" y1="589.3" y2="589.3"/></g><circle cx="1209.2" cy="543.4" r="4.1" fill="#4596c8"/>
<g font-size="9.65" fill="#1a1a1a" stroke="#1a1a1a" stroke-width="0.2" text-anchor="middle">
<text transform="translate(1167.8,546.8) scale(1.13,1)">(183.87 ± 34.3)</text>
<text transform="translate(1014.9,706.9) scale(1.13,1)">(19.65 ± 4.07)</text>
<text transform="translate(1052.8,733.0) scale(1.13,1)">(14.64 ± 5.36)</text>
<text transform="translate(1108.9,685.1) scale(1.13,1)">(37.67 ± 10.24)</text>
<text transform="translate(1199.3,712.9) scale(1.13,1)">(34 ± 11.18)</text>
</g>
<ellipse cx="990" cy="473.4" rx="4.9" ry="4.3" fill="#e8392b"/>
<ellipse cx="990" cy="487.0" rx="4.9" ry="4.3" fill="#b66fc6"/>
<ellipse cx="990" cy="500.3" rx="4.9" ry="4.3" fill="#4596c8"/>
<ellipse cx="990" cy="514.2" rx="4.9" ry="4.3" fill="#1639e6"/>
<ellipse cx="990" cy="528.4" rx="4.6" ry="3.9" fill="#ff8c14" stroke="#111" stroke-width="1.2"/>
<g font-size="8.95" fill="#151515" stroke="#151515" stroke-width="0.2">
<text transform="translate(1002.2,476.6) scale(1.13,1)">Afanasievo + Baikal<tspan font-size="4.7">_</tspan>EBA</text>
<text transform="translate(1002.2,490.2) scale(1.13,1)">Tarim<tspan font-size="4.7">_</tspan>EMBA1 + Baikal<tspan font-size="4.7">_</tspan>EBA</text>
<text transform="translate(1002.2,503.5) scale(1.13,1)">West<tspan font-size="4.7">_</tspan>Siberia<tspan font-size="4.7">_</tspan>N + DevilsGate<tspan font-size="4.7">_</tspan>N</text>
<text transform="translate(1002.2,517.4) scale(1.13,1)">Afanasievo + Baikal<tspan font-size="4.7">_</tspan>EN</text>
<text transform="translate(1002.2,531.6) scale(1.13,1)">Average Sample Dates</text>
</g>
<text x="926.8" y="453.3" font-size="17.5" fill="#111">D</text>
</g>
</svg>
</body></html>
